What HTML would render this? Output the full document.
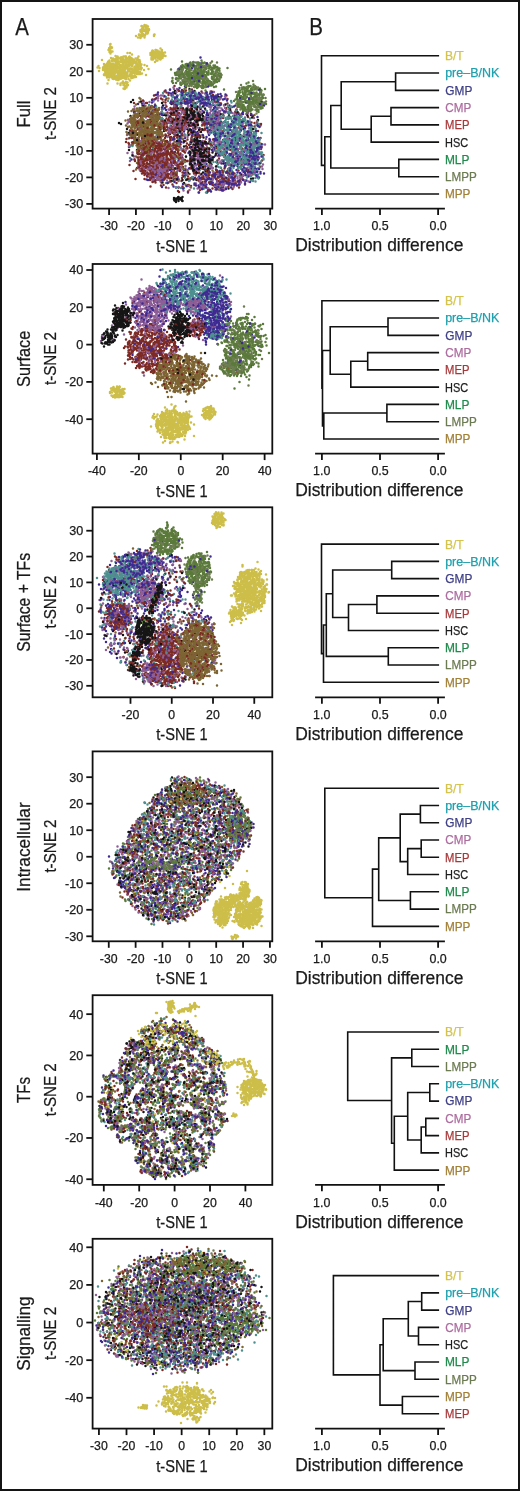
<!DOCTYPE html><html><head><meta charset="utf-8"><style>html,body{margin:0;padding:0;background:#fff;overflow:hidden;}svg{display:block;will-change:transform;}text{font-family:"Liberation Sans", sans-serif;}</style></head><body>
<svg width="520" height="1491" viewBox="0 0 520 1491">
<rect x="0" y="0" width="520" height="1491" fill="#fff"/>
<g fill="none" stroke-linecap="round" stroke-width="5.0" transform="scale(.5)">
<path stroke="#cdbe4a" d="M361 1580zm-13 21zm111 18zm-132-7zm50 71zm-62 10zm44 23zm-31 10zm58 6zm73 20zm-27 3zm-61 12zm-84 18zm71 12zm-9-4zm11 21zm3 264zm-79 21zm-14 10zm91 10zm-15-3zm-25-2zm-16 3zm14 10zm38 9zm-103 9zm109 3zm10 7zm-111 2zm147 9zm6-1zm-87 10zm-6 4zm-98-4zm-10 11zm168 1zm-32 12zm-46-4zm-64 6zm131 4zm39 10zm0 20zm-104 8zm78-1zm-8 38zm7 18zm-6-6zm-26 2zm38 18zm-36 9zm-1 15zm-70-2zm5 187zm117 19zm-52 18zm-65-2zm153 40zm-186-4zm200 11zm-188 23zm52 3zm57-3zm-160 13zm261 15zm-247 4zm86 28zm4 42zm83-8z"/>
<path stroke="#7d6433" d="M413 186zm-85 7zm-49 11zm48 0zm104 15zm-107 0zm-7-2zm-26-5zm-28 10zm84 6zm130-2zm-187 22zm81-6zm56 12zm-36-2zm-18 6zm-112 4zm96-1zm146 1zm-138 16zm-61-4zm-38 2zm56 12zm36-5zm61 0zm32-2zm-44 14zm-47-1zm-43 4zm-38 1zm161 6zm-16 10zm-1 2zm-82-4zm-63 14zm118-6zm26 2zm60-2zm33 16zm-122 2zm-85-7zm90 14zm63-3zm2 1zm41 1zm1 4zm-19 3zm-48 3zm-108-4zm107 28zm-3-4zm-45-5zm-123 727zm37 3zm8 15zm14 18zm-45 3zm-28-6zm-25 6zm102 6zm16 5zm-42 12zm-8 17zm-77 18zm84 6zm-59 19zm-19 10zm113 18zm75-7zm-66 13zm-107 0zm59 16zm108 0zm-32 1zm-124 7zm96 10zm-3 6zm-14 16zm20-3zm31 10zm-52-6zm8 13zm63 9zm-39 2zm-32-4zm16 17zm10 2zm4 10zm-44-4zm32 7zm49 197zm-53 2zm77 10zm-8 6zm-78 12zm0-8zm5 0zm31 3zm34-3zm24 3zm14 2zm35 12zm-18-2zm-56-4zm-26 5zm-8-1zm-79 9zm10 1zm14 2zm77 0zm1-2zm71 3zm-4 9zm-93 0zm-25-2zm-39 2zm-6 4zm7-2zm5 6zm15-4zm16 6zm103-5zm15 0zm1 0zm17-2zm22 17zm-22 0zm-8-4zm0 0zm-5 1zm-3 4zm-89-7zm-12 2zm-73 4zm-11 11zm76-5zm4-1zm3 0zm1 2zm41-3zm71-2zm-24 19zm-103-2zm-15 1zm-22 0zm-29-2zm6 6zm122 5zm86-2zm-30 8zm-22-3zm-3 4zm-11-1zm-54 3zm-13-6zm-57 7zm-18-4zm-18 0zm2 8zm98 7zm36-3zm84-3zm-27 8zm-65 0zm-20 5zm-52-1zm-12 2zm-4 13zm13-4zm24 4zm0-9zm26 0zm22 0zm18 0zm7 7zm9 2zm16 6zm-73 3zm-77 0zm-4-7zm-5 2zm-12 1zm-17 4zm-19 11zm18-5zm56 5zm17 0zm34-4zm61 0zm19 5zm-38 7zm-55-1zm-61 3zm-40-9zm-19 15zm103-2zm51-3zm59 8zm12-1zm0-4zm3 6zm-19 7zm-2 2zm-24-1zm-42-4zm-99-1zm-8 4zm-2 2zm22 11zm46-5zm0-2zm13 2zm38 0zm4-2zm12 7zm30-5zm3-4zm-5 16zm-15-3zm-13 0zm-8 4zm-44-1zm-39-5zm-13 7zm-15-7zm-21 3zm-11 11zm18-2zm10 5zm25-6zm34 3zm23 0zm4-5zm53 8zm-72 11zm-10-5zm-59 5zm-25-6zm100 13zm3-3zm39 1zm19 1zm-20 7zm-23 7zm-32-2zm-11 4zm12 6zm35-2zm5 11zm-48-3zm-4 7zm17 2zm18-2zm-39 209zm49 6zm-18 2zm-22 5zm3 1zm39 5zm13-6zm23 16zm-5 0zm-24-8zm-44 0zm-33 19zm72-9zm3 8zm32-3zm-19 6zm-11 0zm-115 7zm-2 1zm1 9zm52-2zm5-2zm9 1zm30-5zm23 9zm50 1zm-45 3zm-13 0zm-63 5zm-13-1zm-13-4zm-21-2zm53 15zm15-4zm4 6zm34 1zm1 0zm33-1zm0-7zm9 17zm-7 0zm-28 0zm-48-7zm-6 1zm-63-1zm75 12zm8 1zm76 0zm19 8zm-30 3zm-51-1zm-14 4zm-10 1zm-7 0zm-42 0zm-40-7zm15 14zm38-3zm15 3zm0-4zm12 3zm22 3zm43-5zm3-3zm30 7zm8-6zm27 3zm-58 14zm-9-4zm-36-4zm-4 7zm-23-3zm-11 4zm-50-6zm-9-2zm-19 13zm51 0zm45-2zm1-1zm15 5zm62-5zm48 1zm-68 11zm-35 3zm-3-4zm0 1zm-16 2zm-24-3zm-89 7zm-12 1zm13 2zm1 0zm123 5zm34-2zm40 3zm0-4zm28 1zm-54 9zm-2 1zm-61 5zm-18-1zm-14-4zm-16 4zm-50 1zm-30 2zm20 2zm78 2zm30-4zm31 6zm47-3zm31 0zm4 6zm0 4zm-56-4zm-10 3zm-14-1zm-13 5zm-104 0zm-3 0zm-15-5zm-7 9zm71 4zm2-5zm57 1zm0 6zm9 1zm9 0zm23-6zm16 3zm3 3zm37 2zm-150 6zm-10 2zm-3-3zm-15 1zm0 2zm-17-7zm24 11zm85 3zm81-4zm-74 14zm-13 3zm-45-2zm-7-2zm-33 2zm38 4zm4 0zm4 7zm16 1zm34 0zm15-3zm11-3zm-7 13zm-15-1zm-46 13zm35-2zm23 1zm19-4zm-25 13zm-9 3zm-20 0zm-3-3zm-4-2zm-15-2zm-34 0zm-9-1zm8 18zm7-5zm8 0zm27 0zm20 2zm2-1zm16 4zm19-6zm2 8zm-8 5zm-24 4zm-43-8zm-15 17zm12-6zm44 0zm62 156zm-6 19zm-24-2zm-22-3zm-16 5zm-57 4zm18-1zm83 6zm7-4zm53 3zm-8 6zm-87 0zm-1 4zm-33-2zm-3 6zm-80 6zm9-3zm5 5zm21-1zm15-2zm9 3zm41-6zm14 0zm22 7zm9-2zm12 0zm7-5zm6 4zm42 0zm27 3zm9 0zm-39 10zm-143 0zm-10-2zm-57 11zm7-5zm69 4zm16 0zm17 3zm5-5zm23 1zm43 4zm1-9zm43 3zm0 4zm43-4zm-52 14zm-36-7zm-4 0zm-17 2zm-33 7zm-27-6zm-26-1zm-1 7zm-20-7zm-8 6zm-64 11zm69-5zm15-3zm7 3zm5 5zm53-5zm19 2zm101 13zm-1-2zm-10 1zm-33-7zm-16 5zm-4-5zm-44 8zm-21-6zm-6-1zm-35 4zm-8-2zm-32 5zm-15-4zm-1-5zm-4 7zm-40 3zm22 7zm30-2zm9 3zm44-1zm1-6zm23 0zm59 2zm15-2zm27 4zm18-4zm18 7zm25-5zm7 8zm-74 2zm-40 5zm-4-7zm-10 1zm-14-1zm-24 4zm-20-2zm-9-2zm-29 0zm-11 8zm-32-6zm-23 13zm2 0zm37 3zm28-9zm52 2zm5 5zm26-3zm3 0zm30 3zm2 2zm15-5zm9 3zm60-6zm24 11zm-53 5zm-20-3zm-21 0zm-4-2zm-8-1zm-10 8zm-15-4zm-45-2zm-2-2zm-3 3zm-16 3zm-3 1zm-11 0zm-19 1zm-20-1zm-22-3zm-1-4zm0 4zm-33 9zm28 0zm19 5zm23-3zm56 1zm0 2zm7-7zm6-1zm11 7zm75-8zm31 8zm11 1zm7-7zm13 0zm12 13zm-19-3zm-33 7zm-25-6zm-3-1zm-16-2zm-18 6zm-8-5zm-15 0zm-36 7zm-47-2zm-1-5zm-6 5zm-79 4zm34 3zm15 1zm9-2zm56 5zm14-7zm7 5zm3 2zm26-3zm26-2zm10 3zm2 3zm73 7zm-50-5zm-26 2zm-23-2zm-12 2zm-11 1zm-32 6zm-24-2zm-1-5zm-32-2zm-51 5zm-2-5zm41 17zm3-6zm20 5zm37-5zm25 6zm1-2zm36-1zm1 0zm22-3zm9 0zm36 8zm16 0zm11-9zm-32 15zm-11-1zm-14 1zm-5 1zm-11-5zm-51 2zm-2 4zm-63-2zm-11-2zm-27-2zm-18 8zm74 1zm56 1zm42 1zm7 6zm14-7zm13 7zm-23 2zm-81 5zm-4 0zm-95-3zm62 17zm78-6zm-42 7z"/>
<path stroke="#5a7a3a" d="M346 1566zm4-2zm45 2zm18-1zm-41 10zm-4 4zm-13 8zm33-2zm7-1zm2 2zm62 3zm0 2zm-5 5zm-2-5zm-17 2zm-6 0zm0 4zm-21-7zm-15 2zm-20 3zm-9 2zm-50 2zm18 8zm12 2zm24-1zm48-3zm3 5zm-72 3zm-15-1zm-18-2zm22 19zm3-2zm19-6zm40-1zm21 0zm9 5zm51 6zm-3 3zm-8 2zm-17-4zm-24 7zm-52-6zm-35-3zm-21 5zm-27 3zm-1-3zm-7 2zm80 11zm14 0zm22-6zm91 5zm-34 4zm-10 2zm-16 6zm-106-2zm-6-4zm-16 1zm-44 15zm24-9zm19 6zm29 0zm125-6zm38 7zm2-2zm1-2zm3-1zm-1 17zm-86-3zm-19-1zm-4-4zm-28 0zm-8 6zm-42-1zm-26-1zm-1 1zm-3-6zm-8 1zm-1 8zm4 7zm17-3zm7 6zm0-4zm13 3zm13-4zm15 2zm7 0zm39 1zm61 1zm32-6zm-30 15zm-179 2zm-7-2zm19 6zm97 6zm24-5zm19 4zm22-4zm7-2zm12 12zm-15 1zm-16 1zm-23 2zm-3-2zm-38-3zm-13 4zm-46-3zm-88 10zm23 4zm38-8zm36 6zm3-6zm5 4zm31 0zm4 4zm18-1zm5-2zm28-1zm12 10zm-8-4zm-24 9zm-31-2zm-47-7zm-3 5zm-5 0zm-9-1zm-18 4zm-26-2zm-16 2zm-12 5zm24 0zm13 6zm1 0zm7-8zm19 1zm56-2zm0 5zm55-3zm27 6zm33-8zm-54 17zm-101-5zm-9 3zm-4 0zm-6 1zm34 10zm27 2zm18-6zm59 7zm4-9zm-32 17zm-7 0zm-22 1zm-12 0zm-31-2zm-12 3zm-18-2zm-44 2zm119 6zm2-1zm44 0zm3-4zm-14 12zm-73 5zm-2-3zm-1-4zm-65 2zm-14 10zm33 3zm90 0zm12 2zm21-7zm-83 11zm-6 5zm-12 1zm-30-3zm24 8zm53 4zm15-3zm-12 13zm-53 12zm33-5zm-27 204zm10-4zm22 13zm-14-2zm-28 0zm-17 10zm8-1zm28 0zm13 0zm5 3zm9 3zm0-9zm8 3zm4 1zm7 1zm1 0zm15-5zm8 12zm-82 5zm-8 1zm-6-4zm-14 9zm2 5zm14-2zm1 2zm2-2zm37-6zm31 0zm1 3zm41 9zm-58 2zm-17 4zm-24-5zm-34 4zm-4-5zm-7 2zm-11 10zm13-2zm22 4zm11 2zm6-8zm24 3zm11 2zm68 0zm11-4zm20 16zm-3-3zm-71 3zm-48-2zm-13 3zm-6 0zm-8-3zm-48 14zm10-6zm8 4zm8 1zm31-5zm30 3zm2-4zm0 1zm51-1zm60-1zm3 5zm-21 6zm-20 7zm-42-3zm-39 1zm-4 0zm-7-2zm-16 2zm-5 2zm-21-9zm-14 8zm-1 1zm-1 0zm-11 5zm3-1zm15-2zm10 8zm15 0zm31-1zm8-7zm2 7zm5-1zm57-1zm45 3zm12-1zm-18 5zm-36 4zm-4 2zm-16-5zm0 2zm-24 3zm-14-4zm-7 1zm0-2zm-52 0zm-5-2zm-8 4zm-4-5zm-7-1zm-11 4zm-18 1zm-3-3zm-9 6zm-2-4zm26 12zm23-2zm7 1zm28 1zm10-3zm35-2zm23 7zm10 1zm0 0zm5-8zm13 2zm10-1zm10 2zm27-3zm1 3zm8 13zm-7-4zm-13 6zm-18-6zm-1 2zm-11 0zm-16 3zm-9-3zm-23 3zm-19-3zm-6 3zm-20-7zm-4 0zm-42 2zm-31 11zm27-3zm8 2zm30 3zm3 1zm12-3zm19 0zm3 5zm17 0zm74 0zm11-3zm1 3zm-33 7zm-56 2zm-48-5zm-20 2zm-17 1zm-6-3zm-41 4zm-4 10zm8-4zm93 2zm2 4zm1-4zm33 0zm1-1zm14 5zm32-9zm2 8zm1 1zm4-5zm7-2zm2 6zm14-2zm6-6zm21 8zm-14 11zm-15-2zm-88 1zm-3-4zm-13-3zm-69 1zm-25 7zm0 2zm7 5zm39-3zm2 3zm35 2zm41-2zm14 2zm3-3zm1-3zm13 4zm30 1zm4 0zm2 2zm33-3zm-20 8zm-9 1zm-19 0zm-53 4zm-45-3zm-14 1zm-29-1zm-11-2zm-2 1zm-3 2zm-13-3zm-24-1zm16 7zm7 2zm5-2zm2 3zm34 5zm8-1zm2-5zm16 3zm22-5zm5 3zm10 4zm0-5zm8 3zm2 4zm11-5zm0 0zm12 5zm13-9zm33 7zm3-3zm36 9zm-4-3zm-30 8zm-41-1zm-17-7zm-9 0zm-1 0zm-10 5zm0-4zm-28 3zm-14-1zm-1 6zm-26-7zm-1 4zm-19 3zm-4-4zm-12-3zm-3 2zm16 10zm23 4zm10-8zm67 7zm13-4zm6 1zm15 4zm34-4zm2-3zm21 1zm-58 17zm-20-9zm-5 7zm-4-2zm-42 4zm-24-4zm-6-3zm-17 5zm-11 0zm2 3zm37 8zm5-3zm37-5zm2 3zm2 2zm13-5zm6 1zm24 2zm10 6zm45 0zm-25 10zm-11-1zm-7 0zm-3-6zm-4-2zm-64 1zm-31 5zm-7-6zm-3 1zm25 12zm2 0zm50-3zm0 4zm24 3zm9-5zm1 3zm22-3zm10 6zm-10 10zm-11 0zm-13-2zm-33 0zm-10-5zm-36 7zm-1-2zm-3 8zm47 3zm12-6zm14-1zm1 0zm6 2zm16-2zm18 6zm-20 9zm-2 3zm-6-3zm-34 2zm-13-2zm-53 0zm14 5zm6 4zm11-2zm3 1zm41 5zm-27 10zm123 161zm-43-1zm-9-5zm-67 5zm-38-1zm-29 11zm18 1zm0-5zm12 3zm11-3zm94 2zm18-1zm0-5zm1 4zm32-3zm23 8zm5-3zm-8 9zm-57 2zm-23-2zm-13 1zm-4 2zm-4-6zm-51 6zm15 11zm5 0zm4-8zm25 7zm2-7zm2 8zm30-1zm4-4zm3 3zm35 1zm19-5zm23 6zm10 8zm-28-3zm-4 4zm-3-6zm-13 4zm-16 3zm-8-4zm-22-4zm-1 0zm-10 2zm-7 3zm-18-3zm-14 2zm-4 0zm-15-1zm-25 3zm-31-6zm-13 0zm-11 1zm-9 0zm-1 1zm-28 7zm12 2zm112 7zm8-5zm0-4zm24 0zm6 9zm7 0zm17-7zm15 7zm2 0zm0-8zm31 6zm29 4zm-24 2zm-21 4zm-12-2zm-12 4zm-60-9zm-1 5zm-1 3zm-2-7zm-15 8zm-13-7zm-18 0zm-4 6zm-3-3zm-31 3zm-42-6zm18 9zm13 8zm11-7zm2 2zm23 3zm5-6zm20 4zm40 2zm10-2zm10-1zm13 1zm5-3zm10-1zm9 7zm13 1zm75-6zm-27 8zm-55 7zm-9-6zm-12 2zm-1 3zm-12-7zm-2 3zm-29 2zm-3-4zm-6 5zm-11-3zm-10 2zm-14 4zm-78-5zm-19 12zm9 3zm26-5zm22-3zm3-1zm20 3zm18 2zm2 0zm13 4zm27-7zm19 3zm46 3zm14-6zm1 3zm12 0zm3 2zm1-2zm10 1zm53 13zm-57-9zm-42 8zm-1-6zm-2 4zm-25 2zm0-8zm-3 1zm-29-1zm-1 4zm-8-3zm-9 5zm-34-1zm-32 1zm-2 2zm-3-8zm-15 0zm-28 4zm-26 12zm15-2zm6-2zm11-2zm2 3zm24 4zm12-1zm28 0zm29-2zm19 0zm12-1zm1-3zm1 8zm2 1zm8-9zm39 4zm12-3zm73 4zm5-5zm7 9zm2-9zm5 6zm7 3zm-68 2zm-4 1zm-2 7zm-11-5zm-9-1zm-25-3zm-1 4zm-7 2zm-1-2zm-8-4zm-22 0zm-33 5zm-3-2zm-7 4zm-4-5zm-1-2zm-47 0zm-49 18zm33-1zm4-4zm0 5zm28-1zm18 0zm36-3zm12 2zm10-2zm1-2zm11 2zm1-2zm35 4zm18-3zm5-1zm16 3zm1-1zm75-1zm-35 16zm-25-2zm0-6zm-25 6zm-27-6zm-15 5zm-37-4zm-6 5zm-15-6zm-21-1zm0 3zm-2 4zm-28-4zm-11 6zm-16-8zm-2 7zm-27-4zm-24-2zm-5 8zm58 4zm46 4zm1-2zm50 0zm5-5zm7 2zm15-3zm5 8zm19-3zm5-5zm18 6zm19 3zm4-8zm18 2zm2-1zm8 3zm5 2zm16-3zm36-4zm-75 14zm-19 2zm-21 1zm-7-6zm-72 5zm-33-5zm-8 0zm-8 5zm-21-1zm-4 3zm-10 0zm-6 0zm-2-1zm-12-5zm-1 1zm-15-1zm13 16zm87-5zm20 6zm1-2zm30-1zm28-1zm4 2zm20 1zm30-1zm1-2zm23 11zm-2 2zm-16-6zm-2-2zm-15 1zm-37-1zm-27 7zm-38-2zm-33 4zm0-3zm-29 1zm-28 11zm22-7zm5 6zm3-5zm7 1zm3-3zm54 7zm8-7zm1 9zm58 0zm48-7zm4-2zm3 1zm-78 13zm-36 4zm-15-3zm-24 2zm-21-1zm-38 2zm45 4zm10-1zm19 5zm2 1zm3-1zm19-4zm68 1zm-35 14z"/>
<path stroke="#6e7c52" d="M399 1574zm8 14zm-23 20zm72-5zm-146 23zm181 12zm-28-5zm-22 13zm12 4zm-14 0zm-55 17zm6-2zm39 2zm40 6zm-5 1zm-205 4zm47 5zm46-1zm46 15zm-2 0zm-35 2zm-88-3zm-1 7zm71 4zm10-4zm-51 19zm110 6zm-149 2zm-21 1zm106 27zm-51-6zm-39 1zm44 15zm104-7zm10 1zm11 16zm-15-5zm-14 10zm-115 21zm114 7zm-107 0zm85 10zm-46 216zm-25 7zm2 17zm1 5zm59 3zm-59 3zm-25 14zm8-5zm9 4zm1 1zm71-6zm25 5zm10-1zm-131 6zm-2 18zm5 1zm133-1zm15-3zm-125 11zm-21-4zm-6-1zm-28 13zm99-2zm66 1zm26 14zm-171-4zm11 13zm8 0zm45-2zm66 2zm-69 13zm-21-1zm-5-3zm-3-5zm-51 5zm-8-2zm95 14zm13 2zm35-6zm18 1zm22-2zm2 3zm9 12zm-9-1zm-9 3zm-65-9zm-136 3zm37 11zm49-1zm38 5zm88-1zm19-4zm-60 9zm-24 1zm-12-2zm-63 6zm-12-5zm-70 12zm137 0zm10-4zm44 2zm-8 11zm-144 6zm-23 6zm42-1zm156 5zm-2 6zm-209 3zm-9-6zm79 12zm58 5zm48-1zm45 1zm-59 2zm-30 2zm-36 3zm4 13zm42-8zm50 13zm-111-3zm3 11zm129 12zm-53-3zm-14 7zm-22 8zm-33 5zm-15 6zm13 11zm92 10zm-35-1zm-48-1zm28 171zm53 0zm41-6zm-53 23zm43 1zm-1 11zm-154-3zm112 10zm105 4zm-232 11zm235 20zm-187-7zm132 17zm38 2zm-4 1zm-57 0zm-3 0zm-52 3zm-98-2zm18 15zm206-6zm-275 25zm29 1zm59 2zm20-7zm30 4zm9 2zm138-6zm-53 13zm-124-5zm-79 11zm26 7zm99-1zm62 11zm-28-1zm-1 0zm-167 2zm157 8zm-62 10zm-88 3zm96 6zm76 1zm39-1zm20 9zm-40-3zm-52 3zm25 11zm-36 13zm-34-9zm-11 16zm79-6z"/>
<path stroke="#7e2a24" d="M384 179zm-69 10zm18-4zm18 2zm16-5zm59 2zm27 7zm-14 8zm-69-1zm-1-5zm-36 4zm-11 0zm-17 2zm-37 7zm24 0zm52-1zm63-5zm1 4zm31 2zm3 3zm13-2zm-3 9zm-103-4zm0-2zm-2 6zm-48 1zm-4 11zm32 0zm42-1zm93-2zm11 2zm13 12zm-26-5zm-14 2zm-9 3zm-6-2zm-44-7zm-16 1zm-46 7zm-20-7zm-14 0zm-23 1zm16 13zm56-1zm33-4zm21 1zm17 1zm22 5zm24 2zm22-1zm42 3zm-12 2zm-17-2zm-4 2zm-46 2zm-29-5zm-30 1zm-29 0zm-12 1zm-3 5zm-17-7zm-42 5zm-20 14zm17 0zm4-1zm15-4zm1-3zm23 0zm20 2zm75-2zm8 1zm6 4zm76 6zm-25 4zm-8-3zm-142 3zm-14-1zm-26-2zm-22 4zm-15 1zm4 8zm1 2zm22-1zm81 2zm1-5zm6-2zm3 0zm14-2zm8 3zm13 5zm3-5zm20 0zm20-2zm26 7zm39-1zm1-4zm7 15zm-38-1zm-44-5zm-66 2zm-7 5zm-17-8zm-54 0zm-13 17zm14-4zm12-4zm9 8zm2-7zm20 7zm4-5zm26 2zm48 2zm10-7zm21 8zm16-3zm7 3zm35-8zm6 5zm3-5zm-71 10zm-7 7zm-20 0zm-7-6zm0 2zm-30 4zm-95-6zm44 18zm17-6zm33 3zm16 2zm49-7zm9 6zm8 2zm12-9zm2 0zm28 8zm10 0zm7-2zm-38 4zm-24 6zm-38 1zm-80 1zm-1-7zm-31 11zm56 3zm2 0zm4 0zm19-1zm6 2zm2-1zm15 3zm19-2zm37 1zm8-6zm16 1zm-11 9zm-38 0zm-19 4zm-13 4zm-3 0zm-25-4zm-15-3zm-22 0zm-13-2zm-26 3zm29 12zm10-4zm16 1zm27 7zm49-7zm0 5zm14-4zm37 6zm-82 3zm-119 213zm-1 18zm33 11zm-17 2zm18 42zm-5 1zm-20-3zm-2 1zm-3 0zm-31 11zm14-1zm2-3zm6 0zm0 3zm2-7zm0 1zm3-1zm10 3zm1 2zm10 4zm2-7zm7 6zm0-7zm2 0zm1 6zm1 1zm1 1zm4-2zm2-7zm15 15zm-1-3zm-5 3zm-5-1zm0-1zm-5 0zm0 5zm-7-7zm-2 3zm-3 2zm-11 2zm-7-5zm-2-2zm0-1zm-5 8zm0 0zm-5-1zm-1 0zm-1 1zm-6 0zm-9-4zm-17 5zm6 7zm7 0zm1 0zm17-6zm1 3zm11 6zm1 0zm1-4zm2 3zm2-4zm9 5zm0-5zm0 4zm4-1zm4-4zm2 1zm1-1zm0 1zm5-3zm2 6zm0-1zm1-4zm1 2zm5 5zm2-7zm13 3zm0 2zm3 11zm-1-3zm-2 3zm-2-7zm-15 1zm-11 3zm-5-2zm-21 5zm-1 1zm-1-9zm-3 2zm-1 2zm-3-3zm0 6zm-20-5zm0 4zm-10 5zm2 5zm6 0zm9-5zm8 5zm9-2zm0 4zm9-8zm1 4zm6-3zm0-1zm0 4zm0-2zm0 0zm2 0zm1-2zm1 0zm1 9zm1-1zm4-3zm0-1zm1 1zm3-1zm1 1zm3 1zm3-5zm11 6zm5-2zm9-3zm-3 11zm-7 3zm-8 2zm-1-7zm0 2zm-2-1zm0 6zm-1-2zm-4-2zm-2-3zm-1-1zm0 8zm-13-8zm-1 2zm0 4zm-9 2zm-2-5zm-5 3zm-3-2zm-2-1zm-10 0zm0 0zm-1 4zm-1 0zm-1-1zm-4-2zm-8 2zm-8 3zm9 5zm7-4zm4 2zm2 4zm6 0zm10 0zm1 0zm8-4zm1 1zm0 5zm5-1zm0 0zm5 1zm14-7zm1 6zm10-7zm15 1zm0 3zm-21 9zm-2 0zm-13-1zm-2-2zm0 3zm-2 6zm-9-9zm-9 8zm-12-5zm-7 0zm0-3zm15 10zm1 1zm16 0zm0 1zm-14 359zm-2 9zm-51 13zm60-1zm57 9zm-36 6zm-9-6zm-84 6zm-12 3zm35 0zm96 19zm-37-2zm-16-2zm-17 0zm-63 5zm71 6zm19-6zm-10 12zm-6 6zm-1-8zm-6 5zm-6 1zm-63 4zm21 0zm41 1zm6 5zm10-2zm2-1zm12 4zm16-3zm1 12zm-5-4zm-13 3zm-1 3zm-5-5zm-2-2zm-73 18zm9-8zm2 0zm1-1zm5 7zm32-1zm14-4zm13 4zm5-3zm93 14zm-100-6zm-22 4zm0 1zm-13-4zm-7 2zm-2 2zm-2 1zm-1 1zm-6-8zm-3 9zm-1-7zm0 4zm-1-4zm-18-2zm-19 1zm-5 12zm12 6zm4-1zm2-6zm3 1zm0 2zm2 2zm4-3zm1-2zm2 4zm14-2zm5 1zm1-5zm0 0zm4 8zm2-7zm1 8zm8-3zm72-3zm83 14zm-58 2zm-26-3zm-7 1zm-7 2zm-11-2zm-4 1zm-14-1zm-28-5zm-11 5zm-10 1zm-2-1zm-2-4zm0 3zm-1-5zm-5 4zm0 2zm-5-4zm-3-2zm-3 14zm3-4zm5 4zm4 0zm8 0zm1-5zm1 9zm0-6zm0 1zm5-3zm0 8zm2-4zm8 1zm22-6zm5 4zm71 1zm11-3zm11 5zm8-4zm26 6zm1-7zm1 6zm10 7zm-31 2zm-48-2zm-3 4zm-2-1zm0-3zm-9-3zm-1 3zm-2 2zm-1 1zm-1-8zm-19 5zm-17 0zm-33-5zm-22 8zm-6-4zm-1 1zm-4-4zm4 9zm25 2zm10-2zm14 9zm34-7zm15 4zm5-4zm4 6zm12 1zm6 0zm40 10zm-35 0zm0-5zm-2 3zm-1-1zm-3 1zm-8 0zm0-3zm-7-3zm-5 8zm-8-8zm-14-1zm-2 8zm-5 0zm-3-5zm-40 0zm-2 9zm9 6zm2-6zm15 7zm15-1zm3 0zm3 1zm0-5zm6-3zm5 1zm0 3zm2-1zm1 1zm1-4zm1 2zm0 3zm2 1zm1-6zm2 2zm5 4zm0-1zm2-6zm1 8zm3-5zm5-2zm2 8zm1 0zm1-3zm5-4zm7 4zm1-5zm31 0zm-24 17zm-1-6zm-8 5zm-4-3zm-1 0zm-2 3zm-1-6zm-2 0zm-2 2zm-6 3zm-3-1zm0-1zm-7 0zm-3 3zm-2 2zm-3-3zm0 1zm-5 2zm0-4zm-2 4zm-3-8zm-2 5zm-6 1zm-4-6zm-2 6zm-2 1zm-3-2zm-49-6zm6 10zm49 1zm0 4zm3 2zm0-1zm2-6zm2 4zm0 3zm4-2zm13-3zm1 5zm1 0zm4-1zm2-1zm3 3zm0-7zm1 2zm5-1zm6 3zm13 1zm3-1zm0 2zm11-1zm61 2zm-54 8zm-17-5zm-17-1zm-3 4zm-8 4zm-1 1zm-2-3zm0-4zm-3 6zm-2 1zm-4-7zm-1 2zm-4-1zm-5 1zm-10-2zm0 0zm-55 2zm-5 10zm48-1zm13 1zm0-1zm1-3zm5 1zm13 7zm5-6zm2 0zm1-2zm4 0zm3 8zm1-6zm1 7zm2-7zm4 7zm3-7zm6 6zm2-2zm4 1zm7-7zm7 1zm7 5zm1 0zm7 3zm-26 10zm-1-3zm-2-6zm-4 7zm-4-1zm-5-2zm0-4zm-2 6zm-12-2zm-2-2zm-2-2zm-11 3zm-5-2zm-2-1zm-4 3zm-5 2zm-22-4zm-24 9zm50 2zm2 1zm2 4zm1-3zm3 3zm0 0zm6 2zm3-6zm2 5zm10-2zm1-1zm8 2zm4-7zm0 8zm2-5zm1 4zm2 0zm6 2zm-3 5zm-8 5zm-1-2zm-3-3zm-7-1zm0-1zm-2 6zm-6-3zm-4-1zm-1 4zm-12-6zm-1 2zm0-1zm-1 0zm-2 2zm-7 10zm16-5zm4 5zm5 2zm3-3zm1-3zm0 6zm0-2zm0-4zm8-1zm3 0zm3 6zm6-2zm1-4zm14 1zm-15 15zm-13-5zm13 196zm16 0zm14-2zm40 4zm29 10zm-19-4zm-4 4zm-7-1zm-9-1zm-32-6zm-16 6zm-28 3zm19 8zm58-7zm37 1zm0-2zm9 14zm-33-3zm-8 1zm-64 3zm-36 4zm41 6zm114 4zm7 6zm-58-2zm-15-3zm-64 5zm-21 5zm7 7zm5 2zm19-9zm45 3zm2-1zm99 14zm-60-5zm-3 0zm-23 4zm-13 3zm-13-4zm-19-2zm-24-2zm-13 4zm-3-2zm-45 16zm30-2zm79-1zm27-5zm36 5zm45 3zm-20 5zm-11-1zm-89 7zm-47-3zm-22-2zm-10-1zm-20 5zm-5-1zm27 10zm36 2zm1-9zm25 8zm8-4zm117 6zm-1 5zm-7 3zm-11-1zm-7-4zm-11 3zm-24-5zm-32 5zm-32-4zm-94-1zm-4 4zm18 8zm9 0zm4 1zm3-1zm9 4zm44-2zm23 1zm6-1zm22-3zm74-2zm5 2zm-38 12zm-1 0zm-10-3zm-25-1zm-2 6zm-33 2zm-7-6zm-51 0zm-1 5zm-3-2zm0-3zm-2-2zm-21 9zm-1-2zm-32 3zm143 9zm18-7zm62 12zm-43 1zm-63-4zm-115-1zm-13 18zm5 0zm32-6zm42-2zm20 2zm5 6zm30-6zm11 3zm25-1zm7-3zm40 10zm-46 4zm-20-1zm-8 5zm-13 0zm-17-5zm-15 5zm-4-8zm0 5zm-11 0zm-1 0zm-2-6zm-6 6zm-10 1zm-2 2zm-5 0zm-9-9zm-19 2zm-23 3zm-12 8zm6 6zm40-6zm3-1zm8 2zm14-3zm41 6zm72-1zm2-4zm0 11zm-9 0zm-15 6zm-11-6zm-26 3zm-9-1zm-21-1zm-34-1zm-23 4zm-9-1zm-20-5zm-2 4zm-8 14zm68-5zm23-2zm19 7zm46-3zm8-2zm23 4zm8-6zm-73 10zm-5-2zm-4 5zm-53 4zm-40 0zm-2 10zm2-9zm20 9zm22-7zm3 4zm46 1zm3 0zm57-4zm-18 8zm-11 7zm-50-6zm-22 4zm-18-2zm-2 0zm-6 3zm-2 0zm-7 0zm-27-2zm40 14zm20-3zm43-5zm6 2zm46-3zm-30 14zm-2-3zm-3 1zm-45 6zm-30-4zm-16-2zm9 13zm18 4zm1-2zm4-7zm15 2zm0-2zm44 6zm17-3zm-55 7zm-21 9zm-9-6zm29 7zm10 7zm-14 194zm32 12zm-14 6zm-11-5zm-16 10zm3 1zm19-5zm6 8zm17-1zm46 9zm-3 2zm-17-8zm-1 2zm-35 3zm-54 3zm-3-1zm-30 12zm4-6zm4 0zm32 5zm94 3zm-6-1zm-39 9zm-68 7zm61-6zm24 7zm4 0zm36-2zm-95 13zm-17 9zm46-5zm34 0zm47 3zm5 0zm4-1zm-24 11zm-5 4zm-42-9zm-90 8zm-16-6zm10 8zm24 8zm5-8zm16 6zm3-4zm9 4zm5-2zm24 4zm18 0zm46-2zm-21 13zm-14-2zm-85-5zm-18 3zm-63-1zm-1 0zm28 13zm9-4zm58 1zm7-1zm22 3zm47 1zm8-5zm35 2zm17 2zm-12 12zm-8-6zm-14 1zm-174 8zm123 2zm43 4zm32-3zm14 7zm-45 7zm-7 0zm-3 1zm-20-6zm-87 2zm-67 0zm-14 10zm7 4zm63-3zm2 0zm0 2zm13-3zm2-2zm4 2zm7-1zm31-3zm5 8zm51-1zm7 8zm-12-6zm-43 0zm0 1zm-103 14zm36 1zm9-6zm32 1zm33 1zm6 1zm13 5zm45 0zm5 0zm-3 9zm-18-5zm-18 0zm-6 1zm-1 3zm-17 1zm-56-3zm-69 11zm4-3zm35-1zm27 4zm17-1zm38 0zm55-4zm40 4zm-16 15zm-18-1zm-1-7zm-56 2zm-53 2zm-14 1zm-33-2zm-9 2zm-2 0zm-13-2zm-7 5zm59 10zm9-7zm1 6zm7-6zm59 2zm7-4zm22 2zm29 5zm-64 10zm-48-6zm-28 0zm-21 5zm-18-4zm49 8zm40 4zm47-3zm-46 13zm-40-2zm43 13zm4-3zm47 0zm47 1zm-38 15zm-3-5zm-4-1zm-80 4zm-17 0zm-4 1zm-2 4zm53 6zm51-5zm11 11zm-87 6zm-8-7zm-18 8zm20 7zm18-6zm10 7zm2-2zm32 6zm-53 0zm119 155zm-42 5zm-55 0zm-64 8zm22 2zm11-2zm29 5zm52-1zm34-2zm3-1zm45 18zm-18-9zm-38 6zm-68-2zm-1 2zm-51-6zm-31 2zm-13 11zm5-3zm29 5zm14-1zm86 4zm41-5zm8-2zm29 8zm6-8zm32 12zm-17-2zm-29 1zm-50-1zm-21 7zm-2-6zm-17 7zm-35-5zm-53 0zm-11 0zm-7 1zm-13 3zm1 8zm62-4zm5 6zm1-3zm19-2zm7 0zm48-3zm42 7zm36 10zm-14-5zm-38 4zm-7-5zm-5 7zm-16-1zm-7-5zm-15-1zm-67 1zm-61 8zm30 3zm44 4zm14-6zm16 4zm46 0zm13-4zm7 5zm8 0zm18-4zm7 4zm9-3zm-9 9zm-33 2zm-26-1zm-3 2zm-7-5zm-1 2zm-9 2zm-43-2zm-59-1zm8 16zm6 2zm4-4zm2-2zm11-3zm5 6zm90-5zm6 0zm8 3zm11 0zm0 3zm5-3zm9 4zm0-7zm20 4zm23-2zm51 11zm-26 2zm-34-2zm-2 3zm-3 1zm-9-1zm-1-6zm-28-1zm-2 0zm-1 5zm-3 1zm-28-6zm-13 5zm-6 3zm-7-5zm-6 1zm-27 1zm-92-4zm-3 17zm4-6zm5 0zm21 1zm4 4zm17-4zm72-3zm1 4zm10-3zm2-1zm12 2zm2 1zm74-2zm16-1zm7 0zm8 1zm47 17zm-21-7zm-6 0zm-22 1zm-44-1zm-3-1zm-25 3zm-5 1zm-14-4zm-38 6zm-15-2zm-9 3zm-1 1zm-30-6zm-2 6zm-2-8zm-82 17zm10-7zm22 9zm29-1zm45-1zm9-3zm22 3zm17-2zm1 1zm1 0zm14-5zm7 2zm3 0zm11-1zm2 3zm63 2zm58 4zm-3-1zm-16 8zm-5-8zm-32 7zm-36-4zm-2-1zm-13 2zm-13 1zm-18 0zm-32-4zm-2 8zm-19-2zm-8-1zm-10-3zm-2 0zm-9 4zm-9-6zm-3 4zm-6 1zm-46 0zm-4 7zm33-1zm26-2zm59 4zm11 3zm0-1zm1 2zm14-1zm7-7zm8 8zm0-5zm4 6zm13-2zm3-5zm6-1zm23 4zm35 11zm-40-1zm-10 2zm-26-4zm-48 1zm-3-2zm-6 3zm-11-2zm-4-3zm-44 8zm-10-2zm-55-1zm-15-3zm59 15zm1-5zm30 5zm33-2zm43 4zm3-3zm7-2zm3 2zm22-1zm7 2zm16-5zm10 4zm6 0zm23-6zm4 2zm2 17zm-100-1zm-3-5zm-5 6zm-24 0zm-22-1zm-5-2zm-6-1zm-76-5zm139 16zm73 0zm-47 6zm-1-1zm-11 0zm-5 5zm-14 0zm-53 1zm-13-1zm-10-4zm-31 5zm-11-2zm52 11zm22 1zm81-3zm12-4zm20 8zm-65 4zm29 13z"/>
<path stroke="#8e5e96" d="M354 178zm-6 0zm-10 8zm2-6zm6 9zm2-4zm44 3zm13-2zm7 3zm-30 10zm-30-3zm-65 7zm12 1zm8-1zm71 0zm53 2zm48 9zm-29 2zm-1-6zm-14 8zm-44 0zm-15-6zm-13 0zm-32-2zm-13 8zm-27 5zm40 4zm38 2zm42-9zm29 2zm6 6zm3-3zm2 0zm43 1zm2 0zm-63 5zm-76 2zm-33-3zm-32 5zm-37 12zm37-4zm31-1zm22-2zm21 5zm23 3zm18-8zm1 8zm0-1zm5-6zm67 8zm34-3zm7 3zm-129 1zm-7 1zm-21 6zm-23-5zm-62 6zm28 8zm11-2zm29 2zm62-6zm37 7zm25-3zm23 0zm18 0zm-40 13zm-12-6zm-2 1zm-5 5zm-4-5zm-65-1zm-1 5zm-23-3zm-3 1zm-13 2zm-19-4zm-39 7zm-2-3zm-19 13zm5-4zm41 2zm4-2zm23 0zm67-3zm16 6zm66-4zm43 5zm-9 8zm-63 2zm-24-7zm-3-1zm-18-1zm-13 8zm-3-4zm-84 0zm-18 5zm-34-8zm-6 15zm10-1zm0 4zm128-4zm39 4zm6-9zm42 9zm11-7zm25 7zm-9 9zm-11-1zm-11 2zm-68-7zm-5 4zm-12-1zm-8 3zm-43 0zm-15-6zm-15 3zm-3-3zm-1 1zm-30 3zm-3 1zm0-4zm-13 6zm-1-6zm-8 9zm47 1zm25 6zm14-5zm63 3zm57-7zm43 15zm-13-5zm-1 6zm0-6zm-34 9zm-27-7zm-47 0zm-16 5zm-78-7zm-6 1zm-3 2zm9 15zm7-8zm48 3zm27 0zm15 3zm22 3zm2-1zm43-8zm43 10zm-13 1zm-18 5zm-42-3zm-1 0zm-24 6zm-16-5zm-21-3zm-70 3zm62 8zm35 5zm66 2zm3-6zm9-2zm-2 11zm-51 5zm-22 0zm-58-1zm42 4zm18 5zm51-5zm-8 171zm-17 28zm0-5zm-115 2zm-5 2zm-4-2zm-6 1zm-14 12zm8-1zm2 1zm5-4zm2-2zm1-3zm7 5zm7-5zm1 8zm7-6zm6 3zm108 10zm-82 0zm-5-3zm-9 1zm-7 3zm-12-2zm-1-2zm-4 5zm-1 2zm0-9zm0 6zm-3-4zm-2 3zm0-2zm-6 4zm0-6zm-9 6zm-4-2zm-2 1zm-5-3zm-5-2zm-1 6zm-14-2zm7 5zm6 8zm2-2zm0 1zm3-4zm6 3zm3-5zm1 7zm0 0zm2-6zm3 0zm0 3zm6-1zm3-3zm5 1zm0-2zm1 2zm9-1zm1 3zm1-2zm0 1zm3-3zm2 2zm2-2zm1 7zm1-1zm1-5zm1 8zm2-6zm2 6zm0 0zm4-7zm1 3zm1 3zm5-5zm4 0zm5-1zm0 5zm6 2zm91 0zm2 0zm-2 9zm-1 1zm-5 0zm-25-9zm-59 8zm-4-5zm-4 1zm-9 1zm0-5zm-6 0zm-7 7zm-6 1zm-1-8zm-1 9zm-5 0zm0-7zm0-2zm-1 2zm-1 0zm-2 1zm-1 3zm-2 0zm0 1zm-8-7zm-3 8zm-2-6zm-1 5zm0 2zm-1-4zm-3 3zm-1-5zm-6-2zm-2 7zm-11-4zm-7 3zm3 3zm3 7zm2 0zm6-6zm12 7zm1-5zm9 2zm3-5zm3 2zm1 0zm6 2zm4 1zm1-3zm3 5zm2-7zm3 1zm0 2zm1 6zm3-6zm0 0zm1 1zm1-4zm7 0zm10 7zm110 6zm-56-1zm-85 3zm-3 3zm-1 1zm0-7zm-8 0zm0 3zm-7-5zm-9 6zm-1-5zm0 6zm-3-6zm-14 2zm-17-1zm27 10zm3 4zm5 0zm5-4zm6 7zm1-7zm4 4zm2-2zm0 4zm1-8zm13 2zm3 2zm0 3zm13 0zm70-6zm17-1zm27 13zm-5-3zm0 2zm-8 2zm-11-1zm-9-3zm-15 2zm-90 4zm-4 1zm-20-7zm-7 0zm-10 1zm-1 9zm15 1zm19 3zm0 1zm3 1zm6-3zm1-1zm3 6zm3 7zm-33-4zm-24 0zm-1 8zm62 6zm37 6zm-53 0zm-10 4zm-14-3zm-9-2zm-7 7zm21 6zm58 1zm-5 6zm-8 5zm-48 1zm6 9zm25-4zm-37 24zm-28 360zm3 3zm100 10zm-10-1zm-23 0zm-13-2zm-39-1zm-6 2zm-7 3zm-5-3zm-34 6zm12-2zm6 7zm16 0zm8 0zm38 0zm12 1zm5-4zm-7 8zm-25 1zm-5 4zm-3-3zm-6 2zm-6-1zm-13-3zm-4 11zm15 3zm13-6zm23 9zm11-7zm26 7zm21 5zm-36 3zm-31-4zm-10 1zm-29-3zm-1 6zm-10-2zm-15-2zm0 6zm-20-1zm6 6zm1 1zm17 0zm2 1zm1 2zm40 0zm6-1zm10-1zm4 0zm5 2zm18 0zm51 8zm-9-1zm-37-4zm-2 4zm-5-4zm0 6zm0 2zm-8-9zm-2 6zm-14-1zm-1 0zm-2-3zm-9 4zm-3-2zm-23 5zm-35-6zm-2 15zm15 0zm10-6zm32-1zm12 0zm0 2zm7 5zm4 1zm3-4zm2 0zm12 4zm4-2zm1-6zm3 0zm1 5zm0-2zm4 1zm12 12zm-3 1zm-13-4zm-3 4zm-6-4zm-8 2zm-2 1zm0-6zm-1 6zm-12-4zm0-2zm-1 0zm-3 3zm-3 5zm0-5zm-3 0zm0-4zm-4 4zm-47 0zm-31 6zm59 8zm24-8zm3 3zm2 4zm4-3zm12-2zm6 6zm2-1zm4-7zm0 5zm21 7zm-25 4zm-17-3zm-10 4zm-2-4zm-16 3zm-8-5zm-6 5zm-1-2zm-8 1zm-3 2zm-8-5zm-11-1zm-8 1zm18 10zm2 5zm6 2zm11-8zm6 3zm2 1zm81 3zm47-4zm17 11zm-32 1zm-6-2zm-17 0zm-9 3zm-60-1zm-33-3zm-34 16zm6-1zm21-3zm14-1zm9 2zm25 3zm40-1zm20-5zm59-1zm17 13zm-38 4zm-76-2zm0 0zm-60 1zm-15-5zm-1 4zm-24 0zm-4 3zm10 8zm22-8zm1 7zm40-5zm10 4zm35 2zm19 1zm4 0zm2-3zm8-5zm21 4zm25 14zm-47-8zm-4 8zm-13-2zm-2-5zm-3-1zm-7 3zm-27 5zm-59 0zm-20 10zm98-1zm39 0zm33-5zm27 6zm12-9zm-1 11zm-20 6zm-46-6zm-15-1zm-10 2zm-16 2zm-5 2zm-1 0zm-84 11zm71-1zm28-5zm5 5zm1-6zm15 0zm4 3zm3 1zm6 0zm17 5zm4-2zm24 9zm-7-1zm-16-3zm-30 4zm-13-1zm-3-2zm-1 0zm-7 4zm-16-6zm-16-1zm-21 2zm-15 1zm-13 11zm39 3zm10 1zm31-3zm18-1zm0 0zm5 5zm25-6zm32-2zm19 0zm-32 14zm-43 1zm-9 0zm-27 0zm-8 3zm-43 0zm2 9zm22-7zm8 6zm39 1zm5-3zm51 2zm-32 8zm-28-3zm-15-2zm-48 8zm78 2zm-12 11zm78 187zm-62 1zm0 7zm21-3zm81 15zm-1 1zm-15-2zm-13-4zm-12 0zm-61-2zm-30 10zm21 8zm66-9zm31 3zm-8 16zm-8-1zm-28-6zm0 0zm-79 4zm7 5zm72 3zm3-2zm6-2zm5 1zm25 2zm30-1zm11 5zm5 7zm-8-3zm-12 5zm-9 1zm-15 2zm-75-4zm0 2zm-3-4zm-1-2zm-10 8zm-23-7zm-14-2zm-13 14zm5 0zm0-2zm46 2zm58 5zm6 0zm1-8zm2 8zm78-4zm-6 7zm-19 4zm-4 3zm-2-4zm-28 4zm-29-7zm-11-1zm-3-1zm-6 6zm-94-4zm23 10zm26 6zm33-5zm2 2zm8 0zm7 3zm43-2zm22-5zm6 1zm19 0zm21 13zm-31 0zm-7-1zm-27-4zm-84 4zm-12 3zm-28-7zm-18 9zm-1-1zm-25-4zm-1 11zm33-4zm3 0zm5 6zm4-2zm129 0zm20 0zm12-4zm9 15zm-9 3zm-39-7zm-107 7zm-68-7zm-8 10zm50-2zm31 6zm21-1zm6-1zm42-1zm0 6zm5-4zm1-2zm1-2zm3 4zm2-5zm4 4zm16 3zm2 2zm26-5zm9 12zm-35 2zm-30-3zm-26-4zm-33 6zm-12-4zm-1 3zm-53-1zm-6-4zm-5 0zm-16 1zm-24 14zm17-3zm14 6zm6-3zm2 3zm20-9zm91 8zm24-7zm10 4zm7 4zm28-5zm24 1zm3 3zm-3 3zm-3 2zm-7 5zm-26 1zm-36-9zm-26 2zm-38 1zm-24 0zm-36 4zm-5-2zm-5-2zm-25 14zm23-1zm7 0zm46-4zm9 3zm48 1zm36 3zm2-6zm9 6zm13 0zm25 6zm-24-1zm-121 4zm-10 1zm-27-3zm-15-5zm-15 4zm-11 2zm-5 0zm-2-5zm-4 1zm-2-1zm48 11zm1 0zm16 6zm1-7zm29 1zm106-1zm1 5zm9 1zm-51 9zm-43-1zm-22-6zm0 6zm-38-3zm-1 0zm-30 0zm-17 16zm6-4zm34-5zm6 7zm48 0zm10-6zm20 0zm11 2zm8 16zm-22-4zm-9-1zm-30 3zm-1 0zm-34-2zm-27 14zm36-5zm12 3zm12-6zm25 7zm7 0zm51-2zm-16 7zm-4 4zm-28 2zm-27-2zm-35 2zm-11 4zm28 2zm24-2zm41 1zm9-3zm4 8zm-37 5zm-81-2zm13 12zm14-3zm42 8zm2-3zm1 2zm29-3zm5-1zm-3 8zm-26-1zm-33 2zm-1 6zm-6-8zm-19 235zm13-3zm20 0zm17 1zm58 21zm24 10zm-21 2zm-102-3zm-26 4zm139 5zm7 3zm12 1zm-13 8zm-1 0zm-120-2zm-30 1zm-21 12zm40-1zm26 1zm14-2zm19 5zm4-5zm72 1zm-6 8zm-12 1zm-43 1zm-7 0zm-80-3zm-27 9zm45 4zm10-1zm59-4zm2 6zm11 3zm56 0zm3-4zm21 2zm-150 11zm-3-1zm-11 0zm-4-4zm-6-1zm-13 6zm-2-1zm-12-6zm-4 1zm70 13zm67-5zm64 4zm10 13zm-137-7zm-63 4zm38 8zm33-1zm83 1zm12 2zm-91 14zm-1 0zm-106-1zm0 7zm10 1zm40-4zm11 3zm10-4zm54 7zm29-4zm16 3zm1-2zm1-4zm2 0zm29 1zm13 4zm-3 10zm-27 1zm-8-4zm-53 2zm-8 1zm-102 1zm70 8zm51 2zm7-1zm75 7zm-4-2zm-1 2zm0 4zm-24 1zm-19 1zm-3-5zm-16 1zm-61-4zm-66 2zm-14 4zm-14 4zm20 2zm0 0zm31 1zm120 5zm25-3zm16 13zm-10-2zm-9 2zm-8-5zm-93-2zm-4 0zm-15 6zm-5-2zm-14-2zm-11-2zm-15 13zm25 5zm40-7zm20 2zm34-3zm53 5zm8-5zm0 4zm6-4zm-42 16zm-13-6zm-22 1zm-78 7zm-13-9zm-28 4zm56 12zm18-5zm46 1zm21 7zm45-6zm2 2zm-14 10zm-5 1zm-3-5zm-70 18zm10-7zm76 14zm-22 0zm-17 1zm-42 2zm-26-5zm-9 9zm20 0zm50 0zm18 7zm-40 7zm-12-3zm-52 12zm34-4zm34 0zm11-2zm7 9zm-3 154zm60 16zm-11-8zm-16 3zm-27-2zm-95 11zm12 3zm6 0zm19 2zm64-7zm14-1zm22 4zm36 0zm14 3zm2-4zm-72 12zm-8-2zm-7-2zm-14 4zm-27 3zm-71 3zm35 0zm5 6zm0-6zm19 6zm4-5zm2 1zm8-3zm6 7zm10-5zm0 6zm9-2zm129 13zm-35 0zm-6 0zm-8 0zm-101-4zm-10-2zm-3 4zm-17-5zm-40 4zm-52 12zm12-3zm15 3zm14 1zm104-6zm11-1zm53 4zm10-3zm23 4zm32-2zm-9 12zm-2-2zm-65-5zm-3 5zm-14-3zm-25 7zm-9-3zm-32-5zm-27-1zm-23 8zm-58-4zm15 8zm1-1zm1 3zm18-1zm27 5zm12-6zm2 2zm1-2zm8 5zm52-7zm13 6zm1 3zm10-4zm38 1zm64 2zm17 11zm-2-4zm-18 3zm-48-1zm-5-6zm-42 2zm-9 3zm-21-1zm-80 0zm-19 0zm-14-4zm-9 0zm-28 16zm46-7zm16 2zm3-2zm14 7zm22-3zm34-1zm10 3zm7-6zm8 9zm2-5zm8 0zm29-3zm3 4zm60 0zm38 4zm-22 5zm-22 2zm-27 2zm-75-2zm-2 3zm-1-3zm-7-6zm-7 8zm-19-3zm-1-3zm-3 1zm-2 3zm-10 0zm-12-5zm-16 2zm-8 2zm-8-4zm-24 8zm-8-8zm-36 11zm48 3zm5-2zm17 2zm2 3zm92-1zm7-5zm4 7zm7-6zm29 3zm1-2zm8-1zm32 0zm13 6zm15 0zm21 9zm-14-1zm-26-4zm-23-2zm-34 1zm-29-1zm-26 3zm-36 5zm-14-4zm-15-3zm-47-2zm-39 3zm-7 16zm79-4zm43-2zm29-1zm1-2zm25 1zm1 6zm46-3zm27-4zm4 8zm71-7zm-7 18zm-2-3zm-4-6zm-90 6zm-65 0zm-2 2zm-20-5zm-16-1zm-30 3zm-13 2zm-7-4zm-39 4zm-27 12zm69-8zm27 2zm50-3zm1 9zm64-9zm6 9zm66-4zm-12 10zm-3 0zm-19-5zm-3 2zm-48 7zm-7-3zm-14-1zm-26 0zm-34 0zm-10 8zm33 4zm55-3zm31 2zm19 2zm4 2zm-47 4zm-6-4zm-2 0zm-58 6zm-18 1zm-30-4zm-9 3zm-55-1zm49 6zm33 7zm20 1zm33-4zm63 3zm27-8zm-9 14zm-20 3zm-18-6zm-166 2zm-3 0zm92 14zm40-2zm35-3zm5 12zm-4 1zm-99 3zm63 5z"/>
<path stroke="#4e9090" d="M373 189zm62 1zm-89 2zm-14 2zm27 14zm53 0zm50-6zm1 3zm-24 10zm-58-3zm-97 9zm14 3zm26-1zm120 6zm-155 13zm32 5zm3-6zm17 6zm29 1zm40-8zm68 1zm33 10zm-41 0zm-11 4zm-200 11zm5-4zm105-2zm26 8zm1-4zm81 2zm37 11zm-35 1zm-20-5zm-103 5zm-34 1zm-35-4zm-30 2zm82 8zm13 0zm126 4zm6-4zm33 6zm-202 3zm-4 0zm-5 2zm-41-4zm-5 1zm53 10zm23-2zm177 16zm-1-1zm-32 1zm-108-3zm-59-3zm-53 5zm21 10zm42 3zm84 0zm85-9zm18 13zm-73 1zm-42 5zm-45-1zm-27-4zm-36 10zm34-2zm127 0zm8 0zm28 14zm-4-1zm-7-5zm-93 7zm-26 1zm-32-2zm-13-4zm11 8zm24 2zm146-1zm-102 16zm-20-1zm-6 0zm-22 166zm7 7zm3-5zm5 1zm7 2zm4-1zm0 1zm7-4zm11 2zm9 4zm1-1zm3 1zm2-9zm1 2zm7 6zm16 10zm-2 0zm-1-5zm-2 4zm-1-3zm-5 1zm0 0zm-3 0zm-1-3zm-12 2zm-8-3zm0 6zm0-2zm-5 3zm-1-4zm0 5zm-2-8zm-5 7zm-7-3zm-2-1zm-6 3zm-1-7zm-6 1zm-5-1zm-3 9zm-19-1zm0 0zm-13 8zm13 3zm1-3zm3-2zm20 4zm3-5zm18 2zm2-3zm1-1zm0-1zm4 7zm2-7zm3 1zm6 7zm0 1zm6-6zm1 2zm7-4zm7 5zm3 2zm6-6zm0 2zm6 4zm1-8zm4 7zm8 0zm-1 6zm-6 4zm0-2zm-7-2zm-1 0zm-5 6zm-2-1zm-1-4zm-2 5zm-10-6zm-1 1zm-4 4zm-4 0zm-1 1zm-9-9zm-1 8zm0-5zm-2-3zm-2 2zm-2 0zm-4 0zm-1 4zm-1 2zm-1-8zm-1 1zm-1 2zm-2 6zm-3-4zm-2 1zm-2-4zm-2 0zm-4 4zm0 0zm-3-1zm-8 0zm-5 1zm0-3zm-1-1zm-4-1zm-4 7zm-7 0zm-1-4zm-10 10zm4 5zm16-9zm11 9zm6-1zm2-4zm1 4zm6-2zm4-6zm3 9zm3-8zm7 8zm1-6zm2 6zm6-1zm1-6zm4 6zm1-4zm0-1zm10-3zm7 0zm3 4zm1-4zm1 2zm5 6zm2 0zm6 0zm0-7zm10 3zm12-4zm3 5zm2 2zm-8 3zm-15 0zm-2 1zm-4 2zm-3-2zm-4 4zm-1-2zm-4 3zm-1-6zm-6 5zm-2 3zm-2-1zm-1-1zm-8 0zm-3-2zm-11-2zm-6 3zm0-5zm-2 0zm-1 9zm-3-3zm-14-6zm-5 8zm-2-7zm-6 0zm-2 1zm-17 5zm-1-3zm7 8zm23-2zm2 2zm5-1zm4 7zm5-2zm8-6zm0 2zm2 5zm16-2zm1 3zm4-7zm8-1zm1 2zm3-1zm8-1zm4 6zm6-6zm1 7zm24-1zm11 5zm-11 3zm-15 3zm-10-7zm-38 2zm-29 6zm-14-5zm-12 9zm18-1zm11 0zm38 1zm9 7zm20-7zm1 0zm1 2zm5-1zm8 8zm-6 8zm-1-6zm-2 5zm-2-8zm-27 14zm0-1zm14 4zm33 3zm-22 0zm-3 7zm-4-1zm-16-6zm-1 0zm18 15zm12 0zm6-4zm-7 17zm-15-8zm-141 428zm-48 9zm42 2zm29-1zm16-3zm3-4zm-2 17zm-15-3zm-4-2zm-3 2zm-16 3zm-3-4zm-5 5zm-1-6zm-14-2zm-2 0zm-11 5zm-12 8zm11-1zm4 6zm4-2zm0-2zm7 2zm8-6zm10 3zm9 4zm21 1zm4-7zm5 2zm2 3zm36-7zm3 1zm-33 18zm-12-9zm-10 6zm-3-4zm-3 1zm-20-1zm-9-1zm-5-1zm-2 9zm0-9zm0 9zm-5-5zm0 2zm-3-3zm-1 5zm-3 1zm-3-2zm-9-1zm-5 0zm-16 7zm5 0zm1 5zm1-6zm2 5zm6-3zm1 4zm8-8zm5 2zm0-2zm10 6zm0-6zm5 5zm2 2zm3 1zm3-3zm4 3zm1-3zm1 0zm2 3zm8-4zm0 4zm0-1zm6-1zm53-5zm19 14zm-24 4zm-43-1zm-9-4zm-5 0zm-3-3zm-1 7zm-4-7zm-2 3zm-6-3zm0-1zm-1 8zm0-4zm-8-1zm0 3zm-2-5zm-1 7zm0 0zm-5 1zm-5-4zm-3 3zm-1-5zm-7-1zm0 6zm0 1zm-5-1zm-4-7zm-3-1zm-2 9zm-2-8zm-1 2zm-6 16zm5-9zm1 9zm1-6zm1-1zm0 3zm3-4zm1 3zm2 1zm1-2zm0 5zm0 1zm0-8zm1 8zm2-5zm0-2zm1 1zm2-2zm7 2zm2 1zm1 3zm1-7zm1 3zm0 6zm2-6zm0 2zm1 2zm3 2zm2-8zm2 0zm2 1zm1 1zm6-1zm1-2zm2 5zm1 4zm3-1zm2-3zm3-4zm6 1zm9 6zm7-7zm61 0zm-75 11zm-4 0zm-9-1zm-1 2zm-3-1zm-1 1zm-3-1zm-2-2zm-1 1zm-2 6zm-3-1zm-1-2zm-2 0zm-4 4zm-4-3zm-1 3zm-3-7zm0 1zm-4 0zm0 1zm-3-3zm-1 1zm-7 0zm0 5zm-3-1zm0 2zm-1-4zm-4 2zm-3-5zm3 18zm7-2zm5-2zm6 5zm3-1zm1-3zm11-4zm0 7zm10-7zm18 5zm4-2zm18-4zm10 2zm26 3zm18 3zm17 11zm-110-4zm-16 3zm-32 1zm-6 10zm103-5zm0-1zm5 1zm19 5zm56 6zm-71-4zm-34 0zm-25 5zm-26 13zm24 0zm1 0zm38-8zm32 8zm69 1zm-42 0zm-10 6zm-36-5zm-68 2zm-1 13zm27 2zm9-5zm16 5zm106 0zm1 1zm6 5zm-46-1zm-8 1zm-7 3zm-117 11zm38 1zm36-2zm0-2zm54 3zm20-1zm11-6zm4 13zm-28 0zm-40 4zm-38-6zm-51 5zm-6 9zm26 1zm13-3zm7 4zm12-2zm9-1zm78 2zm16-4zm17 4zm15 12zm-44-4zm-19-1zm-31-2zm-81 2zm-4 10zm31 1zm3-5zm80 1zm55 15zm-6-6zm-11 5zm-5-5zm-5 6zm-7-3zm-8 2zm-44-2zm-14 3zm-1 2zm-21-6zm5 9zm101 3zm33 3zm9 0zm-25 6zm-17 6zm-118 5zm21-1zm17-2zm77 6zm-54 7zm-33 4zm-11 9zm35 0zm4 1zm122 203zm-39 0zm-65-1zm35 18zm25-2zm9 1zm45 10zm-19-7zm-27 4zm-31-4zm-11 5zm-34-4zm-11 8zm-2-1zm-34 8zm33 0zm5-6zm19 2zm13-1zm14-1zm4 1zm13 1zm54-2zm41 13zm-25 6zm-32 0zm-5-1zm-20 0zm-5-7zm-31 6zm-57-7zm-11 15zm40-5zm2 0zm35 1zm74-1zm4 6zm35 0zm-25 7zm-28 4zm-62 0zm-5-6zm-16 8zm-3 0zm-1-7zm-54 6zm-14-2zm7 10zm15-2zm7-2zm25-1zm70 5zm10-4zm14 3zm18 14zm-25-2zm-5-7zm-44 1zm-22 7zm-23-7zm-42 6zm-12 5zm19 2zm6-4zm9 3zm69-2zm13 4zm52-5zm31 4zm-19 6zm-26 1zm-14 6zm-34 0zm-12 0zm-37-4zm-1-3zm-42 17zm0-1zm23 1zm23-4zm16 4zm0-5zm10 7zm3-9zm9 5zm30 2zm8-6zm49 0zm-2 11zm-14-2zm-4 4zm-20-4zm-20 2zm-14 6zm-129-8zm-25 15zm3-4zm19 4zm16-1zm1 5zm24-8zm0 5zm16-1zm65 4zm2-2zm54-4zm3-1zm15-1zm11 5zm-20 7zm-27-3zm-35 9zm-4-3zm-14 0zm-6-5zm-13-1zm-3 9zm-16-2zm-80-2zm-7-1zm19 9zm44 3zm8-5zm0 2zm62-1zm13 5zm8-5zm9 3zm26-4zm1 5zm1 3zm7-5zm6 5zm1-4zm12 9zm-35 5zm-26-3zm-68-2zm-22-1zm-13 3zm-20-1zm-6-2zm-16 0zm-5 14zm25-2zm7-5zm26 4zm42 0zm0-2zm37 4zm2 5zm-43 2zm-15 6zm-19 0zm-27-3zm-4 2zm-26-5zm-6 9zm17-1zm11-1zm9 6zm40 0zm42-5zm56 4zm-10 14zm-2-3zm-21-3zm-19 6zm-16-9zm-26 0zm-38 5zm-9 4zm65 6zm13-2zm45 9zm-78 7zm-11 0zm-50 2zm3 3zm26 1zm42 3zm85-8zm-37 15zm-66 3zm-20 9zm55 1zm8-6zm9 8zm-48 8zm-19 1zm11 10zm13 197zm2 2zm9 11zm-44 2zm24 1zm58 5zm16-5zm-13 14zm-49-1zm-4 1zm-15 0zm-3 2zm-30 7zm9-3zm24 6zm44-1zm1-1zm20-1zm36 2zm-56 10zm-9 2zm-88 7zm37 2zm53-6zm57 3zm18-4zm0 2zm10 4zm13 5zm-13 5zm-20 0zm-4-2zm-39-1zm-14-4zm-10 8zm-47 0zm-24 1zm-26 7zm8 2zm20-5zm45 2zm17 4zm57 0zm4-2zm10-6zm31 17zm-31 0zm-119 0zm-45-5zm1 8zm24 6zm52-6zm16 3zm56 1zm17 2zm19-1zm-71 8zm-106 0zm-2-3zm-15 3zm-11 13zm28-5zm15 5zm42-2zm28-5zm3 3zm22 1zm65-3zm6 3zm9 2zm12 3zm-13 9zm-24-3zm-121 0zm-40-5zm-42 0zm41 10zm46 5zm67 1zm48-1zm11 0zm21-1zm-85 14zm-28-3zm-2 1zm-5-5zm0-1zm-29 3zm-25 8zm73 4zm48 4zm5-6zm36 3zm16-2zm-50 11zm-1-3zm-48-1zm-8 5zm-6 2zm-58 0zm-65-6zm-15 7zm150 6zm62 14zm-4-9zm-44 9zm-30-2zm-99 2zm-30 1zm0 3zm25 6zm12-8zm10-1zm24 9zm104-4zm13 10zm-14-3zm-69 4zm-1 1zm-15-2zm-32 6zm3-1zm13 9zm17-5zm95-4zm1 3zm28-2zm21-1zm-13 11zm-46 4zm-12 3zm-22-1zm0-1zm-99-2zm65 12zm12-5zm39 7zm55 4zm-23-1zm-5 2zm-16 2zm-7-5zm-2 4zm-10 1zm-26 4zm-42 0zm-4-4zm30 11zm43-4zm25 0zm29 6zm-30 6zm-4 1zm-42 3zm-32 6zm26-4zm18 8zm63-8zm-37 19zm-1-4zm-13-2zm-60 3zm12 7zm2-3zm10 13zm80 150zm1 2zm31 7zm-23 7zm-69-2zm-35 12zm19 0zm24-2zm78-7zm9 8zm50 5zm-42 6zm-14-9zm-7 3zm-23 4zm-39 2zm-27-9zm-1 0zm-17 8zm-42-6zm-4 5zm-12-6zm19 12zm45 1zm4 5zm42-4zm14-4zm41 1zm7 5zm82 4zm-89 7zm-16 0zm-47-3zm-54 3zm-78 10zm61-8zm78 5zm30 4zm11-5zm3 4zm10 0zm24 1zm11-2zm30-6zm0 12zm-42-2zm-7 8zm-1-8zm-13 0zm-61 0zm-9 1zm-3 0zm-78 6zm-33-5zm-17 6zm2 1zm57 2zm9 6zm0-2zm10-6zm27 5zm60 4zm22-6zm11 2zm86 9zm-20 2zm-62 2zm-9 0zm-8-1zm-30-6zm0 1zm-33 0zm0 6zm-10-4zm-39 1zm-8-2zm-4 0zm-30 6zm-22 10zm30-6zm3-2zm19 0zm48 0zm38 4zm2-3zm20 7zm10-2zm5-2zm12 3zm13-5zm2 2zm17-2zm71 12zm-64 2zm-64 0zm-1 1zm-5 1zm-14-8zm-35 6zm-87 12zm40-1zm21-6zm6 5zm16 1zm2-5zm6 2zm9 3zm20-2zm15 3zm6-4zm25 1zm28 2zm4-7zm36 0zm45 4zm-73 11zm-44-4zm-39 3zm-7 4zm-19-7zm-11 7zm-8-3zm-8 2zm-46-8zm-35 6zm-23 10zm20 0zm10 2zm4-8zm31 7zm16-5zm10 1zm7-1zm9 4zm33 0zm2-4zm2 0zm70 0zm14 0zm66 1zm-2 14zm-38-1zm-18 1zm-39-5zm-11-2zm-33 6zm-15-4zm-11 0zm-7 4zm-23-2zm-25-3zm-24 7zm-45 7zm3 0zm67 1zm20 1zm6-3zm13 5zm8-5zm6-3zm4 1zm38 0zm26 6zm5-6zm6-1zm17 8zm-4 2zm-34-1zm-3 9zm-8-9zm-3 7zm-4 1zm-28-3zm-9-1zm-13-1zm0 2zm-46 1zm-4-3zm-1 1zm-67 9zm14-1zm93 7zm1 0zm4-8zm32 1zm24 7zm37-7zm26 7zm6-8zm-1 11zm-61 7zm-19-1zm-11-2zm-70-1zm-54 9zm3-4zm93 8zm1-7zm12 1zm9 4zm22-6zm10 9zm1-5zm3-1zm74-2zm20 0zm-47 18zm-25-5zm-29 1zm-43-5zm-31 3zm-2 5zm-26-3zm45 7zm20 6zm27-5zm51-3zm-10 10zm-52 7zm-23-7z"/>
<path stroke="#3e2a92" d="M340 179zm-25 10zm53-5zm7 5zm2 10zm-48-7zm-16 4zm-2-6zm-7 10zm57 0zm25 2zm78 12zm-5-3zm-37 0zm-28 5zm-11 1zm0 2zm-17-2zm-81-6zm-17 14zm30-4zm34-1zm11 3zm22 0zm40-1zm21-2zm19 0zm37 13zm-9-2zm-17 5zm-44-1zm-42-2zm-8 1zm-44 3zm-6-7zm-6 5zm-11-3zm27 17zm14-9zm24 4zm34-2zm25-2zm17 6zm28-4zm32 4zm19 4zm-65 1zm-22 0zm-13 5zm-35 3zm-52-3zm-13 2zm-27-7zm-6 6zm-26-3zm-1 15zm62 0zm41-8zm98 6zm2 0zm1 11zm-31 1zm-33-4zm-25 1zm-57 2zm-37-1zm91 8zm22-1zm22 0zm88 8zm-34 5zm-36 1zm-28-6zm-5-2zm-119 16zm80-5zm49 7zm109 8zm-21-3zm-10 5zm-25-8zm-5 6zm-50 3zm-88 7zm41-5zm34 8zm114-2zm13 11zm-43-6zm-64 1zm-4 5zm-69-6zm-22 4zm-39-3zm14 13zm33 1zm86 1zm7-2zm41 1zm39-7zm-50 11zm-57 5zm-18-6zm7 11zm111 2zm-45 13zm-14-4zm-25 3zm-24-3zm-30 3zm24 10zm22 0zm16 0zm8-2zm-55 165zm22-4zm-17 14zm-15-4zm-5 1zm-10-5zm-18 18zm35-2zm2-2zm4-2zm8-1zm12 4zm25 0zm9 4zm28 4zm-3 1zm-4 4zm-5-2zm-2 2zm-1 1zm-10-3zm-25-6zm-11 9zm-6-2zm-6-6zm-13-1zm-10 8zm-11-5zm-6-3zm-55 18zm105-7zm16 6zm5 0zm2-2zm7-2zm5 5zm0-6zm11 0zm1 3zm3-4zm1 3zm4 0zm1 3zm2-6zm5 8zm1-3zm1-1zm6 11zm0-2zm-1 3zm0-2zm-3 3zm-3-7zm0 2zm-18-3zm-2 0zm-2 3zm-2 0zm-6 2zm-3-4zm0 4zm-1-1zm-10 2zm-19 3zm-10-7zm-9 5zm-1 0zm-15-1zm-5-1zm-2 3zm-15-6zm-10 4zm-3-6zm-9 6zm-4 1zm-1 1zm-16-6zm-14 5zm-20 7zm48 0zm48 4zm1-7zm7 8zm18-8zm16 5zm14-6zm3 2zm2-2zm2 7zm1 2zm17-9zm6 4zm2 5zm5-1zm0-4zm5 1zm5-1zm7-2zm1 6zm-3 6zm-3-4zm-12 8zm-10-7zm-2 6zm0-2zm-5 3zm-2-3zm-3-1zm0 0zm-6 3zm-4-2zm-6-1zm-1 5zm-2-7zm-2 3zm-19-4zm-42 2zm-38 1zm-6 2zm-1 1zm-15 2zm-3-8zm-9 2zm-7 5zm23 4zm12 4zm5 1zm15-2zm34-4zm51 5zm12 0zm9-2zm4 0zm2 3zm9-5zm1 4zm3 3zm7-8zm8 5zm7 11zm-4-3zm0 4zm-4 1zm-12-4zm-1 2zm-1-1zm-1-2zm-4 1zm-3 2zm0 0zm-1 0zm-1-3zm-8 3zm-10-3zm-5-3zm-131 0zm9 11zm12 1zm3-3zm101 2zm2 0zm4-1zm12 5zm12 2zm1 1zm1-7zm20 17zm-3-6zm-8-2zm-1 7zm-9-4zm-1 2zm-1-3zm0 5zm-4 0zm0-4zm-1 3zm-1-1zm-1-1zm0 3zm-3-2zm-3 2zm0-1zm-1-1zm-4 1zm-4 0zm-3-2zm-84-3zm105 8zm8 3zm13 2zm-7 5zm-4 8zm-7-2zm-2 1zm-2-1zm-25 2zm-98-3zm-18 10zm0 1zm52 2zm12-7zm65 0zm1 8zm0-5zm23 4zm-129 4zm-8 1zm-10 14zm14-6zm-9 17zm0-3zm-2-4zm-3 5zm-8 383zm1 8zm6 0zm71 12zm-13-4zm-33 2zm-3 0zm-5 1zm-5-6zm-19 5zm-6 2zm-1-2zm-10-1zm-7-2zm-1 2zm-5-3zm-18 13zm20-3zm14 0zm6 0zm3 5zm1-2zm4-3zm5 4zm4-1zm7 0zm2 1zm2 0zm1 0zm10-5zm3 1zm2 2zm5-4zm2 1zm1 7zm3-4zm20-2zm-2 7zm-13 1zm-21 8zm-16-5zm-1-2zm-2 3zm-1 1zm-5 2zm-6-3zm-8-5zm-5 0zm-1 0zm-3 5zm-12 2zm-3-3zm0 1zm-7 2zm0-5zm-1 5zm-9-5zm11 8zm12 1zm1 4zm2 4zm1-9zm14 3zm2 5zm10-6zm3 4zm16-2zm3-4zm11 0zm29 1zm4 3zm-76 9zm-6 0zm-1 6zm-9-8zm-1 4zm0 4zm-8-8zm-51 18zm9-3zm1-1zm2 1zm2 1zm1-5zm4 6zm7-7zm10 6zm8-7zm4 2zm4 2zm2 2zm10 2zm7-7zm6 5zm3 3zm1-7zm24 1zm5 6zm45 5zm-32-1zm-5 0zm-43 2zm0 0zm-23-2zm-10 5zm-7-5zm-5-2zm-5 4zm-1 2zm-5-2zm-13 12zm29-6zm14-1zm4 3zm10-3zm1 8zm6-4zm6-1zm10 3zm1-4zm28 5zm0-2zm1 4zm8-8zm1 5zm1-6zm36 9zm0-6zm2 9zm-20-1zm-9 3zm-30-2zm-6 1zm-8 4zm-39-5zm-18 7zm0-3zm-4-5zm-8 3zm-17 3zm-2 3zm15 8zm3-8zm61 3zm19-1zm16 2zm3 3zm2-7zm33 6zm4-1zm14 2zm22 5zm-59 2zm-5 4zm-23-5zm-16-1zm-19 6zm-1-2zm-14-4zm-1 6zm-27-2zm-7 3zm-9-8zm-10 14zm18 3zm5 1zm8-3zm38-3zm17 4zm22-5zm83 5zm29 8zm-11-1zm-23-4zm-115 3zm-7-1zm-7 3zm-18 0zm-3-3zm-1 0zm-21 2zm5 8zm10-2zm4 6zm15 2zm26-6zm41 0zm6 7zm54-4zm15-4zm5 2zm15 4zm16 1zm-11 11zm-21-8zm-32 8zm-78-6zm-21 2zm-14-5zm-1 3zm-9 5zm-9-1zm-20 5zm43 5zm13 2zm1 0zm74-1zm70-3zm2-4zm10-1zm-24 11zm-5-1zm-79 2zm-88 15zm84-6zm6 2zm3 6zm95-3zm10 3zm0 1zm-37 7zm-10-5zm0-1zm-36 6zm-23 1zm-25-4zm-5-4zm-68 1zm-1 7zm1 9zm1-7zm52 3zm4 5zm101-1zm12 1zm-1 11zm-3-9zm-90 7zm0 1zm-33 0zm0 0zm-1 5zm17 1zm48 0zm39 4zm10-3zm18 13zm-86-6zm-26 1zm-31-3zm20 10zm74 6zm50-5zm1 17zm-28-4zm-31 1zm-20 10zm35 190zm85 21zm-2-4zm-7 0zm-7-1zm-51 4zm-5-1zm-10 3zm-23-2zm27 13zm3 0zm90 0zm14 11zm-54-9zm-4 5zm-6 3zm-7-7zm-2 2zm-24 5zm-47 0zm-14 1zm51 7zm6-1zm95-2zm9 0zm-4 12zm-9-2zm-3-1zm-15 1zm-60-2zm-45 7zm-9-8zm-19 5zm-8 1zm0 11zm32-6zm33 1zm22 4zm6-2zm52 2zm20 0zm7-4zm2 4zm0-5zm5 5zm-16 7zm-104 2zm-48-5zm-25 7zm-5 2zm-5 9zm8-7zm17 0zm34 0zm29 3zm32 2zm3-2zm45 3zm27 0zm36 1zm-23 11zm-23-8zm-26 2zm-2 5zm-6 1zm-15-6zm-46 6zm-23-9zm0 4zm-22 1zm-16-4zm-31 0zm19 13zm17 5zm62-5zm6-4zm20 8zm5-1zm24-1zm30-5zm42 18zm-16-7zm-47 7zm-11-8zm-3 2zm-32 3zm-3 0zm-93-2zm-34-2zm17 12zm42-3zm3 3zm13 5zm69-6zm94-3zm-30 11zm-6 2zm-11 4zm-15-4zm-32 3zm-25 0zm-2 0zm-2-1zm-40 1zm-30 0zm-56 0zm-8 3zm2 5zm38-1zm18 1zm31 0zm15 2zm2 1zm23-3zm66-1zm10-1zm17 4zm0 5zm-5-1zm-5 4zm-76 0zm-1 1zm-22-5zm0 8zm-60-7zm-54 4zm-15 12zm6 2zm55-2zm13 1zm30 1zm54-9zm76 5zm4 4zm-20 6zm-8 1zm-43-4zm0 2zm-78-3zm-22 7zm-21-3zm-1 2zm-35-3zm-9 3zm94 3zm0 1zm68 5zm34-2zm5-4zm4 2zm-87 11zm-20 2zm-42-1zm-11 0zm-25 15zm11-1zm3-3zm10 3zm14-6zm6-2zm10 7zm0 2zm39-4zm11-4zm18 7zm5-8zm27 4zm3 4zm21 1zm6 7zm-17-4zm-101 5zm-56 7zm4-3zm10-1zm4 1zm9 1zm32 7zm75 3zm-50 6zm-23-1zm-23 1zm-7-5zm-10 1zm-19 5zm16 2zm29 8zm12-9zm3 8zm2-2zm5 2zm2-4zm5-1zm2-1zm6 0zm12-2zm18 9zm15-2zm7-2zm-48 13zm-1-8zm-33 0zm-34 2zm11 15zm3-3zm44 0zm2-4zm10 16zm-39 7zm33 3zm36 212zm-19-3zm-5 1zm-2 0zm-9 0zm-11 1zm0-2zm-25 3zm16 9zm10-5zm37 4zm5 4zm-34 2zm-34 7zm-36 9zm34-4zm67-2zm7 4zm8 13zm-14-5zm-86 4zm-7-3zm-4 3zm-1-6zm-21 5zm13 6zm72 1zm16 2zm23-3zm36 1zm14 5zm-2 5zm-38 5zm-38-1zm-95 1zm-13 1zm24 8zm4-7zm3 4zm26-2zm19-3zm73 9zm31 5zm-158 3zm-35 4zm124 6zm15-7zm47 5zm-26 10zm0-2zm-37 4zm-71-5zm-2 3zm-3 1zm-19-3zm-20 3zm-7-3zm-21-2zm33 10zm93 6zm24-2zm26-5zm5 5zm22 3zm5 4zm-75 6zm-84-7zm-2-1zm-36 5zm2 9zm1 3zm5-7zm32 9zm0-2zm38-7zm13 9zm30-1zm4-7zm64-1zm18 6zm21-4zm8 7zm-37 4zm-35-3zm-17 7zm-88-2zm-75 6zm116 4zm5-5zm17 6zm17 0zm33-1zm6-5zm28 10zm-75 5zm-14-4zm-1 8zm-105 0zm-25-2zm13 5zm80 2zm6 3zm115-1zm2-6zm21 10zm-6 0zm-4 4zm-37 0zm-22 3zm-11-2zm-53-1zm-91 8zm67-2zm43 9zm5-9zm27 7zm5-1zm12-1zm17 4zm-86 2zm-50 1zm-12 7zm-19-4zm-14-3zm54 9zm24 4zm4 0zm2-5zm61 9zm48-1zm9-8zm22 5zm0-1zm-48 14zm-72-2zm-63 1zm-18-3zm32 12zm10-4zm8 1zm39-2zm0 3zm40 2zm13 0zm6-4zm-7 13zm-18 0zm-47 3zm-8-2zm-7 3zm-3-5zm-13 8zm6 4zm51-4zm32 5zm17-5zm25 15zm-17 1zm-9-5zm-53 5zm-51 0zm-10 3zm16 4zm12-3zm37 3zm9-3zm10-2zm8 7zm25-4zm20 9zm-46 6zm-24 0zm-28-6zm-22 10zm14 1zm5 5zm4-1zm7-7zm15 6zm38 2zm-61 10zm14 142zm54 3zm-58 12zm0 5zm21 4zm44-2zm45 7zm12 2zm-39 0zm-24-1zm-33 6zm-22 0zm-36 0zm6 7zm13 5zm4 0zm59-6zm9 1zm10 2zm25 3zm5 0zm22 0zm1 0zm9-4zm11 4zm1 4zm-25 4zm-1-2zm-23-1zm-21-3zm-9 4zm-2 0zm-29 1zm-9-4zm-11 5zm-59-1zm-40 12zm2-4zm42 2zm31-3zm6 1zm46 2zm15 4zm10-2zm18 2zm9-9zm18 5zm6-2zm5-1zm30-1zm26 7zm13 3zm-48 5zm-61 3zm-11-7zm-15 3zm0-2zm-43-1zm-8 7zm-101 7zm14-4zm3 6zm9-4zm94-1zm19-2zm10 4zm17 1zm47 2zm15-7zm3 7zm12-5zm11-3zm0 0zm-18 11zm-16 7zm0-3zm-18-2zm-17-1zm-7 0zm-1 5zm0-4zm-5-1zm-15 7zm-19 0zm-3-7zm-12 7zm-4-1zm-1 1zm-48-2zm-66-4zm8 15zm25-6zm11 1zm54-3zm20 1zm6 2zm12 2zm1-2zm49-2zm5 8zm33-7zm60 2zm6 2zm-142 7zm-1 0zm-2-3zm-53 3zm-72 9zm53-1zm24 0zm10 2zm2 3zm21 2zm12-2zm32-1zm3-3zm11 5zm13-1zm35 3zm2-3zm20-2zm5 4zm19-1zm-30 12zm-17-8zm-39 0zm-13-1zm-1 3zm-37 6zm-20-4zm-13-3zm-34-2zm-42 2zm-67 14zm11 0zm1 3zm33-8zm21 6zm8-5zm15-1zm17 4zm34 2zm8-2zm35 2zm22 1zm92 1zm29-6zm-12 16zm-23-4zm-1 1zm-106-5zm-6-1zm-5 8zm-2-7zm-27 3zm-18 0zm-16-3zm-4 7zm-19-6zm-16 11zm35-1zm3 3zm14-5zm6 7zm16-3zm13-2zm28 3zm4-5zm1 2zm4 3zm1-3zm21 1zm5 5zm12-7zm48 1zm-44 9zm-12 2zm-35 4zm-22-7zm-12 4zm-26 1zm-7 3zm-20-8zm-6 9zm-4-9zm-26 5zm-1 1zm-18-5zm-3 5zm-26 7zm26 5zm25-6zm50 7zm37-3zm14-1zm14 1zm35-6zm40 13zm-37-2zm-8 7zm-25-5zm-51-1zm-11 7zm-26-5zm-1 0zm-4-3zm-18 6zm-59 8zm91 0zm53-1zm65-1zm14 2zm-2 8zm-18 2zm-14 1zm-15-4zm-30-1zm-36 2zm-25-1zm-35 6zm108 7zm9-5zm49 2zm-19 11zm-62-3zm-19 3zm-20 3z"/>
<path stroke="#151515" d="M379 178zm10 4zm52 13zm-4-1zm-94 14zm13 0zm54 9zm-4-4zm-40 4zm-10 0zm-53-5zm-16 0zm-3 5zm20 8zm170 13zm-4-6zm-89 3zm-65 4zm-32 1zm26 0zm34 4zm74 1zm3-4zm9 7zm70 1zm16-9zm-89 15zm-22 4zm-16 0zm-34-9zm-101 8zm83 8zm3 2zm9 1zm168 7zm-15-1zm-22-5zm-120 3zm-20 2zm-8-3zm-36 16zm63-7zm9 2zm13 5zm132-2zm-80 7zm-52 2zm-1 0zm-12-2zm-110 7zm16 0zm107 4zm51 3zm6 2zm-32 5zm-10 5zm-24-6zm-11-2zm-96 0zm35 12zm3-3zm5 8zm41-7zm166 7zm-228 12zm10 9zm136-8zm4 4zm46 4zm-58 2zm-78 6zm-17-4zm-7 12zm2 0zm43 1zm84-3zm11 5zm18-4zm-24 13zm-100-2zm-14 735zm-26 58zm49 8zm-33 16zm-93 11zm127 21zm16 8zm29 9zm-31 10zm-155 11zm190 48zm-163 9zm21 22zm97 5zm-3 11zm-82 6zm17 5zm41 187zm0 13zm12-8zm73 11zm-13 7zm-22 0zm-24-8zm-30 5zm-9 2zm0 4zm5 2zm46 0zm56 3zm31 8zm-95 3zm-60 2zm-7-4zm1 12zm66-7zm43 6zm27-3zm3 5zm0 5zm-5-1zm-114-1zm-8 17zm31-8zm66 5zm23 2zm7-6zm-18 18zm-1-7zm-112 6zm0-4zm113 10zm48 0zm-18 8zm-20 7zm-41-3zm-27-6zm-61 0zm-30 5zm-23 9zm53 1zm67-2zm1-3zm35 3zm18-3zm5 8zm4-1zm11-2zm17-1zm11 1zm-39 13zm-28-1zm-99-2zm-10 1zm-26-6zm-21 11zm24 7zm27 0zm34 1zm32-1zm13 1zm3-3zm87-4zm21 11zm-51 2zm-1-4zm-38 7zm-26-6zm-3-2zm-82 7zm-29 7zm8-1zm16 6zm144-1zm15-7zm18 4zm-9 7zm-41-2zm-1 6zm-44 0zm-127-1zm-11 1zm55 13zm0-9zm68 7zm20-6zm51 4zm3-3zm8 4zm-19 8zm-22 0zm-6 3zm-28-1zm-27-3zm-26 0zm-78 10zm26 4zm18 1zm25-4zm30-3zm2 8zm5-5zm9 0zm22 4zm7 6zm-49 5zm-67-7zm-15 5zm-9 8zm1-4zm12 4zm33-3zm6 0zm29 0zm23 0zm25-1zm35-1zm-67 13zm-11 1zm-11-2zm-5 2zm-42 8zm30 4zm32-3zm64 1zm7 10zm-15 0zm-19-3zm-12 0zm-24 1zm-20 7zm17 7zm22 3zm48-8zm-26 10zm-11 8zm-15-8zm-31 1zm-10 0zm-11 5zm-9 0zm-8-3zm35 11zm14-5zm10 1zm25 15zm-22 1zm-9 0zm-20 2zm2 212zm-17 9zm15 8zm31-4zm32-2zm0-2zm10 7zm4-1zm-3 5zm-20 6zm-66 2zm-33 0zm9 10zm5-3zm21-4zm48 17zm-23-5zm-19-4zm-5 5zm-11 4zm-26-3zm-12 11zm45 0zm19-5zm38 14zm-28 1zm-42-7zm-4 4zm-20 9zm49 2zm24-1zm5-3zm47 1zm29 4zm10 0zm1-3zm5 0zm11 4zm-11 8zm-27-4zm-1 1zm-43 7zm0-6zm-31-2zm-50 4zm-18-5zm-34 18zm95-1zm91-2zm33 0zm-2 12zm-13 1zm-75-4zm-10 4zm-12-7zm-22 4zm-58 3zm-8 0zm-28 2zm27 5zm3-5zm20 9zm56-9zm32 4zm16 0zm66 1zm5 4zm7-1zm-51 7zm-18 2zm-55-3zm0 5zm-71-6zm-1 3zm-33-5zm-7 6zm11 3zm31 2zm33-1zm1 5zm96 3zm35-3zm-13 13zm-9-5zm-6-2zm-42 0zm-18 7zm-5-5zm-79 4zm-15 3zm37-1zm1 3zm71-1zm30 0zm22 7zm9-8zm14-1zm10 3zm-15 15zm-15-8zm-5 1zm-49 4zm-102 3zm-40-6zm146 11zm59 4zm8-2zm25 0zm-106 5zm-38 5zm-34 3zm-38-2zm0-6zm43 10zm8 3zm0 0zm22 3zm71 0zm17-1zm8 3zm31 11zm-8 0zm-64-9zm-50 9zm-9 0zm-56-6zm56 8zm0 1zm21 5zm39 2zm71-2zm-41 3zm-24 9zm0-2zm-84-1zm-7 0zm8 12zm8-4zm7-2zm82-2zm57 14zm-34-2zm-15 5zm-74-7zm-24 16zm36-2zm8 2zm10-6zm8 6zm25-6zm45 9zm-77 6zm-54 2zm-1 6zm2-2zm7 2zm10-2zm30 4zm59 3zm6-4zm1 4zm8-5zm5 0zm-22 13zm-3 1zm-65 2zm-24 1zm12 0zm6 0zm46 7zm-21 4zm-30 3zm85 155zm37 5zm-127 0zm44 8zm42-1zm58 1zm14 4zm21 0zm-29 12zm-58-8zm-107 5zm-8-3zm-24 10zm6-1zm71 0zm3 0zm54 7zm81 10zm-142-8zm-53 0zm5 17zm70-5zm15-2zm5 3zm35 5zm27 0zm0-2zm91 8zm-15-4zm-62 1zm-18-1zm-31 4zm-72 4zm-11-3zm-13-4zm-64 16zm17-5zm47 6zm7-6zm15 1zm2 1zm14-2zm11 4zm1-6zm43 6zm5 0zm3-1zm21 3zm28-2zm4-1zm2-1zm24 4zm-11 4zm-10 3zm-20 4zm-46-5zm-3-1zm-30-3zm-3 0zm-6 4zm-25 1zm-128-1zm83 15zm34-8zm2 7zm24 0zm6-8zm5 8zm23-8zm17 9zm88-9zm18 1zm-7 14zm-10-5zm-19 4zm-1 3zm-2-3zm-3-3zm-4 2zm-8-3zm-68 6zm-7-1zm-6 1zm-10-1zm-8-3zm-20 0zm-6-1zm-11 0zm-17 0zm-48-1zm-31 5zm-6-4zm75 17zm45-2zm4-2zm16-1zm7 3zm1 0zm0 2zm4-6zm165 8zm-100 6zm-17-1zm-25 4zm-70-4zm-50-3zm-24-1zm-26 12zm12 2zm66-1zm11-2zm11 0zm5-2zm32 1zm2 6zm15-7zm24 4zm5 3zm22-5zm14 2zm41 5zm23-8zm-100 15zm-25-5zm-7 1zm-45 6zm-8-3zm-64 9zm90 3zm1-7zm17 1zm6 8zm3-4zm70 4zm41-9zm0 3zm-17 15zm-63-1zm-38-3zm-5 0zm-60-2zm-19-2zm-2 2zm-49 14zm1 0zm182-6zm43 19zm-23-8zm-6 4zm-26 4zm-102-4zm-30 1zm-30-2zm-6-1zm-2 7zm44 4zm14 4zm6-2zm29-5zm10 7zm42 0zm24-4zm22-2zm16 0zm28-1zm-55 12zm-12 6zm-66-6zm-22 6zm-17-1zm-3 8zm22 2zm48-8zm34 3zm7 2zm-48 13zm-16-8zm-16 0zm-22 2z"/>
<path stroke="#cdbe4a" d="M385 1565zm10-3zm-56 10zm97 11zm26-1zm-66 8zm-35 65zm77 10zm-141 6zm123 24zm-107 54zm24 2zm11 27zm64 2zm-81 21zm17 252zm-14 10zm-42 10zm-30 3zm60 21zm-27-1zm-38 11zm42 1zm-39 11zm-6 9zm134-6zm11 49zm-144 0zm-44 2zm75 11zm45 2zm77-3zm-59 9zm-103 3zm-1-5zm139 17zm64 31zm-40-4zm-109 4zm-62 8zm150-3zm-2 10zm-102-1zm-55 2zm13 6zm126 17zm-95 3zm73 6zm5 2zm19 1zm-13 11zm-72 23zm97 1zm-78 16zm22 174zm-86 73zm41-4zm136-1zm-165 17zm186 6zm55 7zm-142-2zm-66 4zm110 10zm117-1zm-19 15zm-284 8zm306 4zm-274 0zm-25 1zm241 46zm-139-3zm16 8z"/>
<path stroke="#7d6433" d="M370 184zm62 10zm-95 3zm-27 12zm68-3zm9 8zm-42 12zm7 17zm54 1zm6-3zm99 17zm-259-7zm64 10zm133-1zm-50 10zm-33 8zm16 8zm60 3zm32 8zm-37-6zm-129 15zm5-3zm192-2zm-13 14zm-220-2zm98 11zm82 7zm-10 5zm-23-6zm-92 18zm98-7zm14 8zm7-7zm13 9zm-17 1zm-26 3zm-70 1zm-19-6zm-2 10zm10 6zm36 3zm63-3zm14-4zm-47 15zm-23-7zm-84 741zm-16 11zm29 3zm-68 19zm16 24zm-31 35zm50 8zm-19 1zm-53 3zm68 7zm39 17zm-49-5zm-11 4zm136 8zm43 10zm-91 3zm-106 6zm49-5zm92 15zm-18-3zm-39 4zm23 12zm54-2zm34 3zm-51 5zm-10 1zm-53 0zm-33-1zm-63 1zm114 14zm3-2zm22 8zm-2-1zm-30-2zm-4-1zm-2-1zm-8 17zm9-5zm2 7zm28 2zm-14 1zm-4 4zm21 16zm-10-2zm-14 2zm9 16zm13 189zm3 7zm7 3zm13 1zm12 0zm14 4zm-35 5zm-9-3zm-19 2zm21 11zm25 0zm36-3zm1 4zm2-2zm10-5zm16-1zm-33 16zm-75 7zm56 3zm82-3zm20 16zm-67-2zm-53-2zm-10 1zm-62-3zm10 7zm9 2zm60 5zm21-6zm8 2zm18-2zm21-1zm2 1zm5 6zm21 9zm-42-4zm-47 4zm-23 0zm-72-5zm-4 10zm20 6zm53-1zm20 1zm35-6zm5-1zm1 1zm3 5zm13-1zm15-5zm14 1zm9 1zm-17 15zm-2-5zm-33 6zm-29-2zm-5-3zm-114-3zm-12 11zm117 2zm13 2zm90-1zm1-2zm-27 13zm-73-1zm-43-2zm0 6zm-4 1zm-9-5zm-20 3zm-47 0zm60 9zm25-2zm53-4zm35 3zm49 9zm-19 1zm-12 6zm-42-1zm-10-7zm-5-1zm-6 8zm-12-5zm-21-2zm-70 8zm-7-7zm-43 10zm8 2zm10 1zm5-4zm38 7zm62 1zm25-4zm25 1zm42-4zm23 1zm4-2zm-12 9zm-51 5zm-8-3zm-30-1zm-47 5zm-2-1zm-60 0zm-35 7zm24-1zm15 4zm25-2zm12 6zm35-3zm5-1zm64 1zm7-3zm32 2zm19-4zm-30 11zm0 0zm-99 6zm-55-6zm-5 1zm8 15zm35 0zm8-5zm16 5zm47-5zm36 1zm0-1zm3 10zm-11 5zm-15 1zm-62-1zm-49 0zm-17 0zm-25-4zm-4-4zm-24 3zm20 12zm56-3zm95 10zm-2-1zm-21 4zm-10 4zm-34-9zm-13 6zm-49 2zm-14-8zm-4 3zm20 13zm27-1zm53 2zm2-4zm21 5zm32-7zm2 8zm2-8zm9 0zm-14 12zm-17 1zm-6-2zm-43-2zm-5 6zm-27-2zm4 10zm23-4zm14 6zm4-1zm13-4zm22 10zm-25 4zm-20-4zm-25 3zm-2 2zm-3-5zm-25 6zm-4 3zm49 1zm6 3zm19 11zm-37-2zm8 201zm46 16zm-21 9zm-2-4zm-44 3zm-5 10zm11-4zm23 2zm26 3zm38 9zm-34-1zm-4 7zm18 0zm6-1zm8 4zm1-5zm12 16zm-24-5zm-39 4zm-40-6zm-1 6zm-52 9zm19-6zm77 7zm3-2zm15 0zm7 1zm34 9zm-36-5zm-88 7zm-3-3zm-10 4zm-15 8zm21-3zm52-3zm6 3zm62 6zm18-2zm-121 4zm-1 3zm-15 3zm-8-3zm-5 2zm0-1zm52 8zm2 0zm56 1zm51 2zm13 11zm-45 2zm-91 0zm-80-9zm-1 0zm15 15zm8 3zm21 0zm18-2zm17-1zm124 9zm-6-4zm-3 8zm-13 0zm-7-5zm-83 6zm-11 0zm-6-1zm-42-6zm-49 13zm18-4zm52 7zm12 0zm25-6zm20 5zm88-2zm17 8zm-7 3zm-35 2zm-52-6zm-54 0zm-90 8zm2 8zm5-6zm0 7zm10-2zm16-6zm5 0zm21 5zm78-6zm2 1zm4 7zm1-1zm47-1zm12 3zm31-4zm4 4zm-11 5zm0 2zm-34-6zm-29 1zm-44 5zm-2-3zm-21 6zm-19-3zm-79-3zm-2 12zm15 4zm86-1zm78-1zm71 0zm-47 12zm0-2zm-2-3zm-13-3zm-146 7zm-2 0zm-1-3zm-1 1zm-4-4zm-12 13zm50-1zm75-3zm9 4zm23-3zm29 5zm-54 11zm-6-7zm-46 6zm-7-2zm-31-2zm-9 1zm-15 9zm3 0zm167 2zm23 4zm2-2zm-15 3zm-6 0zm-145 5zm-24 10zm50-4zm7 2zm41-1zm8 0zm78 10zm-33 3zm-5 3zm-14-6zm-69 0zm-25 3zm104 9zm5 11zm-94 9zm13 5zm15-8zm36 4zm6 4zm17-5zm10-2zm-8 11zm-32-2zm-49 15zm4-5zm7 3zm3 5zm20-1zm5-4zm38-3zm-67 9zm128 159zm-62 3zm-37 7zm-8-1zm-41 1zm7 8zm5-7zm13 3zm31 4zm60 0zm1-2zm49-4zm18 15zm-18-5zm-18-1zm-51 3zm-47 3zm-14-6zm-58 4zm-26 10zm91-4zm0 9zm4-9zm35 2zm35-2zm39 6zm12-6zm30 13zm-66 4zm-4-7zm-15 4zm-30 2zm0-1zm-51 4zm-11-7zm-15 16zm12 0zm30-4zm2 1zm17-4zm11 5zm9 0zm21 2zm8-5zm26-2zm18 3zm7-3zm28 5zm-11 12zm-39-1zm-46 0zm-3-7zm-6 9zm-40-5zm-11 2zm-6 1zm-36-7zm-54 14zm27 3zm54-1zm3 3zm15-7zm12 0zm10 5zm32-1zm1-1zm10 1zm11-5zm52 13zm-9 3zm-13-1zm-25 1zm-17 1zm-14-8zm-9 6zm-14 2zm-33 0zm-34-8zm-4 1zm-62 8zm8 6zm25 2zm29 2zm54-7zm24-2zm0 8zm47-6zm2 3zm27-5zm42 5zm34 7zm-16-2zm-45 6zm-1-3zm-2 0zm-22 1zm-20-3zm-28 7zm-47-4zm-36 1zm-16-2zm-16 5zm-29 0zm-20-6zm52 16zm38 1zm38-1zm2-8zm35 7zm1 2zm35-6zm1-3zm40 1zm19 0zm1 8zm22-3zm-19 12zm-62-8zm-28 7zm-15-4zm-28-2zm-33 0zm-44-1zm-78 14zm88 4zm14-6zm18 1zm11 5zm26-1zm1 1zm66-3zm29 0zm61 5zm-33 7zm-55-5zm-16 1zm-33-3zm-36 7zm-22 0zm-15-6zm-5 5zm-35 0zm-43-4zm-25-1zm44 16zm78-1zm3 0zm1 3zm25-1zm111-6zm39 6zm3-1zm-74 4zm-10 1zm-27 5zm-50-7zm0 3zm-2 5zm-42-7zm-39 0zm-40 10zm34 4zm1-2zm44 0zm21-1zm63 1zm19-2zm33 6zm32 2zm-63 5zm-36 4zm-21 1zm-30-2zm-23-1zm-14 0zm-27 0zm-10 1zm-18-5zm61 8zm5 1zm82 2zm33 1zm25-1zm15-2zm12 3zm11 9zm-13 6zm-83-2zm-62-2zm-10 7zm26 7zm2-1zm22-3zm25-1z"/>
<path stroke="#5a7a3a" d="M400 1555zm-46 9zm9 3zm6-1zm2-5zm11 0zm25 0zm-6 16zm-46-7zm-7 3zm-8 8zm9 7zm18-1zm42-4zm24 5zm48 7zm-6 3zm-80-3zm-15 4zm-2-9zm-68 0zm40 10zm80 9zm30-6zm17 0zm6 5zm-142 4zm-45 6zm0 5zm15-2zm29 0zm31 7zm26-4zm56-1zm22 6zm6-9zm-1 16zm-13 1zm-11 1zm-27-1zm-11 1zm-33 1zm-32-9zm-3 3zm-8 0zm-18 2zm-16-5zm-32 8zm12 3zm46 7zm92-7zm75 12zm-11-3zm-27 7zm-33-4zm-37-3zm-100 7zm-4-6zm37 12zm14 2zm19-5zm18 7zm52 1zm9-2zm16-4zm10-2zm5 2zm3 2zm1 3zm19 9zm-18 1zm-53-4zm-66-3zm-24 9zm-25-9zm-21 1zm-29 3zm21 13zm52-4zm134 2zm-29 11zm-2-3zm-19-1zm-14 0zm-58 3zm-65-2zm-14-3zm-16 6zm57 5zm53 7zm82-3zm31-3zm9 15zm-56-4zm-71 1zm-48-2zm-72-2zm3 14zm44-3zm1 3zm69-4zm3 5zm94 0zm-38 7zm-19 1zm-2 6zm-47-2zm-2-3zm-10 5zm-43-3zm-22-5zm-31 9zm9 3zm53 1zm82 0zm33 5zm-42 6zm-34 1zm-20-5zm-6 7zm-32-7zm-18 7zm-18-8zm6 14zm28-2zm9 2zm19 4zm118-1zm-67 12zm-33 0zm-5-6zm-65 0zm25 14zm60 0zm14 2zm-85 7zm9 4zm25 4zm18 5zm19-8zm21 1zm34 4zm-26 11zm-4 1zm-44-5zm-4 2zm-10 2zm1 4zm41 3zm22-2zm-18 11zm-25-2zm-17 7zm19 203zm32 5zm17-1zm3-1zm1 14zm-24 1zm-19-7zm-17 7zm-1-2zm0-7zm-22 9zm-2-5zm-2 13zm48-5zm6-1zm21 8zm5-7zm12-2zm-8 16zm-5-5zm-2-1zm-2 0zm-29 6zm-16-2zm-16 0zm-9 0zm-4 0zm8 12zm2-5zm9 0zm32 1zm23 1zm29 1zm6 2zm4-6zm2 12zm-16-1zm-32 5zm-6 1zm-6 0zm-6 2zm-33-1zm-10-4zm-1-4zm-1 6zm-4 1zm-11-7zm-10 7zm-1-6zm-6-1zm31 17zm14-1zm9 3zm4-7zm30-1zm15 4zm39-3zm5 1zm11-3zm-38 19zm-11-2zm-7-4zm-2 3zm-22 3zm-32-7zm-4 2zm0 0zm-5 1zm0 2zm-29-5zm-21 9zm11 7zm41-4zm17 3zm15-6zm16 0zm36-1zm25 4zm4 3zm7 7zm-105 2zm0-1zm-3 4zm-5-9zm-13 2zm-52 7zm-1 10zm70-4zm0-4zm2 4zm9 1zm8-5zm17 3zm53-4zm5 4zm42 8zm-13 6zm-38 1zm-124-2zm-16 1zm-21-6zm-4-1zm-7 2zm-6 6zm-3 5zm27 0zm22 3zm2-6zm19 4zm16 1zm10-4zm6 2zm19 1zm8 3zm32 1zm3-5zm2 5zm12-9zm1 2zm18 5zm7-6zm29 7zm2 5zm-2 2zm-3-3zm-28 7zm-25 0zm-11-9zm-3 1zm0 1zm-33 4zm-20 1zm-7 1zm-53-7zm-12 1zm-4 0zm-28 11zm2 4zm26-7zm6 3zm47 1zm20 4zm2-7zm15 5zm61 2zm26-8zm-24 17zm-60 0zm-15 1zm-3-2zm-8 0zm-5-5zm-8 6zm-6 0zm-15-5zm-6 4zm-37 1zm-16 0zm-8 0zm-7 0zm-10 7zm8-2zm3 2zm14-3zm57 1zm28 2zm7-4zm28 0zm17 6zm0-1zm21 4zm24 0zm12-5zm14 8zm-30 2zm-75 3zm-27-1zm-27-2zm-14 5zm-14 0zm-1-7zm-5 6zm-5-2zm-4-1zm-15 1zm0-3zm-3-1zm-13 7zm0-1zm20 2zm22 8zm34-6zm45-2zm7 1zm26 0zm10 2zm37 5zm3-6zm8 5zm1 2zm11-8zm-19 9zm-11 3zm-33 6zm-52-4zm-65 2zm-10-3zm-32 2zm16 9zm19-4zm6 2zm47-3zm2 5zm1-5zm5 3zm7 4zm20 0zm4-4zm15 5zm11 1zm28-3zm30-1zm1 4zm29-7zm-14 13zm-1-3zm-30 2zm-1-1zm-5 2zm-2-1zm-19-2zm-3 4zm-13-5zm-37 7zm-14-7zm-16 5zm-21 0zm-2-2zm-2 3zm-2-1zm-6-5zm-31 2zm0 4zm-7-1zm59 7zm11-3zm3 0zm7 6zm10 2zm47-1zm32-2zm5-4zm25-1zm-152 15zm-25-2zm11 8zm9 0zm19 2zm71-1zm25-2zm3 2zm4 2zm31 2zm-33 11zm-4-4zm-14 4zm-4-3zm0 1zm-16 4zm-53-7zm4 15zm6 2zm29-7zm28 1zm54 0zm11-3zm0 1zm8 0zm-7 9zm-16 5zm-16 3zm-57 1zm-59 3zm51-2zm4 5zm4-2zm2 4zm2-1zm23-1zm28 1zm21 1zm-19 10zm-5-1zm-2-5zm-38 5zm-32 1zm-3 2zm-13-9zm48 16zm-3 7zm-17-1zm-12 2zm67 147zm67 14zm-40 3zm-81-5zm-44 6zm20 8zm7-1zm40 3zm54-4zm54 4zm14 3zm-48 6zm-6-5zm-8 5zm-37-8zm-56 6zm-57 8zm26-4zm39 4zm13 2zm12 3zm31-5zm36 4zm3-4zm25 5zm14-7zm27-1zm11 15zm-5-5zm-5 5zm-4-4zm-61-1zm-13 3zm-40 5zm-5-8zm-3 0zm-23 1zm-10 0zm-1-2zm-43 3zm-6 6zm-18 0zm-22-2zm6 11zm4-6zm32 0zm6 7zm0 0zm15-4zm54-5zm23 3zm9 5zm16 1zm14-2zm9 2zm5-5zm62 4zm13-4zm-49 6zm-8 2zm-42 2zm-6-1zm-19 6zm-22-4zm-2 1zm-55-1zm-2-4zm-24 1zm-2 0zm-16 6zm-1-1zm-7-1zm-1-6zm-22 3zm4 8zm10 8zm6-7zm6 2zm28 4zm56-6zm39 5zm6-1zm2 0zm8-4zm5-2zm2 1zm13 5zm7 0zm8 2zm10-6zm8 3zm1 1zm23 2zm8 1zm34-4zm1 11zm-9 1zm-34-2zm-70 3zm-8-4zm-15-2zm-1 2zm-17 1zm-9 0zm-1-1zm-9-3zm-9 5zm-1-5zm-10 4zm-4 0zm-7-3zm-13 6zm-19-1zm-3-6zm-3 6zm-21-7zm-15 7zm-21 12zm34-6zm10 4zm46-1zm27-6zm9 0zm7 4zm4 4zm6-5zm6 5zm0-2zm5 3zm28-7zm5 1zm6-1zm1 4zm12 2zm47-7zm37 5zm-18 13zm-6-7zm-1 0zm-15 2zm-18 3zm-1 1zm0 1zm-5 0zm-4-4zm-21 3zm-7-6zm-20 4zm-4-3zm-11-3zm-3 3zm-11 3zm-11-5zm-7 1zm-33 4zm-4 0zm-8 3zm-12-4zm-16 3zm-28-6zm-5-2zm-4 9zm-30-2zm-1-4zm42 10zm8-3zm29 6zm3 1zm25 1zm26-1zm2-7zm7 5zm5-4zm15 8zm3-9zm29 4zm31 2zm73-5zm19 7zm25 8zm-16-3zm-7 1zm-26-3zm-5 5zm-5-1zm-39 1zm-4 0zm-30-2zm-49 4zm-22-1zm-2-3zm-4-3zm-26 8zm-16-6zm-28 6zm-34-9zm14 10zm13 8zm3-4zm31 5zm19-8zm58 1zm49 0zm4 6zm11-1zm11-7zm3 4zm5-2zm7 2zm36-3zm1 5zm32 2zm-7 6zm-18-3zm-1 3zm-45-4zm-12 5zm-13 2zm-8 2zm-19-4zm-5-3zm-12-1zm-25 1zm-68 7zm-30-5zm-9 3zm-12-7zm-9 3zm-8 3zm7 12zm8-3zm80-2zm4 4zm1 1zm11-4zm25-2zm0-1zm11 1zm70 0zm7 3zm-90 5zm-27 2zm-16 2zm-6 4zm-74 0zm-3 2zm9 8zm42 1zm3-9zm43 6zm22 0zm6 3zm9-4zm0 0zm13-4zm5 1zm54 7zm18-9zm2 5zm0 2zm-52 9zm-3-5zm-1-1zm-22 1zm-13 4zm-7 2zm-6 0zm0-3zm-18 1zm-5 3zm-11-2zm-7-4zm-28 6zm-8 0zm-33 6zm11-1zm0 1zm3-3zm16 8zm1-9zm6 0zm1 6zm22-3zm12 2zm43-3zm86 4zm-29 9zm-19-5zm-6 6zm-61-1zm-11 1zm-5 0zm-59 2zm-1-2zm-11-6zm59 15zm4 1zm5-2zm11 0zm106-1zm-33 7zm-3 9zm-79-2zm53 5zm32 3z"/>
<path stroke="#6e7c52" d="M364 1556zm82 24zm26 12zm-25 6zm-17-7zm-101 15zm156 5zm-41-1zm-58 12zm3 1zm86 8zm-32 1zm-113 16zm2-6zm17 10zm-75-2zm205 27zm-35-2zm-84 4zm-55-4zm-56 13zm148-2zm-61 9zm99 17zm17 15zm-98 12zm-105 10zm92 8zm49 22zm21 10zm-31 9zm-86 0zm31 7zm85-5zm-125 26zm67 6zm-23 4zm28 215zm-43 12zm26-1zm16-2zm-61 14zm55 21zm-55 2zm-23 0zm21 6zm120 8zm-68 6zm-3 0zm-26-7zm-69 18zm22-4zm130 5zm28-9zm-69 16zm-37 2zm-39-8zm-61 19zm107-4zm95 11zm-36-5zm-3 0zm-15 0zm-17 5zm-99 8zm0 2zm45 1zm141-1zm-10 10zm-3 0zm-52 2zm-25-7zm-132 12zm35-2zm146 7zm11-6zm40 4zm-66 7zm-41 0zm-140 10zm89 5zm23-3zm48 4zm37 4zm-7-1zm-2-2zm-148 2zm-43 17zm38-2zm69-2zm42-3zm19 3zm65 9zm-61-1zm-7 6zm-133-5zm82 12zm18-4zm25 2zm23-4zm23 3zm15-3zm-141 10zm-24 3zm-3 3zm-8 3zm123 10zm-7 4zm-24 3zm48 10zm40-3zm3 8zm-50 2zm-4 6zm-17 0zm-18-1zm-7 1zm73 4zm-38 11zm-14 5zm-65-9zm15 10zm103 9zm-17 3zm-103 1zm19 16zm6-1zm43 5zm-13 160zm-61 9zm213 15zm-73-7zm-142 5zm-6 11zm210 11zm-121 6zm30 3zm55-1zm-119 8zm-71 4zm70 12zm2-4zm61 2zm-13 4zm-29-1zm-17 9zm-59-3zm34 9zm24-1zm31 3zm15 0zm27-3zm47 12zm-75-5zm-11 7zm-4 1zm-3-7zm-26 7zm-56-5zm49 7zm4 5zm62 0zm93-5zm6 10zm-80 3zm-58 3zm-11 2zm-79-2zm-43 7zm27 5zm46 0zm35-7zm10 2zm43 4zm46-3zm85 12zm-97 2zm-31 0zm139 6zm-48 13zm-149-7zm-27 3zm-34-2zm136 16zm2 10zm-166 10zm131-6zm14 4zm17-5zm0 14z"/>
<path stroke="#7e2a24" d="M372 175zm-23-3zm15 8zm25 5zm35 7zm-10 0zm-63 7zm-43-8zm23 14zm31 2zm21-4zm2 6zm5-3zm11-5zm11 6zm30 0zm15 8zm-59-1zm-16 3zm-21-1zm-28-3zm-29 0zm-7 4zm-8 2zm-18 9zm26-2zm9-2zm7-2zm36 5zm21-2zm16 3zm49-2zm16-4zm42 6zm3-7zm-28 16zm-10-5zm-191 5zm-11 3zm43 5zm38 0zm1-1zm11 4zm6-3zm18-1zm22 5zm10-6zm5 1zm1 4zm1-2zm17 0zm10 3zm1-2zm31-3zm14 2zm3-4zm21 4zm5-3zm8 5zm-38 4zm-4 5zm-46-2zm-24 4zm-1-8zm-61 5zm-1 1zm-33-7zm-12 8zm18 9zm11 2zm38 0zm7-3zm12-3zm1 5zm3 1zm24-5zm42 4zm6-4zm57 12zm-25 2zm-41 1zm-72-2zm-8 2zm-19-8zm-10 7zm-23-6zm-28 7zm-8-9zm-17 5zm0-2zm-3-2zm-8 5zm8 8zm45 0zm28 5zm20-1zm26-7zm60-1zm19 3zm6 3zm10 8zm0-1zm-32 6zm-16-3zm-10-3zm-9 2zm-16 1zm-40-3zm-42 3zm-6 3zm-26-1zm-26-4zm65 14zm27 1zm6-9zm46 4zm40-1zm85 7zm-10 5zm-41 3zm-8-1zm-54-3zm-22-4zm-116 17zm2-5zm14-2zm40 6zm28 2zm59-3zm16 1zm17 0zm30-5zm26 5zm16-5zm-4 13zm-14 0zm-24 3zm-63-1zm-53-2zm-30-3zm-10 7zm-4-3zm-6 2zm-8-3zm-4 4zm-3 0zm-13-2zm0 0zm-14 0zm31 11zm38 1zm25-8zm11 8zm9-1zm0-1zm45 1zm13-2zm8-2zm33-1zm2 0zm8 1zm5-3zm-17 18zm-18 1zm-40-6zm-8-3zm-6 4zm-37 4zm-10-7zm-2 5zm-16-6zm-47 8zm118 7zm3-2zm29-2zm7 2zm17 0zm2-1zm1 13zm-44-2zm-30 5zm-28-8zm-54 1zm34 11zm2 2zm18-1zm24-3zm-77 203zm-49 14zm-9 9zm30-2zm13-1zm-36 14zm41 32zm2 5zm-6 5zm-4-7zm-10 3zm-2-2zm-1 3zm-26-2zm-3 3zm7 10zm3-1zm9-5zm1 3zm9-2zm1 5zm2-6zm10 6zm9-6zm5 6zm4-3zm5-4zm30 7zm-13 11zm-3-8zm-3 0zm-12 4zm-5 1zm-1-5zm-14 9zm-3-8zm-3 1zm-10 3zm-3 1zm-1-1zm0-5zm-4 0zm-8 4zm-2-2zm-1-1zm-6 4zm-3-1zm-7 11zm3-1zm3 5zm5-7zm3-1zm1 6zm2-3zm4 4zm3-6zm0 7zm4-9zm2 1zm1 8zm1-6zm1 2zm2-1zm3 2zm1 2zm2 0zm4-6zm9 2zm4-4zm1 3zm0-2zm0 6zm3-6zm0 4zm1-1zm1 2zm2 0zm6 1zm1-1zm0 1zm2-2zm4-2zm4 3zm9 2zm1-2zm10 13zm-8-2zm0-5zm-1 1zm0 2zm-1 1zm0-6zm-2 6zm-3-2zm-2 5zm-10-2zm-5-6zm-2 3zm-5 1zm-1-5zm-1 2zm-3-2zm-3 5zm-5-4zm-1 5zm-1 0zm-5-4zm-2 6zm0-7zm-3 8zm-4 0zm-2-6zm-3-2zm0 2zm-6-2zm0 7zm-1-1zm-3-1zm-1-3zm-1-1zm-1-1zm-5 8zm-2-3zm-5-2zm-6-1zm0 0zm-5 0zm-2 3zm15 6zm1 0zm12 7zm8-8zm3 0zm1 5zm8-1zm0 1zm5-4zm0 3zm1-2zm2 5zm3-7zm1 6zm5 0zm3-5zm1 1zm2 1zm0-4zm3 7zm1-1zm1-4zm1 1zm5 6zm10-2zm2-5zm0 4zm0-2zm10-3zm-4 14zm-1-3zm-3-2zm-3 2zm-1-2zm-1 0zm-5 6zm-3 3zm-4-3zm-6 0zm-5 1zm-11 0zm-2-6zm-3 4zm-7 4zm-10-2zm0-3zm-1-3zm0 8zm-7-9zm-4 4zm-4 5zm-3-2zm-8-6zm14 13zm3 0zm2-1zm2 1zm2 0zm1 5zm7-5zm11-3zm5 6zm2 1zm6-7zm3-1zm2 6zm0-5zm9-1zm2 9zm2 0zm2-9zm1 3zm9 4zm-4 3zm-10 0zm-7 0zm-10 0zm-3 9zm-2-6zm-4 5zm-1-5zm-2 2zm-1-2zm0 6zm-4-5zm-2 4zm-5-6zm-5 1zm-1-1zm-1 4zm8 9zm17-3zm3-1zm2 3zm-8 352zm-27 6zm3 5zm25-6zm-69 14zm-3-2zm69 8zm53 1zm-48 26zm34-2zm15-2zm8-1zm4 0zm-79 14zm-4 2zm-31-1zm-30-3zm25 13zm22-8zm19 4zm3 5zm4-5zm15 3zm45-3zm2 14zm-69-3zm-1 0zm-2-1zm-50-2zm69 16zm1-4zm1 1zm3-3zm17 4zm28 13zm-8-9zm-46 1zm-7 5zm-2 0zm-5 0zm-61 7zm12 5zm5 1zm1-8zm46 7zm21-2zm31-3zm13 0zm1 8zm-97 3zm-5-2zm0 1zm-1 2zm-1 1zm0-4zm-3 7zm0-3zm-5-3zm-1-3zm-1 5zm0-1zm-5-2zm-2-1zm-11 7zm-5 0zm-3-2zm-1 7zm4 5zm3-7zm1 6zm2-6zm3 4zm2 0zm1-5zm5 2zm2 7zm5-5zm11 5zm2-6zm4 6zm71-2zm8-5zm5 7zm38 1zm-3 7zm-32-2zm-26 3zm-61-8zm-1 8zm-1-1zm-5-4zm0 6zm-2-6zm-1 5zm-2-3zm-3 1zm-2-2zm0 3zm-6-3zm0-1zm0-2zm-5 1zm-1 2zm-4 1zm-4-2zm-5 1zm0 0zm-2 2zm-7 6zm8 1zm2 6zm3-3zm1 0zm2-2zm1-2zm5 3zm2-2zm2 3zm3-4zm1 7zm2-7zm2 2zm7 0zm3-4zm134 2zm7 0zm1 2zm-6 7zm-6 5zm-30-1zm-14 2zm-3-4zm-4 5zm-12 1zm-1-5zm-33 0zm-30 4zm-3-2zm-4 1zm-1-5zm0 2zm-14-1zm-2 5zm-1-5zm-1 1zm-8-2zm22 15zm28 1zm15-8zm30 7zm1-2zm4 4zm9-1zm1-3zm4 1zm5-3zm0 5zm6-4zm6 5zm4-5zm11 4zm21-5zm-17 13zm-10 0zm-2 0zm-4 0zm-8-2zm-2-4zm0 4zm-5 5zm-1-4zm-1-2zm-1 4zm-2-1zm-5 0zm-1-5zm-1 4zm-2 2zm-9-1zm-1 3zm-5-5zm-8-4zm-34 8zm-36 0zm10 10zm54-4zm2-1zm14 0zm5-2zm0 6zm1 2zm0-1zm3-5zm3-3zm3 5zm1 3zm2-7zm3 0zm0 1zm2 5zm4-5zm6-1zm2 2zm1-1zm4-2zm5 7zm2-6zm0 0zm4 7zm63 1zm-53 6zm-11-4zm0-1zm-1 0zm-1 0zm0 8zm-1 0zm-4-1zm-3-6zm-1 1zm-11 6zm0-5zm-3-1zm-1 6zm-3-3zm-1 0zm-13-4zm-2 1zm-1 2zm-1-3zm-3 2zm-84 4zm26 7zm31 2zm13 0zm0-6zm2 6zm1-6zm4 3zm0 3zm5-3zm2-2zm2 8zm2 0zm6-1zm2-3zm2 1zm3 1zm1-7zm2 8zm6 1zm7-3zm1 3zm7-5zm3 5zm3-5zm12-4zm1 0zm2 8zm11 2zm-20 8zm-6-8zm-2 2zm-3 4zm-11-4zm-1-2zm-1 9zm0-1zm0-7zm-6 1zm0 3zm0 0zm-1-1zm0-4zm-1 8zm0-4zm-5 1zm-1-4zm-1-1zm-12 2zm-1 1zm-5-2zm-12 0zm-19 7zm-8-7zm-1 10zm19 8zm15-1zm5-7zm1 7zm4-7zm2-1zm8 6zm0-1zm0 4zm3-9zm2 4zm3-3zm0 6zm2 0zm5-4zm3 4zm0-7zm2 8zm0-5zm0 2zm1 2zm2-7zm3 8zm0-3zm4 0zm2-3zm4 7zm7-3zm47-3zm17 14zm-65-5zm-3 6zm-2-2zm-1 2zm-6 1zm-3-4zm-1-3zm-10-1zm0 1zm-7 1zm0-3zm-1 8zm-2-8zm0 6zm-2-3zm-5-2zm-3-1zm-1 1zm-1 6zm-2-7zm-2 7zm-8-6zm-6-1zm-14 3zm19 12zm6 0zm3-4zm0 8zm14-7zm1 7zm7-2zm0-1zm1-4zm1 1zm1 2zm4 0zm3-2zm1 5zm1-7zm2 4zm3-2zm4 2zm9-3zm16 5zm38-4zm-38 12zm-10-2zm-5 4zm-14-4zm-27 5zm-4 0zm-2-4zm-6 3zm-1 1zm-37-8zm29 19zm8-9zm5 4zm19-2zm1 1zm2 1zm1-3zm0 4zm4-3zm3 0zm1 3zm-5 7zm-6 0zm33 182zm-17 5zm45 10zm42 4zm-18 5zm-9 1zm-2-4zm-3 1zm-12-5zm-3 6zm-19 1zm-4-7zm-7 0zm-6 13zm4 2zm23-6zm9 0zm7 0zm11 2zm58 1zm11 16zm-12-1zm-14-7zm-52 6zm-18 2zm-13-5zm-33 0zm-4 2zm-10 0zm56 6zm92 11zm-86-2zm-22 0zm-29 4zm-20-3zm-6 6zm-2 1zm31 4zm31-2zm1 4zm10-4zm20 0zm59 2zm15 4zm0-3zm3 0zm5 4zm14-5zm-47 12zm-8 0zm-17-5zm-34 5zm-1-3zm-21 6zm-8 0zm-72 11zm28-1zm2 0zm15-7zm48 4zm40-1zm40 11zm-50-5zm-15 4zm-16 5zm-1-9zm-14 4zm-84-2zm-10-2zm24 16zm4-5zm30 4zm19 1zm35 2zm4-7zm10 0zm5 7zm13 0zm2-1zm14-3zm63-4zm9 11zm-23 5zm-2-1zm-1-2zm-22 1zm-13 4zm-18-4zm-101 5zm-5-8zm-22-1zm-12 6zm-19-2zm0 8zm4 5zm1-6zm26 4zm39 0zm95 1zm23-1zm1 3zm4 1zm9-9zm-56 17zm-22-5zm-3 3zm-54-4zm-1 8zm-60 0zm-15-2zm-13 7zm3 1zm12-3zm14-2zm14 5zm31 1zm71 1zm34 0zm44-2zm12-2zm10 0zm-39 8zm-16 0zm-33 6zm-2 0zm-4-1zm-2-5zm-3 2zm-1 5zm-7-7zm-1 8zm-52-8zm-3 3zm-20 1zm-39 3zm-13 1zm-14-9zm15 17zm39-5zm2 1zm26-2zm56 7zm37-1zm13-4zm21-2zm14 2zm-44 10zm-5-2zm-21 5zm-21 2zm-78-6zm-26 7zm-1 0zm-22-5zm17 7zm11 6zm23 0zm19 1zm6 0zm27-4zm23 4zm4-8zm22 4zm34 3zm24-5zm0 3zm-15 14zm-3-2zm-61 2zm-35-2zm-21-1zm-23-1zm-9-4zm-9-1zm-17 0zm-18 13zm56 6zm76-2zm10 0zm6-5zm26 6zm7 7zm-8 1zm-17 0zm-28-6zm-12 2zm-3 2zm-16 0zm-6 4zm-10-4zm-37 2zm-18-6zm-2 0zm-16 3zm-1 10zm7 4zm24-5zm53 2zm42-3zm45 4zm-32 9zm-11 3zm-34-4zm-1 1zm-61-2zm-20 1zm32 12zm16-4zm24 6zm1 0zm11-7zm10 8zm21-4zm6 1zm18 3zm-35 3zm-24 4zm-22 4zm-29-4zm-12 7zm17 7zm0-7zm11 7zm15-1zm54-7zm1 9zm-11 3zm-40 6zm-4-3zm-2 1zm4 205zm59 13zm-16 2zm-8 1zm-7-4zm-36 0zm-28 12zm63 3zm9-8zm13 8zm13 8zm-25-1zm-6 1zm-49-3zm-19 12zm77-3zm0-1zm-46 15zm-10-3zm-2 0zm-5 4zm-1-3zm-6-5zm-6 0zm-36 7zm46 11zm6-2zm27-5zm24 6zm9-4zm10-1zm35-1zm16 0zm3 12zm-41 6zm-1-8zm-83 4zm-6 4zm-4-3zm-48-1zm1 9zm19-1zm97 6zm66-6zm-4 10zm-38-2zm-32 4zm-21 4zm-19-1zm-17-8zm-32 4zm-23 2zm-2 9zm72-3zm2 6zm13-5zm3-2zm22 1zm29 5zm21-2zm-34 6zm-40 6zm-22 0zm-44-1zm-16-5zm26 9zm102 8zm34 7zm-26-3zm-41 6zm-13-2zm-62-5zm-8 6zm-21 2zm-26 0zm47 10zm2-3zm14 3zm22 0zm9-3zm38 1zm29-3zm51-3zm25 9zm-96 6zm-17-1zm-130 9zm67-1zm7 5zm18-4zm30-1zm11 6zm4-7zm46 4zm-2 4zm-27 2zm-79 0zm-31 0zm-15 6zm-11-5zm-5 6zm-16-3zm1 6zm52 4zm8-2zm52-1zm23 3zm109 12zm-54-3zm-23-4zm-70 8zm-42-9zm-26 19zm3-8zm27 7zm25-7zm26 5zm2 1zm94-5zm-54 16zm-14-4zm-36 5zm-8-4zm-11-3zm-22 3zm-2 4zm-16-6zm-16 1zm44 13zm36 2zm62-8zm35 7zm14-7zm-37 17zm-16-2zm-10 3zm-7-5zm-69 2zm-41 4zm66 8zm46-2zm9-6zm59 8zm-18 11zm-108-3zm3 4zm3 9zm15-9zm28 5zm61 12zm-17 0zm-43-4zm-63 10zm40 0zm30 4zm22-5zm20 3zm-6 7zm-42 3zm-2-1zm-35 5zm-20-2zm64 6zm-20 11zm-3-4zm-25 1zm79 148zm3 9zm22-2zm31 13zm-60-1zm-23-1zm-40-2zm-48 13zm38-8zm8 8zm71 0zm29-6zm-93 10zm-18 6zm-2-3zm-45 9zm34 1zm2 2zm17-7zm8 3zm15 6zm11-4zm3-4zm11 5zm12-6zm10 7zm5-6zm12 4zm2 4zm7-7zm3 4zm7 3zm65-7zm8 13zm0 1zm-7-2zm-6-4zm0 2zm-22-2zm-29 8zm-55 1zm-51-5zm-2 5zm-3-9zm-12 6zm-4 3zm-21-1zm-30 11zm30-2zm28-1zm2-4zm35 7zm7-2zm6-2zm10-3zm17 4zm7 2zm8 0zm3-6zm74 7zm28 10zm-1-6zm-56-1zm-21 0zm-15 0zm-8-2zm-29 2zm-47 6zm-22-7zm-21 1zm-1 3zm-32-4zm-12 2zm24 16zm9-4zm3 3zm5-4zm5 5zm40-4zm25-4zm2-1zm2 2zm8 5zm26-2zm32 0zm7 1zm13-1zm56-2zm-41 16zm-19 0zm-67-4zm-2 0zm-42 1zm-10 1zm-1-1zm-19-5zm-29 6zm-16-6zm-21 2zm-14-1zm10 10zm32-2zm7 9zm14 0zm53-3zm23 2zm29-3zm44-3zm14 2zm40 0zm19 1zm18 6zm-6 5zm-11-4zm-46 4zm-39 0zm-20-1zm-13-1zm-22-3zm-11 2zm-1 4zm-51-4zm-5 0zm-14 1zm-5 0zm-33 3zm-27 0zm-3 9zm29-3zm56 6zm1-9zm47 2zm5-1zm1 4zm8 0zm24 1zm2 1zm2-6zm3 0zm7 4zm12 1zm25 3zm20-4zm17-5zm18 8zm41 8zm-23-2zm0 1zm-99 3zm-21-1zm-18-5zm-8 1zm-10 6zm-1-9zm-30 1zm-30 5zm-56-2zm-19-4zm63 10zm7 3zm25-2zm4 8zm1-5zm12-2zm18 5zm47 0zm8 2zm20 0zm80 0zm-62 3zm-7 7zm-21-7zm-2 3zm-1-3zm-41 0zm-19-1zm-24 3zm-3 4zm-5-3zm-27 4zm-65 8zm60-4zm6 5zm2-3zm5 4zm4 0zm45-3zm57-4zm30-2zm23 8zm22-6zm9 3zm3 2zm8-3zm1 2zm-2 5zm-53 1zm-11 1zm-26-1zm-38 1zm-22 6zm-15-1zm-13-6zm-40 5zm-45 0zm-17-1zm19 13zm1-1zm19 1zm12-1zm23 0zm27-8zm28 1zm35 5zm12-5zm89 8zm-65 4zm-37 3zm-5-6zm-26 4zm-80 1zm-36 12zm15-6zm8 3zm91 0zm18-2zm22-2zm74 5zm-31 12zm-32-1zm-115 2zm-16-7zm14 14zm8-1zm7 2zm12-3zm53 1zm39-1zm23-1zm9-2zm-24 15zm-54-1zm-24 6zm30 5zm12-4zm4-1z"/>
<path stroke="#8e5e96" d="M354 179zm-7-4zm74 8zm7 1zm7 13zm-3-1zm-27 0zm-24 0zm-55-5zm-4 0zm-5 1zm-1 4zm0-3zm0 8zm57 6zm59-4zm-40 12zm-16-1zm-28-2zm-21 6zm-31-3zm-13 2zm-1 1zm-13 0zm0-5zm-2 8zm47 8zm6 0zm3-5zm23-3zm14-1zm47 4zm31 3zm27-1zm43 10zm-18-1zm-9-3zm-44 2zm-42 4zm-9 0zm-29-3zm-7 3zm-8 1zm-20-1zm-15 0zm-4-6zm-47 8zm1 4zm1 0zm63-1zm58 1zm26 0zm73-1zm22 6zm-30 8zm-1 0zm-15-3zm-7-1zm-124 2zm-26-5zm-16 7zm-21 5zm2 1zm24-3zm18 9zm137 0zm15-7zm43 11zm-28 2zm-24-4zm-35 7zm-43-5zm-58 1zm-3 0zm-7-4zm-6 8zm-8-1zm-2 1zm0 0zm-19 11zm15-3zm73-2zm39-3zm36 8zm4-6zm9 3zm0-1zm33-3zm2 7zm38 8zm-39 2zm-7-2zm-1-7zm-24 5zm-9-5zm-30 9zm-2-3zm-4-6zm-27 7zm-7 2zm-83 0zm-24-7zm17 15zm40-5zm27 3zm21-5zm9 1zm21 8zm1-1zm14-7zm5 7zm22-7zm33-1zm1 5zm24 2zm14 2zm6 1zm-21 8zm-15-6zm-86-1zm-30 4zm-13-1zm-32 5zm-34-1zm19 7zm3-4zm9 4zm32 2zm5-4zm41-2zm50 4zm57 2zm13-6zm6 7zm-28 2zm-4 9zm-62-5zm-37-4zm-15 2zm-16 2zm-27-3zm-1 7zm-17-3zm-4 3zm-8-6zm-21-1zm13 16zm1-1zm11 2zm3-8zm23 6zm71-6zm36 6zm50-3zm2-1zm-8 9zm-21 3zm-51 2zm-51-2zm-13 2zm-11-2zm78 9zm15-3zm16 10zm-41 5zm0 2zm-2-1zm-16-1zm-15 6zm-56 197zm-1 1zm-6 0zm-1-4zm-2 4zm-1-4zm-23 9zm6-2zm4 0zm1 6zm9-1zm4-6zm2 1zm3 2zm1-2zm8 3zm2-5zm2 0zm82 5zm3 3zm34-8zm0 14zm-101-3zm-7 0zm-3 8zm-1-2zm-3-1zm-5 2zm0-7zm-7 6zm-1-6zm-13 3zm-4 5zm-2-9zm-11 0zm-2 4zm-1 4zm-2-7zm-2 7zm-1-2zm-3 2zm0-4zm-6 3zm-11 12zm19-8zm5 6zm0-1zm6-2zm1-2zm0 6zm4-4zm3 1zm0 3zm8-6zm1 1zm1 1zm8 2zm6-1zm5-2zm0-2zm0 1zm3 1zm3-1zm0 6zm0-3zm3 3zm3 0zm3-8zm10 5zm1 2zm1-5zm11 4zm2-2zm3 1zm80 3zm20-4zm-20 6zm-18 6zm-95 1zm-1-7zm0 9zm-3-8zm0 2zm-2 4zm-12-2zm-1-5zm-1 4zm-1-2zm-2 5zm-1 1zm-4-8zm-2 7zm-3 1zm0 1zm-15-9zm-6 8zm-1-6zm-1-1zm-4 2zm-2 6zm-1-3zm0 11zm1-2zm2 2zm0-6zm6 7zm3-7zm2 0zm5 7zm5-4zm14 3zm3-6zm4 0zm2 7zm0-8zm1 4zm1 0zm1 0zm6 3zm1-5zm8 3zm1-4zm8 2zm9-2zm2 2zm78 5zm9-3zm-42 7zm-62 4zm-1-4zm-6 1zm-3 0zm-9 2zm0-2zm-5 0zm-9 6zm-2-9zm-2 3zm-1 0zm-1-1zm-4 3zm-3-4zm-3 3zm-1-2zm0-2zm-2 1zm-5 6zm-1-3zm-9 0zm-6 6zm11 6zm1-4zm2 1zm0-2zm11-1zm8 1zm6-1zm5 1zm2 4zm1-5zm5 9zm1-7zm2 4zm9 1zm3-2zm12 4zm73-2zm44 3zm-32 4zm-3 5zm-10-2zm-2 2zm-89-8zm0 1zm-3 0zm-1 5zm-11 2zm-1-5zm-7 1zm-1-4zm-2 3zm-5-4zm-20 5zm-22 14zm42-2zm9-7zm23 9zm96-7zm29 6zm-117 2zm-14 1zm-26 5zm-2-5zm-11 6zm-3 0zm56 3zm76 0zm-59 16zm-40-3zm-27 4zm-1-5zm-11 5zm-4 9zm20-1zm4 3zm24-4zm14 1zm12 3zm4 3zm-33 5zm-7-4zm-29 4zm-2 0zm6 8zm3-4zm61 0zm-9 13zm-12 0zm-2 0zm-4 3zm-26 15zm-36 358zm23-1zm46-2zm14 10zm-20-5zm-28 3zm-11 2zm-18-4zm9 12zm14 1zm15-5zm1 5zm15-2zm2 2zm0 2zm5-4zm14 5zm8-4zm5 5zm16-7zm-23 17zm-5-3zm-14 1zm-16 1zm-2-7zm-10 1zm-46-2zm-26 12zm0 1zm24-1zm14-1zm18 2zm3 0zm5 0zm13 0zm39 14zm-20-6zm-57 2zm-9 1zm-5 3zm-15-7zm-24 4zm22 7zm36 1zm3 2zm13 5zm4-1zm15-3zm1-1zm2 0zm4 5zm2-6zm1 0zm1 3zm55-4zm-15 15zm-24 2zm-3 0zm-2-8zm-1 1zm-6-2zm-2 7zm-3 1zm-3-2zm-2-1zm-2 1zm-6 3zm-4-5zm-2 0zm-1 2zm0 1zm-10-4zm-24 1zm-21 1zm-21 0zm45 10zm15-2zm8-2zm0 6zm1 1zm4-1zm2-5zm3-1zm10 2zm3 5zm2-1zm0-3zm1-4zm0 5zm4-3zm6-1zm38-1zm-26 19zm-11-7zm-5 0zm-7 5zm-4-5zm-2-1zm-1 0zm-3 0zm-1 6zm0 2zm-1-2zm0-7zm-9 9zm-2-3zm-1-4zm-20 2zm20 11zm2 2zm8-2zm9 0zm6-5zm2 7zm1 2zm10-3zm2-5zm9 6zm0 1zm1-2zm15-2zm22 4zm11 0zm3 4zm-8 6zm-59-4zm-16-3zm-41 5zm-10-4zm-22-2zm-5 4zm-6 4zm17 8zm10 1zm1-7zm16 0zm8 2zm101 3zm20-1zm12 8zm-1 0zm-18 3zm-37 3zm-7-1zm-16-1zm-34 3zm-2-2zm-7 0zm-22 2zm-1-7zm-20 2zm-10-3zm-23 5zm6 11zm6-7zm3 9zm6-9zm2 1zm9 4zm16-3zm9 0zm4 3zm41 1zm42 3zm12-5zm45-4zm6 3zm-11 11zm-2-1zm-46-1zm-28 3zm-21 0zm-12-1zm-19 1zm-28 3zm-6 1zm25 5zm23-3zm26 3zm32 1zm51 4zm23 3zm-43-1zm-12 4zm-5 2zm-1-6zm-12 8zm-12-1zm-8-4zm-12 2zm-8-4zm-74-2zm-9 7zm-12-7zm19 18zm63-6zm23 1zm4-3zm18 5zm47 3zm43-1zm1 6zm-56-3zm-3 5zm-3 0zm-3 1zm-22-4zm-2 1zm-19 1zm-1 2zm-15 3zm0-9zm-21 1zm-34 4zm-12 11zm67-2zm3 0zm4 1zm14-4zm9 1zm11 3zm4 3zm12-8zm62 5zm2 4zm7 8zm-98 1zm-11-7zm-68 6zm-7-2zm100 13zm17 1zm0-1zm2-5zm1-3zm14 1zm17 8zm-10 9zm-6-1zm-38 1zm-70 1zm-15 1zm66 0zm57 0zm12 12zm-49 4zm-5-3zm-4 6zm18 5zm38 192zm-35-3zm44 16zm8-6zm22 2zm5 10zm-24-4zm-58 3zm-3 0zm-27 14zm13-3zm36-1zm89 13zm0-3zm-33 0zm-4 3zm-1 1zm-6 1zm-23-2zm-18-3zm-57 5zm-13 10zm9-8zm28 1zm30 3zm9-4zm6-1zm5 7zm14-4zm30-3zm7 3zm4 0zm16-3zm12 9zm-127 5zm-12 13zm12-2zm6-2zm12 4zm18-4zm26 5zm48-2zm-14 13zm-25-7zm-5 3zm-27 3zm-37 0zm-22-7zm-24 4zm-25 1zm2 7zm2 2zm34-5zm2 8zm19-8zm11 7zm48-4zm8 5zm8-1zm23-2zm10-1zm49 12zm-1 0zm-3 1zm-12-3zm-18 5zm-24-1zm-12-8zm-8 1zm-23 7zm-27-1zm-35-3zm-15 0zm-31-1zm-5 6zm-2 0zm-13 0zm-6 9zm42-5zm17 5zm20-6zm32 4zm9 0zm27 1zm32-5zm30-1zm17 10zm-7 1zm-19 5zm-74-2zm-22-2zm-6-3zm0 1zm-2 5zm-5 0zm-77-1zm-5-4zm18 18zm91-8zm10 6zm6-3zm29 3zm50 7zm-6 2zm-61 3zm-35-2zm-19-2zm-58 3zm-7-3zm-9 4zm-35-6zm-8 13zm5-2zm0-2zm2 6zm6-5zm18 3zm4-3zm23 0zm18-3zm12 3zm4 6zm23-3zm11 0zm1 2zm12-4zm23-3zm10 1zm1 3zm18 2zm5-6zm10 10zm-16 7zm-1-1zm-6-1zm-31-6zm-4 0zm-106 7zm-59 6zm19-3zm12 8zm5-7zm2 5zm22-4zm4-2zm31 3zm7 5zm16-2zm4-4zm7 2zm15 0zm8 0zm7-2zm49 0zm17 0zm14 1zm-27 7zm-10 6zm-24-1zm-13-3zm-19 2zm-83 0zm-3 5zm-17-9zm-11 0zm-1 6zm-12-4zm26 13zm3-4zm0 4zm43-4zm8 0zm26 5zm25 0zm47 2zm9 1zm-56 5zm-21 4zm-2-2zm-35-5zm-34-1zm-33 16zm26 3zm3-2zm2-3zm2 4zm57 0zm57-6zm8 4zm0 9zm-4 0zm-35 3zm-38-7zm-13 3zm36 15zm15 0zm36 10zm-38-4zm-8 0zm-10 1zm-21-3zm-5 3zm-10 3zm-22-5zm-16 0zm-5-2zm8 13zm30 4zm15-5zm9 1zm17 4zm11-2zm10-1zm27-4zm2 6zm10-5zm-30 7zm-32 6zm-10 2zm-35-2zm80 11zm3 5zm-28 5zm-32-5zm-2 0zm0 4zm2 4zm45 215zm-18 0zm-14 2zm-16 1zm-2 8zm33-2zm2 1zm14 3zm4 0zm42 11zm-25-4zm-45 7zm57 0zm-15 12zm-32-1zm-5 4zm-59-6zm-15 4zm19 10zm28 0zm37-1zm1-4zm17 2zm61 16zm-127-4zm-19-2zm-24 11zm115 0zm23 6zm39 3zm-98 3zm-75-1zm-24-2zm-3 4zm17 8zm38 0zm32 3zm25 5zm-21 6zm-7-7zm-19 5zm-2-4zm-40 3zm46 12zm17 2zm12-3zm84 2zm20 2zm-6 4zm-143 4zm-26-6zm-12 0zm0 5zm193 10zm-50 8zm-1-1zm-89-2zm-34 0zm-71 14zm12-6zm0 8zm143-2zm4 3zm1-2zm30 2zm2-7zm18 1zm7-3zm10 18zm-10-3zm-14 0zm-67 0zm-97-5zm-1 12zm6 6zm76-3zm35 0zm6-2zm55 0zm20 4zm10 2zm-28 2zm-13 5zm-6-1zm-35-3zm-28 6zm-30-8zm-64 1zm-15 17zm57-8zm8 5zm61 4zm26-2zm31-1zm4-6zm32 4zm-33 15zm-31-9zm-83 1zm-44-1zm97 16zm8-4zm54 1zm10 15zm-56-8zm-103 8zm-25 7zm76-1zm2 1zm30 0zm27-3zm6 6zm43-1zm-5 3zm-92 1zm-16 10zm76 16zm-80 0zm-31 2zm30 8zm31-4zm10 2zm18 0zm33 1zm-4 11zm-9 2zm-22-8zm-19 8zm0-3zm-9-5zm-16 8zm-28 5zm5 0zm7 4zm17-6zm15 3zm42-1zm34 165zm37 8zm-67-6zm-3 6zm-84-2zm-18 12zm68-3zm23 2zm64 1zm54 9zm-14 3zm-3-3zm-88-3zm-2-3zm0 2zm-39 7zm-47-5zm-39 5zm27 1zm18 8zm13-6zm27 0zm6 6zm6-5zm37-2zm4 0zm9 6zm47-2zm9-5zm12 4zm2-1zm16 10zm-14 1zm-14 1zm-6-1zm-30 4zm-36-5zm-18 5zm-64-5zm-7 0zm0 0zm-5 4zm-24-5zm-11 0zm-25 2zm-3 14zm9-6zm23 2zm26-4zm1 8zm88-6zm2 7zm22-4zm31 0zm15 2zm18-4zm4-1zm21-2zm0 11zm-42 4zm-2-2zm-41 4zm-5-3zm-4 0zm-9-1zm-44 4zm-32 2zm-6-2zm-4 0zm-38 1zm-49 8zm60-2zm14 5zm38 0zm19-2zm2-7zm10 7zm67-2zm40-1zm1 3zm33 1zm0 11zm-4-9zm-3 7zm-4 2zm-19-3zm-3-3zm-47 6zm-28-4zm-11 1zm-5-1zm-12 4zm-59-7zm-111-2zm38 18zm20-1zm77-7zm28 7zm16-2zm7 1zm4-4zm31 4zm12 1zm3-5zm48 7zm23-7zm6 16zm-17-4zm-9-3zm-80 6zm-10 0zm-33 2zm-32-5zm-55 1zm-4-2zm-47 2zm99 12zm3-7zm4 8zm2-4zm7-4zm9 6zm12-2zm1-2zm46 1zm0 6zm45-4zm22 1zm52 13zm-16-1zm-13-5zm-9 1zm-15 3zm-41 0zm-19 2zm-16-7zm-33 5zm-4 2zm-10-1zm-1-2zm-46-4zm-18 1zm-44 2zm-19 2zm-12 3zm5 5zm101-4zm6 7zm9-8zm8 8zm1 1zm4-5zm45-2zm13 3zm3 2zm16 2zm29-1zm7-4zm11 2zm10-6zm-12 17zm-36-1zm-6-5zm-1 8zm-27-3zm-2 1zm-1-3zm-5-1zm-18-1zm-17 0zm-6 4zm-3-1zm-15-5zm-7 7zm-12-3zm-30 3zm-7-3zm-40 2zm118 11zm44-2zm3 4zm5-9zm0 6zm18-4zm19 0zm11 7zm70-9zm-41 18zm-28-1zm-61-2zm-22 0zm-78-3zm-8 1zm-40-3zm58 14zm1 5zm8-6zm9 6zm22-2zm18-7zm37 2zm6-1zm53 2zm7 6zm10-1zm-5 3zm-48 5zm-16 1zm-1-6zm-24 5zm-37 0zm-7-2zm-2-1zm-31-3zm-6 2zm-47-1zm-21 7zm10 11zm25-1zm33-4zm86 1zm17 4zm18-3zm51-3zm-42 15zm-14-7zm-7 6zm-53-1zm-25-3zm-15 3zm-69-6zm31 10zm2 3zm12 1zm69 2zm76 1zm-36 10zm-15-4zm-14 6zm-26-6zm-25-3zm4 10zm29 7z"/>
<path stroke="#4e9090" d="M400 188zm21 0zm-85 14zm8-2zm5 6zm64 2zm70 3zm-21 3zm-40 1zm-97 0zm-21-2zm-6-3zm-13 12zm11 0zm27 3zm70 0zm3 3zm41-5zm46 5zm-130 9zm-33 0zm-38-2zm0-2zm-16 11zm44-3zm165 7zm40-5zm-60 15zm-41-2zm-78 0zm-33-4zm-15 5zm-13-5zm-6 6zm132 16zm-14-2zm-24 3zm-50-5zm-35 19zm44-8zm35 8zm108-9zm46 3zm-10 10zm-31-1zm-8 1zm-3 0zm-41 3zm-56 1zm-42 0zm-36-5zm-5 0zm-1 11zm86-2zm26-1zm35 18zm-127-5zm26 11zm103 0zm39 9zm-48 1zm-89 15zm44 0zm86-7zm-127 24zm46-4zm66 5zm12-2zm-15 10zm-24 7zm-69 167zm2 0zm0-9zm12 6zm3-2zm25 4zm2-5zm13 4zm10 2zm15 7zm-5-2zm-9 3zm-6-2zm0 3zm-2-3zm-1-5zm-3 5zm0-1zm-1 3zm-24-7zm-1 1zm-8 3zm-4 0zm-4 2zm-6 1zm-9-3zm-2-3zm-4-1zm-3 4zm-2-2zm-5 7zm-10 8zm5-4zm2-3zm13 3zm2 2zm1 1zm0-2zm1 5zm2-7zm6 1zm3 6zm14-3zm0-4zm3 2zm4-2zm0 1zm1 4zm0-6zm1 4zm6 0zm3-3zm4-1zm2 3zm11-2zm5 2zm6 5zm0 0zm8-1zm13 0zm1-7zm6 2zm-3 14zm-2 1zm-5-8zm-2 8zm-2-7zm0 0zm-7 8zm-2-9zm-2 8zm-7-3zm-11-1zm-1 0zm-2-1zm-2-2zm-2 0zm-1 4zm0-1zm-1 0zm-5-1zm-1 1zm-5-4zm0 4zm-2 5zm-4-7zm0 2zm-2 4zm-9-2zm0-1zm-4-3zm-1-2zm-2 3zm-2-2zm-7 5zm-5-5zm-2 2zm-2-2zm0 3zm-6 2zm-2 3zm0-3zm-5 1zm-4 1zm-1-1zm-2 2zm-6 6zm16-2zm4 6zm4-3zm5-5zm4 3zm18-1zm8 5zm11-4zm1-3zm2 2zm1-2zm1 3zm2 4zm12-8zm4 4zm4 1zm2-2zm0 0zm9 3zm0-6zm4 7zm2 0zm5 0zm4-5zm25 5zm-12 3zm-15 9zm-1-7zm-3-2zm-7 5zm-5 0zm-2 2zm-10-4zm-3-3zm-2 2zm0-2zm-1 2zm-8-2zm-6 3zm-1-2zm-3-1zm-1 6zm0-2zm-2-1zm-1 4zm-1 2zm-3-6zm-8-1zm-3 6zm-3-8zm-7 4zm-2 5zm-5-3zm-5 2zm-1-5zm-10 0zm-1 4zm-11 4zm17-1zm6 9zm12-4zm3 4zm2-7zm4-2zm7 3zm1 1zm2 5zm1-4zm7-2zm3-3zm2 3zm10-3zm2 2zm14 2zm6 5zm17-9zm3 6zm2-4zm16 14zm-10-2zm-1 3zm-95-2zm-16 6zm66 4zm6-3zm8 4zm10-6zm15 3zm11 6zm-3 6zm-7-3zm-6 4zm-7-2zm-24-3zm16 13zm2-4zm13 6zm22 1zm5-7zm-1 16zm-11-6zm-9 7zm-5 2zm-23 1zm23 3zm10 2zm2 6zm-21 1zm-132 435zm47 1zm-3 6zm-5 4zm-26 0zm-24-6zm-3-2zm-7 8zm-16-1zm-4 3zm6 4zm6 3zm11-2zm15-5zm24 0zm2 5zm27-4zm-39 13zm-10-1zm-5 0zm-3-1zm-4-2zm-11 5zm-3-2zm-8-3zm-3 7zm-2-2zm-1 3zm-6-5zm-8 0zm0 5zm-1 0zm0-5zm-7 3zm0-2zm-1 3zm-2-1zm-1 1zm-4 0zm-11 10zm4-2zm4-3zm1 6zm1-7zm2 6zm1-5zm1-2zm5 6zm2 3zm4-7zm11 7zm0-3zm4-4zm4 5zm1-5zm3-2zm0 6zm2-2zm2-1zm3-1zm4 5zm1-2zm5 4zm3-7zm50 5zm34-3zm-50 12zm-30-6zm-5 7zm-4-7zm-10 2zm-1 1zm-2 6zm-2-8zm-1 8zm-6 0zm0-4zm-1 4zm-9-4zm0 2zm-1-7zm-2 5zm0 4zm-1-9zm-3 7zm-2 0zm-2-2zm0-3zm-6-2zm-1 0zm-1 3zm-1 0zm0-3zm-1 8zm-2-5zm-1 5zm-2-3zm-2-2zm-1 1zm-2-2zm-2 7zm-17-3zm15 9zm2-2zm0-2zm1-1zm1 8zm2-1zm4-6zm3 3zm2 0zm2 3zm0-1zm7 2zm2 0zm0-6zm3 6zm1-1zm1 2zm0-3zm2-6zm1 0zm1 8zm1-8zm1 5zm0 0zm0-1zm5-3zm3 6zm1-2zm3-2zm0 6zm1-9zm1 5zm2-3zm0 5zm9-5zm1-1zm0 2zm10-3zm29 9zm55 3zm-57 5zm-32-3zm-4 3zm-1-3zm-8-4zm-4 6zm-2-6zm-1 0zm-3 2zm-4 1zm-5-2zm-1-1zm-2 7zm-7-5zm-3-1zm-2-1zm-11 7zm-1-6zm0 4zm0-1zm2 11zm2 1zm1-4zm1 3zm1 0zm7 2zm2 2zm0 0zm2-6zm8 6zm12-6zm1-2zm2-1zm3 8zm7-5zm1 1zm46-4zm13 2zm0-2zm6 2zm21-1zm-84 11zm-47 5zm5 8zm58-5zm12 5zm6-3zm2 2zm38-2zm-144 20zm1 1zm4 2zm5 0zm17 1zm21 1zm44-7zm24 8zm17-3zm7-1zm15-2zm7 2zm-101 8zm-5-2zm-6 3zm-32-2zm-11 18zm72-5zm17 3zm85 0zm27 5zm-13 7zm-26-9zm-24 4zm-1-4zm-39 3zm-46 6zm-11-3zm-45-5zm-5 2zm113 11zm79-1zm24-2zm6 5zm-37 5zm-23 0zm-64-1zm-19 3zm-50 8zm8 7zm2-2zm33 1zm81 6zm-17-2zm-112 9zm36 7zm69-2zm74 10zm-27 3zm-82-4zm-21 4zm-31 4zm17 1zm7 6zm122-6zm-43 14zm-33-2zm-23 1zm60 12zm0 5zm-22 4zm-40 0zm-9-3zm41 12zm29-1zm-12 5zm18 188zm-12 0zm60 5zm16 9zm-3 5zm-1-3zm-13 3zm-12-5zm-21 1zm-31 3zm-13 9zm18-4zm0 4zm18-2zm16 1zm3 1zm19 1zm21-2zm-6 15zm-13 0zm-9-2zm-5-7zm-4 2zm-15 6zm-24 1zm-48 10zm13-8zm6 4zm4 4zm21-9zm23 3zm4 3zm2-3zm14 5zm39-3zm46 2zm-12 12zm-6-3zm-141-5zm-4 4zm6 8zm15 1zm57 3zm48-2zm18 0zm22 6zm-27 7zm-42-2zm-19 1zm-22-3zm-6 4zm-56 1zm49 10zm15-2zm15-5zm72 3zm15-3zm34 5zm2-4zm-23 10zm-20 5zm-7-2zm-1 3zm-21-8zm-45 1zm-1 0zm-6 2zm-8 3zm0 0zm-4-3zm-6-1zm-92 3zm21 5zm29 8zm13-1zm21 1zm2-4zm31 1zm5-4zm65-1zm24 2zm10 9zm-26-2zm-20 5zm-56-1zm-14 3zm-25-6zm-6 2zm-40 1zm-4-4zm-12 14zm26-4zm41 2zm45 4zm4-4zm66 3zm3 0zm-8 11zm-72 2zm-5-7zm-38 1zm-51 2zm-11 5zm-4-1zm-1 0zm17 5zm26-3zm42 5zm101 12zm-23-6zm-1 2zm-10 3zm-14-5zm-46 4zm-7 2zm-2-4zm0 5zm-92 0zm-2 0zm-35-2zm11 7zm31 4zm41-2zm6-2zm142 3zm-5 7zm-8 0zm-42 1zm-20-2zm-2 3zm-1 3zm-11-4zm-27 5zm-37-5zm-14 3zm-15-5zm-10 6zm-1-3zm-38 4zm-9 7zm11-5zm7 1zm13 0zm7 5zm111-5zm53 15zm-60 2zm-31-9zm-30 3zm-21 5zm-3-7zm-5 7zm-36 1zm9 6zm64-3zm21-2zm11 8zm10-7zm25-1zm-1 19zm-53-7zm-13 3zm-33 2zm-8 9zm57 1zm1-5zm41-2zm4 0zm24 7zm15 3zm-23 1zm-45-1zm-24 7zm-21-4zm77 26zm-11-9zm-14 6zm-24-4zm-20 1zm-2 4zm-31-3zm30 8zm1 4zm44-4zm7 10zm-41 6zm0-3zm-4-1zm-4-3zm-14 0zm32 207zm46 8zm8 12zm-22-6zm-22 7zm11 4zm19 6zm9 5zm-60-2zm16 10zm31 0zm3 7zm36 10zm-100-7zm-41 1zm-3 15zm46 1zm102-3zm23 3zm-47 8zm-107-7zm152 14zm1-2zm-35 10zm-77-2zm-81 19zm48-8zm32 3zm1 0zm69-2zm0 2zm22 4zm42-2zm-21 13zm-5-9zm-26 5zm-65 2zm-8-3zm-28 0zm-19 5zm-24-6zm3 10zm18-3zm27 6zm58 3zm2-5zm34-1zm-26 12zm-49 3zm-67 3zm87 7zm12 1zm33-7zm23 2zm3-4zm1 3zm34 3zm-54 10zm-47 0zm-15-2zm-37 0zm-58 5zm-17-5zm6 7zm9 6zm7-7zm31 1zm45 4zm100-2zm-144 8zm-34 3zm-3 3zm-15-4zm-19 14zm16-5zm48 3zm41 0zm30-5zm111 17zm-5-1zm-12-4zm-13 4zm-32-1zm-19-2zm-7-1zm-15 5zm-33 2zm-21-2zm-30-6zm-51 13zm17-1zm2 3zm2-6zm49 8zm59-2zm10-4zm13-2zm5 8zm18-8zm20 4zm39 10zm-31-4zm-1 7zm-22-1zm-65-2zm-44 1zm-32 1zm-2-3zm-3 1zm-3 5zm15 1zm131 0zm30 2zm12 7zm-60 5zm-67 3zm-14-1zm-16 1zm61 6zm1 1zm15-3zm6 0zm25 6zm3-7zm11 9zm-87 1zm-15 16zm124 3zm-12 9zm-20-5zm-105 12zm2-1zm35-3zm76 7zm6 1zm-40 9zm-65-5zm-5 5zm71 7zm37-4zm12 169zm-23 2zm-97 12zm39 5zm56-5zm23 2zm78 8zm-12-4zm-8 8zm-51-1zm-19-5zm-16 6zm-21-6zm-14 2zm-63 4zm-51 3zm27 4zm26 1zm18-3zm52 0zm1-1zm18 7zm9-6zm23 5zm116 5zm-10 3zm-28-2zm-12 4zm-27-2zm-6-1zm-37-1zm-36-2zm-31 3zm-13 0zm-66 6zm44 5zm44-3zm14 2zm23 0zm2 0zm8-3zm14 2zm4-4zm4 1zm89 1zm-34 13zm-44-2zm-6-2zm-9 0zm-6 6zm-58 1zm-21-2zm-9-4zm-39 5zm-8-6zm-68 2zm57 13zm0 3zm46-3zm88-6zm6 3zm15 3zm4 2zm2-3zm13 3zm4-7zm14 3zm16-2zm2 1zm9 2zm61 7zm-53 4zm-2-6zm-53 7zm-1 2zm-7-4zm-43-1zm-6-3zm-43 7zm0-3zm-3-5zm-9 3zm-17 5zm-62 0zm-23 0zm101 4zm1 7zm10-3zm16-3zm14 5zm17-8zm22 2zm1 0zm2 5zm21-7zm49 5zm12 2zm14 1zm9 1zm10 3zm-16 0zm-74 5zm-24-2zm-12 4zm-3-8zm-46 0zm-20 7zm-27-4zm-5 4zm-2-6zm-16 3zm-6-5zm-16 4zm-43 12zm13 0zm19-2zm50 5zm1-8zm2 5zm13-2zm8 1zm3-1zm35 5zm1-6zm36 1zm14 0zm66 4zm21-4zm1 11zm-28 4zm-4-1zm-35-2zm-30 0zm-30 0zm-17 1zm-16 0zm-37-3zm-5-2zm0 6zm-66 0zm-1-4zm-3 4zm14 3zm27 4zm5 2zm4 0zm51 2zm30-2zm48 1zm6-8zm36 6zm27 3zm3-8zm12 7zm6-3zm3-1zm5 0zm25-3zm-37 14zm-33 3zm-9-3zm-4 2zm-25 0zm-10-6zm-8 2zm-4 3zm-2-1zm-18 0zm-18-2zm-5 4zm-22-1zm-17 0zm-15 1zm-85 6zm6 2zm40-3zm37 6zm1-7zm23 7zm3-8zm14 1zm17 6zm0-3zm42 0zm22 3zm25-2zm44-4zm-2 10zm-19 0zm-34 0zm-20 7zm-6-2zm-3-3zm-20 4zm-23-1zm-19 2zm-11-1zm-4-7zm0 7zm-25-4zm-32-3zm-8 1zm-31 9zm9 9zm12-2zm35-1zm43 0zm19 2zm2 0zm53 1zm16-9zm40 9zm-15 6zm0 4zm-2-8zm-11 8zm-74-9zm-22 0zm-18 0zm-1 5zm-78 1zm71 6zm38 6zm39-8zm7 7zm91 2zm-63 3zm-2-2zm-51 3zm-3-1zm-23 4zm-53 4zm48 2zm1 3zm0 1zm36 0zm21-4zm63-2zm-73 10zm-68 3zm-41-2z"/>
<path stroke="#3e2a92" d="M316 185zm15-4zm6 5zm9-1zm11-5zm6 3zm60 13zm-43-3zm-37-2zm-34 8zm-33 9zm8-1zm62 0zm6 2zm20-2zm26-4zm11 2zm62 6zm-3 2zm-51-1zm-27 3zm-82-1zm-39 9zm18 3zm2-5zm14 4zm70-1zm0-1zm56 4zm3 0zm28-3zm1-2zm10 2zm2-4zm-35 11zm-6 8zm-2-9zm-60 9zm-45-9zm-55 11zm60 1zm86-1zm54 4zm29-1zm-16 9zm-24 6zm-31-3zm-29 0zm-12-2zm-25 2zm-33 1zm-58-2zm-3 10zm39-1zm37 0zm7-4zm12 8zm5-5zm144-1zm-99 12zm-52 3zm-19-1zm-26-3zm-31 1zm-14 3zm-6-2zm62 5zm7 2zm87 7zm24-5zm16-4zm0 9zm28-1zm18-2zm-6 10zm-45 1zm-7-7zm-21 5zm-38 0zm-70 2zm-7-1zm-9-5zm-9 5zm-12 10zm38-4zm24 1zm5 1zm27 2zm20-5zm21 0zm22 5zm4-1zm15 3zm42-3zm3-1zm7 13zm-31-4zm-41-2zm-11 3zm-40 2zm-1 3zm-3-5zm-4 5zm-19-3zm-34 3zm-39-1zm-1-8zm-4 5zm26 10zm2-1zm55 3zm14-1zm7-3zm26 5zm1-6zm29 5zm65-7zm5 1zm6 5zm-7 12zm-6-4zm-20 5zm-16-9zm-20 2zm-18 7zm-39-2zm-15 0zm-11 2zm-9-1zm-17-2zm-44 0zm3 4zm20 8zm23-4zm26 3zm2-7zm66 7zm17-2zm57 4zm-104 8zm-9-4zm-16 4zm-29 1zm-44-3zm32 7zm48 5zm71-1zm11 2zm-62 5zm-17-2zm-18 1zm-8 5zm-42-3zm91 9zm-94 157zm72 8zm25 0zm27 7zm-30 3zm-9-8zm-12 1zm-16 7zm-1-1zm-14-6zm-15 3zm-8 3zm-21-4zm8 7zm34 5zm2 2zm5 2zm3-5zm21 2zm50-3zm10 13zm-29 0zm-7 1zm-6-2zm-4-4zm-24 2zm-3 0zm-15-2zm-1 8zm-29-6zm-12-1zm-24 12zm22-2zm2 6zm5 0zm5-5zm1 3zm6-4zm0 3zm0-5zm32 5zm26 4zm11-2zm1-3zm2 2zm0-3zm1 6zm2-9zm4 7zm4-2zm1 0zm5 1zm0 3zm1 0zm0-4zm5 2zm8-6zm4 18zm-10-1zm-3-5zm-3 5zm-7 1zm-1-4zm-4 2zm-3 0zm-3-6zm-9 0zm-9 0zm0 8zm-40-2zm-4-5zm-6 0zm-4 6zm-9 1zm0-6zm-1-2zm-5 7zm-30-4zm-27 10zm12 0zm1-2zm21 5zm13-2zm17-3zm9-2zm5 5zm51-2zm5 0zm2 0zm6-2zm7 3zm5-1zm0 6zm1-7zm1 3zm8 4zm3-1zm5-6zm1 7zm3-8zm13-1zm5 18zm-1 1zm-4-6zm-11-3zm-12 9zm-1-1zm0 1zm-1-8zm-2-1zm-2 2zm-3 1zm-19-3zm-56 8zm-7 1zm-2-2zm-6-4zm-3-3zm-60 8zm-7-7zm20 18zm29-9zm13 1zm1-1zm67 4zm5-1zm4-3zm7 6zm0-6zm5 7zm4 2zm6 0zm2-2zm0-6zm0 3zm1-1zm3-1zm3-2zm17 5zm2 2zm1 6zm-4 4zm-4-4zm-1-2zm0 6zm-5-1zm-2-3zm-4 4zm-1-3zm-6 2zm-2-6zm-1 6zm-2-6zm-4 6zm-1-2zm-3 1zm-3 0zm-1 3zm-1 0zm-3-4zm-2-3zm-1 6zm-8 1zm-18-6zm-49 4zm-5-5zm-53 5zm10 8zm6 0zm22 0zm23-2zm81 4zm8 1zm0-6zm5 7zm1-1zm1-7zm3 3zm3 1zm4 2zm1 2zm7-3zm4 4zm7 1zm-5 2zm-3 7zm-3 0zm-1-2zm-5 0zm-1-3zm-2-1zm0 3zm-1-3zm0 3zm-2 1zm-2-4zm-5-3zm-7 8zm-4-3zm-20-4zm-102 2zm-17-1zm45 10zm6-2zm71 2zm9 7zm2-3zm2-4zm0 3zm2 3zm1-5zm3 5zm1-8zm2 2zm1 4zm5-5zm20 4zm3-3zm7 5zm-17 6zm-5-1zm-2-1zm-6 6zm-7-4zm-6 4zm-4-1zm-134 2zm-7 10zm1-6zm11 4zm54-5zm9-1zm1 0zm11 14zm-23 3zm-8-2zm-28 5zm-25 19zm51 12zm-2 17zm-53 358zm1 2zm2 1zm6-4zm2 1zm3 0zm9-5zm1 7zm64 7zm-6-1zm-46-1zm-17 1zm-3 1zm-3-1zm-5 3zm-3-5zm-5 4zm-1-1zm-4-1zm-10-4zm-3 0zm-4 5zm0-2zm0 3zm-8-2zm-1 9zm10-1zm16 0zm2 7zm0-9zm1 4zm5-1zm6-1zm5 5zm3-6zm1 8zm2-5zm3 4zm8-8zm1 7zm15-4zm1 1zm1 2zm1 3zm1-1zm5-1zm3 7zm-12 4zm-4 0zm-13-4zm-5-2zm-1 0zm0 3zm-5-2zm-6 3zm-6-2zm-6 3zm-8-7zm-3 3zm-4-2zm-1 3zm-15-1zm-18-3zm1 14zm23-1zm4 0zm4 3zm1 1zm13 2zm4-3zm29-1zm27 14zm-2-5zm-13-1zm-9-1zm-5 6zm-24-8zm-14 2zm-7-1zm0-1zm-6 7zm-17 0zm-2 8zm1-1zm1-4zm2 1zm6 2zm4 4zm3-6zm25 6zm7-5zm9 6zm3-3zm1 4zm0-5zm2 4zm4-3zm15 2zm60 0zm-9 11zm-47-4zm-29-3zm-2 4zm-5 0zm-1-4zm-3 2zm-16 0zm-23 3zm-5-6zm-5 5zm-15-1zm11 11zm11-3zm4 7zm5 0zm0-3zm7 3zm2-6zm1 5zm26 1zm7-8zm5 5zm2 2zm73-8zm11 4zm-14 10zm-4-1zm-38 3zm-11-3zm-15 2zm-5-3zm-20 5zm-36-3zm33 9zm6-2zm19 3zm3 3zm54-2zm-42 9zm-56 0zm-2-1zm-4 6zm-1-1zm-23-7zm-1 3zm-1 8zm2 6zm5-4zm10-2zm15 7zm7-7zm15-2zm4 7zm15-5zm25-2zm14 9zm73-3zm14 7zm-1-1zm-28 7zm-2-3zm-64-5zm-64 5zm-14-2zm-5 2zm-3-6zm0 4zm-16-4zm-10 6zm33 9zm4-5zm7 8zm54 1zm14-7zm76 2zm19 3zm5 8zm-24 3zm-7-7zm-16-1zm-76 7zm-51-7zm-1 8zm-23-5zm-11 0zm-3 6zm-5-4zm57 11zm12-2zm12-3zm18 7zm4-4zm1-3zm118 11zm-10 2zm-3 1zm-133 1zm-50-3zm33 8zm34 6zm19-4zm13-2zm14 5zm3-1zm28-4zm3 7zm13 1zm4 1zm-103 6zm-44 3zm-10 3zm19-1zm9-1zm33 8zm3-8zm20 0zm74 1zm33 13zm-34-4zm-25 4zm-4 3zm-14 0zm-31 2zm-69 6zm102 2zm71-2zm0 9zm-4-3zm-17 7zm-88 5zm61 3zm0-6zm13 0zm-42 19zm-59 3zm10 0zm11-2zm56 2zm1 0zm-33 9zm46 188zm-26 4zm26 5zm40 11zm-17-9zm-47 2zm-31 7zm-6 10zm32-7zm35 2zm47-3zm9 3zm1-1zm3 0zm7 0zm-12 8zm-50 4zm-33-2zm-3 13zm44-2zm2 0zm8 1zm5-4zm3-1zm10 6zm16-4zm6 9zm-3 7zm-41 1zm-18-5zm-8-2zm-14 3zm-6-4zm-7 5zm-10-3zm-14-3zm-3 7zm-29 5zm1 5zm47-3zm7 1zm25 2zm11 0zm6 2zm47-2zm16-1zm28-1zm12 14zm-30-3zm-34 3zm-5-2zm-43-1zm-18-4zm-10 7zm-1 0zm-7-5zm-46-1zm-7 14zm82-3zm26-3zm36 1zm4-1zm16 7zm7 0zm38-3zm-42 8zm-6 5zm-98 1zm-75 9zm14 1zm37-3zm10 1zm20-3zm42-4zm4 1zm46 1zm8 0zm27-2zm5 10zm-48 9zm-44-9zm-11 1zm-3 1zm-51 3zm-41-2zm-29 2zm-7 14zm16 0zm46-8zm18 0zm22 6zm6 1zm54-2zm1-3zm56 5zm7-3zm-3 8zm-8-3zm-25 2zm-101 3zm-21-2zm-1-3zm-11 3zm-26-3zm-1 3zm-5 3zm-8 1zm-31-4zm1 7zm3 5zm0-2zm25-2zm77 7zm29 1zm56-8zm23 3zm15 4zm6-8zm-40 14zm-18 4zm-55-5zm-93-2zm-43 8zm-14-6zm41 8zm32 1zm13-2zm150 9zm-52 7zm-52-4zm-25 0zm-13 5zm-6-4zm-18 7zm13 4zm19 4zm21 0zm24-3zm0-1zm23 1zm22-5zm9 7zm4-3zm5 4zm6-7zm1 8zm1 8zm-23-1zm-15 3zm-3-4zm-16 0zm-19 4zm-11 0zm-31-8zm-88 4zm10 7zm6 2zm4-2zm66 5zm40 2zm3-9zm56 19zm-4-5zm-3 5zm-18-5zm-54-4zm-19 9zm-12-9zm-10 6zm-38 3zm-7-3zm18 6zm13 2zm7 0zm24-3zm106-1zm-66 11zm-49 4zm-1-1zm-31-3zm34 11zm5 4zm43-5zm35 12zm-11-3zm-28 7zm-50-5zm-6 0zm-18 2zm-2-2zm28 10zm1 6zm11-3zm7-5zm11 9zm3-6zm1-2zm3 1zm4 6zm29-5zm19 0zm-59 223zm24 11zm-3-5zm-47 4zm15 6zm36 2zm25-1zm14 12zm-4 2zm-13-3zm-111 10zm17-2zm70 3zm45-4zm4 6zm4-4zm3 15zm-101-6zm-42 15zm7 0zm22-6zm23 3zm31 0zm73-4zm4 6zm-23 10zm-3-6zm-37 2zm-17 6zm-49-8zm-3 7zm-9-5zm-11 0zm-1 2zm-30 8zm76 4zm60-4zm41 3zm-9 9zm-7 2zm-1 0zm-55-2zm-13-4zm-58 0zm-13 0zm-4 6zm-2 6zm29 5zm5-3zm25 4zm15 0zm107 4zm-9-2zm-40 1zm-61 1zm-80 4zm4 11zm194 3zm-2 7zm-35-5zm-77 0zm-29 7zm-2-8zm-17 7zm-1-1zm-32-1zm-49 9zm116 3zm2 1zm80-8zm6-1zm-26 19zm-7 0zm-71-7zm-5 2zm-12-4zm-16 9zm0 0zm-2-1zm-43 2zm100 3zm101 2zm12 6zm-43 0zm-49-1zm-54 9zm-59-4zm89 13zm12-6zm47 5zm27 2zm22-1zm-23 11zm-25-9zm-3 9zm-7 0zm-31-4zm-8 3zm-38-8zm-30 5zm-11-4zm-25-1zm-12 11zm1 1zm2-1zm13 6zm27 1zm36-2zm36 0zm74-4zm26 14zm-43-3zm-7-3zm-8 6zm-36-5zm-25 1zm-6 7zm-24-5zm-39 1zm-16-2zm45 8zm6 2zm34 6zm55-5zm67-2zm-13 14zm-186-1zm64 14zm43-9zm5 7zm31-6zm41 7zm-3 8zm-12 2zm-50-5zm-29 0zm-3-3zm-22 3zm-3 5zm-13 4zm81 7zm38 0zm1-8zm-9 16zm-15 2zm-29-2zm-8 0zm-41 2zm-17-9zm-9 9zm-3 7zm19 3zm30-8zm36 3zm10-3zm3 1zm15 0zm3-2zm1 8zm-4 6zm-79 2zm-8 9zm4 3zm7-2zm55-2zm2 0zm-56 6zm40 157zm19-1zm6-1zm18-4zm-3 15zm-68 0zm-12 2zm-33-6zm4 12zm11 0zm4-1zm12 4zm52 1zm15-7zm40 5zm42 1zm14 6zm-10 2zm-29-3zm-21 3zm-10 3zm-30-1zm-27-5zm-31-2zm-47 18zm58-2zm8 2zm80-7zm31 5zm17 1zm33 4zm-11 1zm-24 3zm-4 4zm-22-8zm-1 2zm-33 2zm-14 1zm-32 0zm-9-3zm-21-1zm-20-2zm0 0zm-45 2zm30 16zm5 1zm160 2zm-11 2zm-1-1zm-23 5zm-10-3zm-13 5zm-25 0zm-3 0zm-3-9zm-15 6zm-8-4zm-6 6zm-62-4zm-50 11zm55 4zm11-6zm2-3zm19 0zm38 8zm20-8zm29 6zm9-5zm5 7zm2-5zm13 4zm12-7zm37 8zm15 4zm-23 0zm-12 7zm-35 0zm-6-9zm-21 4zm-6-2zm-23 2zm-6-1zm-12-2zm-20 8zm-16 0zm0-3zm-19-4zm-20-1zm-24 9zm33 6zm16-6zm15 1zm113 0zm1 4zm57 1zm7-6zm9 5zm-34 5zm-16 9zm-22-4zm-1-4zm-65 1zm-46 6zm-6-5zm-24 4zm-15-4zm-3 3zm-25-4zm-35 12zm5 2zm24-2zm20 0zm20 4zm18-6zm7 3zm49 4zm7-1zm6-6zm5 4zm31 0zm2-2zm20-2zm18-2zm-14 17zm-29-2zm-6-1zm-45-1zm-42-2zm-35 18zm12 0zm10-5zm3-3zm4 1zm11 7zm31-8zm0-1zm6 7zm1-5zm17 5zm5 2zm9-5zm22 0zm1 0zm36-4zm10 0zm16 3zm20-3zm28 13zm-26-3zm-32 6zm-17 3zm-11-9zm-9 4zm-40 2zm-18-4zm-29-1zm-47 1zm-5 2zm-2 3zm-34 2zm-48-8zm35 11zm16 0zm23 7zm26-2zm10-5zm2 5zm8-1zm8 1zm10 1zm25 1zm5-8zm3 5zm111-3zm11-3zm-71 12zm-24 6zm-13-6zm-11 4zm-15 0zm-1-6zm-46 4zm-29-2zm-69 2zm-5 8zm2 2zm64-1zm17 2zm47-5zm2 6zm16 2zm53-3zm55 5zm-46 9zm-20-9zm-29 8zm-55-6zm-1 3zm-53-1zm-17 6zm4 0zm27 3zm24-3zm7 5zm42-2zm50 5zm39-4zm11-3zm20 6zm3-3zm-28 7zm-45-1zm-8 2zm-32 1zm-34 1zm-25 2zm7 7zm27 0zm25 14zm-45 11zm90-8z"/>
<path stroke="#151515" d="M350 182zm0 4zm-68 17zm119-2zm50 8zm-125 2zm-40 10zm172 7zm17-4zm27 6zm-174 0zm-15 5zm-1-2zm2 9zm6 7zm30-3zm65 2zm91 10zm-19 0zm-96-4zm-16 4zm-10-2zm-13-1zm-49-5zm-46 16zm58-6zm13 2zm55-2zm13 4zm87 13zm-76-2zm-66 5zm50 3zm105-3zm8 18zm-43-5zm-59-2zm-85 8zm-42-9zm2 18zm118-5zm81 0zm8-2zm-162 16zm-41 10zm49-7zm105 1zm21 1zm28 9zm-52 2zm-78 4zm-11-4zm3 11zm30 2zm35-4zm47 10zm-5 4zm-23-6zm-61 4zm24 6zm51 3zm11 3zm-9 7zm-103 738zm-33 24zm3 24zm-55-1zm-50 7zm124 5zm-105 0zm70 14zm41 4zm-136 8zm187 23zm-150 14zm-33 11zm135 7zm-33 10zm66 4zm13 13zm-49-5zm-92-3zm14 16zm-27 22zm22-5zm8 8zm69 9zm18 7zm-91 7zm139 16zm-27 9zm-46 12zm52 188zm41 2zm-8 16zm-18-4zm-14 1zm-6-1zm-31-1zm-6 17zm37-8zm7 7zm33-2zm9-3zm0-3zm7 5zm7 3zm8-3zm10 13zm-6-6zm-17 0zm-26 3zm-67 3zm-10-2zm-10 5zm29 5zm103-2zm29 0zm-35 9zm-26-1zm-55 4zm-68 7zm9-2zm79 1zm18 4zm4-3zm15-2zm19 3zm39 5zm10-1zm-4 11zm-11-2zm-64-1zm-79 1zm-49-1zm47 10zm154-3zm16-3zm5 16zm-8 2zm-11 0zm-17-5zm-18 1zm-3 5zm-14-3zm-40-5zm-80 2zm-51 16zm28-8zm16 8zm2-3zm2 1zm3-7zm33 3zm17 4zm0-6zm99 1zm16 3zm-15 13zm-39-7zm-25 6zm-11-7zm-113 11zm51 0zm9 8zm46-9zm30 3zm4-2zm64 1zm14 3zm-14 8zm-56-2zm-28 6zm-48 1zm-21-1zm-28-4zm-53 7zm6 0zm168 9zm-6 1zm-47 3zm-31 4zm-101-7zm22 10zm14 2zm67 7zm38-7zm43 4zm30 2zm-4 5zm-6 4zm-130 2zm-12-6zm-16-2zm-37 5zm-6 6zm78 7zm24-4zm0-1zm27 4zm2-1zm86-1zm4 1zm-40 3zm-43 3zm-34-1zm-11 4zm-32 1zm-8-3zm-40 1zm-8 1zm122 7zm34-3zm47 0zm-28 10zm-4 8zm-1-4zm-75 0zm-31 2zm-41 4zm4 3zm29 2zm12 2zm6-3zm0 3zm100-1zm5-5zm-49 15zm-35 0zm-71-6zm6 11zm12 8zm7-8zm9 5zm52 1zm37 11zm-27 1zm-49-7zm-35 1zm13 11zm7 4zm14-3zm15-5zm48 11zm-17 0zm-15 2zm-11 1zm-33 4zm64 217zm-1 2zm-17 2zm-41 10zm16-4zm31 1zm14-1zm17-3zm12 11zm-9 1zm-129 13zm5-4zm19 6zm5-2zm5 2zm17-5zm95 1zm-16 5zm-29 1zm-5-1zm-17 7zm-28 0zm-5-3zm-33 4zm-9 0zm29 7zm4 3zm5-2zm54 3zm62-4zm2-1zm24 13zm-16 0zm-36-3zm-6-3zm-60 5zm-1 1zm-18 2zm-4-3zm-5-6zm-1 9zm-9 0zm-28 10zm123 0zm7-9zm35 8zm-51 8zm-58 3zm-23-3zm-31-5zm11 16zm59-5zm19 1zm17-1zm45 13zm-38-5zm-18 3zm-11 4zm-75 0zm-26-1zm-3-2zm15 12zm53-6zm3 4zm1 1zm29 2zm79 1zm12-4zm13-2zm1 3zm-1 12zm-26-2zm-90 2zm-69-4zm-44 0zm31 15zm40 1zm16-3zm1 3zm17-9zm9 3zm56 3zm47-1zm-8 11zm-49 2zm-17-4zm-9-2zm-19 6zm-19-4zm-5-4zm-17 1zm-15 2zm-1 2zm-50 0zm19 14zm47-9zm11 0zm31 0zm1 5zm1-5zm16 5zm18-3zm-61 14zm-42 1zm-50-4zm-8 1zm11 6zm5 9zm24-5zm3 0zm41 0zm84 4zm7-3zm22 1zm26-3zm-8 7zm-9 7zm-65-3zm-18 0zm-4 2zm-29 3zm-27-4zm-59 6zm9 3zm23-2zm29-1zm26 8zm0-7zm1 2zm5 1zm34 4zm70-8zm7 2zm1 0zm30-3zm-51 13zm-4 1zm-28 4zm-32 0zm-98-8zm54 15zm11 17zm82 3zm-66 10zm-19 0zm-9-3zm123 15zm-18 4zm-54 8zm-10-2zm-37-3zm-13 7zm52 0zm27 6zm0-7zm41 4zm19 11zm-18 3zm-5-3zm-4-1zm-15 3zm-16 1zm-7-7zm-5 8zm-6 11zm-4 5zm75 152zm-1 5zm-32 3zm-19 6zm24 2zm86 13zm-33-1zm-21-3zm-1 3zm-12-2zm-159 15zm94-3zm9 2zm29-2zm42 3zm15-6zm-40 17zm-5-2zm-38-4zm-28 5zm-18-6zm-1 4zm-35 7zm38 3zm13-6zm1 5zm13 4zm2-1zm27-5zm69 3zm24 13zm-2-1zm-69-5zm-8-3zm-10 7zm-20-2zm-3 1zm-17-1zm-73 0zm-36 9zm64 4zm24-3zm8 1zm23 2zm61-5zm2 5zm6-5zm24 2zm33-2zm10-2zm15 6zm13 1zm-66 9zm-19-1zm-6 0zm-41 1zm-15 1zm-5-4zm-4-1zm-3 6zm-2 0zm-23-7zm-76 0zm-22 6zm2 9zm4 1zm5 1zm13-5zm3 5zm26-5zm35 3zm9-6zm9-1zm13 6zm6 2zm21-4zm26 3zm21-5zm17 6zm26-5zm50 5zm3-2zm-20 13zm-45-5zm-30 1zm-15-1zm-14 4zm-5-3zm-37-1zm-40-4zm-4 7zm-39-4zm-13-1zm-9 5zm34 10zm1-4zm6 1zm23 1zm13 2zm12-4zm24-3zm5 8zm53-2zm6 9zm-25-4zm-44 2zm-4 5zm-22-7zm-13-1zm-57 5zm39 9zm65 0zm9 2zm44-2zm21 0zm9-2zm10 0zm1 2zm20 5zm30-7zm-14 11zm-47 6zm-5-3zm-91-2zm-23 1zm-12-5zm-4 2zm-37 2zm39 14zm7-8zm55 3zm22-3zm24 1zm31 8zm23-3zm-41 8zm-4-3zm-10 4zm-8-5zm-1 5zm-3 0zm-11 1zm0-5zm-26 3zm-25-3zm-20 6zm-15-3zm-8-1zm6 10zm36-2zm10 0zm14 1zm78-2zm8 7zm6 2zm-43 7zm-21-6zm-3 9zm-27-2zm-57-4zm-31-1zm-24-1zm61 12zm23 4zm24-2zm43-5zm9 7zm11 1zm-61 6zm-30-4zm-31 16zm4-5zm32 3zm67 2zm-1 5z"/>
<path stroke="#cdbe4a" d="M348 1588zm109 5zm-123 5zm47 22zm-96 20zm48 1zm140-1zm-79 28zm53-1zm20 2zm-198 10zm30 1zm82 8zm56-7zm-34 9zm-132 13zm-15 8zm143 23zm-147 30zm116 9zm-19 4zm-77-3zm-3 11zm101 7zm-50 36zm66 2zm-16 212zm-25 10zm-31 58zm-12 7zm126 19zm-111 12zm39-4zm-37 13zm-49-2zm32 20zm20 13zm61-2zm14 2zm14-2zm-89 14zm0 1zm88 1zm25-1zm-103 11zm-57-1zm-33 5zm-24-4zm-5 1zm97 16zm10-3zm21 13zm-88 16zm21 13zm11 28zm38 43zm81 167zm-74 9zm-94 22zm100 3zm95 3zm-72 10zm-16 2zm27 5zm-70 20zm7 15zm26 6zm5 27zm65 9zm-9 3zm93 8zm9-5zm-171 8zm-5 12zm86 7zm-104 8zm-69-6zm10 12zm122 13zm-111 4zm118 2zm-55 23z"/>
<path stroke="#7d6433" d="M365 198zm-12 0zm22 9zm-81 12zm215 11zm-29 9zm-5-1zm-34-4zm-83 13zm7-3zm60 2zm27-1zm-10 9zm-17 0zm-21-3zm-45 4zm-1 4zm-7-2zm0 1zm-75-2zm160 12zm8-6zm-75 9zm-77 0zm-23 8zm18 5zm62-1zm9 3zm106-3zm55 2zm-49 11zm-146-1zm157 14zm-92 5zm-49-4zm-58 9zm27 10zm150-9zm41 15zm-19-2zm-113 5zm-4-3zm11 5zm39 6zm22 2zm10 0zm12-3zm1 5zm-42 0zm-14 6zm-22 1zm-23 2zm97 1zm-74 14zm-83 731zm65 54zm-28 23zm-111 26zm14-8zm73 9zm14-8zm34 0zm-100 18zm52 46zm28 3zm72-8zm-92 19zm-10 9zm19 2zm-74 12zm64-1zm7 1zm41 7zm53-2zm-16 10zm-81 0zm-19 1zm-43-5zm59 11zm31-1zm-3 14zm-22-7zm-7 8zm-40-5zm-9 3zm-11-1zm133 11zm-47 29zm16 184zm4 6zm80 9zm-12 0zm-41-1zm-1 0zm-71 15zm20 0zm4 1zm0-2zm20 2zm88-1zm6-3zm0 2zm16 0zm-50 11zm-30 0zm-9-8zm-60 4zm4 7zm16 4zm2 1zm6-5zm21 3zm21 4zm17-2zm53 2zm-8 3zm-21 6zm-99-6zm-7 12zm9-3zm11 7zm27-2zm105 9zm-50 1zm-24 0zm-37 1zm-17-1zm-27 0zm-31-2zm28 15zm36-4zm2 1zm21 1zm22 0zm30-4zm20 6zm19-4zm7 2zm14-1zm-77 9zm-80 4zm-37 1zm-1-7zm-30 10zm1-1zm8 7zm16-4zm4 1zm28 4zm27-7zm61 5zm24-6zm5-1zm13 3zm15 2zm29 8zm-2-2zm-3 5zm-37-4zm-10 0zm-8 6zm-32 1zm-21-8zm-32 1zm0 7zm-7-1zm-11 1zm-20-9zm-22 1zm-18 3zm-9-1zm13 11zm5-4zm2 3zm55 1zm69-3zm50-1zm-32 10zm-25 3zm-13 0zm-21 2zm-7 4zm-27-7zm-22 6zm-7 1zm-26-7zm-28 14zm8-6zm2 7zm70-4zm107-2zm36 0zm-24 10zm-11 1zm-19 2zm-56 2zm-41-4zm-38 5zm-30 2zm-5-3zm59 7zm8 0zm35-2zm101 5zm-8 8zm-28-1zm-70 2zm-32 1zm-15 2zm-3-5zm-26 4zm-15-1zm-26-6zm-8 12zm24 7zm4-9zm54 8zm54-1zm57-1zm2-2zm-4 13zm-4 2zm-12-4zm-35-3zm-17 6zm-32 1zm-15-5zm-4-4zm-22 13zm21 6zm4-1zm20-7zm4 0zm10 6zm56-6zm26 16zm-12 1zm-11 0zm-94-4zm-6 4zm-17-2zm-9-2zm-15-4zm12 12zm6 6zm19-2zm14-5zm26 0zm0 3zm73 5zm16 0zm-12 1zm-41 5zm-32 1zm-2 3zm-2-6zm-16 3zm-49 11zm29-6zm29 8zm43 9zm-16-7zm-18-1zm-31 10zm49 9zm35-3zm10-4zm-8 8zm-76 0zm61 11zm-65 201zm45 2zm-5 9zm-33 4zm-28 6zm25 3zm41 0zm38 13zm-49-5zm-50 0zm-22 15zm8-2zm19-3zm88 5zm3 4zm-3 4zm-27-1zm-14 1zm-42-3zm-38-3zm-5 8zm-2 6zm0 2zm61-6zm34 3zm57 11zm-30-1zm-12 4zm-15-3zm-77-2zm-5 5zm3 3zm0 5zm29 0zm1-5zm9 0zm21 7zm45-3zm3 3zm4 0zm41 2zm-12 4zm-28-3zm-7 0zm-12-1zm-40 0zm-73 5zm-24 14zm10-4zm12-2zm32 4zm73 1zm34 0zm36-3zm-36 11zm-3-3zm-62-3zm-17 0zm-56 1zm-12 3zm36 9zm36 4zm22 1zm57 1zm17-2zm27-6zm1 2zm10 1zm-66 6zm-4 3zm-115-1zm-47 3zm5 12zm28 2zm13-6zm0 1zm63 4zm4 1zm0-6zm33-1zm10 1zm12 6zm30-6zm7 13zm-9 1zm-75-5zm-31 5zm-75 2zm-4-2zm-2-7zm-25 13zm44-1zm87 1zm2-2zm5 7zm11-5zm47-3zm3 9zm28-1zm-184 4zm6 14zm135 2zm29 1zm28-2zm-21 8zm-42-1zm-34 1zm-1-1zm-77 5zm-27-6zm-21 6zm58 1zm11 6zm54-2zm105 2zm1-6zm-52 17zm-4 1zm-16-6zm-18-2zm-28 6zm-1-6zm-8 9zm-28-6zm-1 1zm-36 0zm-5 0zm-4-3zm1 10zm122 3zm8 5zm10-9zm11 2zm22-2zm-133 22zm1 0zm26 0zm13 4zm56-5zm2 1zm40 3zm2 5zm-52 2zm-61-2zm-6 6zm-7 1zm-23-4zm55 15zm49-8zm28 0zm7 15zm-3 4zm-83-8zm-48 7zm-9-3zm11 9zm81 5zm0-7zm25 4zm1 0zm17 6zm-56 1zm-9-2zm-23 5zm-23-3zm-3 6zm1 6zm1-5zm15 0zm2 3zm0 0zm86 167zm-109 6zm6 12zm33 0zm15 0zm3-1zm8 0zm20-6zm43 0zm2 6zm41-2zm17 12zm-115-5zm-20-2zm-61 9zm52 7zm43 3zm6-7zm73 9zm-51 6zm-74-7zm-80 4zm-45 8zm79 1zm7 5zm7-6zm36 3zm23 0zm33 2zm5-1zm24 2zm24-4zm6 3zm16-4zm9 6zm-9 5zm-18-1zm-41 5zm-13 0zm-24-8zm-2 4zm-16 2zm-15 2zm-68 1zm-1-4zm-47 9zm34-4zm2 7zm15 2zm22 0zm24-2zm4 1zm5-2zm23-2zm47 0zm23-4zm9 4zm66 5zm20-6zm-49 9zm-7 7zm-4 0zm-34-3zm-52-4zm-19 2zm-12 0zm-11 4zm0-5zm-26 5zm-36-2zm-3 2zm-1-2zm-31-1zm-21 9zm28-3zm3 0zm72 7zm13-6zm24 3zm14 3zm37 0zm3 0zm39-3zm6 0zm1 0zm56 10zm-68 0zm-65 2zm-11-4zm0-1zm-10 6zm-18-6zm-5 3zm-15 4zm-38-1zm-1-6zm-9 6zm-39 2zm53 7zm31-2zm7-5zm7 5zm29 4zm4-6zm5 6zm26-6zm33 3zm18 2zm11-6zm4 4zm24 4zm-62 3zm-14 3zm-3 3zm-44-7zm-13 2zm-28-3zm-17 2zm-17-2zm-81 3zm23 6zm35 0zm23 3zm18-2zm9 3zm60 1zm55-4zm11 8zm28-2zm13-5zm20-1zm13 6zm5-1zm14 6zm-70 5zm-48-5zm-16 7zm-5-2zm-14 0zm-33 0zm-8-2zm-81 1zm-7-1zm-26-3zm6 17zm16 0zm10-1zm7 0zm76 1zm15-4zm0-2zm5 1zm31 5zm3-4zm70-1zm4-4zm33 2zm22-1zm-42 11zm-27-1zm-2 1zm-9 0zm-26 0zm-22 3zm-7-2zm-8 3zm-18-3zm-47 3zm-3 0zm-4-6zm-89 1zm78 9zm76 0zm121 14zm-138-1zm-115 3zm17 8zm47-2zm33 4zm5 0zm6-1zm46 0zm22 12zm-25-7zm-29 2zm-26 1zm0 0zm-54 5zm-1-1zm0 1zm24 7zm10-1zm4 1zm17-3zm54 5zm12 0zm22-2zm-23 9z"/>
<path stroke="#5a7a3a" d="M373 1556zm20 5zm7 0zm12 18zm-51-4zm-2 2zm-15 7zm13-3zm9 0zm1 4zm54-1zm10 2zm17 3zm8-5zm19 15zm-26-7zm-15 3zm-10 0zm-98 3zm105 4zm14-2zm28 6zm-5 8zm-34 2zm-17-5zm-6 3zm-6 2zm-19 3zm-97 7zm9 1zm48-1zm6-3zm8 1zm9 5zm16-4zm25 2zm77-2zm2 8zm-15 5zm-4-2zm-6-3zm-1 2zm-4-4zm-18 8zm-52-6zm-17 2zm-15 2zm-36-7zm-19 7zm-14-4zm-5 12zm9 4zm34-9zm4 3zm41-1zm9 2zm5 1zm27-1zm62 2zm10-3zm-3 8zm-4 7zm-106-1zm-51-1zm-45-2zm92 6zm27 5zm48-2zm1-1zm18 0zm31 11zm-39 3zm-98-1zm-49-5zm-7 6zm-3 0zm-5 0zm-31-1zm-14 12zm26-1zm18-6zm36 1zm20 3zm13-4zm20 3zm1 2zm37 3zm7-3zm12-3zm5 7zm34-3zm-54 12zm-23-1zm-100-4zm-26 2zm-8 4zm-1 5zm27 0zm23 3zm2-3zm12-3zm9-1zm33 4zm71 2zm29 3zm-44 5zm-13 2zm-31-2zm-5 4zm-16 0zm-19-6zm-21 3zm-73-1zm32 8zm70 3zm3 1zm16 1zm15 1zm22-4zm53 0zm6 12zm-3-5zm-17 5zm-44 2zm-18-3zm-22-4zm-15 2zm-49 2zm-27-5zm-3 0zm-4 4zm-6 1zm-24 1zm-5-5zm-9 6zm31 10zm1-6zm49 6zm45-1zm2 3zm9-1zm69-5zm28-3zm-13 14zm-60 3zm-7-4zm-4 1zm-57-2zm-16 0zm-20 4zm-13 0zm-8-2zm-21-3zm59 13zm24 2zm9-6zm14 1zm10 4zm10 1zm2 0zm18-3zm21 4zm-14 7zm-14-4zm-18 2zm17 16zm29 7zm-4-3zm-2 4zm-18-6zm-17 0zm-12 3zm-91 6zm-6 0zm38 9zm18-4zm4-4zm57 6zm7 1zm12-7zm4 2zm10 14zm-5 0zm-20-3zm-9 5zm-5-4zm-11-4zm-65 2zm33 8zm4 4zm18-4zm8 4zm11 2zm3-4zm8 0zm4 11zm-28 206zm-24-2zm-9 10zm35 1zm23 5zm0-1zm-30 4zm-7 1zm-1-5zm-9-1zm-7 4zm-34 8zm53-1zm0-1zm11-1zm54 18zm-22-4zm-1 5zm-1-2zm-22 0zm-67 2zm-23 7zm11 2zm23 0zm3 1zm2-6zm42 0zm0 5zm12-6zm1 2zm32 5zm3-8zm9 5zm-12 12zm-16-5zm-21 4zm-3 2zm-57-5zm-2-1zm-6 0zm-4 1zm-13 7zm7 6zm12-7zm21 5zm22 4zm9-5zm12 0zm21-4zm4 5zm24 3zm18-1zm22 11zm-50-1zm-12-1zm-14-2zm-21 3zm-4-2zm-16-4zm-1 4zm-2 0zm-8-4zm-5 4zm-1-2zm-28 1zm-37 9zm8 4zm10-3zm1 0zm16-3zm13-1zm16 1zm25 4zm6-1zm41 0zm49 13zm-29-1zm-123 0zm-9-5zm-1 8zm-12-1zm-3 10zm36-3zm28 1zm18-5zm15-1zm2 1zm19-1zm39 4zm27 10zm-39 3zm-6-2zm-19-1zm-129 3zm0-1zm-1-1zm0 1zm-27-1zm0 7zm46-1zm21 4zm14 3zm38-7zm89 3zm1 1zm22 12zm-12 1zm-13-6zm-13 5zm-2 0zm-11-4zm-1 0zm-17 0zm-8-3zm-14 0zm-3 4zm-32 2zm-5-3zm-48 4zm-3-6zm-1 2zm-45 1zm-10 6zm43 4zm40 2zm17 3zm6-7zm5 3zm11 4zm5-4zm3 4zm45-3zm32 2zm-21 9zm-18-7zm-2 3zm-22-1zm-6 2zm-48-2zm-46 0zm-45 8zm5 1zm12 3zm34 0zm37-1zm35-2zm2 0zm9 0zm1 3zm9-4zm10 8zm22-2zm6-4zm0 4zm9 3zm3-7zm48 6zm1-2zm3-3zm-12 7zm-20 5zm-6-2zm-20-1zm-1 3zm-6-4zm-37 1zm-1-2zm-24 8zm-3-5zm0 6zm-21-2zm-23 2zm-14 0zm-30-6zm-1 1zm-31 5zm115 8zm2-4zm53 5zm43 0zm4-6zm29 7zm-10 10zm-16-5zm-15-3zm-9 0zm-21 7zm-13-3zm-6-2zm-9 4zm-8-3zm-33-2zm-5 0zm-4 0zm-55 5zm-4-5zm0 3zm-1 3zm-3-5zm0 6zm-1-3zm-17-3zm0 1zm19 8zm79 6zm24 1zm16-6zm19 2zm5-1zm46 1zm24-2zm-48 14zm-7-4zm-8 5zm-6-4zm-2-2zm-47 7zm-30-5zm-2-1zm-2-2zm0 6zm-12-1zm-19-4zm-5 5zm-3-1zm-4-3zm-7 1zm-8 5zm-4-8zm-9 5zm-5-1zm70 5zm1 2zm11 0zm58 2zm55-3zm21 3zm-58 15zm-4-8zm-12-1zm-17 0zm-4 9zm-28-9zm-40 2zm-5 3zm-35-4zm52 10zm17 7zm6-1zm9-3zm11 3zm43-7zm0 3zm9 4zm20 10zm-16 2zm-7-6zm-6-2zm-101 7zm15 3zm38 8zm2-1zm17-4zm7 0zm61 4zm-5 10zm-20-7zm-66 5zm-46-1zm5 6zm45 6zm41-5zm17 6zm5 0zm4-6zm-2 11zm-4 0zm-18 1zm-59 10zm30 4zm13-7zm41 1zm-87 8zm88 157zm5-1zm9 11zm-46-2zm-37-1zm-9 13zm32 1zm41-7zm4 3zm9 3zm7 1zm49-6zm32 0zm-2 11zm-66 3zm-21 2zm-13-5zm-7-3zm-7 4zm-37-2zm-5 7zm-3-9zm-13 9zm-78-6zm55 9zm10 4zm10-3zm9 3zm8 2zm14-8zm2 2zm24 4zm4 3zm12-6zm5 0zm5 2zm3 3zm84-4zm4 7zm-11 3zm-23 0zm-6-3zm-17 1zm-24 7zm-28-2zm-16 1zm-16-2zm-14 0zm-5-4zm-4 5zm-24-3zm-12-1zm-32-1zm-7 11zm29 3zm5-3zm14 5zm13-6zm15 2zm7-2zm37 4zm6 0zm56 2zm1-4zm6 4zm53 3zm-9 7zm-37-1zm-12-5zm-21-1zm-9 5zm-24-4zm-21 7zm-23-5zm-4-3zm-1 3zm-19 2zm-3-4zm-11 4zm-14 3zm-21-9zm-33 8zm-4 0zm54 9zm6-6zm22 6zm0 0zm35-1zm9-5zm17 8zm10-8zm71 2zm59 14zm-54 2zm-5-9zm-7 2zm-10 0zm-2 0zm-4 3zm0-2zm-6 4zm-1-5zm-18-2zm-44 8zm-32-1zm-3-6zm-10 1zm-4-2zm-28 2zm-3 6zm-9-7zm-12 3zm-2 2zm-44 5zm56-1zm18 7zm13-6zm18 4zm25-4zm0 7zm12 0zm40-6zm6 6zm6-4zm2-3zm2 7zm26-3zm45-3zm24 1zm0 9zm-29 5zm-23-6zm-19 3zm-26 4zm-29-2zm-2-4zm-86-2zm-4 1zm-16 7zm-66 5zm40 4zm19-4zm19 2zm9-2zm0-3zm16 9zm10-5zm3 5zm26-4zm5 4zm13-1zm5-8zm11 3zm2-1zm4 5zm5-5zm12 0zm37-2zm1 7zm31-7zm16 3zm13 0zm-17 15zm-6 0zm-1-2zm-20 2zm-2-8zm0 1zm-8 0zm-11 6zm-4-1zm-15 3zm-15-4zm-2-3zm-7 2zm-6 5zm-9-1zm-34 0zm-2-3zm-4 1zm-5 3zm-5-9zm-18 0zm-32 5zm-85 6zm16 8zm7-1zm12-6zm0 7zm17-2zm28 2zm23-9zm1 8zm7-5zm11 2zm11-4zm11 5zm3 1zm2 0zm59 0zm25-6zm63 3zm31 5zm8-3zm-20 10zm-75-2zm-20 1zm-12-1zm-26 5zm-27-7zm-32 4zm-20-4zm-24 5zm-9-3zm-34-3zm-8 6zm-9-6zm21 16zm6-6zm20 7zm54-6zm18 0zm19 5zm3 2zm5-5zm29 4zm1-3zm8 0zm1-1zm17 2zm11 2zm3-8zm51 7zm44-5zm-52 14zm-21-5zm-3 2zm-6 5zm-9-4zm-2-2zm-2 7zm-2 0zm-18-1zm-2-8zm-15 4zm-62-2zm-4 6zm-7 1zm-99-7zm120 8zm20 7zm4-6zm25 8zm16-5zm27-3zm6 3zm2-1zm21 2zm16-2zm-19 11zm-4 3zm-29-1zm-34-6zm-5 9zm-43 0zm-15-6zm-5 6zm-71-1zm-8-8zm-1 5zm-16-3zm40 16zm56-5zm33 1zm25 1zm4-3zm10 7zm7-2zm3-3zm32 6zm-13 6zm-18-4zm0 5zm-17-4zm-40 5zm-2 0zm-80 3zm32 4zm21-4zm10 1zm25-1zm69 2zm2 3zm-60 6zm-36 2zm0-3zm-20 1zm6 14zm57-1z"/>
<path stroke="#6e7c52" d="M386 1576zm-5 2zm-44 9zm62-6zm20 1zm5 23zm20 4zm23 8zm-62-2zm-53-5zm-68 19zm86-6zm40 0zm44 9zm-64 6zm-109-1zm-8 9zm79-2zm97 3zm43-6zm-138 23zm134 0zm-98 22zm14 6zm-17-1zm-124 18zm155 5zm-93 1zm-31-3zm31 19zm-23 17zm62 1zm-34 1zm-33 7zm-52-3zm146 20zm-5-1zm-55 24zm-14 12zm-27 16zm75 13zm-51-1zm-21 0zm24 215zm23 15zm7 6zm-28 6zm-17-7zm83 15zm21-1zm-29 10zm-21-4zm-50 6zm-31-3zm33 8zm10 0zm107 4zm11 12zm-81-1zm-50-2zm-63 7zm56 4zm45-3zm37 1zm58 5zm-160 8zm-9-3zm4 10zm46-4zm11-1zm99 1zm0 9zm-138 8zm-13-2zm-19 3zm-10-9zm173 18zm-106 6zm-65 4zm-29 7zm145 3zm31 4zm-10 5zm-139-5zm33 15zm87-3zm18-2zm9 5zm20-3zm3-1zm7 2zm-211 16zm1 0zm224 11zm-31 3zm-34 2zm-41-1zm-11 2zm-84-1zm-36 5zm137 2zm11 5zm91-9zm-121 16zm-1-6zm-78 7zm127 9zm65-1zm-122 6zm-22 4zm-15-1zm-6-2zm-3 8zm5 4zm84-4zm27 7zm11 2zm11 7zm-1-1zm-85-1zm64 9zm-36 8zm-46 1zm-12 9zm9 0zm70 3zm30 4zm-49 2zm-27 13zm75 154zm27 10zm-13 14zm-13 17zm-7-2zm-112-2zm35 9zm-34 26zm203 15zm15-3zm-11 17zm-73-6zm-133 1zm-42-1zm43 11zm94-3zm47 4zm21-3zm67 11zm-96-1zm-215 3zm57 12zm32 3zm2-6zm61 2zm27 0zm32-3zm65 7zm18-3zm-73 8zm-14 5zm-37-3zm-31-2zm-7 2zm-13-3zm168 14zm12 10zm-116-1zm26 23zm-109 5zm128 4zm-22 5zm-35 15zm-40 8zm51 20zm-27 3z"/>
<path stroke="#7e2a24" d="M329 183zm29-1zm14-1zm31 2zm20 0zm32 15zm-29-8zm-11 9zm-1-4zm-24-4zm-45 2zm-8-3zm-12 9zm-14-1zm-23 10zm6-2zm37-6zm11 6zm1-3zm26-1zm17 2zm4 5zm43-5zm40 15zm-13 0zm-25-9zm-44 1zm-28 6zm-22-1zm-29-3zm-11 2zm-10 7zm2 6zm22 1zm1-8zm1-1zm38 7zm9-5zm107 1zm0 1zm13 3zm13-5zm5 6zm4 4zm-10 2zm-16-3zm-22 5zm-11-5zm-16 4zm-7 4zm-15-4zm-11-4zm-5 3zm-2-4zm-13 5zm-86-4zm-17 4zm-12 7zm47 6zm61-1zm34 2zm3-2zm38-1zm57-1zm13 7zm-38 3zm-49 2zm-7-2zm-1-5zm-11 7zm-19 1zm-106-5zm31 11zm4-2zm9-2zm12 3zm66-3zm42 1zm50 7zm17-6zm-34 11zm-46 2zm-10 4zm-31-6zm-98 3zm-8 1zm-37 7zm12 1zm20-2zm12 3zm10-2zm24-1zm5 1zm6-3zm33 6zm45-4zm62 5zm7-5zm7 4zm28 6zm-21 5zm-7 0zm-26-4zm-12 3zm-5-5zm-5 5zm-50 2zm-8-5zm-14 3zm-3-5zm0 0zm-41 5zm-17-3zm-26 8zm2 5zm11 0zm65-5zm95-2zm35 1zm2 0zm13 7zm-5 11zm-4-7zm-3 5zm-25-3zm-7-4zm-3 7zm-14-5zm-92 4zm-5-4zm-20 0zm-26 0zm-11 5zm-2-6zm-13 14zm12-5zm26 9zm29-5zm13 4zm35-8zm4 8zm6-8zm46 8zm17-7zm22 16zm-42 0zm-31-1zm-1 3zm-34-5zm-24-1zm-14-1zm-3-2zm-43 7zm54 8zm81-4zm19 4zm60-3zm-78 14zm-35 0zm-8 2zm-16-5zm-23-2zm-2 6zm0 1zm-2-7zm-2-1zm-31 7zm-6 5zm15-1zm20 8zm8-3zm19-6zm84 3zm2-2zm8 3zm-1 14zm-67-4zm-33-1zm-33 2zm84 5zm4 1zm-120 202zm29 7zm-12 3zm-23 13zm-15 18zm52 6zm-35 0zm-23 12zm27 6zm3 0zm6 1zm1-9zm34 19zm-6-2zm-29-1zm-1 0zm-1-5zm-17 5zm-6 2zm-3-7zm-16 7zm-6 6zm3 1zm8 2zm1-2zm5 3zm5-7zm3 0zm11 1zm4 2zm3-4zm2 6zm2-6zm3 8zm2 1zm0-9zm3 5zm4-4zm16 3zm6 7zm-7 7zm-4-3zm0 2zm-2-2zm-3-5zm-2 1zm-1 6zm-9 0zm-2-1zm-5 2zm-1-1zm-1-4zm-5-3zm-4 6zm-5-4zm-3 5zm-5-7zm-8 2zm-3 3zm-2 4zm-5-4zm-7 13zm2-3zm1-3zm6 2zm2 1zm8 1zm4 0zm13-3zm2 6zm2-1zm3-2zm2-3zm3-2zm3 7zm0-2zm7-2zm0-2zm4 4zm4 2zm0-1zm0-1zm0 2zm0-4zm2-2zm2 6zm2-7zm5 3zm6-4zm3 4zm1-3zm1 3zm4-4zm2 4zm15 1zm-13 10zm-1-3zm-12-1zm-1 0zm-5 0zm-4 6zm-4-3zm-5 4zm-4-8zm-1 2zm-3 7zm-4 0zm-2-1zm0-1zm0-1zm-1-2zm-3 3zm-1-5zm-2 1zm-6 5zm-4 1zm-7-2zm-3 0zm-7 1zm-1-2zm-2 3zm-2-4zm-3 0zm0 2zm-2 1zm-2-7zm-1 0zm-3 4zm1 10zm2-5zm1 9zm3-3zm1-2zm2-2zm12 5zm2 2zm1-4zm3 2zm12-5zm2 5zm8-4zm1 2zm1 3zm1 0zm10-6zm2 1zm1-3zm0 3zm1-1zm10 7zm9-8zm5 1zm3-2zm5 17zm-3-7zm-3 4zm-11 3zm-2 2zm-4-5zm-1-3zm-6 1zm-1 6zm-4-1zm0-7zm-6 2zm-8 4zm0-4zm-2 5zm-2-3zm-2 0zm-8-1zm-2-3zm0 7zm-3-1zm-1-5zm-1 0zm-4 2zm-4-1zm-1 4zm-16 2zm0-4zm-2-4zm-1 1zm-7 16zm25-7zm2 0zm10 9zm5 0zm7-1zm9 1zm16-8zm1 3zm13 1zm3 0zm0-2zm3-1zm-4 16zm-7-6zm-1-1zm-1 4zm-8 1zm-3-1zm-5-5zm-1 2zm-14 1zm-3-3zm-5 5zm-1-2zm-3-1zm-14 0zm-2 4zm30 8zm25 1zm26 369zm-27 3zm-31-7zm-23 4zm-6 4zm-28 1zm-5 0zm9 6zm25-2zm3 2zm89-4zm-38 9zm-41 8zm-65-4zm115 14zm3-8zm32 18zm-13-4zm-35-3zm-33 6zm-20 0zm-58 3zm5 8zm23-5zm18 1zm10-4zm16 9zm16-5zm29 3zm16-1zm29-1zm-59 12zm-59-7zm-6 6zm-39 13zm15-5zm34 2zm61-4zm2 4zm20 3zm3 0zm1-8zm-16 14zm-10 4zm-14-5zm-12 3zm-14 2zm-58-4zm10 14zm21-1zm1 0zm28-3zm8 0zm5 0zm9 0zm7 3zm22 1zm28-9zm24 8zm2 3zm-43-1zm-80 8zm-4 1zm-8-7zm0 3zm-1 2zm-1-6zm-11 7zm0 1zm-2-7zm-7 0zm-2 2zm-1-2zm0 0zm-4 5zm-2 1zm12 9zm1-2zm1-2zm5-3zm1 6zm2 3zm5-3zm9-1zm46-1zm80 3zm20 3zm-1 4zm-59 0zm-1 5zm-51-7zm-24 6zm-6-8zm-2 3zm-11 4zm-1-2zm-4 3zm-5-5zm-2-2zm-1-1zm-3 5zm-1-1zm-2 2zm-9 6zm5-2zm2 7zm5-2zm3 4zm1-7zm1 2zm3 3zm0-4zm2 0zm0-2zm1 2zm2 0zm2 0zm2-3zm1 7zm12-4zm3 2zm33-4zm21 0zm2 3zm17 4zm44-5zm32 13zm-16-3zm-9 0zm-47 5zm-5-2zm-1 3zm-4-1zm-2-8zm-74 3zm-2-2zm-4 1zm-6-2zm-1 5zm-5-4zm-3 6zm-21-1zm36 7zm48 2zm32-5zm2 4zm3 5zm3-1zm1-7zm5 7zm6-2zm31-5zm9 6zm-29 12zm-2-9zm0 9zm-6-3zm-4 1zm-1 0zm-1-2zm-6 4zm-7-5zm-1-4zm-1 3zm0-1zm-2 3zm-3 4zm-3-8zm-11 6zm-1 2zm-1-2zm-3 1zm-36-4zm-11-4zm-5 6zm-5 10zm30 3zm2-8zm22 7zm17-2zm8-4zm2 6zm1-7zm2 8zm3-5zm1-1zm7 3zm1-4zm0 0zm1 1zm1 3zm2 1zm5-5zm2 2zm1 0zm9-2zm6 0zm50 0zm12 6zm-35 10zm-6-1zm-22 2zm-3-6zm-5 6zm-6-3zm-5-3zm-4 5zm-1-7zm-4 0zm-2 4zm-3-3zm-2 3zm-1-3zm-2 1zm-1 6zm-6-9zm-7 9zm-4-1zm-3 1zm0-2zm-7-1zm0 3zm-17 6zm1-4zm14-1zm0 7zm1-4zm2 5zm2-1zm13-4zm1 0zm5 4zm0-7zm2 6zm2-4zm1 5zm0-1zm0-1zm1 4zm0-1zm4-1zm1-4zm3 3zm0-1zm3 0zm1-3zm2 3zm1-2zm4 2zm1 1zm5-4zm1 0zm6 1zm68 4zm-41 11zm-12 0zm-19-1zm-2-5zm-1 5zm-2-1zm-14 1zm-1-3zm-1 5zm-1-5zm-1 5zm-1-9zm-2 1zm-3 4zm-1-2zm-3 5zm-2-6zm-1 4zm-4-2zm-2 3zm-1-5zm-1 7zm0-7zm-5 6zm-8-3zm1 9zm5-2zm5-1zm1 7zm3-6zm3 2zm1-3zm5 0zm4 4zm1-3zm1 5zm0 0zm4-4zm0 1zm7-1zm0-1zm1 0zm4-2zm2 6zm6 0zm0 2zm1-7zm5 6zm7-5zm10 2zm46 6zm-18 2zm-4 0zm-20 1zm-23 3zm-3 2zm-2 0zm-2 1zm-8-6zm-4-3zm-1 8zm-1 1zm-1-6zm-3 0zm-12 1zm-2-2zm-18 3zm-2-4zm-1 6zm-1-7zm-3 2zm-19 10zm15 4zm1 3zm14-7zm1 6zm1-8zm1 5zm7 0zm4-1zm1 1zm2 2zm1 0zm0-4zm5-2zm1 6zm2-2zm3-2zm0 6zm5 0zm1-4zm10-5zm10 3zm12-2zm46 11zm-23-1zm-39 1zm-7-1zm0 0zm-2 2zm-4 0zm0 2zm-11 3zm-5-2zm-11-6zm-7 4zm-4-3zm-16-1zm-3 13zm25 1zm2-2zm4-1zm6 6zm5-6zm1 3zm1 5zm0-9zm2 2zm7 0zm1 2zm2-3zm6-1zm9 1zm9 2zm21 0zm-25 200zm7 4zm23-3zm15 3zm5 12zm-14-7zm-7 1zm-32-3zm-26 5zm74 10zm3 0zm21 1zm3 3zm13-4zm-37 9zm-88-4zm-8 3zm-10 6zm4 9zm1-5zm31 3zm10-4zm21 7zm4-8zm72 7zm23-6zm-9 13zm-11-1zm-35 4zm-4-8zm-6 1zm-4 0zm-8 6zm-3 1zm-34-1zm-13-6zm-3 6zm-18-4zm-19 2zm0 11zm1-2zm16 1zm8-5zm8 7zm36-2zm53 2zm14-3zm6-3zm13 4zm29-3zm5-2zm-11 11zm-32 3zm-1 3zm-8 1zm-48-2zm-10-6zm-3 1zm-34 1zm-10 2zm-38-1zm-13 5zm-10 5zm6 3zm22 2zm22-6zm66 7zm1-4zm3-5zm12 7zm35 0zm10-1zm1 2zm5-3zm9 0zm2-4zm25 6zm-50 5zm-57 5zm-22 1zm-18 0zm-36-6zm-11 6zm-33 0zm-2-7zm3 18zm6 0zm32-7zm16-2zm6 5zm6 2zm27-5zm4-1zm13 8zm8-3zm17 0zm9 1zm17-2zm37-5zm20 8zm7 6zm-9-3zm-13 3zm-32 0zm-8 3zm-34 1zm-1-7zm-33 2zm-52-3zm-34 4zm-23 13zm4 1zm7 1zm15-6zm23 4zm15-5zm38 1zm41 6zm5-9zm15 1zm41 8zm-1 4zm-18 0zm-5-3zm-30 8zm-2-2zm-15 2zm-22 0zm-5-1zm-13-2zm-4 3zm-35 0zm-29-6zm-21 2zm2 12zm6 3zm2-2zm2-4zm4 6zm16-8zm47 8zm17-3zm46-1zm29-4zm38 2zm7-1zm5 7zm1-7zm-20 11zm-7 5zm-34-5zm-7-1zm-3-2zm-4 1zm-19 1zm0 7zm-5-9zm-18 1zm-41-1zm-23 4zm-34-1zm-17 12zm1 1zm2-2zm71-3zm18 5zm126 9zm-9-1zm-10 2zm-10-5zm-18 5zm0 3zm-5-1zm-12-7zm-86-1zm-15 9zm-17-5zm-28 5zm-21-7zm-10 17zm2-2zm123 1zm2-1zm0-1zm17 0zm11-6zm5 1zm17 0zm24 4zm-9 8zm-12-1zm-46 2zm-31-1zm-2-3zm-3 8zm-17-1zm-17 0zm-11 2zm-13 0zm-9-6zm6 7zm23 7zm5-4zm6-1zm24 1zm4-3zm9 0zm10 1zm2 2zm12 5zm20-1zm15 11zm0-8zm-10 5zm-5-4zm-10 1zm-14 4zm-23-5zm-8 1zm-8 0zm-28 2zm-16-4zm-10 8zm-22-8zm16 13zm41-2zm23 0zm65 4zm20 4zm-39 7zm-20-4zm-1-2zm-51 6zm-24-2zm-6 0zm0 14zm14-7zm73-1zm14 6zm5-1zm16-3zm18 4zm7-3zm-20 8zm-41 2zm-3-2zm-75 4zm25 5zm1 5zm26-4zm3 2zm8-1zm9 3zm6 2zm2 1zm26-8zm14 2zm-17 10zm-13 4zm-10-4zm-3 5zm-37-3zm37 206zm9 10zm-15 7zm4 6zm7 2zm21 2zm5-6zm0 16zm-13-4zm-58 3zm-6-3zm-41 15zm3-3zm19-3zm30 5zm67 2zm7-3zm2-1zm18-5zm13 17zm-72-1zm-42 0zm-35 3zm-3-4zm24 10zm27 2zm20 0zm38-6zm1 2zm23 0zm9 0zm4 1zm15 13zm-4-5zm-39 2zm-17 3zm-22-5zm-95 11zm31-1zm19 2zm111 3zm18 2zm-82 8zm-9-3zm-4 1zm-5-4zm-69 2zm-38 11zm20-3zm37 2zm73 1zm34 2zm1 2zm5-5zm14 4zm2 10zm-11 0zm-26-2zm-4-5zm-28 8zm-24 1zm-34-3zm-42 0zm-29 5zm16 1zm28 0zm33-1zm43 8zm6-3zm16 3zm3-8zm30 3zm7-3zm40 5zm1 0zm6 11zm-23 1zm-9-7zm-22 0zm-13 1zm-50 4zm-4 3zm-17-9zm-73 2zm-11 5zm-7-3zm9 11zm41-4zm21 0zm143 0zm23 5zm-25 11zm-67-5zm-2 0zm-24 2zm-7-3zm-34 7zm-45 1zm-6-9zm-14 5zm-7-5zm-1 4zm-14 10zm8 1zm36-2zm21 2zm28-5zm48 9zm54-3zm8-6zm16 8zm3-8zm8 0zm-11 16zm-1 2zm-83 1zm-17-5zm-43-3zm-30 3zm-36-4zm-1 0zm65 19zm99-7zm4 7zm4-4zm27 0zm34 2zm0 6zm-11 4zm-134 1zm-15-1zm-12 2zm-23-4zm-2-3zm-10 3zm-16 3zm-1 8zm10 0zm54-2zm12 2zm13 2zm17-7zm14 3zm5 1zm14-1zm61 3zm28-4zm8-1zm-26 15zm-12-1zm-8-5zm-95 6zm-24 1zm0-4zm-42 3zm0 0zm-20 0zm22 5zm46 0zm11 5zm63 3zm-24 6zm-69-4zm-42-1zm34 10zm8 3zm19 1zm1-1zm30 2zm52-4zm3 0zm15 5zm8 11zm-114 0zm-1-6zm-1 3zm-2-5zm-1 7zm-9 11zm34-5zm100 11zm-107 5zm15 1zm87 0zm-55 13zm-25 2zm-16 3zm-1-6zm-9-1zm-19 12zm2 2zm46-1zm45 150zm-15 12zm81-4zm12 14zm-65 3zm-10-2zm-60-1zm39 10zm11 1zm0 1zm87-1zm20 1zm10 9zm-36-1zm-24-5zm-38-1zm-18 9zm-3-7zm-41 3zm-87 12zm9 0zm9 0zm7-4zm42 1zm15-3zm186-1zm-123 19zm-2-2zm-4 1zm-18 1zm-22-6zm-12 5zm-14-1zm-42 2zm-1 0zm-15 1zm13 2zm17-2zm42 3zm4-2zm1 1zm24 4zm20 2zm9-4zm30 5zm26-2zm31-3zm34 6zm-28 4zm-25-1zm-9 1zm-24-4zm-25 5zm-26-4zm-38 7zm-3-5zm0-3zm-2 6zm-4 2zm-34-7zm-26 7zm-10 1zm-8-1zm12 9zm58-6zm7 0zm6 0zm9 0zm26 3zm9-1zm49-1zm7-2zm8 4zm15 1zm56 6zm-1 4zm-2-1zm-27-4zm-10 8zm-18-5zm-6 4zm-24 0zm0 1zm-10-3zm-6-1zm-88 5zm-38-5zm-20-4zm-29 15zm79-2zm26-2zm7 5zm1-1zm26 4zm13-4zm3-1zm1 0zm9-4zm30 4zm7 2zm20 1zm21-5zm42 9zm-12 0zm-40 8zm-5-6zm-4 0zm-10 4zm-18-6zm-19 3zm-3-4zm-4 5zm-23 1zm-11 0zm-4-6zm-6 1zm-29 3zm-48 2zm-33 2zm-36 7zm12 0zm25 4zm28-4zm11 1zm1-2zm19 1zm8-2zm12 0zm3 1zm6-2zm16 3zm6 2zm39-5zm70-2zm13 6zm54-2zm-15 8zm-28 3zm-3-1zm-21-3zm-26 7zm-25-5zm-5-2zm-4 1zm-31-1zm-13 4zm-32 2zm-5 1zm-10 0zm-10-3zm-16-1zm-23-1zm-61 16zm38-8zm30 1zm35 0zm27-2zm21 7zm7 2zm8-6zm4 3zm4-6zm1 0zm27 3zm17-2zm3 0zm28 8zm6-9zm27 4zm40 3zm-36 11zm-40-1zm-10-2zm-7-5zm-9 6zm-10-5zm-13 6zm-27 1zm-61-8zm-2 3zm-1 2zm0 2zm-41-3zm-36-2zm-8-2zm-9 0zm-2 19zm4-6zm26 5zm3-4zm62-3zm7 3zm6-4zm24 9zm26-1zm63-1zm30 4zm-10 7zm-49-2zm-13-3zm-39 0zm-77 5zm-47 3zm2 2zm24-2zm9 1zm7 2zm16 2zm1-1zm25-4zm6 7zm6-3zm11-2zm5-2zm5 2zm5 2zm8 1zm27-2zm17-3zm13-1zm8 7zm40-5zm7 0zm9 0zm-25 14zm-11-3zm-3 5zm-49-4zm-9 2zm-10-3zm-37 1zm-20-3zm-1 7zm-8-2zm-21 3zm-68 0zm32 7zm74-4zm6-1zm3 6zm28-3zm22 2zm18-2zm30 3zm28 9zm0-1zm-16-3zm-1-2zm-41 7zm-9-6zm-37 1zm-36-1zm13 12zm31 6zm28-4zm13-1zm5 3zm48 2zm-97 3z"/>
<path stroke="#8e5e96" d="M353 184zm57 3zm42 10zm-2-4zm-51 0zm-5 2zm-20 3zm-87 5zm1 5zm118-1zm55 8zm-13-4zm-58 0zm-41 7zm-61 0zm-13 5zm13 3zm13-1zm21 2zm18-1zm3-2zm40 4zm111 1zm-5 10zm-150-6zm-55 3zm-12-5zm5 15zm3-1zm16-3zm7-2zm2 0zm1 5zm2-1zm3 2zm64 2zm37-3zm15-3zm63 15zm-42 1zm-22-8zm-42 2zm-16 7zm-9-9zm-25 0zm-2 4zm-65-2zm19 10zm60 3zm32 3zm2 0zm15-1zm22 0zm16-2zm9-5zm13 4zm17-3zm1 4zm4 3zm22-4zm20 13zm-20-6zm-55-1zm-14 0zm-60 1zm-25 8zm-3-3zm-44 3zm-24-2zm-20-7zm47 12zm126 4zm89 4zm-11 3zm-8 0zm-51 4zm-52-4zm-41 6zm-8-7zm-23-2zm-21 0zm-13 2zm-8 1zm13 13zm112-6zm12 0zm49 3zm12 1zm39-1zm9 9zm-9 5zm-14 0zm-32 0zm-35-5zm-13 1zm-2 0zm-84 6zm-21-7zm-23 1zm31 14zm10-2zm7 2zm14-3zm7 1zm25 0zm50-5zm3 5zm49 0zm5 1zm16-3zm-43 8zm-8 6zm-3 1zm-68-4zm-37 2zm-9-3zm-15-3zm-13 0zm-14 3zm-23 2zm4 7zm93 5zm18-3zm46 4zm61-3zm11-5zm-8 11zm-9 0zm-7-1zm-1 2zm-24 3zm-3 0zm-42-3zm-4-1zm-8 3zm-3-4zm-5 6zm-76 3zm-17 0zm-3-2zm21 6zm30-3zm48 3zm14-3zm38 15zm-14-4zm-61 1zm-19 2zm87 7zm-161 178zm153 17zm-1 3zm-131-5zm-4 4zm-1-6zm0 6zm-1 0zm-19 0zm0 3zm12 8zm3-1zm2-8zm0 3zm11 1zm5 0zm6 0zm1-4zm139 19zm-104-1zm-1-1zm-20-6zm-7 6zm0-2zm-6 0zm-1-4zm-6 4zm0 0zm-1-2zm-2 4zm-5-5zm-9-1zm-2 1zm-6 5zm-5-4zm-1 3zm-2-5zm-3 7zm-2-8zm-2 1zm-6 7zm-2 4zm3 5zm4 0zm7-2zm1-4zm1 8zm2-1zm1-6zm1-1zm0 6zm1-5zm7 5zm2 2zm2-6zm2 1zm1 2zm1 1zm0 2zm2 0zm5-4zm3-1zm0-3zm3-1zm3 5zm2-4zm2 8zm2-3zm1 2zm0 0zm2-4zm4-2zm3 7zm2-3zm2 3zm0-4zm7-4zm3 0zm63-1zm3 2zm9 2zm2 2zm20 2zm17 2zm-13 4zm-33 4zm-6-3zm-51 0zm-10 1zm0 0zm-12 2zm-8-5zm-5 4zm-1 0zm-3-6zm-2 2zm-2-3zm0 1zm-1 8zm-2-1zm-5-4zm-6 2zm-3 1zm-1 2zm-2-2zm-5-7zm-1 7zm-8 0zm0 1zm-1-6zm-4 0zm-12 6zm-6 4zm16 5zm9 0zm10 2zm3 0zm3 0zm2-6zm1-3zm0 2zm1-2zm7 4zm3 5zm1-8zm6 7zm8-7zm3 2zm0-2zm2 0zm0 7zm11-1zm2-7zm6 7zm80-1zm11-2zm-12 11zm-104 3zm0 0zm-6-3zm-8 2zm-4-4zm-2 6zm-2-7zm-2 1zm-3 2zm-14-1zm-1 2zm-2-4zm-1 7zm0-7zm-3 1zm-2-1zm-13-2zm6 14zm10 1zm3-1zm6 2zm0-4zm4 7zm3-5zm0-1zm11 0zm0 4zm0 1zm6-8zm4 1zm6 0zm2-1zm12 1zm90 8zm3 4zm-106-3zm0 2zm-4 4zm-6-5zm0 6zm-1-1zm0 3zm-4-5zm-1 4zm-6-2zm-2-4zm-2 1zm-10 4zm-1-6zm-7-1zm-1 7zm-2-4zm-3-3zm25 12zm3-1zm9 1zm17 7zm119-9zm1 7zm-120 6zm-12-1zm-16 4zm13 13zm9-5zm-12 13zm-2-3zm-12 2zm-2-1zm-15 4zm-15-3zm14 6zm16 2zm4 1zm49 1zm-44 9zm-1 1zm-4 3zm-7-6zm19 8zm0 5zm12-3zm15-2zm-51 9zm-28 377zm5 1zm22-1zm4-2zm13 2zm3-4zm14 1zm4 15zm-13-3zm-40 2zm-3 0zm8 6zm7 2zm3 3zm2 0zm6 0zm11-5zm18 4zm39-8zm-11 16zm-21-1zm-13 0zm-15 3zm-18-1zm-1-3zm-24 5zm-1 0zm-5-6zm-20 5zm1 6zm2-1zm4 4zm25-1zm17 1zm21 0zm43-7zm-5 15zm-25-3zm-14 1zm-5 5zm-1-7zm-21 4zm-60 14zm8-9zm8 1zm2 2zm4 0zm3 4zm1-2zm9 3zm9-2zm12-2zm9 5zm6-4zm2 0zm4-2zm2 6zm5-4zm3-2zm2 1zm24-4zm3 6zm-7 10zm-2-4zm-6 6zm-7-6zm-1 3zm-2-3zm-1-1zm-5 6zm-3 2zm-13 0zm-6-7zm0 3zm-36-5zm-2 3zm-8 6zm-11 0zm-4-8zm-10 8zm13 2zm37 3zm17-3zm4 0zm5 1zm2 4zm2-2zm1 3zm10-3zm2 2zm9-5zm2 1zm0 4zm6 2zm7-1zm1 1zm2 0zm-3 8zm0-5zm-2 7zm0-7zm-4 6zm-3 1zm-4-2zm-8-3zm-1 2zm-3-5zm-2 4zm-3 1zm0 4zm-2 0zm0-5zm-2 0zm-2 2zm-4-1zm0-5zm-9 2zm0 0zm-13 0zm-15 1zm-4 6zm-16-9zm-20 17zm42-5zm37 0zm10 0zm4 4zm0-2zm5 0zm3 5zm2-2zm7-6zm23 8zm7 1zm-44 1zm-45 1zm-4 1zm-17 6zm-5-5zm-2 13zm4-1zm1-4zm4 2zm12-1zm135 9zm-68-2zm-56 5zm-7 2zm-2 1zm-1-2zm-2 3zm-10-3zm-8-4zm-2 0zm-5 4zm-6 0zm-9 4zm5 7zm100-1zm71 1zm25-5zm14 7zm-44 8zm-50 0zm-29-1zm-24-5zm-30 2zm-3 4zm-1-5zm11 14zm7-4zm42 6zm7-4zm9 2zm10 2zm16 1zm66-6zm3 11zm-17-4zm-13 0zm-44 8zm-7-3zm-29 0zm-82 12zm8-7zm38 2zm11 0zm50 5zm14-5zm33 7zm44 9zm-56-4zm-24 0zm-6 1zm-21 4zm-58-2zm-1-1zm-13-5zm-20 0zm-9 9zm17 3zm45-2zm37 4zm11 2zm11 0zm5-6zm10 0zm6 6zm2-4zm37 4zm10 0zm24 12zm-14-8zm-17 8zm-11-8zm-47 0zm-1 0zm-10 0zm-1 4zm-17-4zm-2 2zm-11-1zm-9-1zm-46 4zm-1 0zm55 12zm38-7zm12 8zm7-4zm7-2zm69 4zm-11 4zm-12 3zm-23 4zm-27-3zm-34-2zm-10 7zm-1-5zm-31 4zm-12 9zm18-5zm16-1zm6 2zm0-1zm10 4zm29-6zm9 6zm-6 6zm-7 0zm-24 5zm18 9zm-4 6zm-25 0zm54 186zm14 7zm43-2zm18 11zm-77 12zm26-4zm8 6zm15-1zm27-3zm19 1zm0 14zm-23-5zm-4 4zm-45-7zm-7 2zm-6 0zm-13-2zm-14 5zm-22-5zm-3-1zm2 17zm23-4zm32 0zm42-1zm14 0zm41 16zm-4-4zm-22 1zm-62 1zm-82 9zm9 0zm6 4zm9-5zm21-4zm118 16zm-31-4zm-17 3zm-18-2zm-17 2zm-3-2zm-4 1zm-29 0zm-29 4zm-27-1zm-16 5zm23 5zm7-7zm1 5zm15 0zm32 3zm2-5zm4 0zm57 3zm48 0zm13 3zm14 6zm-12 0zm-20 3zm-7 0zm-1-7zm-43 8zm-11-1zm-8-1zm-29-2zm-5 3zm-33-5zm-13 4zm-1-1zm-34 2zm-9 4zm19 6zm6 1zm10-5zm9-2zm34 4zm27 3zm37-9zm21 4zm15-3zm12 7zm0-1zm11-2zm10 3zm3-6zm7-1zm17 0zm-8 16zm-7-3zm-3-3zm-15 0zm-18 7zm-37-5zm-30 2zm-8 1zm-87 1zm-26-6zm-3 2zm-5 10zm3-1zm67 7zm27-1zm67-6zm27 7zm8-6zm9 6zm3-4zm4-5zm28 2zm-25 13zm-74-4zm-31 1zm-21-1zm-19 6zm-56-1zm-2-1zm-6-4zm-13 6zm-15-4zm7 9zm3 7zm4-8zm10 2zm51-2zm25 4zm20-4zm47 2zm2-3zm4 2zm4 7zm38 0zm-7 1zm-1 6zm-27 0zm-19-5zm-24 2zm-28 4zm-8-5zm-63 0zm-32 7zm39 1zm85 3zm4-2zm11 7zm11-2zm8-5zm2 1zm3 7zm22 0zm7 0zm14-9zm19 7zm-26 8zm-4-1zm-6 2zm-10 1zm-15 1zm-3-3zm-6-5zm-61 0zm-5 9zm-44-7zm-3 2zm5 11zm39 3zm19 0zm13 0zm18-1zm31 1zm17-8zm2 7zm-48 7zm-6 4zm-108 1zm-4-2zm3 12zm58-7zm11-2zm6 9zm22-9zm6 5zm16-1zm18 2zm8 2zm3 7zm-7-4zm-44 1zm-39 3zm-22 1zm-32 2zm20 4zm12-2zm16 4zm7-2zm25-1zm71 6zm-19 8zm-55 4zm-1-9zm-6 7zm-36-2zm-7 2zm-3 1zm-31-3zm23 13zm31-8zm21 7zm64 11zm-2 1zm-36-3zm-26-2zm-31 3zm-9 1zm-1-4zm-19 2zm-5 3zm6 6zm41 1zm1-1zm32-3zm13-1zm2 6zm16-5zm-22 8zm-12 1zm-7 5zm-1 0zm-43-5zm55 212zm5 14zm-54-4zm12 9zm18-2zm64 16zm-13 3zm-118 8zm129 1zm16 11zm-25-2zm-110-5zm-2 6zm-3-2zm-14-5zm7 11zm25 7zm15 0zm14-4zm21 0zm72 11zm-47-6zm-6 1zm-5 2zm-1 3zm-37-4zm-13 5zm-13 0zm-18 5zm17-1zm15 4zm41-5zm91 8zm-8 5zm-1 6zm-3 0zm-20-6zm-19-3zm-33 1zm-57 7zm-26 0zm5 3zm46 0zm4 0zm11 1zm52-2zm38 12zm-5 5zm-102-2zm-40-5zm-19 9zm-6-3zm-15 1zm51 9zm66 2zm66-5zm0 6zm-3 9zm-91-8zm-2 9zm-2-6zm-74 15zm5-3zm0 2zm8-7zm29 3zm78 6zm66 8zm-49-1zm-35-6zm-13 1zm-27 0zm-35 7zm-35-6zm-34 10zm20-2zm102 0zm5 1zm64 6zm5-6zm46 4zm-16 10zm-14 0zm-16-3zm-14 5zm-101 1zm-76-1zm6 10zm53-1zm51-5zm40 6zm30 2zm7 0zm10-8zm42 7zm-225 6zm7 14zm3-3zm31-5zm29 8zm51-6zm11 3zm5-3zm14 0zm7 1zm43-1zm-39 13zm-34 2zm-9-5zm-47 6zm-54-3zm-7-3zm0 6zm38 9zm147 3zm-16 8zm-51 1zm-46-8zm-20 12zm5 0zm32 1zm22-4zm79 8zm-36 3zm-20 3zm-17 3zm-14-1zm-11 6zm3 5zm43-7zm26 1zm18 6zm-88 16zm15-3zm50 6zm1-6zm-5 19zm-4-1zm-101 4zm44 10zm14 154zm35 6zm-38 1zm-21 15zm24-3zm83-3zm13-1zm43 6zm-20 11zm-118-7zm-19 6zm0-4zm-4 6zm-13-1zm-5-6zm-26-2zm-12 6zm60 8zm35-2zm9 5zm21 0zm29 0zm2-5zm5 5zm12 2zm62 8zm-24 0zm-23-4zm-82 1zm-7 3zm-37 2zm-11 0zm-9 0zm-3-7zm-6 0zm-62 1zm46 8zm1-1zm5 0zm11 4zm10-3zm40-1zm9 2zm30-2zm4 9zm40-1zm14-4zm2 7zm-3 8zm-11-6zm-24 3zm-2 0zm-4-3zm-20 2zm-2 0zm-4 4zm-39 0zm-5-3zm-22-6zm-70 8zm0-7zm118 16zm50-4zm26 4zm13-1zm29-6zm23 14zm-24 0zm-5 1zm-98-4zm-69 3zm-3-3zm-4 1zm-25 2zm-34 3zm-4 11zm34-2zm47 3zm89-4zm33-5zm10 4zm15-3zm13 4zm-37 14zm-9-6zm0 1zm-6 5zm-3-4zm-35 4zm-21-9zm-9 3zm-17 4zm-3-2zm-26 3zm-7 0zm-44 0zm-20-8zm-36 16zm12-6zm28 4zm15 2zm51 3zm14-1zm17-5zm35 5zm8-3zm11 3zm50-6zm6 5zm54 2zm22 1zm-97 1zm-25 2zm-3 4zm-8-5zm-9 4zm-13-5zm-3 4zm-24-2zm-50 2zm-68 8zm23 0zm25 1zm24-3zm24 4zm61-4zm44 6zm1-7zm12 4zm21-4zm49 15zm-41-5zm-56 1zm-8 4zm-34-5zm-62 3zm-7 2zm-9-3zm-7 4zm-2-4zm-41 2zm-50 5zm57 10zm38 0zm6-5zm1 4zm21 0zm0-7zm2-1zm11 5zm60-1zm31-2zm29 2zm25-3zm9 3zm42-4zm-83 15zm-15-5zm-38 3zm-16 4zm-37-1zm-24 3zm-4-6zm-24 2zm-10-5zm-30 2zm-36 9zm64 3zm21-2zm27 1zm91 0zm6 5zm1 0zm22 8zm-47-2zm-43-3zm-104 2zm-20-2zm-3 0zm-14 0zm58 18zm113-5zm26 3zm29-5zm-26 9zm-46 6zm-18-6zm-30 0zm-24 7zm-30-1zm14 6zm9 5zm55-1zm71 1zm27-4z"/>
<path stroke="#4e9090" d="M326 186zm46 1zm66 10zm-70-7zm-23 3zm91 12zm27 8zm-39-3zm-22 7zm-7-2zm-83-3zm-33 6zm19 10zm29-1zm43-7zm88 7zm15-6zm-18 13zm-8-1zm-99 6zm-24-3zm-62 7zm165 2zm91 3zm-44 9zm-15 2zm-6-7zm-33 1zm-62 13zm32 1zm44 2zm5 0zm20-3zm64 0zm-34 9zm-105 4zm-13-9zm-77 11zm0 3zm102 1zm122 12zm-28-1zm-37 10zm33 13zm-80-7zm-55 6zm-1 1zm-15-3zm-51-4zm87 11zm61 1zm77-1zm-47 10zm-4 6zm-59 2zm35 5zm61 2zm16-4zm-15 8zm-70 6zm-7 1zm-34-4zm-15 0zm38 22zm-56-2zm60 10zm-87 154zm7 6zm13 4zm12-3zm6 2zm8-2zm1 1zm0-3zm2 1zm9 0zm3 0zm2 2zm7-1zm10 3zm1 0zm47 10zm-40-3zm0 0zm-3 2zm-6-6zm-3 2zm-2-1zm-13 4zm-1-2zm-3-1zm-9-2zm-14-1zm0 4zm-1-5zm-8 1zm-4 6zm-10-3zm-1 4zm-21 11zm14-5zm4 2zm6 2zm3-8zm6 4zm1 0zm3 3zm1 1zm16 1zm2-2zm23-6zm4 2zm0 4zm12-7zm8 6zm14-1zm0-5zm5 2zm1 1zm1 6zm1 0zm6-9zm-8 14zm-11-2zm-11 4zm-2-3zm-1 2zm-3 3zm-2-2zm-2 2zm-10 1zm-1-1zm-4-6zm-1 5zm-2-3zm-6 1zm-1 3zm0-4zm-6 4zm0-5zm-3-3zm-1 6zm-4-4zm-2 6zm-3-5zm-4 3zm-5-2zm-2-4zm-4 4zm-11-2zm-9 2zm-4-4zm-10 10zm5 2zm8 7zm1-2zm8-7zm13 0zm2 4zm0 0zm1 0zm2 3zm1-7zm0 2zm10 4zm1-4zm7 5zm1 1zm8-3zm2 2zm0-5zm2 5zm3-3zm2-1zm5 4zm0 1zm9-8zm4 2zm5-1zm9 6zm3-3zm1-3zm3 8zm0-8zm5 1zm5 7zm6-4zm5 13zm-5-7zm-3 4zm-4-1zm-1 3zm-11-2zm0 4zm-1-7zm-1 4zm0-2zm-4 3zm-1-7zm-16 8zm-6-4zm-1-2zm-2 0zm-4 5zm-2 1zm-7-6zm-10 2zm0 4zm-5-3zm-3-2zm0-3zm-3 3zm-4 3zm-1 1zm-2-2zm0 3zm-3-8zm-2 4zm-9-1zm-1-2zm8 16zm1-5zm0 1zm3-1zm5 1zm1 4zm3-3zm5-4zm8 3zm15 6zm3-8zm1 4zm6 3zm9-6zm4 0zm50 10zm-13 3zm-1-2zm-19-1zm-11 0zm-44 0zm-15 0zm-25-2zm-6 2zm8 11zm65 2zm41 4zm3-6zm18 0zm-27 15zm-1-7zm-16 8zm-16 5zm12-4zm32 9zm8-7zm6 6zm0 1zm-13 3zm-32 10zm10 0zm-9 8zm-105 448zm-4-1zm-9 2zm-25-5zm-4 4zm-5-6zm-5 2zm-1-4zm-10 9zm-3-5zm0 5zm-3 4zm3 4zm4-4zm12 1zm13 5zm6-4zm1 4zm2-4zm12 2zm16-4zm9-3zm22 2zm-41 16zm-4-5zm-7 5zm-5-6zm-3-1zm-10-1zm-9 7zm-3-1zm-9-2zm-2 1zm-3 1zm-5-2zm-1 1zm-2 0zm-1 4zm-16-2zm-9 10zm4 1zm2-4zm5-3zm0 1zm4-1zm1 8zm1-2zm3-4zm1 0zm1 3zm9 1zm2-1zm2 1zm5-6zm1 6zm7-1zm2 0zm10-4zm3 5zm0-1zm3-4zm2-2zm8 1zm2 5zm13-5zm1 2zm8-2zm7 7zm26-5zm-15 7zm-40 3zm-1 0zm-6 5zm-1-5zm-6 5zm-15 1zm-1-7zm-4 3zm0 0zm-1 0zm0-3zm-3-1zm-5 1zm-1 5zm-6-1zm-3-6zm-3 5zm-2-1zm-3 5zm-3-6zm-6 1zm-1 3zm-9-4zm0 1zm-1 12zm7 2zm3-3zm9 0zm3 0zm0 0zm0 3zm11-1zm1 0zm3 1zm1-6zm1 3zm1 4zm3 0zm4-5zm2-3zm3 3zm2 0zm5-2zm6 2zm3 4zm83 10zm-37-6zm-24 5zm-4-6zm-20 7zm-5-7zm-1 5zm-9 2zm-2 0zm-5 0zm-2 0zm0-6zm-9-1zm-7 6zm-11-1zm-5 3zm-10-6zm9 7zm9 0zm2 1zm2 4zm3-3zm2 2zm2 5zm0-6zm4-3zm5 7zm12 2zm4 0zm3-5zm4 0zm1-3zm102 18zm-44-2zm-5 0zm-16-4zm-2 5zm-9-2zm-41 0zm-8-6zm-17 3zm-14 7zm21 5zm5 0zm3 2zm96-7zm-54 13zm-26 5zm-38 4zm114 7zm47-4zm-9 5zm-44 9zm-12-1zm-70 0zm-24-3zm-4 4zm36 5zm143-2zm6 1zm-102 12zm-23 3zm-15-3zm156 19zm-51 0zm-12 4zm-21 1zm-89 3zm65 5zm1-3zm13-4zm100 2zm-93 14zm-77 13zm9-9zm67 5zm28 1zm56 6zm-121 5zm-55 8zm67-1zm103-3zm-143 16zm-15-7zm26 15zm10-3zm76 2zm17 5zm-5 1zm-79 4zm-4 2zm-8 3zm63 15zm27 184zm-21 2zm79 14zm-6 5zm-3 0zm-4-2zm-7-2zm-56 3zm-3 1zm-24-4zm10 13zm86-5zm16-2zm8 13zm-7 0zm-43 4zm-5-7zm-25 0zm-28 5zm-16 1zm-7-2zm12 8zm75 1zm29-2zm18 1zm3 5zm11-5zm1 16zm-60-3zm-17 1zm-47-3zm-59 14zm5 1zm17-8zm21 2zm1-2zm23 8zm17-5zm14 1zm9 3zm20-6zm36 5zm33-4zm7 4zm-26 12zm-29-3zm-66 0zm-13-2zm-29 4zm-10-7zm-21 4zm-15 12zm11-2zm2 2zm33-3zm77 2zm25-6zm49 1zm14 1zm8 1zm-6 7zm-31 2zm-4 1zm-28-1zm-13 6zm-129-4zm-1 14zm1-6zm16 4zm17 3zm14-9zm6 6zm60 0zm12 0zm25 1zm5-2zm45 3zm5-5zm-2 13zm-7 3zm-34 0zm-41 0zm-5-3zm-4-4zm-9 5zm-1-2zm-20-2zm-23-1zm-7 6zm-4 1zm-27-4zm-51 10zm43-1zm18 0zm3-1zm71-3zm40 0zm44 2zm-2 8zm-40 0zm-3 6zm-2 2zm-19-3zm-27 3zm-4-2zm-19-3zm-9 4zm-11-7zm-8 6zm-2 3zm-44-8zm-7 3zm-7 5zm-6-8zm-17 3zm7 9zm37 4zm51-5zm1-2zm0 1zm18 6zm52-7zm5 1zm10-1zm24 2zm13 3zm-6 11zm-6-6zm-3 7zm-48-4zm-20-2zm-16 7zm-5-5zm-61 1zm-11 2zm-62 6zm118 7zm16-8zm9 3zm11 2zm31 3zm7-5zm23-4zm16 3zm-37 13zm-25-3zm-3 0zm-7 5zm-107-2zm-10 3zm-34 9zm0-5zm2 4zm181-2zm23-4zm6 6zm-122 10zm-35 0zm-36-6zm-3 0zm-11 17zm23-1zm50 2zm44-1zm0-1zm6 1zm4-2zm11-2zm21 0zm0-2zm-14 17zm-7-3zm-30 3zm-4-7zm-6 1zm-5 1zm-45-3zm-16 0zm-22-1zm66 16zm9 2zm36-7zm11 5zm2 13zm-8-1zm-9 1zm-9-1zm-31-3zm-23-5zm-11 2zm-9 7zm21 8zm1 2zm3-9zm47 1zm4 1zm11 6zm12-7zm10 3zm3-1zm1 3zm-35 11zm-13-6zm-7 1zm-10 24zm14 7zm6-2zm-62 224zm33 4zm49-3zm12-1zm8 3zm-32 4zm-53 10zm96 3zm4 0zm3 1zm-6 13zm-50 0zm-50-7zm-22 7zm68 8zm8 0zm77 12zm-18-4zm-58-2zm-18 3zm-49-4zm8 15zm93-7zm33 3zm1-1zm-40 9zm-51 7zm-5-3zm-35 0zm3 8zm24 5zm14-7zm24 2zm3 1zm5-4zm50 7zm16 8zm-42 2zm-54-2zm-4 2zm-20-3zm-7-2zm-8 7zm-30-2zm-5 0zm-1-3zm-8 2zm-9-2zm-5 0zm6 11zm25 4zm19-8zm112 0zm33 1zm5 15zm-3-1zm-74-6zm-10 7zm-30 1zm-52-2zm-5-4zm-5 1zm-49 7zm74 7zm15-4zm113 1zm19-2zm0 2zm18 5zm-105 5zm0 2zm-1 3zm-20-7zm-36 2zm-37-2zm-31 8zm22 5zm33 1zm25-5zm20 4zm32-4zm67-1zm20 3zm-42 13zm-164 5zm9 4zm39 2zm21 2zm29-5zm5 5zm67-2zm5 7zm-46 1zm-52-2zm-5 12zm21 1zm2-2zm19 1zm2 3zm1-8zm12 1zm20 6zm1-4zm1 4zm25 0zm-49 5zm-95 4zm0 12zm13-1zm127 2zm11-3zm10 2zm-32 11zm-38-1zm-10-3zm-1-1zm-80-1zm38 14zm49-4zm80 14zm-32-4zm-111 0zm4 12zm121 11zm-27-1zm-1-1zm-51-4zm-55 5zm62 11zm47-4zm3 6zm4-2zm0 10zm-28-1zm-56-2zm0 1zm38 8zm23 1zm7 3zm1-2zm-9 164zm4-2zm45-4zm32 0zm1 10zm-96 4zm-33-1zm-1 2zm66 12zm61-8zm21 13zm-36-1zm-28 0zm-46 6zm-57-7zm-9 9zm29 0zm31 7zm7-5zm41 3zm0 3zm2-1zm9-7zm64 6zm3 2zm12-4zm5 7zm-20 0zm-3 3zm-10-1zm-19 2zm-13-4zm-49 6zm-30-4zm-17 4zm-23 0zm-16-1zm-19-2zm-17-3zm-7 17zm2-3zm54-2zm55 4zm11-1zm10-7zm11 6zm90-6zm1 4zm8 13zm-7 2zm-16-1zm-66 0zm-29-2zm-6-5zm-27 3zm-45-4zm-5 5zm-11-1zm-17 4zm-15-7zm20 16zm7-1zm2 3zm45-7zm20 3zm111 7zm-11 7zm-6 0zm-10-7zm-61 0zm-10 2zm-6-3zm-22 4zm0 4zm-1 0zm-14-5zm-2 2zm-48-5zm-67 11zm27 4zm4-5zm128 6zm3-4zm12 2zm6 1zm3 2zm1-5zm5 2zm11 0zm20 3zm86-4zm-28 15zm-23 0zm-11-6zm-32-2zm-23 4zm-1 3zm-18-8zm-2 4zm-2 0zm-5 3zm-6-4zm-35 4zm-5-3zm-5 4zm-4-6zm-3 6zm-3-8zm-11 1zm-4 7zm-12-3zm-22 3zm-45 7zm17-4zm4-1zm22 3zm2 2zm48-4zm8 6zm46-1zm9-5zm12 4zm9-2zm13 4zm10-2zm15 0zm1-2zm11-1zm14 7zm3-4zm8 4zm1-1zm24-1zm3-5zm10 3zm7-5zm32 13zm-46-2zm-2 7zm-42-8zm-6 3zm-4 2zm-30-5zm-8 8zm-2-1zm-42-3zm-6-3zm-8-1zm-10 5zm-29-3zm-60 5zm-40 9zm44-4zm35 3zm24-2zm13 3zm4-3zm33-3zm14 7zm43 1zm19-6zm33 6zm56 6zm-10 4zm-14-1zm-115-6zm-2 5zm-22-2zm-21 0zm-32-4zm-23 6zm-1 3zm-9-5zm-40 1zm-3 0zm-9 8zm27-2zm25 8zm3-5zm42 1zm12 4zm98-1zm31-1zm60 3zm-50 9zm-16-6zm-22 6zm-4-4zm-3-4zm-25 5zm-87-6zm-6 0zm-25 4zm31 14zm41-6zm40 6zm11-1zm13 1zm51-5zm9-2zm39 4zm-52 10zm-67-5zm-28 4zm-52 1zm-7-4zm-43 1zm-48-2zm26 12zm92 3zm20 4zm1-9zm5 6zm12-5zm21 6zm6-7zm33 9zm5 0zm5-1zm21-5zm17 16zm-16-3zm-23 0zm-12 3zm-26-5zm-37 4zm-32 0zm-72-6zm-13 4zm81 6zm7 3zm48-2zm41 6zm-13 1zm-25 8zm-28-8zm-17 3zm-8 4zm-10-2zm-20-2z"/>
<path stroke="#3e2a92" d="M359 176zm4 9zm86 13zm-15-6zm-52-2zm-27 1zm-51 14zm38-2zm11-1zm3 5zm1-6zm19 6zm41-5zm37-1zm-15 9zm-109 6zm-6-1zm-14-4zm-30 7zm-11 5zm29 0zm1 6zm6-8zm18 7zm35-1zm24-5zm69 1zm5 2zm30-1zm0 4zm17 1zm12 5zm-37 3zm-6-2zm-55 3zm-3 0zm-17-5zm-7-3zm-6 0zm0 4zm-116 15zm43-2zm48-5zm3 6zm17 0zm0-6zm140 12zm-3-2zm-32 1zm-16 5zm-150-7zm-34 1zm3 13zm66-1zm9 1zm80 4zm4-4zm34 8zm-10 0zm-110 3zm-11 2zm-3 1zm-50 0zm61 3zm4 1zm20 1zm2-4zm13 9zm24-9zm8 8zm57-2zm34 11zm-109 0zm-71-4zm-62 1zm2 14zm8-7zm5 5zm9 2zm25-1zm15 2zm107-5zm4 3zm31-4zm25 3zm4 6zm-13 2zm-61-4zm-52 4zm-23-2zm-3-2zm-18 4zm-79 5zm39 1zm22 1zm6 6zm18-1zm3 1zm120-6zm5 4zm13-5zm14 0zm6 16zm-48 1zm-42-1zm-24 1zm-15-1zm-19-1zm-19-5zm-4 1zm-46 4zm11 7zm18 1zm28 5zm4-1zm33-6zm31 0zm1 3zm10 3zm2 1zm11-5zm11 2zm23 0zm5 1zm5-6zm20 5zm-42 8zm-19-2zm-89 6zm-59 3zm39 6zm14-2zm17 4zm57-1zm37-5zm19-1zm11 6zm-85 9zm0 2zm-32-6zm-26 1zm11 176zm4 0zm9-5zm33 4zm2 0zm22 10zm-22-3zm-12-2zm-8 5zm-8 1zm-3-7zm-17 1zm-5-2zm-4 8zm-28 9zm6-2zm31 2zm3-1zm16 1zm14 0zm12-6zm10-1zm19 5zm2-1zm0-2zm7 10zm-5 5zm-2-7zm-4 0zm-2 7zm-4-8zm-7 8zm-46-1zm-2-3zm-14-1zm-3 2zm-12-2zm-3 3zm-2-1zm-17-2zm-2-1zm-16 13zm8 4zm34-7zm18 4zm1 3zm10-1zm35 1zm7-6zm1 2zm3 3zm1-7zm5 3zm2 0zm4 3zm1-3zm1 3zm3 1zm5-7zm1 2zm0-3zm13 12zm-2 3zm-1-3zm-7 5zm-10-3zm-6-2zm-1 7zm-1 0zm-1-8zm-2 2zm-8 4zm-17 0zm-22-5zm-15-1zm-6 1zm-66 0zm-11 6zm8 9zm49-1zm6-6zm11 3zm10-3zm26 7zm1-5zm8-1zm1 8zm5-7zm7 1zm0 5zm1-6zm14 3zm4 1zm1 3zm15-9zm9 4zm1 12zm-2 0zm-1 2zm-3-5zm-2 5zm-1-7zm-2 5zm0-3zm-5 2zm-2-1zm-2 4zm-7 1zm-8-5zm-4-4zm-8 1zm-7 1zm-1 0zm-40 1zm-4 2zm-4-3zm-3 5zm-1-5zm-5-2zm0 5zm-2-3zm-2 3zm-7 4zm-2 0zm-13-7zm-12 5zm-1-1zm-30-3zm-3 1zm14 14zm9-1zm2-6zm5 3zm6-4zm17 2zm5-2zm26 1zm1 1zm41-1zm3 7zm10-8zm4 6zm14 1zm2-5zm1 4zm5-2zm2 5zm2-7zm6 5zm2 1zm9-4zm4 0zm-2 15zm-8 0zm-3-9zm-2 7zm-5-3zm-10 0zm-9 3zm-2-7zm-1 4zm-3 1zm-4 3zm-1-6zm-1 0zm-8-1zm-3 6zm-5-4zm-1-1zm-6-1zm-55 0zm-13 0zm-16 2zm-10-2zm-4 8zm-5-3zm-9-4zm2 16zm19-5zm26 0zm6 5zm68-2zm5 0zm9 0zm2 0zm2 2zm0 1zm9 0zm1-8zm0 3zm5 1zm4 2zm1-6zm4 1zm0 6zm4-7zm2 1zm2 3zm11-3zm5 12zm-7 5zm-3-7zm-4 4zm-3-2zm-6-2zm-8-2zm-5 0zm-7 3zm-2 5zm-4-5zm-3-1zm-7 2zm-3-2zm0 4zm-7-1zm-100-3zm27 9zm93 2zm1-2zm15 3zm0-2zm0 5zm3-5zm5 1zm7 6zm-1 1zm-11 6zm-10-5zm-98 8zm-8-5zm-26 15zm16 9zm-7-3zm3 5zm18 7zm23 11zm-34-1zm-43-7zm78 17zm-68 381zm4-4zm0 2zm9 2zm8-1zm6-2zm38 7zm-23 5zm-3 2zm-4-6zm-5 2zm-6 2zm-11-7zm-5 1zm-3-1zm0 2zm-40 12zm3 4zm3-6zm8 0zm3-1zm3 7zm1-5zm4-3zm1 4zm14 2zm3 2zm3-3zm3-2zm2 6zm7-1zm3 0zm2-1zm5-2zm2 1zm9 0zm22-3zm19 12zm-32 4zm-29-4zm-6 2zm-4-1zm-3-2zm-6 2zm-2-2zm-3-4zm-1 0zm-5 1zm-3 2zm-8 5zm-2-5zm-5 1zm-6 2zm-4 3zm-19 5zm11-2zm15 3zm0-4zm14 2zm5 2zm7 2zm3 0zm3-6zm3 2zm1 4zm3-7zm0 4zm7-2zm4-2zm20 3zm18 16zm-10-4zm-19 1zm-27-6zm-8 0zm-1 3zm-10 2zm-4 2zm-28 1zm0 1zm-9 9zm3-3zm3 2zm5-2zm4 0zm5-1zm0 5zm0-6zm4-1zm1 0zm2 1zm1 3zm14-1zm2 3zm20-1zm4-7zm7 7zm0-4zm2 4zm7-1zm3 0zm11 2zm13-4zm0 1zm-4 14zm-12-7zm-13 6zm-2 0zm-1-7zm-2-1zm-6 5zm-13 0zm-46-3zm-24-2zm0 7zm-6 1zm11 2zm5 1zm38 8zm7-3zm27 2zm10-3zm11 0zm3 2zm7-1zm3-1zm2 4zm10-3zm23 0zm-30 13zm-11-6zm0 0zm-5-2zm-35 8zm-1-3zm-1 0zm-5-6zm-40 1zm2 18zm16-9zm25 5zm87-3zm-71 17zm-70-5zm-19 5zm0 3zm24 6zm5-8zm12 4zm3-1zm1 6zm11-7zm68 3zm4-4zm19-1zm56 1zm15 18zm-11-1zm-86-5zm-49 1zm-3 3zm-17-3zm-1-1zm-2 3zm-14 3zm-9-8zm-2 5zm-2-1zm8 9zm19-2zm7 0zm23 1zm26 2zm24-2zm84 12zm-41 3zm-1-2zm-11 0zm-22-4zm-105 3zm-10 4zm15 8zm24-3zm6 3zm7 1zm46-4zm53-3zm11 1zm37 14zm-1 0zm-32-4zm-9 2zm-33-4zm-89 7zm-51 0zm4 7zm24 3zm14-1zm138-3zm39 2zm-39 9zm-52 1zm-17-3zm-99 12zm99-1zm61 5zm12-2zm9 3zm-28 4zm-13 5zm-18-1zm-11-2zm-97 1zm28 9zm136-2zm1 2zm-25 8zm-17-1zm-17-1zm-3 2zm-7 2zm-24 2zm40 7zm19 2zm-26 7zm-14 0zm-19 4zm-11-5zm-1 0zm6 11zm60 8zm-11 190zm15 6zm4-7zm36 10zm-16 8zm-1-5zm-25 3zm-40 9zm38 2zm40-6zm8 0zm32 5zm16 3zm7 0zm3-2zm-8 10zm-3-1zm-34-4zm-13 1zm-42 0zm-10 0zm-13 3zm-5 2zm-5 1zm-3-8zm-26 12zm10 3zm3-3zm2 3zm11 0zm26-5zm3-1zm17 9zm10-8zm14 6zm2-7zm11 5zm5-4zm8 8zm7-3zm1 2zm7 6zm-12 3zm-43-7zm-18 7zm-17-2zm-18-1zm-10 6zm44 3zm13-3zm30 4zm30 10zm-22 2zm-45-5zm-6 3zm-5 4zm0-2zm-14-3zm-35 5zm-26-4zm-8 5zm-1 6zm17 3zm69 1zm3-7zm17 3zm2 1zm44-2zm9 2zm68 9zm-30 3zm-38 0zm-42-6zm-33 3zm-4-3zm-30 1zm-2 6zm-10-4zm-22-2zm-33 3zm4 6zm10 2zm36 3zm16-2zm27 3zm31-7zm60 5zm24 3zm21-3zm2 5zm-28 5zm-40-6zm-8 3zm-36 5zm-49-8zm-40 0zm-10 5zm-1 1zm-24-5zm53 18zm4-9zm7 4zm33 2zm3-5zm68 1zm52 4zm21 2zm-22 4zm-51 7zm-1-5zm-14 5zm-17-9zm-135 7zm-7 3zm12 4zm101 1zm8-2zm106 2zm-8 14zm-16-7zm-35 0zm-8 3zm-4 1zm-64 3zm-32-9zm-8 6zm-5-4zm-3 6zm-12 1zm-34-2zm-1-3zm-10 11zm27-5zm88 2zm10 1zm34-1zm20 0zm41-1zm-19 14zm-9-4zm-39 5zm-7 0zm-25-3zm-9 4zm-4 2zm-6-2zm-69 1zm-6-8zm-7 6zm-23 8zm3 1zm8-2zm20 6zm3-2zm9-7zm8 4zm42 4zm19-4zm63 2zm8-4zm21 5zm13 7zm-95 0zm-3-4zm-91 9zm-11 0zm-8-9zm-17 6zm14 12zm67 1zm6-2zm23-5zm7 2zm33 1zm30-3zm-4 15zm-21-1zm-43-1zm-7-1zm0-3zm-8 8zm-7-9zm-2 2zm-2 5zm-11-3zm-12 3zm-31-2zm-13-2zm-4 0zm0 2zm91 10zm19-4zm55 15zm-74-3zm-18 6zm-15-3zm-21 3zm-10-1zm61 7zm49 2zm-29 3zm-1 0zm-2 4zm0 0zm-4 1zm-29-1zm-29 6zm12 0zm55 2zm3 6zm2 8zm-24-2zm-26 2zm-4-5zm-17 0zm68 12zm-41 204zm36-5zm26 1zm-18 9zm-73 10zm22 3zm11 3zm45-2zm2-2zm0 5zm2-3zm17 12zm-17-6zm-55 4zm-21-2zm57 14zm17-6zm19 3zm4 11zm-5 2zm-9-3zm-46 3zm-34-4zm-1 5zm-21-7zm-2-1zm-6 3zm-16 12zm12-2zm29 3zm49 1zm9-8zm29 1zm58 18zm-7-4zm-11-2zm-18-2zm-29 3zm-63 2zm-42 2zm-16 10zm59-8zm1 4zm67-4zm5 8zm27-6zm-4 13zm-8-5zm-75 6zm-2-4zm-68 14zm47 2zm28-5zm8 4zm10-4zm17-1zm78-2zm-6 14zm-61-1zm-25 3zm-20 3zm-69-9zm-7 5zm-1-3zm-17 0zm-5-1zm-6 0zm-2 6zm53 7zm23-3zm97 2zm23 5zm11-2zm18-3zm-12 9zm-8 5zm-16-3zm-18-4zm-68 9zm-29-6zm-89 2zm15 14zm32-1zm1-8zm42 4zm126-2zm4 4zm6-6zm-90 12zm-17 0zm-42 5zm-5-1zm-1-2zm-3 1zm-22-1zm-32 4zm56 6zm12 0zm44-3zm104 18zm-44-9zm-62 3zm-2 0zm-76-3zm-29 1zm-20 3zm5 14zm7-2zm3-6zm57 0zm147 18zm-11 1zm-4-4zm-10-1zm-5-1zm-27 5zm-9-1zm-140 3zm56 2zm6 6zm71-1zm24 2zm49-6zm31-1zm-58 14zm-3-6zm-42 1zm-1 6zm-39-2zm-43 1zm-4 0zm-26-1zm-1 4zm0-7zm1 17zm43-5zm7-3zm12-1zm26 0zm101 15zm-22-1zm-89 3zm-55-1zm-7 3zm17 2zm16 8zm0-4zm2 1zm9-4zm59 7zm68-3zm6 3zm-25 2zm-8 2zm-24 2zm-79 12zm22-5zm53 1zm32-3zm-20 10zm-47 2zm-1 7zm-49-4zm-5 1zm37 5zm9 4zm57 7zm-21 5zm-1 1zm-21-2zm-22-4zm-20 1zm-5 8zm0 2zm15 1zm13 1zm30 6zm67 157zm24 1zm11 4zm-40 6zm-84-2zm-27 12zm13-5zm136 1zm-19 8zm0 3zm-13-6zm-15 5zm-31-3zm-91 11zm75-2zm10 7zm18-3zm68 4zm43 10zm-22-9zm-11 7zm-5 0zm-134-2zm-6 3zm-2-2zm-13 3zm-4-1zm-10 1zm-34 2zm63 8zm17-3zm4-6zm28 5zm5 1zm35 0zm0-2zm26-3zm17-1zm4 5zm54 4zm-92 3zm-2 4zm-15-4zm-16 5zm-3 2zm-9-2zm-10-7zm-1 2zm-8-1zm-12 6zm-13 1zm-36-5zm-5-3zm-11 4zm-18 4zm-37-3zm10 10zm21 1zm14-1zm12 1zm14-5zm0 0zm4-1zm7 8zm10-1zm23-3zm8 1zm12 3zm35-5zm37 2zm17 3zm23-5zm39 12zm-6-2zm-66 1zm-3 4zm-17-1zm-15-2zm-13-5zm-22 1zm-23 0zm-2-1zm-24 0zm-9 5zm-2-5zm-8 4zm-13-2zm-8 6zm-59-4zm49 8zm6 2zm14 4zm10-2zm12-6zm4 7zm12-3zm1 2zm9 2zm0-7zm1 1zm0 3zm6-3zm4 6zm7 0zm18-6zm15-2zm4 1zm4 3zm10 5zm3-5zm1-4zm2 3zm1 1zm19-2zm29 7zm29-7zm-272 9zm-3 8zm8 9zm47 1zm2-1zm13-1zm29-7zm7 3zm43-1zm5 7zm12-5zm13-2zm52 2zm38 3zm35 7zm-13 4zm-35 1zm-36-5zm-37 1zm-6-3zm-27 4zm-11-2zm-6 2zm-1 1zm-7-3zm-3 2zm-26-5zm-11 6zm-5-5zm-11 4zm-9-1zm-6 2zm-8 1zm-9-4zm-6 2zm-10 2zm51 6zm8 3zm10-2zm31-1zm46-4zm3 8zm16 0zm23-1zm8-1zm36-6zm18 1zm20 1zm-99 8zm-31 3zm-15 4zm-8-7zm-9 5zm-15-3zm-14 5zm-16-3zm-32-4zm-41 0zm-13 4zm0 5zm-11-4zm39 11zm50 0zm9 2zm11-8zm34 4zm12 1zm10-1zm4-3zm79 6zm39 0zm11 1zm-16 6zm-6 3zm-10-6zm-9-1zm-15 9zm-16-7zm-50-1zm-25 0zm-8 2zm-8 1zm-119 8zm64 3zm22-3zm65 4zm7-6zm109 8zm-32 2zm-73 0zm-22 2zm-56 2zm-10 0zm-68-2zm76 16zm20-6zm46 1zm46 1zm2-4zm9 3zm37 1zm-170 7zm21 9zm6 6zm66 3zm36-4zm18-3zm-17 10zm0 2zm-43 5z"/>
<path stroke="#151515" d="M387 199zm-63 7zm114 3zm22 10zm-59-1zm-46-1zm-76 10zm20 1zm142 0zm63 7zm-9-4zm-9 8zm-25-4zm-45-5zm-155 2zm162 8zm55 2zm17 3zm4 0zm-34 5zm-61 9zm-52-5zm157 20zm-21-2zm-88 3zm-116 8zm7 4zm63-5zm29 2zm-45 12zm-41 2zm-3-7zm-5 13zm53 1zm115 11zm-163 10zm17-5zm136 6zm3 7zm-100 3zm-14 1zm-15 3zm185 16zm-4 1zm-84-2zm-31 3zm-13 0zm-20 0zm-12-3zm1 6zm22-2zm-110 750zm109 36zm-23 7zm-99 13zm11 3zm-8 6zm-37 10zm161 41zm-131 13zm155 11zm-67 9zm-13 4zm77 5zm6-1zm-108 11zm-75-6zm-3-1zm112 17zm42-6zm62 2zm-176 21zm68 0zm52-3zm50-2zm-38 34zm-59 4zm-43 1zm115 8zm-72 25zm19 206zm-27 11zm61 0zm18 0zm69-7zm5-2zm-8 17zm-71-1zm-35 1zm-1-7zm-4 7zm-36 1zm10 10zm20-7zm65 6zm31-3zm42 5zm3 7zm-16 2zm-1-8zm-56 2zm-10 0zm-48 3zm-13-2zm-16 6zm2 6zm21 4zm81-4zm39 12zm-27-7zm-48 0zm-1 2zm-44 1zm-25-1zm-6 4zm-5-6zm-20 8zm11 8zm67-4zm4 5zm34-2zm45-5zm8 9zm3-6zm2-1zm16 4zm20 0zm-2 11zm-67-5zm-31 0zm-2 0zm-74 2zm-65 10zm96-1zm58-2zm7 8zm8-4zm5-4zm19 8zm-19 5zm-48-2zm-27 7zm-9-4zm-7-3zm-15 3zm-2 3zm-11-1zm-35-4zm0-2zm16 10zm40-1zm3 9zm28-3zm2 0zm3 2zm43-8zm6 7zm22-5zm43 7zm-35 10zm-1-3zm-33-1zm-13-1zm-3 0zm-77 5zm-41-6zm-12 6zm-24 1zm5 2zm23 0zm72-2zm35 8zm15-6zm24 7zm14-4zm15-2zm-40 15zm-1-3zm-29 4zm-5-5zm-12 0zm-49-2zm-30 4zm-28-1zm-5 4zm-17-9zm12 16zm10-4zm65 1zm57 2zm21 2zm19-3zm14-4zm12 14zm-1 2zm-29 1zm-76-6zm-18 8zm-28-2zm-19-2zm-9 14zm17-5zm8 3zm57 0zm6-2zm34 1zm53-3zm-52 16zm-113 0zm-16-4zm-2 3zm-5-6zm-11 13zm34-2zm9 0zm19 1zm29 3zm49 1zm8 1zm27-5zm15 2zm-42 8zm-112 3zm-34-4zm64 12zm4-1zm1 4zm10-5zm11 3zm17 2zm49-1zm-10 6zm-107 5zm-16-5zm65 7zm36 12zm-9 2zm-62 1zm74 23zm-17-5zm-14 5zm-24-3zm-18-5zm-10 0zm11 229zm13 9zm26-6zm2-1zm42 11zm-8 4zm-66-1zm-7-2zm-7-1zm-39 15zm12-6zm2-1zm8 5zm25-1zm4 5zm33-4zm54 2zm-127 7zm-3-3zm-1 16zm0-3zm31 0zm24-2zm1 0zm40-1zm51 0zm20 8zm-5 7zm-10 1zm-52 1zm-72-3zm-29 13zm5-8zm20 0zm12 8zm54-8zm83 4zm8-3zm-20 9zm-57 7zm-105-6zm-6 6zm-2 2zm-7-8zm14 9zm65 7zm82-1zm22 1zm-49 5zm-93 1zm-30 11zm62-2zm17 2zm0 2zm34 0zm20 0zm7-5zm7 2zm18 4zm3-2zm12-3zm-143 9zm-27 5zm-44-1zm32 10zm6-4zm68 3zm62-3zm19 8zm3-8zm-61 11zm-3 2zm-21-3zm-5 5zm-76 0zm-29 2zm42 11zm17-4zm35-4zm16 7zm18-6zm44 2zm13 11zm-120-5zm-28 4zm-5-1zm-10 2zm-23 9zm6 1zm1-3zm6 2zm32 0zm41-2zm56 3zm54 1zm26-3zm17 15zm-11 1zm-67-1zm-3-6zm-5 1zm-26 6zm-42-4zm-39 0zm-39 2zm-6 7zm8 1zm6-3zm50-2zm19 6zm33-6zm15 9zm1 0zm21-7zm0 7zm-10 1zm-5 3zm-2 2zm-13-1zm0-2zm-104 1zm12 11zm23 3zm146-7zm1 0zm7 9zm-21 2zm-41 1zm-13 5zm-38-6zm-25-1zm-27 4zm-19 9zm95 1zm41-4zm17 7zm24-2zm1 4zm-31 9zm-7-8zm-8 8zm-14 0zm21 4zm3 15zm-56-6zm-45 8zm18 9zm3-7zm32 2zm53 2zm4-3zm-4 15zm-37-5zm-2 5zm-5 1zm-20-5zm-13 2zm0 0zm6 11zm6 1zm35-2zm11-3zm-45 165zm57-4zm-41 9zm-19 4zm-14 6zm107 2zm56 10zm-6 5zm-3-1zm-67-6zm-35 0zm-23 3zm-2 0zm-3-2zm-35-2zm-16 4zm-1 2zm-8 3zm11 9zm40-1zm8-5zm6 4zm25 2zm14-5zm1 2zm39 2zm5-4zm11 1zm45-3zm26-2zm-2 13zm-16-2zm-13 7zm-22-3zm-43 1zm-48-5zm-29 1zm0 3zm-84 3zm-4 4zm71 4zm11-5zm0 8zm31-3zm73 2zm11 1zm11-6zm48 9zm-17 7zm-22-8zm-9 8zm-2-1zm-20-4zm-27 5zm-98-5zm-34 2zm-35-2zm-5-4zm0 13zm0 5zm46-5zm39-3zm12 4zm29 5zm45-4zm38-1zm32 2zm17-5zm35 2zm-60 13zm-9-3zm-30 2zm-6-1zm-9-3zm-5 4zm-23-4zm-25 5zm-4 3zm0 0zm-69-7zm-29 2zm-8 4zm-1-2zm-26-5zm-5 3zm62 14zm4-6zm23-2zm31 0zm25 3zm0-2zm13-1zm10 4zm11 3zm7-1zm15 1zm8-6zm14 4zm66 1zm-67 6zm-10-2zm-26 8zm-10 1zm-2-4zm-5 0zm-24-2zm-38-3zm-9 5zm-30 4zm-38-2zm-19 12zm18-8zm25 0zm11 1zm5 2zm35-1zm6 6zm40-6zm6-2zm4 4zm7-4zm17 2zm5 1zm22 0zm61 0zm39 1zm-63 13zm-10-6zm-6-1zm-48 4zm-22-5zm-2 1zm-49 5zm-19 2zm-70-5zm-3 0zm-16 14zm2-1zm22 2zm23-4zm43-4zm3 1zm41 4zm8-1zm2 4zm4-4zm6 2zm20 3zm62-5zm52-1zm2 5zm-1 11zm-23-9zm-69 4zm-10-2zm-30 2zm-35 5zm-7-4zm-7 1zm-9-5zm-4 4zm-18 2zm-10-1zm-85 0zm77 12zm22-6zm11-2zm26 7zm7-6zm18 6zm2-1zm2-4zm14 1zm0-1zm51 4zm45-5zm0 14zm-47-5zm-11 9zm-8-9zm-13 9zm0-7zm-33 1zm-23 6zm-2-6zm-5-1zm-60 6zm-44-2zm18 13zm104 0zm50 0zm3-3zm7 1zm12-7zm28 7zm28 7zm-8-2zm-5 0zm-9 5zm-25-6zm-12 2zm-80-2zm-27 7zm-26-8zm-4 5zm-2 0zm-42-4zm11 13zm12 0zm90-1zm61-3zm-16 14zm-21 1zm-12 0zm-67-4zm-23 7zm-15-6zm-17-2zm35 19zm62 0zm21-7zm64 7zm-112 7z"/>
<path stroke="#cdbe4a" d="M246 779zm-9 0zm-1-5zm0 3zm-1 2zm-1-6zm-6 6zm-3-2zm-3 0zm8 6zm0-1zm4 3zm2-4zm2-1zm2 3zm3 6zm1-4zm1-4zm1 4zm3 1zm-4 8zm-4-1zm-7-2zm0 3zm-4-3zm0 4zm-1-5zm-4 2zm202 27zm-3-1zm-2-6zm-1 5zm-1-3zm-3 1zm0 1zm-5 0zm0 0zm0 0zm-5 2zm-99 10zm7 1zm9-5zm1 4zm3 0zm8-1zm3-5zm1 3zm0 4zm7-9zm5 4zm2 2zm2 1zm3 0zm2 2zm4 0zm8-5zm36 2zm2-2zm0 5zm3-1zm0-1zm1-1zm2-2zm1-3zm0 2zm1 5zm1-4zm0 4zm1-4zm0-3zm1-1zm2 4zm4-2zm0-1zm2 8zm0-5zm1 0zm-7 10zm-3 3zm-2-6zm-1 0zm-4 0zm-2 4zm-4-3zm-32-2zm-1 8zm0-6zm-1 4zm-2-1zm-3-4zm-1 0zm-1 8zm0 0zm-1-3zm-1-4zm-1 3zm0-1zm-1-4zm-3 5zm-3 4zm-2-1zm-4-6zm-1 6zm-2 1zm-7-6zm0 5zm0-8zm-4 9zm-7-6zm0 2zm-2-2zm-3 1zm-1 1zm-9 3zm-2-5zm-5 4zm4 12zm2-8zm3 4zm0 3zm2-1zm1 2zm3-6zm1 1zm2 5zm5-1zm4-1zm0 0zm1 1zm4-4zm0 0zm4-4zm0 7zm0 1zm1-3zm1 0zm1 4zm2-3zm0 3zm0 0zm2 0zm0-8zm5 7zm1-2zm5-5zm0 2zm0-3zm0 7zm2-6zm2-1zm3 4zm0 4zm1-7zm1 0zm3-1zm2 0zm0 3zm0 2zm3 10zm-1-1zm-5 0zm-1-2zm-1 2zm0 5zm-1-4zm-1 4zm0-4zm-1 2zm0-5zm-3 6zm0-5zm-1 3zm-3-1zm-4-2zm-3 2zm0-4zm-4 1zm-3 1zm-3-3zm-1 9zm-3-2zm-2-5zm-1 5zm-2-1zm-3 0zm0-6zm-2 1zm-5 8zm-3-8zm-5 0zm-1 6zm0-3zm-3-1zm-11 0zm15 7zm1 1zm2 5zm3-6zm2 4zm0 5zm2-1zm5 0zm0-3zm2-3zm3-2zm1 8zm4-1zm2-2zm2 0zm1-2zm3-1zm3 1zm0 6zm1-6zm1 0zm1-2zm3 0zm0 3zm4 4zm5-1zm0-2zm1 0zm0-5zm1 2zm5-2zm13 12zm-23-2zm-7 4zm-2-3zm-4-1zm-7 6zm-1-2zm-2-3zm0 2zm-2 5zm-1-8zm0 5zm-1-2zm-6 3zm-1-4zm-2 2zm0-4zm-1 1zm17 12zm10 1zm1 1zm73 143zm3-3zm2 3zm5 1zm4-4zm1 5zm0 8zm-1-5zm-1 5zm-2 1zm0 0zm0-6zm0 5zm-2-2zm-1 3zm0-5zm-2-1zm-2-3zm0 9zm0-2zm-3-7zm-1 5zm-1 5zm1 2zm0 3zm2 0zm1-1zm1-4zm2 6zm1-5zm0 2zm1 5zm0 1zm2-3zm3-4zm0 1zm2-3zm1 5zm0-2zm2 2zm4-5zm-16 11zm-3 0zm53 82zm-5 16zm4-2zm5-1zm1 3zm1-5zm4-1zm1 6zm0-9zm1 4zm1 2zm2 1zm0 1zm3-8zm0 5zm1-5zm3 6zm3 2zm3-4zm5 4zm2-4zm-3 7zm-3 4zm-6 3zm-2-5zm0 6zm-4-8zm-2 2zm-3 5zm0-5zm-1 6zm0-6zm0 5zm-3-2zm-5-3zm0 5zm-4-6zm-1 5zm-2-1zm-5 9zm2 2zm4-4zm0 2zm9 3zm0-3zm3-5zm4 8zm3-1zm2-6zm1 2zm1 2zm0 1zm2-1zm1-2zm2 1zm0-1zm1 2zm10 2zm2 0zm4-3zm7 5zm-3 9zm-3 0zm-1 0zm0-3zm-11-5zm-2 9zm-1 0zm-1 0zm-8-3zm-3-4zm0-1zm-1-1zm-1 6zm0-6zm0 3zm-2 5zm-2-7zm0 8zm-2-7zm-2 0zm-3 5zm-2-1zm-3-1zm-3 2zm-1-7zm-1 7zm-2-6zm-1 0zm-2 2zm-1 5zm0 0zm-3-1zm0-5zm2 17zm0-1zm1-3zm1 0zm1-3zm1 0zm1 2zm7-1zm1-3zm1 9zm1-6zm3 3zm0 0zm1 0zm0 1zm0-5zm1 5zm1-6zm1 3zm1 1zm0 3zm1-5zm1 3zm3-5zm0 7zm0-2zm1-1zm1-5zm0 4zm0 4zm1-7zm0 5zm4 0zm1-3zm1 2zm0 2zm1-5zm1 4zm1-2zm1 1zm2 0zm3-1zm1-1zm1-1zm1 0zm0 5zm3 1zm3-5zm0 5zm5-8zm-1 14zm-5-2zm-1 3zm-1 2zm0-1zm-1-3zm-2 5zm-2-8zm-3 2zm-2 6zm-3-7zm0 8zm-1-7zm0-1zm-1 7zm0-2zm-1-6zm-2 7zm-1 2zm0-6zm-1-1zm-1 2zm-1 0zm0 1zm-1 0zm-4-1zm0-1zm-6 2zm-1-2zm-1 6zm-2-3zm-1-1zm-1 3zm0-4zm-1-4zm0 1zm-1 7zm-2 1zm-2-9zm-1 8zm-1-5zm-3-3zm-1 0zm-1 3zm3 8zm4 0zm2 8zm6-1zm1-6zm5 0zm0 7zm2-8zm4 3zm1-1zm2 5zm5 0zm0-8zm6 0zm1 7zm1-3zm0-3zm1 1zm5-1zm6 0zm-3 12zm-4-3zm-3 1zm-4 8zm-3-6zm-1 5zm-1-2zm-6 2zm0 1zm-8-3zm-1-2zm-3 1zm-3-4zm-3 5zm-1 1zm0-7zm-1 9zm-2-7zm-2 2zm-8 4zm-5-5zm-3 12zm1 3zm1-1zm0-1zm1-1zm2 2zm0 1zm0-4zm1 5zm2-6zm0 5zm1-1zm2-4zm0 4zm2 0zm1-4zm0 5zm0-2zm3-4zm0-2zm3 1zm3 7zm2 1zm11-7zm3 3zm0-3zm2 2zm20-2zm-33 9zm-9 4zm-7-5zm-1 2zm-1-1zm-3 2zm-4 5zm-2-8zm-2 14zm4 6zm-77 328zm-2 11zm-43 14zm20 12zm86 129zm35 21zm1 4zm1-5zm10 5zm1-1zm-2 3zm0 4zm-2-2zm0 5zm-2-4zm-2 1zm-15 14zm7-1zm1-2zm0-6zm4 1zm3 1zm1-2zm0 3zm1 2zm5-1zm2 1zm0 0zm21 11zm-1-1zm-4 0zm-16-3zm0 1zm-3-2zm-1 2zm-1 2zm-2-2zm-1-3zm-1 5zm-4-5zm-2 6zm-1 0zm0-5zm-1 0zm-2 3zm-5-1zm-2-1zm-2 5zm-2-4zm-1 5zm0-2zm-1-4zm-3 5zm0-7zm-1 0zm-1 1zm-2 3zm-2 3zm-1-1zm-2-2zm-11 5zm-10 4zm11-2zm0 1zm1 5zm0-4zm3-1zm3 4zm0 0zm0-2zm1 0zm1 4zm1 1zm1-1zm2-3zm1-1zm0 1zm1-5zm1 5zm1-3zm1 7zm1-9zm0 4zm1-3zm3 1zm0 0zm2 4zm1-2zm1 1zm5 4zm2-9zm2 9zm1-5zm2 4zm1 1zm8-3zm3-2zm2 5zm5-2zm2-2zm5-4zm4 8zm1-9zm3 10zm0 2zm-3 7zm-1-8zm0-1zm-1 4zm-3 3zm-2-3zm-1-1zm-1-3zm-1 1zm0 7zm0-5zm-1 1zm0 4zm-2-6zm-3-2zm-5 0zm-1 9zm-6-9zm-1 1zm0 2zm-1-3zm-1 7zm0-6zm-2 3zm-3 1zm-3 1zm-1 2zm-2-5zm-1-2zm0 0zm-8 5zm-2-4zm0 1zm-2-2zm-6 7zm-2-1zm-1 1zm-2-6zm-6 7zm0-3zm-1 1zm0 0zm-1-4zm0 3zm-3 0zm-1 0zm-1-5zm-2 0zm0 1zm-1 0zm0-2zm-1 8zm-2 1zm0-3zm-1 3zm0 2zm1 6zm1-5zm1 3zm1-5zm0 9zm0-3zm4-4zm2 3zm1-2zm1 6zm1-5zm0 5zm1-9zm5 1zm1-1zm5 6zm4 2zm1-5zm2 4zm3-7zm11 0zm4 2zm0-1zm2 0zm0 0zm1 2zm1 6zm0-1zm5-3zm0 0zm1 4zm5-5zm0 5zm1-1zm1-8zm1 4zm0-2zm1 2zm4 0zm2 5zm0-8zm3 1zm1-1zm2 6zm0-4zm2-2zm1 2zm0 0zm3 2zm2 1zm0-1zm1-5zm1 7zm1-1zm1-4zm1 3zm2 8zm-3 1zm-1 0zm0 4zm-1-3zm-3 0zm0-1zm-5 5zm-5-8zm-1 3zm0-2zm-3-1zm0 8zm0-4zm-1 0zm0 3zm0-6zm-1 3zm0-4zm0 0zm0 5zm-3 2zm0-4zm-2-2zm-1 0zm-1 0zm0 2zm-2 2zm-2-6zm-1 3zm-1-1zm-1-2zm0 6zm-1 3zm-2-4zm-1 1zm0-1zm-1-1zm0-4zm-5 5zm0-5zm0 3zm-1 4zm-2-1zm-18-6zm-1 8zm-1-2zm-1-4zm-1 6zm-1-7zm-1 1zm0 4zm-2-5zm0 1zm-1 3zm0-1zm0 3zm-2-2zm-2 4zm0-2zm0-1zm-1-3zm0 2zm0 2zm-1-3zm0 0zm-2 2zm0 3zm-6-6zm0 12zm5 0zm0 3zm1-4zm1-4zm0 5zm1-3zm0 3zm1-4zm2 2zm1-3zm3 5zm1-3zm1 7zm3-3zm1-2zm1 2zm1-4zm20-2zm1 3zm0 0zm2 5zm1-5zm2 0zm3-1zm1 3zm0-2zm3 0zm2 0zm1 6zm3-2zm1-1zm2-2zm1-3zm0 8zm1-2zm2-3zm2-2zm1 0zm3-1zm4 4zm1 1zm2 0zm4-6zm6 12zm-17 4zm-1-6zm-11 2zm-6 4zm-1-1zm-5-3zm-1-2zm-9 27zm-2-7zm-133 137zm3 2zm2 0zm0 0zm47-2zm9 7zm-6-1zm0-2zm-1 2zm-2 0zm-5-1zm-1 1zm-1 4zm-1 1zm0-5zm-3 4zm-4 2zm-8 0zm-1 0zm-16-2zm-1-2zm-1-3zm0 1zm-1 0zm-5 3zm-1-3zm0 1zm-2-4zm0 9zm-1-7zm0 1zm0 7zm3 2zm3 0zm2 2zm13 2zm1-4zm2 1zm2 0zm2-1zm2 0zm1 1zm12-3zm-1 37zm-6-6zm-17 7zm-37-2zm-20 0zm2 6zm9 0zm16-1zm2 1zm54 1zm2 4zm8-3zm2-2zm1 16zm-33-4zm-11 4zm-56 3zm1 4zm8 1zm4 1zm21-4zm7 1zm30-2zm10 2zm-22 9zm-63-3zm124 15zm61 14zm-41 4zm15 5zm0-2zm7 0zm18 3zm1-4zm12 4zm11-7zm3 12zm-1 2zm-10-6zm-2 3zm-31-2zm-10 7zm-2-6zm58 8zm2 6zm4 4zm-1 1zm-4 8zm-1-4zm-18 12zm2-1zm1-1zm1-2zm0 4zm2 2zm0-2zm2 0zm2-5zm0 1zm0-1zm2 4zm3-4zm2 0zm2 1zm0 4zm0 0zm2 1zm1-8zm2 7zm2-4zm0-3zm1 8zm0-6zm2 1zm1 0zm3 6zm1-8zm0 7zm0-5zm2 5zm2-1zm8 12zm-5-9zm-3 6zm0 3zm-1 0zm-3-5zm-1 5zm0 0zm-4-7zm-1 0zm-1-2zm-1 3zm-1-3zm0 4zm-2 2zm0-2zm0-1zm-1-1zm0-1zm-1 7zm-3 0zm-1-6zm-1 0zm-2 6zm0-3zm-2 3zm-1 0zm-2-1zm-2-5zm0 5zm0-7zm-2 6zm-2 3zm0-5zm-3 5zm-1-8zm-1 1zm-1 3zm-8 11zm10 0zm3-3zm3 3zm0-6zm0 1zm0-1zm1 6zm2-5zm1-1zm2 1zm1 2zm2 5zm1-8zm2 3zm3 3zm2-2zm1-2zm1 6zm0-7zm3 4zm0-1zm4 0zm1 5zm1-2zm1 1zm0 1zm1-5zm1 1zm2-2zm-3 10zm-2-3zm-9 0zm-8 7zm-5 1zm-14-2zm2 8zm2-1zm3-3zm8 1zm-10 9zm-16 19zm-2 1zm0 3zm-2-3zm-120 293zm68-2zm23 2zm-32 14zm-33 228zm20 2zm0-1zm11 13zm-1 0zm-11 0zm0-3zm-5 3zm-5 0zm-6-4zm-3-3zm-1 1zm-19 6zm-4-4zm-17 5zm4 6zm3-6zm2 6zm4 2zm0-5zm1 0zm4-2zm1 1zm0 7zm1 0zm5 0zm3-7zm10 0zm2 2zm8 1zm1 3zm1-2zm0 0zm0-3zm0-3zm1 8zm0-5zm7 2zm0 1zm4 3zm1-8zm1-1zm2 6zm8-4zm12 1zm4 4zm3 8zm-14 2zm-2-4zm-2 1zm-4 0zm-1 0zm-1 1zm0-4zm-1 0zm0 0zm0 5zm0-6zm-7 4zm-1 2zm-3-1zm0-4zm-9 7zm-1-6zm-2 1zm-3 3zm0-6zm-2 3zm-8-1zm-4 7zm0-2zm0-6zm-1 1zm-3 7zm-1-5zm-4-4zm-2 0zm-7 1zm0 7zm-2 0zm-1-1zm-4-4zm-2 4zm-2-1zm-4-2zm-4 13zm1-2zm1 0zm4-5zm2 9zm7-9zm4 7zm2-5zm7 0zm11 1zm2 2zm3 2zm0 2zm2-2zm1-1zm0 0zm3-5zm3 4zm1 2zm3-3zm19-4zm3 5zm0-3zm3 6zm0-6zm1 7zm1-5zm3 3zm4 1zm5-2zm10-2zm-18 6zm-1 2zm-3 6zm0-3zm-2 1zm-5 3zm0-4zm-3 1zm0-6zm-1 9zm0-2zm-2 2zm-3-2zm-8 1zm-2-3zm-5 4zm-8-2zm-11-4zm-1 1zm-1 0zm-3-2zm-1-1zm-3-1zm-2 4zm-8 1zm-2 4zm-6-6zm-37-2zm-1 6zm-2-6zm0 1zm-2 5zm-1-2zm-2 1zm-2-2zm54 7zm6 1zm2 4zm2 2zm1-6zm1 5zm2-1zm3-5zm2 0zm0 3zm7 0zm5-4zm2 6zm1 3zm8-1zm4-2zm7-4zm4-2zm0 4zm16 1zm-14 12zm0 1zm-4-4zm-2 4zm-1-1zm-9-6zm-11-1zm-4 2zm29 11z"/>
<path stroke="#7d6433" d="M318 216zm-1 3zm-12-5zm-2 3zm-5-2zm-1 2zm-23 0zm-8 2zm-10 4zm18 6zm2-1zm6-3zm3 2zm5-5zm4-1zm11 8zm7-5zm3 0zm4 10zm-3-2zm0 5zm0-7zm-2 2zm-1 2zm0-2zm-6 4zm-9-3zm-8 0zm-5 0zm0 6zm-1-8zm-3 7zm-7-4zm-9 4zm-3-3zm-2 3zm0 4zm3 4zm5 1zm1-2zm2-1zm0 3zm0-7zm3 4zm5 2zm1 0zm0-5zm1 7zm4-2zm1-6zm1 0zm7 5zm4-1zm1 1zm3-5zm0 9zm2-8zm2 0zm2 8zm8-8zm7 0zm10 6zm-10 11zm-1-4zm-2-3zm-2 1zm-7-1zm-1 7zm-2-7zm-1 6zm-1-1zm0-5zm-2 3zm0 4zm-1-1zm0-7zm-6 0zm-1 6zm-5-2zm-3-4zm-5 9zm-6-3zm-2-4zm-3 1zm0 1zm-5-3zm-2-1zm-1 1zm-5 2zm4 16zm5-7zm4 0zm2 4zm1 3zm4-8zm9 3zm0 2zm0 1zm1 0zm1-4zm4 1zm2 0zm0 0zm2 5zm1-4zm3 2zm0-3zm1 3zm1-5zm1 4zm4 0zm4-1zm5 2zm3-3zm3 5zm6-9zm-7 13zm-5-2zm-6 5zm-2 3zm-5-7zm-4 2zm-1-4zm0 9zm-7-3zm0 3zm-5 0zm-2 0zm-1-4zm-4-5zm-6 8zm-6-5zm-6-3zm0 3zm-2-2zm7 12zm1 1zm1 1zm5-4zm3-1zm4 9zm4-7zm0 3zm0 1zm1 0zm6-1zm2-3zm0 1zm1 2zm2-5zm3 4zm12-4zm17 7zm6 1zm9 0zm12 11zm-40-4zm-7-3zm0-1zm-4 2zm-2-3zm-4 7zm-1-4zm-3-3zm-1 3zm-5 1zm-3 3zm-7-2zm-3 3zm0-3zm-4-4zm3 17zm6-2zm12-6zm3 0zm62 18zm-85 8zm1 0zm16 2zm71-4zm-35 11zm21 12zm-33 11zm26 347zm61 12zm-10 2zm-16-1zm-2-2zm-1-4zm0 3zm-2 4zm-8-5zm-2 4zm-3-5zm-2-2zm-4 6zm-1 1zm-4-5zm-1 2zm-7 4zm-12 9zm2 1zm1-2zm1-7zm1 9zm10-1zm1 1zm1-8zm1 6zm8-7zm6 6zm1-5zm8 3zm1 2zm1-4zm1-2zm5 4zm1-4zm7 3zm1 6zm2-1zm0-2zm5-2zm0-3zm2 3zm5-2zm0-1zm1 3zm1 0zm2 0zm4 4zm58 3zm-7 5zm0-4zm-9 4zm-8-2zm-29 2zm0 2zm-5 0zm-22-5zm-2 6zm-5-7zm-1 1zm0 4zm-5-4zm-3 3zm-3 1zm-1-1zm0-1zm-1 4zm-1-4zm-5 1zm0-3zm0-1zm-5 7zm-1-1zm-1 0zm-1-2zm-3 1zm-5-5zm-2 7zm-4-9zm-1 8zm-3-7zm-9 3zm-1 5zm-2-8zm-6 17zm3-7zm0 6zm4 2zm0-1zm2-7zm5 4zm4-4zm0 4zm11 2zm1 2zm2-2zm2-3zm0-1zm3 1zm1-1zm1 1zm8-1zm0-2zm0-1zm1 9zm2-8zm2 7zm11-6zm1 4zm10-1zm7 4zm0-2zm5 0zm5-5zm1 3zm1-1zm50 2zm19 1zm-63 6zm-3-2zm-6 3zm-5 3zm-1-7zm0 4zm-2 3zm-8-3zm-1 4zm-5-4zm0-4zm-1 8zm-1-8zm-5 4zm-6-1zm-3 2zm0 0zm-1 3zm0-3zm0-1zm-1 3zm-3 0zm-1-5zm-1-1zm0-1zm-10 1zm-1-1zm-2 8zm-4-5zm-7 3zm-1 1zm0 0zm-4-5zm-1-1zm-5 2zm-1 3zm-1 0zm-3-2zm-2 0zm0 2zm-1 3zm0-9zm-1 3zm6 7zm7 7zm10-2zm0 3zm4-2zm2-3zm0 3zm2 0zm8-3zm1-2zm1 8zm2-3zm3 2zm6-5zm0-3zm7 4zm1 1zm0-5zm2 3zm6 0zm0 4zm7 1zm2-5zm3 1zm1 5zm9-9zm4 4zm-8 6zm-2 2zm-29 3zm-6-4zm-3 7zm-3-5zm-4 3zm-4-1zm-7-5zm-6 5zm-4-4zm-1-1zm0 7zm0 0zm-1 0zm-1-4zm-5-2zm22 12zm3-1zm0 2zm18-1zm4 0zm3-3zm7 1zm7 5zm-46 8zm35 447zm9-1zm4 8zm1-6zm0 3zm1 1zm4 2zm12-2zm0-3zm5 12zm-3-2zm-2-1zm-6 2zm-7 0zm-6 5zm0-4zm-3-2zm-1-1zm-2-2zm-1 4zm-1-3zm0 2zm-13 12zm1-3zm4 5zm0-7zm0 5zm1-2zm1 4zm7-5zm1 1zm6 1zm2-1zm5-1zm2-2zm4 1zm1 5zm3-1zm3-3zm7 3zm3-4zm0 2zm4 3zm2 11zm-1-6zm-12-1zm-3 2zm-3 2zm-1 2zm-1 2zm-4 1zm-1-8zm-11 7zm-7-3zm-6-3zm-1-1zm-1 1zm-4 2zm-11 11zm5 3zm4 1zm2-7zm4 6zm3-4zm1-4zm2 4zm5-2zm1 2zm2 4zm9-5zm0 6zm1-4zm1 3zm5-1zm3-1zm2-6zm2 3zm9 0zm0 1zm3-3zm3 0zm3 8zm2 0zm5 0zm-2 8zm-1-1zm0 3zm-1-3zm-5 1zm-1 0zm-3-6zm-8 8zm-3-3zm-6-1zm0-5zm-4 6zm-3-3zm-5 6zm-2-4zm-1-2zm-1-2zm-3 6zm-1-2zm-4-3zm-1 4zm-6 0zm0-1zm-1 4zm-2-3zm0-1zm0 0zm-5-2zm-7-2zm-1 6zm5 4zm3-1zm1 7zm4 0zm3 2zm7-8zm5 0zm1 5zm0-6zm3 9zm1-3zm1-6zm0 8zm2-6zm2-1zm1 8zm0-6zm0 6zm1-5zm1 2zm5-1zm3-5zm2 3zm1 3zm7 0zm4-5zm0 3zm2-4zm4 8zm3-1zm5-2zm3 7zm-12 4zm-2-3zm-5-1zm-4-1zm-3 6zm0-1zm-2-4zm0-1zm-3 0zm-1 1zm-1 7zm-1-5zm0-1zm-4-1zm-2 4zm-4 1zm-1 1zm-1 0zm-1 1zm-5-3zm-2-6zm-1 1zm0 8zm-1-7zm-3 1zm-4-1zm-5 5zm0-2zm-5-4zm-5 1zm-1 7zm2 5zm1 5zm4-7zm2 7zm10-6zm1 4zm0 1zm2-3zm6 4zm0-5zm0 3zm3 1zm5-2zm1-5zm0 1zm5 0zm10 5zm1-2zm3-5zm9 18zm0-6zm-1 5zm-1-7zm-8 7zm-6-2zm-2-3zm-6 1zm0-3zm-6 0zm-5 3zm-5 3zm-5-4zm0-1zm-16 0zm5 13zm8-4zm2 8zm1-7zm6 1zm4 6zm1-5zm0 3zm5 0zm2-3zm1 6zm0-1zm1-4zm1-4zm2 3zm3-2zm2 8zm1-9zm1 5zm0-5zm0 8zm1-7zm2 1zm5 1zm12 2zm4-3zm9-1zm-25 11zm-12 4zm-1-5zm-5 8zm-2-1zm-2-1zm-3-5zm-7 6zm-2-4zm-5-4zm-3 0zm19 17zm3-7zm8 8zm28 3zm-55 196zm10 6zm-11 6zm-4-6zm-10 2zm-1 3zm-7-4zm0 2zm-1 3zm41 8zm13-4zm-5 10zm-13 4zm-3 0zm-14-5zm-6-1zm-5 8zm-5-3zm-4 3zm2 2zm1 8zm6-3zm0 2zm4-7zm12 6zm3-4zm15 1zm-1 14zm-32-5zm3 8zm-47 428zm-32 10zm60 18zm-21-7zm-33 4zm-9-2zm58 29zm92 1zm-4 417zm-19-2zm-2-1zm-8-5zm-16 3zm0 2zm0-2zm-17 3zm-10 1zm-9 10zm1 1zm0-5zm7-3zm0 5zm2 1zm2-6zm6-1zm1 0zm4 0zm6 4zm14 3zm1 0zm1 0zm3 2zm34-1zm4 1zm7 0zm8-7zm16 5zm23-3zm-13 10zm-18-2zm-12 1zm-35 6zm-7-6zm-1 2zm-14 4zm-10-5zm-15-4zm-19 9zm49 3zm42 1zm0 0zm23 0zm9 0zm-181 67zm-41 15zm70-3zm26 16zm-74 0zm0-2zm-6-2zm15 12zm10-3zm46 5zm-33 3zm-1 23z"/>
<path stroke="#5a7a3a" d="M497 628zm12 6zm-15 1zm-1 2zm-1-3zm-9 3zm-8 2zm-21 0zm5 7zm13 0zm3 3zm6-2zm4-1zm19 2zm17 2zm-4 2zm-8 3zm-5-4zm-1 2zm-4 1zm-1 4zm-6-5zm-1 5zm-3-1zm-3-7zm-2 6zm-16-4zm-6 6zm0 1zm-29 9zm23-7zm11 7zm9 1zm0 0zm1-5zm1-2zm2-2zm3 7zm4 1zm9-6zm5 4zm3 1zm2-2zm5-1zm2 0zm0 2zm2 2zm1-2zm2-5zm0 6zm16 10zm-11-5zm-8-1zm-14 8zm-6-5zm-2 2zm-1-1zm0-2zm-8-1zm-1 3zm-2 4zm-5-5zm-9 3zm-2 2zm-2 0zm-10-4zm-224 6zm215 4zm1 1zm8-5zm3 3zm2 1zm7-4zm1-1zm8 9zm1-4zm0 3zm3-2zm3-3zm1 4zm0 1zm1-8zm3 5zm1 2zm0 1zm4-3zm1 2zm10 2zm6-5zm5 0zm7 2zm12-2zm2 7zm-8 2zm-17-1zm-3 7zm0-1zm-8-6zm-3-1zm-4 5zm0-5zm-1 0zm-5 2zm-1 0zm-6 5zm-1-1zm-7-3zm-7-4zm-4 6zm-3-4zm-2 0zm-5 9zm3 2zm1 2zm4 0zm5-4zm2 0zm0 7zm3-7zm16 4zm1 1zm10-4zm3 4zm2 2zm9-2zm-1 10zm-7-5zm-1 1zm0 5zm-3-6zm-2 4zm-13 1zm-13 3zm-3 0zm-2-1zm-3-3zm-4 1zm-3 1zm-2-6zm-3 14zm2 4zm7-6zm2 6zm3-9zm1 9zm0-6zm1 0zm1 0zm2 4zm2-1zm3 0zm1-1zm1-2zm3 2zm3 4zm0-2zm1-7zm2 2zm5 1zm3 5zm4 0zm8 0zm4-4zm11 3zm-15 7zm-2-2zm-2 2zm-8 5zm-2-4zm-1-2zm0 2zm-1 3zm-4-7zm-4 1zm-1-1zm-5 0zm-1 4zm-1-3zm0 0zm0 5zm0-2zm-2 2zm-7-4zm-4 5zm0-3zm-3-2zm-7 3zm-7 1zm13 4zm2 0zm2 4zm5-1zm0-1zm2-1zm4 3zm3-5zm25 1zm-36 11zm-125 299zm-2 6zm-9 2zm-5 0zm-5 9zm1-4zm1-2zm3 7zm13-1zm2-3zm0 3zm2-5zm0 6zm6-4zm1 3zm0-8zm2 7zm0-5zm2 6zm9-2zm4 11zm-5 0zm-2-4zm-1 6zm-4-6zm0 0zm0 3zm-2 0zm0-4zm-4 6zm-4-6zm-4 5zm0-5zm-1 0zm-6 4zm0 1zm-5-2zm0 3zm-2 0zm-2-7zm-1 1zm0 4zm-1 3zm-8 10zm1-4zm4 3zm0-3zm6-5zm4 4zm3 5zm3-9zm7 0zm3 0zm3 3zm0 3zm3-3zm1 4zm2-4zm8 2zm9 0zm-11 8zm-3 0zm-4 0zm-3 6zm-6 0zm-5-8zm-2 3zm-1 0zm-6 2zm-1 1zm-1 1zm-6-1zm-7 0zm-1-6zm6 15zm10-3zm5 0zm2-1zm4 1zm2 2zm1-4zm1 0zm6 1zm52 5zm6 0zm6 5zm-3 4zm-1-3zm-1 2zm0-1zm-4 5zm-1-2zm-7-4zm-5-2zm-2 6zm-3 0zm-11-1zm-51-6zm61 15zm7 1zm2-2zm9-1zm2-1zm1-2zm0 6zm2-5zm0 6zm3-1zm5 1zm6 0zm-1 7zm-7 2zm-3-3zm-2 6zm0-8zm-5 7zm-14-3zm0-4zm-2 6zm-5-3zm-1 1zm-5-4zm-2 6zm6 12zm3-2zm2-4zm2 2zm1-5zm2 8zm2-4zm4 1zm0-1zm0 1zm1 4zm1-9zm2 2zm2-2zm2 3zm6 3zm1-1zm1 3zm8-3zm1-1zm4 0zm-10 6zm-2 4zm-3 0zm-4 0zm-2-3zm-6 6zm-2 1zm0-8zm-2 4zm-1 0zm-8-1zm-15 3zm10 6zm7 4zm7 0zm0-4zm4-2zm0 2zm5 5zm1-4zm2 4zm2-4zm5 1zm2-1zm6-3zm-4 10zm-10 1zm-4 1zm-4-1zm0 7zm-5-2zm-2-5zm3 12zm0-3zm9 0zm0 9zm2-4zm0 12zm-91 11zm85-8zm-102 58zm-4 7zm1 4zm8 0zm3-6zm-19 11zm-4-3zm70 315zm5-2zm3-4zm13 8zm10 6zm-2-4zm0 2zm-7 4zm121 41zm-16-3zm-11 4zm-10 4zm12 1zm3-3zm11 5zm9 1zm7-5zm-10 14zm-7 1zm-8 3zm-14 8zm2-7zm8 3zm11-3zm4 2zm6 5zm0-3zm0 8zm-20 10zm-158 34zm-4 1zm-13 2zm-17 6zm4-1zm8-1zm3 1zm4 2zm3-4zm20 1zm4-3zm4 6zm9-2zm1 5zm5-5zm6 2zm2 1zm0-6zm8 10zm-16 2zm0 3zm-4 1zm-7 0zm-17-5zm-8-1zm106 787zm-13-4zm-18-1zm-12 5zm-1-4zm-7 10zm29-3zm5 1zm5 7zm16-9zm12 7zm6-7zm8 8zm9-1zm21 9zm-20 0zm-10-1zm-17-4zm-14 3zm-8 5zm-1 0zm-1-8zm-9 4zm-6-1zm-1 5zm-44 2zm22 2zm8 1zm2-3zm7 4zm16 1zm7 2zm29-3zm7-4zm8 3zm3-1zm51 88zm-3-1zm-13 0zm-9 6zm-7-4zm-17 6zm-7-3zm21 14zm5-6zm7-1zm11 4zm4 0zm1 4zm-10 1zm-16-1zm-2 9zm-2-6zm-1-1zm-6 5zm-10-2zm-10 1zm13 4zm2 7zm6-5zm16-2zm17 2zm-33 10z"/>
<path stroke="#6e7c52" d="M494 628zm-36 19zm15-1zm28 1zm9 0zm-35 11zm-16 2zm10 1zm11-1zm2 8zm13-4zm19 5zm-29 2zm-1 4zm-2-4zm-6 6zm-19 7zm22 5zm11-2zm2 7zm-4 3zm-5 1zm-20-8zm-12 14zm2-4zm34 1zm22-1zm3 7zm-10 9zm-27 1zm-8-3zm-16 14zm5-6zm3-1zm2 7zm1 0zm2-3zm3-1zm3 5zm2 0zm0 0zm9-8zm23 7zm2-4zm2 4zm-19 7zm-31-5zm-11 4zm24 14zm-147 315zm14 6zm1-3zm15 5zm-38 1zm-1 1zm2 13zm4-4zm1 4zm12-5zm16 8zm1-5zm3-4zm2 0zm3 9zm-2 4zm-38 4zm-13 1zm32 4zm77 9zm-15 2zm-9 2zm-2 2zm-11 2zm-3 8zm17-2zm8 3zm9-4zm6 14zm-30-3zm-11-2zm9 7zm8 8zm4-7zm6 2zm5 5zm15-3zm-13 13zm-32-5zm-1-1zm34 15zm5-6zm-19 12zm-7-1zm11 9zm2 7zm-1 8zm-5 3zm9 6zm65 422zm1 18zm2-4zm9 4zm2 3zm7 0zm1-2zm-9 7zm-20 13zm3 2zm-5 12zm11 2zm-145 29zm-21 7zm-3 0zm17 7zm2 3zm27-6zm11-1zm-20 10zm-4 8zm-4-6zm-32 5zm-9-3zm59 6zm108 893zm6 12zm37 5zm-3 8zm-21-7zm-25 13z"/>
<path stroke="#7e2a24" d="M350 217zm-54 5zm21 5zm18-2zm6 2zm7 1zm0-2zm3-6zm7 6zm11-4zm18 7zm12-3zm5 12zm-16-3zm-7 3zm-8 1zm-8-5zm-6 4zm-3-4zm-8-4zm-15 7zm-51-4zm-6 0zm9 14zm1-1zm16 0zm24-3zm5 0zm2 3zm3-1zm0-1zm10-2zm4 4zm4-5zm0 6zm1-7zm4 0zm2 2zm2 0zm2-1zm65 7zm1-4zm11 2zm-61 6zm-15-2zm-1 3zm-7 0zm-2 0zm-5 2zm-6 1zm-8 0zm-9-4zm-40 1zm-24 15zm36-3zm4-4zm28 0zm6 2zm2-3zm1 4zm23 3zm18-3zm58 11zm-8 3zm-26-7zm-9-1zm-2 4zm-41 1zm-13 1zm-32 3zm-1 0zm-9 0zm-4-8zm-32 5zm10 9zm4-1zm11 2zm11-1zm4 4zm11-3zm3 0zm7-2zm7 4zm0 1zm2-5zm14 3zm0 0zm61 0zm4 1zm9 0zm3 3zm-41 7zm-28 1zm-1-7zm-13 6zm-2-1zm-4-3zm-3 2zm-1 1zm-3 0zm-6 1zm-10-6zm-6 1zm-13 3zm-4 0zm-2 3zm-3-3zm-2-4zm-6 8zm11 8zm5-4zm0-3zm10-1zm7 3zm6 6zm6-3zm6 0zm3 0zm1 0zm1 2zm4-4zm2 4zm5-1zm44-1zm20 0zm7 13zm-3-7zm-2-2zm-16 2zm-27 5zm0 0zm-2-4zm-1 2zm-6 2zm-2-3zm-6-1zm-2 4zm-2-4zm-1 1zm-2-2zm-5 6zm-4 1zm-3-2zm-1-1zm-1 1zm-1-7zm-3 3zm-3-3zm-1 6zm-6 0zm-2 3zm-2-2zm-4 2zm-5-6zm-1 4zm-1 0zm-1 1zm-8 0zm0 0zm-6-7zm-1-1zm-6 17zm0-4zm0-2zm6 8zm1-3zm1-1zm1-2zm1 2zm2-3zm24 7zm4-3zm1 3zm6-6zm5 4zm0-3zm2-1zm1-3zm5 8zm2-8zm3 4zm0 4zm2-8zm7 9zm5 0zm7-5zm2-1zm9-1zm7 0zm27 1zm-4 14zm-21-6zm-37 8zm-3-7zm-1 7zm-10-8zm-1 6zm-1 2zm-5-8zm-2 2zm-7 2zm-3 0zm0-4zm-2 5zm-4-6zm-1 7zm-1 1zm-11-5zm-2-1zm-1 3zm0 1zm-3 0zm-21 6zm17 5zm1-5zm2 4zm12-6zm1 1zm1 3zm3-4zm11 8zm2-8zm12 1zm1 8zm16-3zm6 0zm35-3zm4-3zm1 9zm35-3zm3 3zm14-8zm37 18zm-25 0zm-117-2zm-4-2zm-9 2zm-2-4zm-3 5zm-6-8zm-1 0zm0 5zm-11-4zm-32 7zm34 6zm92-3zm13 3zm30 1zm1-5zm14 3zm14-3zm10 4zm-51 7zm-19 2zm-108 0zm-60 246zm-3 1zm18 2zm133 17zm-30-8zm0-1zm-98 10zm98 0zm5 4zm1 0zm44 12zm-3-2zm-2 2zm-1-4zm0 1zm-3 5zm-2-3zm-3 4zm-2-4zm-2-5zm0 8zm-1-6zm-2 4zm-3-2zm-5-4zm-18 0zm14 11zm2 8zm2-3zm4-4zm0-2zm2 2zm1 10zm-2-2zm-10 1zm-9 7zm-17 9zm36 31zm-14-7zm5 17zm-16 5zm-48 4zm47 5zm11 0zm34 8zm-47 9zm39 5zm-66 12zm-33 460zm-11 2zm1 7zm131 0zm-21 6zm-8-1zm-8 4zm-87-3zm106 18zm1-3zm4-6zm20 6zm4 8zm-37-1zm-104 10zm83-3zm17 2zm40 4zm-4 10zm-29-6zm-11 8zm-3-8zm-3 15zm4 4zm12-4zm2 3zm20-8zm15 4zm-7 7zm-11 5zm-8 2zm-36-4zm-110 13zm6 1zm102-8zm42 8zm3-6zm-6 17zm-10-3zm-31 3zm-74-1zm7 10zm7-2zm66-6zm38 12zm-109 5zm-4-3zm2 7zm1-1zm89 6zm-3 208zm-6 3zm-35 11zm14 1zm9-2zm23-1zm21 8zm-47 4zm-12 6zm16 0zm1-2zm25 6zm76 41zm21-7zm-33 8zm-150 968zm-20-1zm-31-1zm-10 7zm7-1zm31 2zm44-3zm-28 16zm-23-2zm-18-4zm-1 0zm-9 2zm-9-1zm28 8zm13 8zm3-4zm12-2zm9 7zm0-1zm-9 2zm-4 1zm-6 3zm-4-2zm-1 1zm-6-3zm-1 4zm-6-4zm-5 9zm-13-2zm9 8zm11-4zm5 4zm30-3zm1 3z"/>
<path stroke="#8e5e96" d="M398 186zm43 11zm-9-6zm-57 9zm15 8zm13-8zm22 4zm3 0zm15 13zm-11 2zm-1-3zm-29-1zm-20-2zm-1 4zm-44 2zm-2 9zm4-8zm8 2zm79 6zm1 1zm0-4zm13-2zm-3 10zm-4 6zm-12-4zm-1 4zm-10-4zm-18-2zm-10 3zm-2-3zm-17 6zm-27-8zm-10 12zm4 4zm6-3zm23-4zm1 4zm21-1zm33 5zm21-7zm3 3zm66 8zm-6 5zm-23 0zm-42-6zm-4 8zm-34-4zm-9 3zm-18-5zm-15 0zm-7 2zm-6 3zm-2-1zm-5-5zm4 14zm18 2zm35-4zm29 1zm3-1zm16 5zm29-2zm11-2zm-9 7zm-3 7zm-32-1zm-2-2zm-57-2zm-80 12zm11 0zm89 2zm3-6zm41 5zm23-3zm36 3zm6 2zm2-1zm4-3zm6-4zm4 14zm-22-2zm-27 0zm-20-3zm-3 1zm-2-1zm-6 8zm-28-2zm-2 2zm-59-2zm-6 0zm-44 5zm13 6zm20-7zm61 3zm23 2zm33 1zm14 2zm34-5zm6 5zm11 9zm0-4zm-8 3zm-15-2zm-3-3zm-4 2zm-21 4zm0-4zm0 1zm-17 0zm-7-3zm-32-1zm-43 8zm-21-6zm-21 1zm-2 2zm-25 5zm5 7zm14 0zm91-6zm14 7zm1-1zm45-2zm7-4zm4 4zm1 0zm8-3zm2 5zm9-7zm12 7zm14 6zm-18 6zm-165-6zm-7 3zm-2 0zm-2 3zm0-3zm-5-2zm-9 2zm-5-3zm-3 4zm-2 1zm-2 5zm1 6zm1 0zm1-8zm9-1zm3 5zm1-2zm3 3zm2 3zm2-6zm9-1zm5 6zm14-6zm36-1zm115-1zm1 8zm0-8zm-24 18zm-35-1zm-4-1zm-14-3zm-83-3zm-20 1zm-2 0zm-2 5zm-5 3zm-1-5zm-6-3zm-4 8zm20 1zm99 6zm20-2zm15 2zm0-3zm2 8zm-9 4zm-12 4zm-7-4zm-4 4zm-56 225zm1 5zm6-1zm9-2zm7-2zm1-2zm2 7zm7 4zm-2 2zm-3-4zm-1 8zm-10-4zm-6-2zm-2-3zm-1 6zm-7-2zm-143 12zm139-6zm3 3zm15 2zm-128 5zm-5 16zm137-1zm6 3zm3 7zm-1 1zm-10-3zm-7-1zm-6 6zm-155-7zm159 9zm18 1zm-13 10zm-171 2zm-15 9zm14 2zm85 645zm11 8zm-7 2zm-3-4zm-3-4zm0 0zm-1 3zm-2 0zm-10 4zm15 7zm1 4zm2-4zm0-2zm3 6zm5-5zm2 3zm3-7zm10 5zm-10 6zm-2 6zm-2 0zm-2-3zm0-1zm-3 1zm-5 2zm0-4zm-1-1zm-1 0zm-7 2zm-6 3zm-1-1zm10 8zm6-2zm10 0zm2 8zm10 349zm-34 6zm67 5zm-4 4zm-56 3zm6 877zm61 19zm-19 5zm-60-4zm-33 4zm-10 2zm-8 10zm28-2zm4-5zm53 6zm-17 10zm-61-7zm62 24zm-4-4zm48 30zm72 8zm21 4zm-135 0zm41 9z"/>
<path stroke="#4e9090" d="M361 189zm19-1zm4-1zm15 2zm29 5zm-16-4zm0 8zm-30-2zm-12-2zm-2 1zm0 1zm-2-3zm-2-2zm-10 0zm-2 5zm-5-2zm53 11zm15-4zm22 6zm20 12zm-1-7zm-39 0zm-17 0zm-12 0zm-3-1zm42 12zm73 14zm-10 2zm-2 0zm-9-5zm-1 5zm-2-4zm-1-1zm0 5zm-4-6zm-12 2zm-41 4zm3 6zm1-4zm3 7zm17 1zm12-3zm15-6zm3 3zm3 6zm3 0zm3-6zm14 4zm-12 10zm-1-1zm-1-6zm0 0zm-10 5zm-12 4zm-4 0zm-4-8zm-4 5zm-4 0zm-3-3zm-3 1zm0 2zm-3-6zm-21 2zm14 13zm3 3zm4-2zm5-1zm1-3zm1-1zm1 3zm9 3zm5-7zm7 6zm1 3zm13 0zm12-8zm0 1zm1 3zm5 1zm5-3zm2 4zm1-4zm6 4zm3 0zm7 11zm-7-7zm-2 7zm-6-6zm-1 4zm-5-4zm-7 0zm-9 3zm-1-2zm-4 0zm-8 0zm-1 3zm-1 2zm-1 0zm-13 1zm-3-1zm-7-6zm-12 0zm-8 12zm11-2zm4 1zm9 2zm8 2zm6-2zm10 0zm0-3zm4 3zm1 4zm3-9zm4 2zm1 2zm3 3zm0-7zm3 4zm5-4zm5 5zm2-5zm1 9zm2-7zm0 4zm5-4zm15 7zm-5 3zm-12-1zm0 7zm-1-2zm-6-1zm0 3zm-6-5zm-2-3zm-1 3zm-5-2zm-5 0zm-1 5zm-6-5zm-4 4zm-4-5zm-3 7zm0-5zm-2-2zm-12 1zm-7 0zm-2 7zm-1-1zm-17-3zm8 8zm8 6zm5-4zm5-1zm17-1zm1-2zm4 6zm1-1zm1-4zm4 3zm5 3zm4-4zm10 2zm1-3zm1 3zm1-4zm1 2zm2 1zm2 0zm6 5zm10-1zm6 7zm-17-4zm-6 1zm-4 4zm-9 0zm-5-1zm-1-5zm-9 6zm-15 2zm-1-7zm0 2zm-2 6zm-1-3zm0-2zm-6 5zm-2-7zm7 13zm13 0zm1-5zm1 8zm3 1zm2 0zm4-9zm12 2zm2 3zm1 2zm5 0zm5-5zm0 4zm8-2zm2 3zm0-6zm2 0zm-11 18zm-19-7zm-8 2zm-2 2zm-9 0zm-8-6zm-18 5zm17 14zm6-8zm35 4zm3-5zm1 2zm2 1zm11 6zm-1 3zm-13 1zm0 8zm9 2zm-115 237zm11 15zm-13-2zm-4 4zm-12 1zm-11-1zm64 50zm5 0zm6 1zm5 0zm-7 5zm-2-1zm-1 5zm-2-3zm-2-4zm-2 6zm0-6zm-8 2zm-2 4zm-2-2zm-1 0zm61 952zm-29 22zm19 1zm1-5zm16 3zm-9 4zm-2 978zm-29 13zm35-1zm-37 35zm-50 22zm-46-5zm-58 14zm2-3zm28 2zm10 3zm4 0zm28-5zm26-4zm2 4zm4 4zm33-2zm14 3zm-2 6zm-7 4zm-11-8zm-10 1zm-37 2zm-43-3zm-48 3zm-5 0zm70 12zm26-6zm7 4zm6 2zm15-2z"/>
<path stroke="#3e2a92" d="M342 187zm31 2zm4-3zm4-2zm8 1zm9 1zm22 1zm4-2zm12 4zm5-1zm5 11zm-16-6zm-2 5zm-1-5zm-4 0zm-8-3zm-4 7zm-1 2zm-1-3zm-7-1zm-11-3zm-3 5zm-1 0zm-4-3zm0-1zm-1-2zm-2 1zm-6 6zm-10-7zm-1 3zm-1 5zm-14 4zm1-1zm20 3zm10-5zm2 0zm0 5zm7 4zm4-2zm7-6zm7 0zm14 7zm8-8zm7 0zm-8 10zm-14 1zm-5 0zm-13 2zm38 15zm15-5zm29 5zm-36 8zm-11 1zm-4-4zm-6 3zm-4-1zm-2 4zm7 10zm6-2zm6 1zm14-3zm23 0zm8 0zm20 4zm-55 2zm-22 15zm7 2zm13-4zm0-1zm38 2zm17 12zm-2 0zm-20 2zm-3-3zm-31 1zm-4-7zm-6 1zm-1 7zm-10 0zm-14-8zm-11 19zm43-6zm12-2zm2 5zm18 0zm0-4zm4 5zm6-6zm4 6zm6-1zm23-3zm3 0zm1 1zm2 12zm-1-4zm-8-2zm-34 8zm-16-8zm-5 6zm-2 1zm-71-3zm6 9zm12 5zm66-7zm23 3zm15 1zm4-3zm11 5zm-2 12zm-8-6zm-2 3zm-13-5zm-27 8zm-5-7zm-39 5zm-26 7zm74-1zm17 2zm3 2zm3 0zm16-7zm1 8zm1-2zm-8 6zm-1 5zm-9 2zm-43-5zm-127-4zm-7 5zm-15 12zm36 2zm119-2zm7 1zm10-8zm15 4zm2-4zm6 4zm4 1zm0-1zm3 1zm14 11zm-4-5zm0 2zm-16 0zm-6-3zm-45 8zm-5-6zm-5 1zm-6 0zm-14 3zm-12 0zm-4 2zm-70-2zm-8-3zm79 15zm22-2zm2-1zm9-1zm0-3zm2 7zm8-5zm3 6zm12-3zm-14 5zm-4 7zm-11-8zm-23 1zm13 9zm-43 225zm1-1zm4-2zm0 2zm21 3zm-4 12zm-11-8zm-8 5zm-5-5zm7 14zm35 44zm0-2zm4 1zm3 0zm1-3zm5 1zm8 0zm67 9zm-1-5zm-37 7zm-10-2zm-18-2zm-10 0zm-11 0zm36 8zm23 1zm4 1zm37 9zm-31 4zm-11-4zm0 16zm11-7zm-32 25zm48 4zm-22 0zm-166 333zm66 79zm3-2zm2 24zm16 35zm-117 152zm179 289zm10 0zm7 4zm-9 9zm-7 13zm28 2zm-189 59zm21-4zm13 2zm6 0zm3 8zm-23-1zm-61 883zm18 11zm-30 8zm42 6zm28 9zm131-3zm2-1zm29-5zm14 17zm-31 2zm-129 9zm-5 30zm12 5zm10 2zm87 2zm-8 10zm-53-3zm-7-4zm-2 1zm-15 2zm-4-2zm-19-1zm-59 1zm96 17zm17-3zm4 2zm23 0z"/>
<path stroke="#151515" d="M382 218zm-7 0zm-2 1zm-30 10zm5-4zm31-4zm1-1zm1 6zm4 1zm2 0zm0 2zm1-4zm13 2zm3 1zm1 9zm-3 1zm-2-2zm-15 2zm-2 0zm-53 3zm18-1zm7 7zm13 0zm7 0zm13 1zm2-7zm11-1zm2 0zm-14 10zm-2 5zm-2-5zm-5 9zm-21-5zm-3 2zm-37 3zm-45 10zm103-7zm21-2zm4 4zm-2 9zm-6 3zm-3-5zm-94 2zm-7 10zm97 6zm8-2zm5-5zm10 2zm3 14zm-14-2zm-8-6zm-7 4zm-3 13zm6-5zm13 3zm3 1zm14-1zm1 13zm-2-2zm-2 1zm-1-5zm0 6zm-4-6zm-8-1zm-4 1zm-6-1zm-3 1zm-3 7zm-5-9zm2 18zm1-6zm7 5zm6-7zm14 5zm8-1zm0-3zm2-1zm0 5zm1-5zm2 9zm2-9zm-14 19zm-13-7zm-14-2zm19 18zm12-6zm-158 277zm-1-4zm-11-3zm-4 5zm-8-1zm-2 3zm-4 0zm4 5zm3 4zm2-6zm4 7zm4-1zm0-5zm0 6zm0 0zm7-7zm2-1zm1 5zm1-3zm4-1zm8 4zm88 2zm0-2zm11 3zm14 7zm-3 2zm-11 0zm-1-7zm-6 2zm-1 6zm-2-6zm-3 4zm-4-7zm-83 0zm-5 6zm-4 3zm-3-7zm-1 4zm-1-6zm-6 6zm-2 0zm0-2zm-7 1zm0-2zm-1-3zm-2 5zm-1-1zm-4 3zm-3 6zm2-1zm1-1zm0 6zm2-7zm0 4zm1-3zm2 7zm0-5zm1 6zm5-8zm1-1zm2 3zm1 4zm0-5zm2-2zm2 9zm4-4zm2-2zm2 6zm1-4zm0 4zm4-4zm86-1zm1-2zm0 0zm1 3zm0 1zm3 1zm0-6zm0 1zm1 0zm0 6zm0-5zm4 0zm6 6zm5-8zm2 2zm1-1zm1 3zm1-4zm2-1zm26 9zm3 3zm-20 5zm0-6zm-6-1zm-3 4zm0-3zm-2 4zm-4 0zm-5-5zm-2 4zm0 5zm0-7zm-5 4zm-2-1zm-3-2zm0 6zm-1-3zm-1-1zm0 4zm-6 0zm-3-3zm0-2zm0 2zm-86-6zm-5 4zm-9-4zm-1 1zm-9 7zm-5-3zm-4 4zm-7 0zm-6 8zm5-3zm1 4zm0-3zm10-3zm1 3zm2 2zm119-1zm1-6zm0 5zm2-4zm8 5zm1 2zm1 1zm6-1zm1-8zm5 8zm2-3zm3-4zm15 8zm-21 1zm-2 4zm-10 0zm0 3zm-10-6zm-125 5zm-1-4zm0 1zm0-3zm-1 3zm-1 3zm-2 3zm-1-5zm-2 1zm-6 0zm-5-5zm-1 4zm6 13zm1-2zm8-2zm1 1zm5-2zm4-1zm127-1zm9 6zm-42 31zm45 61zm-45 397zm-2 2zm-2 0zm-5 10zm7-2zm3 1zm-7 8zm-7-2zm-3 6zm0 0zm0 7zm1 1zm1-2zm1-1zm3 0zm-7 7zm-1 2zm-1 1zm-4 2zm-1 12zm2-6zm3 1zm1 0zm1 4zm-6 11zm-4 1zm-4-2zm0 2zm-1-2zm-3 2zm-4-3zm-7 6zm1 5zm0-2zm3-1zm4-3zm1 3zm1 0zm7 4zm3 0zm1-3zm1-3zm0 8zm0-8zm3-1zm3 4zm4 9zm-2 1zm-7 1zm-1-1zm0-3zm-2-1zm0 7zm-1 2zm0-5zm-1-4zm-1 2zm-1 7zm-1-5zm-4 2zm0 1zm-2-3zm-2 2zm-6-2zm-3-2zm-1-1zm-1 3zm2 7zm1 6zm1-6zm7 5zm5-3zm3 4zm1 0zm1-3zm0 0zm2 3zm1-7zm5 5zm1 4zm1 0zm0-3zm0 3zm0-8zm-2 10zm-5 8zm-1-1zm-5-8zm0 4zm-2-4zm-2 0zm-3 13zm6 3zm3-4zm6 1zm-18 7zm-2 6zm-1 2zm-1-4zm-2 0zm-4-1zm-1 5zm-4 8zm4 3zm3-4zm0 0zm1 0zm5-1zm-5 6zm0 2zm-2 2zm-2 4zm-4-1zm0 3zm1 2zm8 7zm0-2zm-6 6zm-3 1zm-4 7zm3-1zm0 3zm4-2zm0 3zm10 9zm-3 0zm92 231zm23 1zm2 13zm-2-5zm-6 3zm-10 1zm-4 11zm24-7zm-35 444zm14 39zm-29 15zm102 415zm-8 2zm-24-1zm-7-5zm-43 2zm-11 9zm11 8zm3-7zm34-2zm32 6zm40 1zm1-2zm-30 10zm-23-3zm-25 0zm-24-1zm60 13zm24 90zm-146 72zm28-5zm51 18zm-23-6z"/>
<path stroke="#cdbe4a" d="M239 774zm-3 4zm0 1zm-3-1zm-2 0zm-2-1zm-3 0zm-1-1zm-5 10zm3-5zm2-1zm4 3zm1-2zm1 2zm1 5zm2 1zm1-9zm0 2zm1 0zm1 7zm0-6zm2 2zm1-2zm0 4zm1-4zm4-1zm1 6zm1-5zm0 5zm-5 5zm-3-3zm-1 4zm-5-3zm-2 1zm-1 0zm113 17zm81 8zm-2-3zm-6 1zm-5 1zm-62-2zm-15 5zm-4-4zm-7 14zm2-2zm1-1zm1 1zm3 2zm2-8zm9 5zm2-4zm1 0zm0 5zm5-2zm14 4zm15 0zm1-6zm29 5zm2-8zm2 6zm3-1zm2-1zm2-1zm0-3zm3 5zm3-1zm-3 8zm0 4zm-3 3zm-2-3zm0-4zm-6-1zm0 7zm-2-6zm-1 3zm0-3zm-2-1zm-23 2zm-5 2zm-2 3zm-3-1zm-2-7zm-1 5zm-3 3zm-4-5zm0 6zm0-2zm-3-1zm0-4zm-1 3zm0-3zm-3-2zm-9 5zm-2-2zm-2-3zm0 3zm-1 6zm0-1zm-1 0zm0-3zm-2 3zm-1-7zm-4 8zm-2-4zm0 4zm-2-4zm-3 4zm-1-4zm0 3zm-1-5zm-2-1zm-2 4zm-1-4zm-14 0zm10 17zm3-2zm2-2zm1 3zm2-2zm1-2zm0 4zm3-8zm1 0zm0 2zm5 0zm0 6zm2-1zm1-4zm1 3zm0 2zm0-7zm1 6zm0-5zm1 7zm1-6zm1-1zm1 7zm1-4zm0-3zm3 4zm0 3zm1 0zm0-8zm2 0zm6 2zm3 3zm1-5zm0-1zm3 1zm1-1zm1 6zm4-6zm1 0zm0 2zm2-2zm1 6zm1-2zm1 2zm5 12zm-4-8zm-3 6zm-5 0zm0-4zm-5 5zm-2-1zm0-6zm-1 9zm-4-8zm-1 8zm-2-6zm-1 4zm0-5zm-3-1zm0 2zm-2 3zm-4 1zm0 0zm0-1zm-1-3zm0 6zm-2-5zm0 1zm0 1zm0 1zm-2-6zm-1 5zm0-3zm-5 5zm0-8zm-1 8zm-6-3zm-2-5zm0 3zm-1 6zm-6 0zm-2-3zm-1-4zm2 11zm3-3zm10 3zm0-2zm1 2zm0 1zm0-2zm1 6zm1-7zm2 0zm1 6zm1-1zm1 1zm1-3zm1-4zm4 6zm1-3zm0-2zm2 3zm6-3zm1 2zm3 2zm1 3zm0-1zm0-4zm2 2zm2 0zm2 4zm4-5zm5 1zm-1 7zm-6 0zm-3 0zm-6 0zm-2 2zm-2 1zm-2 3zm-7-6zm-1 6zm-1-5zm-2 1zm-9 2zm-7-2zm4 11zm15 0zm92 144zm14-2zm2 11zm-3-3zm-2-2zm0-1zm-2 7zm0-3zm-2-4zm-1 5zm0-6zm-4 8zm-5-5zm-6 12zm2 2zm0-7zm2 4zm3 0zm0-5zm1 3zm1 2zm2 2zm0-5zm1 0zm1 4zm0-2zm4 4zm6 1zm3-9zm-14 10zm0 0zm-1 2zm0 1zm-3-1zm85 87zm-6-2zm-26-7zm-4 17zm4-2zm1 2zm3-3zm4 3zm2-3zm0 3zm3-1zm0 2zm4 0zm1-2zm0 3zm1-5zm1 3zm0-3zm5 3zm0-3zm8 3zm4-5zm12 17zm-15-2zm0-1zm-4-5zm0 7zm-2 0zm0-7zm-2 1zm-4 7zm-1-1zm-3-7zm-4 5zm0 0zm-1-5zm0 7zm-9 1zm-1-3zm-2-5zm0 3zm-3-4zm-3 3zm-12 11zm1 3zm4 1zm2-1zm0-6zm7 8zm4-6zm1 0zm1 2zm2 0zm0-2zm2 5zm2-3zm0 4zm0-1zm1 0zm6-5zm2 5zm4-3zm0-5zm2 1zm0 7zm2 1zm0 0zm4-2zm1-1zm2-3zm0-2zm2 8zm5-6zm2-2zm6 8zm-5 6zm-5-3zm-3 0zm-6 5zm-1-6zm-2 7zm0-4zm-4 5zm0-1zm0 0zm-1-1zm-3-2zm-1 3zm0 0zm-2-1zm-2 1zm-1-8zm0 7zm0-5zm-3 2zm-4-1zm-3-3zm-1 6zm-6-1zm-2 3zm-1-5zm-1-2zm-1 7zm-4-1zm-1 1zm-2 9zm4-1zm1-2zm5-1zm2 6zm1-9zm0 6zm1-5zm1 7zm2 0zm3-5zm1 5zm4-2zm1-1zm2 0zm2 4zm0-2zm2-4zm4-3zm0 7zm1-5zm1 6zm1-7zm1 1zm1 0zm2-2zm9 5zm6 3zm0-2zm2 1zm1-1zm3-3zm6 1zm-8 8zm-1 2zm0-1zm-1 4zm-3 2zm-5-3zm-4-1zm-2 1zm-2 0zm-4-1zm-6 1zm-2 2zm0 0zm0-8zm-1 0zm-3 2zm-2 4zm-1-1zm-1-1zm-1 2zm-2 3zm-2-7zm0-2zm-2 4zm0-3zm-1 1zm0 0zm-3 5zm0-2zm-1 0zm-6 3zm-3-8zm-7 1zm11 17zm2 1zm0 0zm7-1zm1-5zm8 0zm1-3zm1 7zm0-3zm0-2zm5 0zm4 3zm3 4zm0 0zm3-9zm1 5zm0 3zm3-3zm3 0zm0-2zm1-3zm0 8zm0-4zm5-1zm6-1zm-9 8zm-6 4zm-6 1zm-1-5zm-4 1zm-1 2zm0 6zm-4-5zm-2 1zm-1-1zm-5 3zm-6 2zm0-2zm0-5zm-1 5zm-4 2zm-8-3zm-2-1zm0 3zm-8 2zm2 4zm3 0zm4 3zm3 0zm1-1zm0-5zm0 3zm1 0zm1 5zm1-8zm1 3zm0-1zm1 4zm2-7zm1 6zm0-2zm4 2zm9-3zm0-2zm0 6zm2-5zm2 3zm9-4zm1 0zm0 2zm-27 9zm-1-1zm-1-1zm-1 0zm-1 7zm-4 0zm0 0zm-5-6zm-1 3zm-4-2zm-1 0zm0 5zm-1-4zm6 7zm16 0zm-107 361zm63 163zm42 4zm8-4zm3 5zm4 9zm-2-3zm-1-2zm-1 3zm0-4zm-1 4zm-2-2zm0-4zm0 8zm-1-1zm-2 2zm-8-1zm-29-2zm11 13zm18-9zm0 7zm3-2zm1 1zm1-6zm1 5zm1 3zm1-5zm3 1zm2 5zm0-5zm5 2zm0 2zm2-8zm16 14zm-6 3zm-12-5zm-8-2zm-2 9zm-5-8zm-1 7zm0-5zm-5 2zm-3 2zm-1 0zm-4-1zm-1-6zm-2 4zm-1 4zm-1-3zm-1-2zm-6 2zm-4 4zm-1-3zm-9-3zm-3 6zm-7 8zm1-2zm0 0zm1-2zm2 6zm5-7zm0 7zm5-1zm0-6zm1-1zm2 6zm0-3zm1 3zm5 1zm2-4zm0 5zm0-3zm2 0zm0-4zm1 2zm1 1zm4 3zm2-5zm4 0zm0-1zm3-1zm2 6zm1-2zm2-1zm4 3zm0 2zm3-4zm3-3zm2-2zm0 8zm1 0zm2-4zm7 2zm4 1zm1-6zm0 1zm1 1zm1 3zm1 0zm1-5zm3 1zm0-1zm0 2zm2 2zm0-5zm3 1zm3 4zm1-2zm1-2zm0 18zm-3-8zm0 7zm-5-3zm-2-4zm-3 0zm0 1zm-2 2zm-2-3zm-4 0zm-1 0zm0 3zm-2-1zm-2 4zm-3-3zm-2-3zm-1 2zm-1 0zm-2-1zm-1 2zm-1-4zm-2 8zm-1-5zm0 6zm-1-8zm-2 4zm-2-4zm-2 6zm0 1zm-6-7zm-10 1zm-2 2zm-3-4zm-2 5zm-1-5zm-1 7zm-1 1zm0-5zm-2 0zm-3 6zm-5-9zm-2 0zm-1 6zm-1-4zm-1 4zm-3 2zm0-4zm-3 1zm-1 7zm1 7zm0-8zm0 8zm1-9zm0 6zm3 2zm0 1zm0 0zm1-2zm0 1zm5-5zm0 0zm1 2zm2 1zm0 3zm1-6zm2 4zm0 0zm0 0zm0-4zm5-3zm5 0zm3 1zm12 7zm1 0zm1-8zm0 9zm0-9zm0 1zm3 2zm2 6zm3-8zm2 8zm4-6zm1 2zm1 1zm2 3zm1-7zm0 6zm1-4zm3 3zm1-2zm0 4zm0-4zm1 2zm1-7zm3 0zm1 4zm1-4zm1 1zm2 5zm1 2zm0-6zm1 3zm1 1zm1 3zm1-5zm0 3zm1-1zm0-5zm0 5zm4 1zm1-2zm1 4zm3-4zm0 12zm-1 1zm-1-7zm-2 3zm-1-4zm-3 5zm0-5zm-3 8zm0-8zm-3 3zm0 6zm-1-4zm-3-2zm-1-1zm-1 2zm-1 1zm-2-3zm0 1zm-1 4zm-1 2zm-1 0zm0-1zm-4-7zm0 6zm-1-6zm0 0zm-2 8zm-1-4zm0-1zm0 2zm0 0zm-2 3zm-2-4zm-5 0zm0 1zm-3-6zm-1 8zm-1-1zm-1-6zm0 7zm0-2zm-2-4zm-12 3zm-1 2zm-3-5zm0 5zm0 0zm-2 1zm-3-8zm-1 4zm0-1zm0 1zm-5 3zm0-6zm-3 1zm-1-2zm-1 1zm-1 5zm-7-5zm-3 3zm5 8zm2-2zm2 6zm1-3zm3 2zm2 4zm1-5zm1-2zm2 2zm3 2zm1-1zm1-1zm1 1zm2 1zm2-4zm13 0zm10 3zm0 0zm2 0zm1 0zm3 2zm0-1zm2-1zm0-4zm0 3zm1-1zm0-3zm5 6zm1-5zm0 1zm0 6zm1-5zm0-2zm2 8zm0-6zm1 5zm1 1zm1-5zm2 1zm1 3zm2-1zm1-6zm1-1zm0 9zm4-9zm2 6zm0-4zm1 6zm2-7zm0 3zm3-2zm-19 12zm-1 3zm-1-6zm-2 2zm-12 0zm0-1zm-2-2zm-1 2zm-31-2zm-5 5zm-5-3zm31 19zm-3 3zm0 0zm-1 0zm-1 3zm-1 1zm-1-1zm-1-4zm-124 134zm2-3zm0-1zm2 4zm1 2zm0-5zm36 5zm8 0zm1-3zm2 7zm0 0zm-1 5zm-1-7zm-2 2zm-1-1zm-3 3zm-1 4zm0-4zm-1 4zm-7-2zm-4 0zm-6 2zm-20-6zm-2 4zm-2-7zm0 6zm-3 0zm-25 10zm28-3zm2 2zm17-3zm1-1zm4-1zm1 0zm2 0zm1 1zm13 0zm0 2zm-53 26zm36-1zm-2 4zm-6-1zm-10-1zm-30 0zm-32 7zm-6 11zm25-6zm18 1zm10 4zm25-7zm32 9zm3-4zm3 6zm-51 1zm-37-1zm-23 3zm10 12zm14-6zm4 4zm34-2zm27-2zm-44 16zm-14-2zm-19-3zm-6 16zm139-3zm6 11zm-1-1zm-7-3zm-1 2zm-19 9zm9 5zm9-7zm9 6zm19-1zm10-1zm2 2zm0 3zm5-4zm6 4zm3-5zm5 3zm2-1zm1-6zm4 6zm10-3zm2 14zm-1-3zm0-2zm-5 0zm-5 6zm0-6zm-1 0zm-29-2zm-2 3zm-2-2zm-1 4zm-3-3zm-5-2zm-1 5zm-14-5zm61 13zm10 0zm1 2zm1-2zm1 4zm6 0zm0-5zm0 17zm-5-5zm0 2zm-13-3zm-10 16zm6-4zm4-3zm1 4zm1-6zm0 9zm1-7zm1 7zm0-3zm1 2zm2-5zm1 0zm1-1zm5 4zm1 2zm0-5zm0 1zm4 4zm1-1zm2-3zm2 1zm0 1zm2 1zm3 2zm6 1zm-3 7zm-1-6zm0-1zm-1 2zm-3 0zm0-2zm-2 3zm0-2zm-1 4zm-1 0zm-1-2zm0 4zm-1-4zm0 4zm-1-5zm-1 6zm-1 0zm-1-2zm-1 1zm0 1zm-1-2zm-6-6zm-1 1zm0 7zm-2-7zm0 5zm0-3zm-6 2zm-3-2zm0 3zm-2 2zm-1-4zm-2 5zm0-6zm-1-3zm-3 0zm0 5zm2 5zm1 7zm1-5zm1 5zm1-7zm2 9zm3-1zm1 1zm2-9zm1 0zm2 0zm1 2zm1 5zm3-1zm2-2zm1-4zm2 3zm0 2zm0 2zm0-1zm5-1zm1 4zm0 0zm1 0zm3-3zm2 3zm2-5zm1-1zm2 4zm-5 5zm-6-2zm-2 2zm-7 0zm-4 2zm-3 3zm0-6zm-3 3zm0-2zm-3 0zm-1 6zm-1-4zm-1 4zm-6 0zm-1 6zm6-3zm1 4zm2-5zm2 9zm-28 19zm0-1zm6 4zm-5 1zm-1-2zm-66 297zm7 13zm-12 236zm-3 1zm-4-3zm0 2zm-1-1zm-6 3zm-4 0zm-3-3zm-2-2zm-2 1zm-6 3zm-5-4zm-5 2zm-2-1zm-5 4zm-15-5zm-5 0zm8 10zm2-1zm6 6zm2 0zm3-6zm3 0zm6 4zm2-4zm3 7zm0-7zm9-1zm3 0zm3 7zm8 0zm0-2zm3-1zm0-5zm5 7zm0 1zm3-2zm0-5zm2 2zm23-3zm8 16zm-11 2zm-3 1zm-1-4zm0 4zm-2-6zm-7-3zm-1 5zm-1-2zm-3 0zm-3 3zm-8-3zm-1 2zm-1-4zm0 3zm-1-3zm-1 2zm-1 0zm-2 0zm-3 0zm-2 1zm-2 2zm0 2zm-1-5zm-5 5zm-1-3zm-2 4zm-1-2zm-1-1zm0 1zm-1-6zm-1 6zm-3-5zm-7 1zm-2-2zm-14 5zm-2 2zm-3 1zm-2-6zm-4 6zm-9 4zm7 6zm12-3zm0 2zm3-5zm5 1zm5 3zm2 1zm2-1zm2 0zm3-7zm3 8zm3 0zm1-6zm6 6zm0-1zm1 0zm3-4zm0 2zm1-5zm1 6zm1-5zm0 8zm0-1zm3-6zm1 3zm1-5zm4 9zm2 0zm4-6zm10 0zm1 3zm3 1zm4-7zm1 0zm6 0zm10 7zm-13 3zm-2 9zm-4-7zm-8 3zm-5 4zm-2-6zm-2-3zm-2 7zm-1-1zm-10 0zm-3-2zm-2 3zm-8-6zm-2 1zm-4 3zm0 4zm-1-2zm0-3zm-9-3zm-3 5zm-6 2zm-4-5zm-24-2zm-20 3zm-4-3zm-3 3zm-1 2zm-3-1zm50 8zm6-3zm4 2zm4 1zm7 0zm1 6zm19 0zm1-1zm6-4zm1 5zm0-8zm8 3zm3 0zm0 2zm2-3zm2 0zm2-2zm3 3zm1 3zm-1 7zm-3 3zm-7 2zm0-1zm-1 0zm0-1zm-1-5zm-1 3zm-2 4zm-1-9zm0 8zm-15-7zm-4-1zm-1 0zm-3 16zm31-3zm5-3z"/>
<path stroke="#7d6433" d="M281 198zm-2-2zm28 23zm-7 0zm-18-1zm-3-2zm-11 4zm11 0zm8 9zm4-4zm2 1zm7 0zm6 2zm0-4zm3 0zm2-3zm7 16zm-1 0zm-1 1zm-1 1zm-1-4zm-1-4zm-5 8zm-7-6zm-2 0zm-1-3zm-6 0zm-7 1zm0 8zm0-8zm-2 2zm0-2zm-7 2zm-3-2zm-4 6zm-7 2zm-11 2zm12 2zm4 6zm1-8zm6 6zm1-4zm1 3zm1-5zm1 5zm1-1zm2 1zm1-4zm4-2zm8 8zm1-7zm0 3zm1 2zm0-6zm2 1zm1 5zm1-6zm1 9zm0-8zm4 7zm1-5zm3 4zm1-5zm1 3zm1-5zm1 9zm1-4zm10 4zm5 0zm-6 1zm-2 5zm-6-4zm0 1zm-2 7zm-4-8zm-2 7zm-1-4zm-1 4zm-1-5zm-1 2zm-1 1zm-5-3zm-4 0zm-1 2zm-1 1zm0-3zm-1-2zm-5-1zm-8 0zm-7 6zm-5-5zm-9 3zm-3 10zm14 4zm10-1zm11-4zm1-2zm1 3zm0-3zm0 8zm0-3zm2-3zm0-2zm0 6zm1-1zm3-2zm1-2zm0 5zm3-2zm3-4zm0 0zm3 1zm2 3zm3 0zm4 4zm0 0zm1-6zm1 4zm2-3zm5 2zm-2 11zm-6 1zm-5-2zm-3-1zm-3-2zm-2 6zm-1-5zm-1 2zm-1-5zm-6 5zm-1-5zm-8 2zm0-3zm0 3zm-1-1zm-6 3zm-7-4zm-7 18zm6-9zm1 4zm3 3zm5-3zm6 1zm3-3zm1 2zm5 4zm1 1zm1-6zm0 2zm4 3zm2-7zm4 7zm2 1zm22-4zm9 11zm-3 2zm-5-7zm-25 2zm-8-2zm0 5zm0-2zm-4 2zm-3-1zm-1 4zm-6-1zm-8-1zm-1-3zm0 11zm10-2zm32-3zm27 7zm10 0zm7 9zm-53 2zm-5-8zm-8 8zm-6-1zm28 12zm44-5zm-89 15zm31 9zm14-3zm33 364zm52-3zm-14 11zm-3 1zm-1-4zm-1 1zm-5 1zm-1-3zm-3 1zm-1-3zm0 2zm-3 0zm-9 4zm0-4zm-1-1zm-2 0zm-7-1zm-1 3zm-1 4zm-4-3zm-2 3zm-4 0zm-5 9zm11-2zm8 1zm6 0zm7-2zm5-4zm3 1zm2-1zm1 7zm5-7zm4 3zm1 3zm9-5zm7 6zm14 2zm48 2zm0 2zm-23 1zm-26-1zm-2 5zm-1 1zm-3-8zm-1 6zm-1-3zm-5 0zm-2 5zm0-1zm-3-8zm-2 1zm-7 0zm-1 3zm-3 4zm-3 1zm-3-4zm-1 4zm-2-2zm-1 1zm-2-6zm-2 4zm-4-6zm-2 7zm-1-3zm-2 3zm-2-6zm-1 6zm-2-6zm-1 2zm-3 6zm0-7zm0 0zm-3 0zm-2-1zm-2 5zm-8 0zm-5-4zm-6 3zm-1 4zm-3-9zm-1 5zm-4-2zm0 4zm0-6zm-12 15zm7 0zm8-2zm1 4zm7 1zm2-7zm3 7zm5-6zm1 3zm4-4zm2-1zm2 1zm1 1zm1-2zm1 2zm4 6zm2-5zm3-3zm0 5zm3-2zm0-1zm0 6zm2-2zm1-7zm1 9zm1-3zm1 1zm1-4zm2 3zm5-5zm2 7zm0 1zm2-1zm4-7zm1 4zm0 3zm7-1zm3-4zm5-1zm3 3zm4 2zm4-5zm66 1zm-45 9zm-29 1zm0 0zm-1-1zm-3 2zm0-1zm-3 6zm-7-8zm0 6zm-7-1zm-3-4zm0-1zm-1 0zm-4 7zm-4-4zm-1-2zm-3-1zm-5 1zm-3 6zm-3 1zm-2-7zm-1-2zm-1 1zm-1 3zm0 4zm-5-3zm-1 2zm-4-5zm-14 4zm0-2zm-2 2zm-4 0zm-4-2zm-1 1zm-2 2zm-12 9zm30 2zm1-4zm6 4zm3-7zm0 2zm1 2zm10 2zm0-1zm3 3zm0-5zm0-2zm1 6zm3-4zm3-1zm5 0zm0-1zm1 2zm6-3zm3 3zm0 5zm3 0zm6-7zm4 0zm1 5zm0-1zm11 2zm3-7zm4 2zm9-3zm-11 15zm-4-5zm-7 7zm-4-7zm-3 8zm0 0zm-3-1zm-2-6zm-4-1zm-5 2zm0 6zm-2-3zm-1 0zm0-4zm-10 7zm-1-8zm-7 3zm-4 0zm-1 5zm0-5zm-6 3zm-2-3zm-1-3zm-5 7zm-3-7zm-1 3zm-2-3zm-5 0zm-9 4zm18 10zm6-3zm16 2zm3-2zm16 8zm3-5zm0 3zm0-6zm-42 13zm36 9zm-9 440zm0 4zm12-7zm2 0zm0 0zm6 9zm5-1zm3 0zm3-1zm5 0zm29 0zm1 1zm-11 7zm0 3zm-8-8zm-4 4zm-4 3zm-1 2zm0 0zm-1-4zm-3 3zm0-1zm-1 1zm-1-3zm-2 2zm-13 0zm-10 7zm1 1zm9-2zm2 6zm4-5zm0 4zm6-7zm2 6zm1-5zm3 1zm10-1zm7 4zm3 3zm1-6zm2 6zm5 1zm-5 8zm-7-1zm-2-1zm-1-1zm-1 0zm0-1zm-4-4zm-5 8zm0 0zm-10-8zm0 6zm-1-1zm0-5zm-3 7zm-9-1zm-2-4zm-3 5zm0 2zm-20-5zm11 13zm1-2zm1 4zm4-8zm2 3zm2 1zm2-1zm3 1zm3 4zm5-3zm6-1zm3-2zm1 5zm1-6zm1 3zm5 0zm4-5zm1 9zm3-6zm1 2zm1-2zm2 6zm3-6zm0 1zm0-2zm1 5zm1-4zm0-3zm4 6zm1-6zm6 3zm1 10zm-2-3zm-3 2zm0 5zm-1 1zm-10-5zm-4 6zm-1-2zm-4 2zm-1-9zm-2 0zm-1 7zm-1-3zm-1 2zm-2 0zm0 0zm-1 3zm-5-3zm-4-4zm-14 7zm0-8zm-4-1zm0 6zm-2-5zm-5 1zm-6 5zm1 9zm4-1zm1 3zm3-1zm1 2zm0 0zm3-5zm2 5zm1-2zm1-7zm4 5zm2 0zm3 0zm1-3zm2 5zm5-2zm3 0zm0-2zm0-2zm1 7zm2-5zm3 0zm1 3zm2-6zm1 0zm0 6zm2-2zm3 2zm3 1zm1 1zm1-4zm1-2zm1-1zm5 2zm1 0zm3 1zm7 10zm-4-1zm-8 5zm0-4zm-2 0zm-4-2zm-1 3zm-1-4zm0 5zm-2 0zm-2-2zm-2 1zm0-1zm-1 1zm-1 4zm-4-3zm-4-1zm-1-1zm-2 1zm-3 0zm-5-2zm-4 2zm-1-2zm-1-2zm0 6zm-1-4zm0-2zm-2 2zm-2 1zm-1-4zm-3 1zm-3 5zm-5 2zm-2 0zm-2-6zm-1-1zm3 15zm5-1zm1-3zm0 6zm3-7zm2 6zm3-6zm5 4zm1-5zm3 8zm8-1zm1-4zm4 3zm1 0zm3-3zm8 3zm15-4zm2 1zm15 5zm-14 5zm-5 6zm-1-4zm-5 2zm-2-7zm-4 2zm-2 1zm-6 5zm-7 0zm-1-4zm0-1zm-1 1zm-7 3zm-1 2zm0-1zm-11-7zm-5 8zm-3-6zm0-3zm-2 1zm-4 12zm12 6zm1-1zm3-4zm2-4zm0 2zm7-2zm7 4zm1-2zm4 1zm6 4zm6-1zm2-1zm2 0zm15-5zm-23 13zm-1 0zm-1-1zm-2 2zm-1-2zm-7-1zm-6 5zm-1-5zm-5 2zm-4 6zm-13 209zm11-2zm4 1zm8 4zm-7 6zm-10-6zm-14 2zm-5 3zm-14 12zm8-1zm28 0zm5 1zm3-7zm3 1zm6 14zm-2 1zm-1-7zm-5 6zm-18-2zm-24-2zm13 13zm2 2zm8-6zm10 6zm2-6zm2 2zm9 5zm10-3zm-81 447zm-19 0zm-14 8zm14 0zm85 25zm-64 21zm94 2zm21 2zm-11 5zm6 7zm34 397zm-37-8zm-1 8zm-30-3zm-2-6zm0 8zm-12-5zm-4 4zm-1 2zm-29 4zm3 1zm6-3zm6 7zm1-6zm0 0zm11 2zm4-3zm19 7zm8-5zm24-2zm0 6zm9-5zm1 6zm5-8zm4 9zm3-3zm14 2zm10 4zm-26-2zm-8 9zm0-7zm-14 0zm-6 1zm-5 1zm-8-3zm-6 3zm-4 3zm-42-2zm2 6zm11 3zm39-3zm1 7zm5 0zm15-1zm1-1zm8-4zm14-2zm3 4zm-24 7zm-5 0zm-12-1zm-118 63zm-9 3zm57 6zm-50 13zm-14 13zm54-1zm-34 3zm-46 10zm39 3z"/>
<path stroke="#5a7a3a" d="M495 636zm-5 1zm-3-1zm-6 1zm0-1zm-3 1zm-25 12zm9-7zm11 3zm1 4zm7-9zm2 9zm1-3zm1 2zm15-1zm4-7zm15 13zm-16 5zm-1-2zm-3 0zm-3 1zm-11 1zm-1-4zm-16-1zm-6 16zm1-8zm3 7zm0-8zm3 4zm0 1zm2 4zm3-3zm9 2zm9-2zm4-6zm0 9zm2-3zm2 2zm31 2zm-4 2zm-6 2zm0 4zm-2-5zm-3-2zm-3-1zm-8 8zm-8-5zm0 5zm-2-7zm-2 0zm-1 6zm-6 0zm-4 1zm-3-7zm0 7zm-5 0zm-29-6zm5 11zm3 0zm13 0zm0 2zm8 4zm3-7zm3 5zm1 0zm3-2zm3 3zm1-2zm1 0zm7-2zm2-4zm1 6zm16-1zm6 0zm2 4zm0 5zm-3-2zm-10-2zm-1 2zm-1-2zm0 8zm-2-1zm-1-2zm-4-3zm0 3zm-3-5zm-1 5zm0 2zm-2-4zm-4 1zm-4 2zm-1-6zm0 2zm0 7zm0 0zm-4-9zm0 2zm-2 2zm-6-1zm-1-3zm0 1zm-2 5zm-8 3zm-13-1zm-1 5zm1-1zm3 2zm7 5zm1-1zm5-1zm2-2zm1-5zm1 9zm7-4zm3-3zm6 7zm3-4zm1 2zm1-4zm3 6zm2-5zm1-4zm2 2zm0-2zm2 1zm2 7zm0 1zm6-6zm3 1zm7-4zm19 6zm-18 4zm-10 9zm-7-7zm-4 4zm-3 0zm-1-2zm-3-1zm-1 5zm-2-2zm-1-4zm-1-1zm-1 3zm-5 1zm-3-1zm-6 0zm-3-1zm-5 6zm0-2zm-2-2zm-2 1zm-7-5zm-1 4zm5 9zm2-3zm6 5zm5 2zm4-7zm2 7zm8-3zm8-3zm1 2zm10-1zm0 4zm-2 3zm-17 5zm0-3zm-3 4zm-5 3zm-6-7zm-1 2zm0-2zm-1 5zm-1-5zm-4 5zm-2 0zm-1-4zm-3 5zm-3 0zm0-6zm-10 7zm-1 0zm-3-5zm6 7zm10 1zm19 0zm0 7zm1-6zm3 1zm4 3zm16 4zm-1 8zm-16-7zm-14-1zm-13 0zm24 13zm-147 292zm-12 2zm-13 5zm9-2zm3 5zm7-4zm1 4zm2-3zm2 0zm3 5zm2-7zm7 7zm2-7zm0 2zm3-2zm1 1zm15 17zm-8-9zm-5 9zm-1-4zm0-3zm-1 6zm0-5zm-2 6zm-8-6zm0 0zm-2 4zm-3-5zm-3 7zm-5-1zm0 1zm0-2zm-2-5zm0-1zm-1 4zm-2 2zm-6 2zm-1 0zm-2-2zm-1-7zm-1 7zm-2-1zm-1 1zm-1 5zm4 6zm1-5zm2-3zm1 7zm2 2zm0-9zm4 5zm5-3zm0-2zm4 9zm1-2zm4 0zm1-2zm0-5zm2 0zm1 1zm0 1zm2-1zm5 1zm10-2zm2 3zm7 13zm-14-4zm-2 5zm-4-4zm-2-1zm-1 3zm-6-5zm-6 6zm-2 1zm-4-5zm-4 2zm-4-1zm7 7zm0 1zm4 2zm1 1zm8 4zm3-7zm4 5zm0-4zm57 5zm11 11zm-1-2zm-2-4zm-1 6zm-1-1zm-4-7zm-5 4zm-9 0zm-4 1zm-9 14zm4-4zm1-3zm0 6zm0-4zm10 0zm2 4zm2 0zm13-8zm1 1zm1 6zm1 0zm1-2zm10 11zm-4-5zm-8 6zm-1 1zm-5-5zm-1-2zm-1 5zm-2-3zm-1 1zm-6 5zm0-8zm-1 6zm-2-1zm-1-6zm0 6zm-3-6zm0 4zm-5-4zm-3 7zm-2-4zm-3 6zm2 9zm3-5zm0 2zm4 0zm5 0zm0 3zm10-4zm3-4zm3 0zm2 1zm5 0zm7-1zm0 7zm6-4zm-6 10zm-5-3zm-1 2zm-5 6zm-7-8zm-1 8zm0-5zm-10 5zm-4 1zm-7-8zm4 9zm0 3zm1 2zm3-1zm4-4zm1 1zm5-1zm2 5zm1-3zm2 3zm6 3zm2-8zm0 2zm1 0zm3 5zm3-5zm-15 13zm-2-5zm-2 6zm-1 1zm-1-4zm10 8zm-2 11zm0 3zm-5-4zm-4 16zm9-4zm1-3zm-121 47zm4-3zm114 332zm-19-1zm0-3zm-1 1zm-9-1zm-1 3zm5 12zm10 3zm-2 1zm-28 15zm4 3zm46-4zm73 24zm19 6zm-9-2zm-8 6zm-12 0zm-7 9zm19 1zm20-4zm-14 14zm-2-7zm-1 3zm-11-3zm-13 6zm3 11zm2-6zm8 3zm10 2zm2 0zm-3 4zm-5 1zm-132 45zm-32-1zm-10 7zm1 0zm17 5zm2-9zm3 3zm20 0zm10 1zm0 7zm-11 7zm-9-3zm-4-1zm-5-3zm-1-1zm0 2zm-15 3zm-4 3zm-2-3zm-9-4zm-6 2zm152 776zm-36 10zm-22-7zm-7 1zm-1 6zm-2-3zm-6 11zm3-1zm7 0zm29-2zm1 4zm10-2zm3-6zm9 0zm3 4zm9 1zm6-2zm13 2zm1 4zm12 0zm1-2zm-20 6zm-23-2zm-13 5zm-3 0zm-26-5zm-5 4zm-15-5zm3 14zm28 0zm30 0zm4 4zm21-4zm4-4zm43 87zm8 9zm-17 2zm-10 0zm-9-3zm-25 3zm-4 1zm11 9zm17-7zm3 6zm22-2zm11-2zm-2 16zm-5-1zm-18-6zm-6 4zm-12 3zm-2-3zm0 0zm-6-2zm-2-3zm-3 8zm-1-8zm24 12zm3-3zm20 4zm7-1zm-14 11zm-23-2zm-9 0zm-1 0zm-1 1zm-10-3z"/>
<path stroke="#6e7c52" d="M508 648zm-28 8zm-2-2zm-6 11zm32-4zm7 1zm4 4zm-11 11zm-33-1zm-9 0zm22 6zm6 3zm3-2zm10 2zm16 1zm-12 4zm-16 5zm-14-4zm-7 9zm10 8zm13 0zm4-2zm2 2zm23-6zm-35 13zm-15 1zm-4 1zm-2 1zm-1-4zm-14 11zm16-4zm17 6zm0 4zm-11 1zm-15 1zm-10 1zm19 11zm5 0zm11-3zm1 4zm13 25zm-178 290zm1 6zm31-3zm-8 6zm-28 6zm-3-1zm-1 0zm2 7zm6 2zm5 3zm30 0zm4 2zm-27 6zm-1-4zm-7 11zm6 0zm82 11zm-1-1zm-7-1zm-16 15zm2-5zm21 4zm6 1zm3 8zm-10 5zm-5-3zm-7 0zm-5-4zm-15 2zm-5 10zm18-3zm2 0zm5 1zm18 10zm-22 7zm-9 1zm11 3zm2 1zm2 0zm14-1zm-9 8zm-8 7zm0-6zm0 14zm6 12zm-7-1zm-3 0zm94 427zm-3 14zm-11-2zm-12 12zm12-3zm2-5zm16 7zm13 2zm-4 1zm-17 4zm-14-3zm-6 1zm-7 1zm40 7zm-30 10zm-157 58zm11 0zm5-1zm13 8zm-47-3zm191 893zm15 11zm-34 11zm10 0zm30 1z"/>
<path stroke="#7e2a24" d="M286 201zm67 3zm28 14zm-35 1zm-4-1zm-49-1zm59 7zm2 4zm1-2zm0 1zm12-7zm5 1zm2 1zm13 0zm33 13zm-23 2zm-3 2zm-24-6zm0 3zm0-4zm-5 3zm-5-2zm-2 1zm-2-2zm-4 3zm-1-5zm-10 2zm-44 0zm-18-1zm-10 15zm7 0zm24-6zm2 4zm23-1zm3 5zm10-8zm3 5zm3-2zm1 4zm2-4zm1 2zm5-1zm7-1zm10 6zm1-6zm4 6zm19-2zm1-1zm22 1zm4-7zm2 1zm3 5zm16-2zm-15 9zm-25 6zm-16-7zm-14 2zm-5-4zm-3 8zm0-5zm-1-3zm-4 9zm-11-8zm0 3zm-3 5zm-4-2zm-13-1zm-9-4zm-38-1zm-6 8zm-3-9zm-12 11zm29 1zm45-2zm7 0zm0 0zm4 6zm8-3zm6-2zm40 13zm-8 0zm-27-3zm-80 6zm4 6zm7-1zm3 4zm0-3zm5 0zm14 5zm1-2zm3 2zm2-1zm4 2zm2 0zm1-7zm2 0zm6 7zm45-8zm9 7zm3-6zm11 6zm0-2zm3 0zm-14 4zm-9 3zm-34 1zm-4 2zm-1-5zm0 6zm-5 2zm-6-7zm-2 2zm-6 4zm0-6zm-4 0zm-3 0zm-2 7zm0-3zm0-6zm-1 6zm-1-5zm-2 0zm-3 5zm-2 1zm-8-4zm-2 3zm-4 0zm-13-1zm-5 7zm7 1zm1 3zm4-3zm4 2zm2 0zm0 3zm0-6zm4 2zm5-4zm1 3zm11-1zm2 5zm10-2zm1-4zm3 4zm2-3zm1 6zm7-8zm5 7zm8-3zm5 3zm7-4zm41 6zm2 5zm-6-4zm-2 9zm-3-9zm-9 0zm-30 5zm-9-2zm-8 6zm-2 0zm-7 0zm-7-2zm-3-6zm0 5zm-1 3zm-4-1zm0-5zm-2 1zm-2-3zm0 6zm-2-7zm0 4zm-14 2zm-2-4zm-4 0zm-2 7zm-8 0zm-3-5zm-4 5zm-7 3zm9 7zm0-8zm15 4zm10-1zm3-1zm2-3zm0 6zm8-5zm2 7zm2-8zm0 5zm0 0zm11 3zm2-4zm8 0zm7-2zm3 5zm10 0zm8-7zm5 2zm5 7zm0-7zm20 14zm-18 1zm-24-3zm0 2zm0 3zm-2-8zm-11 1zm-4 7zm0-3zm-4-5zm-1 5zm-2 2zm-8-3zm-2 3zm0-2zm0-5zm-1 1zm-9-2zm0 2zm-5 5zm-1 1zm-7-6zm-3 4zm-16 2zm-1 0zm-1-6zm-2 3zm-19-5zm28 10zm8 5zm7 2zm4 0zm2 1zm0-4zm2-4zm7 9zm1-6zm6 3zm1 3zm0-8zm2 2zm2 3zm0 1zm4 1zm9-2zm4 2zm2-8zm69 3zm17 1zm14 14zm-1-1zm-7-4zm-16-2zm-83 4zm-5-2zm-6 4zm0-2zm-2 4zm0-2zm-3-6zm0-1zm-2 1zm-2 7zm-1-3zm-1 1zm-2 2zm-1 1zm-6-8zm-3 8zm-3-3zm-4-1zm-3-4zm-3 1zm6 8zm6 3zm5 2zm12-5zm76 0zm39 2zm1 6zm25 1zm4-3zm-11 7zm-14 2zm-10 3zm-8-1zm0-7zm-13 3zm-176 243zm10 8zm2 15zm111 3zm27 7zm0-8zm4 5zm12-3zm2 5zm-9 5zm-4 2zm0-3zm-3-2zm0 7zm-6-4zm-3 1zm-4 3zm-1-3zm-1-2zm-6-1zm-5 4zm-13-5zm-5 8zm-110-2zm119 12zm22-8zm6 0zm4 0zm9 0zm6 8zm1-2zm3-5zm1 3zm-4 6zm-11 2zm-33 40zm-1 5zm-21-1zm-5 5zm44 5zm5-6zm-33 21zm9 7zm43-5zm7 5zm-13 6zm-34 1zm-30 13zm59-8zm-11 18zm-27 2zm-37 414zm2 9zm-13 17zm-4 24zm113 1zm-114 16zm71 5zm9-4zm4 1zm35 10zm-57 3zm6 11zm18-4zm10 4zm19-6zm7 7zm10-7zm-4 15zm-146 0zm132 12zm4 1zm-10 5zm-1 1zm-18 2zm-122 9zm5 1zm115-1zm12 12zm-4-6zm-81 4zm-5-1zm-2 4zm-28 1zm10 8zm4 0zm5 0zm18-8zm60 3zm27 4zm3-5zm-1 13zm-81-3zm-5 0zm-22 2zm11 7zm7 3zm75 215zm-30-3zm7 12zm44-8zm-58 10zm-1 14zm133 33zm5 16zm-7 19zm-158 938zm-2 9zm-21 0zm-17 0zm-29 1zm16 9zm18-4zm60 9zm-14 1zm-48 4zm-28-9zm-20 8zm6 5zm61-3zm7 8zm8-5zm16 16zm-26-7zm-13 7zm-13-3zm-45-3zm21 11zm36-3zm40 0zm-41 10z"/>
<path stroke="#8e5e96" d="M391 196zm-41 5zm50 8zm19-5zm4 8zm-2 7zm-2-5zm-67 10zm22 5zm41-2zm7-5zm7 0zm4 6zm1-3zm18-5zm17 8zm7 10zm-19 0zm-14-3zm-8-2zm-2 3zm-10 3zm-45-1zm-8-7zm-8 3zm-7 1zm-30 12zm24-2zm4 1zm8-2zm2 1zm14 2zm0-7zm6 8zm9-2zm35-3zm1 1zm5 1zm10 2zm57-4zm4 10zm-24 6zm-37-8zm-3 7zm-4-8zm-4 1zm-4 5zm-2 1zm-3 0zm-7-2zm-30-1zm-9 0zm-4 2zm-3-2zm-1 3zm-14-4zm-6-2zm-2 4zm-4 0zm-6 6zm2-1zm2 4zm7-2zm7 0zm43 2zm22-4zm10 2zm12-1zm25 0zm42 13zm-53-1zm-1 4zm0-2zm-100-5zm-15 15zm51 0zm14-2zm31-3zm28 7zm4 1zm1-6zm10 7zm7-4zm21 3zm14 7zm-59-1zm-36 4zm-22-4zm-5-3zm-38 4zm-32 0zm-26 8zm10 6zm11-8zm6 2zm64 2zm3 3zm1 0zm12-7zm16 1zm6 1zm12 2zm24-2zm17 5zm9-5zm21 4zm3 9zm-13-6zm-5 8zm-7-5zm-29-2zm-12 5zm-56 1zm-12-4zm-21-1zm-14 1zm-25 3zm-15 2zm-7 4zm10 3zm0 2zm2-1zm7-5zm7-1zm6 5zm4 4zm26-9zm40 3zm39-2zm22 6zm21-4zm9 2zm1-3zm30 7zm-20 1zm-85 0zm-1 4zm-5-2zm-23-1zm-31 4zm-25-2zm0 4zm-2-1zm-5 3zm-1-5zm-6 2zm-2-6zm-6 6zm0 2zm-4 1zm-2-3zm-27 4zm27 1zm6 1zm3 3zm0-3zm0 3zm2 2zm1-3zm6 4zm0-8zm0 3zm1 2zm2 0zm5 0zm9 2zm15-7zm69 4zm15 0zm56 4zm17-5zm-44 9zm-2 4zm-10-1zm-4 4zm-12 0zm-9 0zm-19-2zm-9-6zm-15 0zm-64 3zm-1-2zm0 2zm-6 4zm-2-4zm-3 5zm-7-6zm-1 5zm-1 1zm0-4zm-1-1zm-4-3zm-3-1zm36 11zm66 0zm0 2zm10 4zm25-1zm6-5zm25 4zm4-1zm-3 11zm-18 4zm-4 0zm0-7zm-5 8zm-53 216zm-13 13zm2-2zm2-2zm2-3zm0 6zm2-7zm4 7zm2-5zm1-1zm1 4zm1-1zm2 3zm2-5zm6-1zm0 7zm3-2zm6 7zm-1 1zm-1-5zm-3 6zm-7-1zm-4-5zm-2 8zm-1-2zm-1 1zm-3-5zm-1 6zm-6-7zm-4-1zm-4 7zm-1-6zm-5-1zm-116 15zm10 0zm121-3zm8 4zm0 2zm-138 7zm-5-3zm-4 12zm140 4zm25-5zm-4 7zm-5 1zm-14 7zm-5-7zm0 11zm4 2zm0-3zm11 10zm-3 2zm-164 6zm-22-7zm94 666zm-2-6zm-1 5zm-2-7zm0 1zm-1 7zm0-5zm-3 3zm-1 0zm-5 6zm2 6zm8 1zm14-1zm2-8zm1 1zm4 7zm2-5zm0 8zm-1 6zm-1-6zm-2 3zm0 4zm-10-4zm-5-2zm-4-2zm-5 6zm14 6zm19-1zm-4 357zm-11 6zm6 4zm25 3zm-8 4zm-42 880zm-4 0zm-2-1zm-5-1zm-11 9zm35 5zm18 2zm5-7zm21 17zm-7-3zm-8-1zm-18-5zm-41 2zm-17 11zm9 6zm64-6zm15 0zm-62 13zm-31-4zm126 48zm26 9zm-4 4zm-57 0zm0 6zm-27-9z"/>
<path stroke="#4e9090" d="M374 186zm5-1zm43 7zm-3 2zm-13 0zm-11-3zm-2-1zm-13 6zm-4-4zm-7 3zm-5 0zm-10 2zm-10 2zm13 9zm9-2zm21-2zm11-4zm-37 13zm69 8zm56 17zm-10-1zm-14-2zm-6 2zm-4 2zm-1-3zm-27-6zm-5 8zm6 8zm0-2zm16-4zm2 9zm7-7zm9 7zm4-2zm4-4zm2 3zm4 1zm5 1zm0-4zm1-3zm1 3zm3-3zm2 6zm5-6zm9 5zm12 11zm-10-2zm-33 1zm-4-5zm-10 0zm-8 1zm-2 1zm-3 5zm-1-1zm-3 1zm-2-3zm-5-4zm-7-1zm-7 7zm11 8zm11-2zm1 2zm7 3zm8-8zm8 8zm16-2zm2-5zm8 6zm8 0zm12-3zm1 2zm0 0zm-1 7zm-1 5zm-2-7zm-6 1zm-4 0zm-1 6zm-6-8zm-7 2zm-5 1zm-8 6zm-5 0zm-4-7zm-10 5zm-8-3zm-3 4zm0-4zm-1 3zm0-7zm-1 1zm1 17zm9-6zm6 0zm2 0zm0 2zm0 2zm2-1zm4-4zm2 0zm5-1zm2 0zm0 9zm1-9zm1 4zm2-4zm2 0zm1 6zm13-2zm6 1zm8-4zm6 3zm6 4zm0-5zm2 5zm2-8zm0 11zm-4 0zm-7 1zm-2 7zm-6-3zm0-1zm-1-1zm0-2zm0 3zm-5 3zm0 1zm-2-3zm-4 2zm-5-7zm-3 6zm-15 0zm-2-4zm-1-3zm0 4zm-2 0zm-5-2zm-10-1zm0-1zm-3 6zm-6 3zm0-5zm10 15zm1-6zm0 4zm33 2zm4-8zm2 6zm6-7zm3 0zm0 6zm16 2zm2-4zm3-3zm4 4zm2 0zm-14 7zm-18 6zm-1-7zm-4 1zm-13 2zm-6 5zm-5-7zm-6 0zm-8 9zm7-1zm3 4zm1 2zm8-4zm0-2zm10 4zm2 4zm13-3zm7 2zm6-4zm2-3zm16 3zm-3 12zm-12 0zm-6-5zm-12 9zm-6-6zm-2 3zm-9-6zm35 13zm2 5zm4-6zm-19 13zm-31-3zm-57 254zm-24 4zm-4 6zm4 11zm41 42zm3 0zm0-2zm3-4zm9 6zm1 2zm-6 7zm-1-8zm-4 5zm-2-2zm60 947zm-5 16zm-18-3zm12 14zm6 31zm-12-1zm25 951zm-36 6zm-19 10zm54 10zm-1 12zm-123 30zm-102 13zm27-1zm134-3zm1 3zm8-4zm9 3zm9 8zm-55-1zm-13 3zm-26-5zm-3 2zm12 7zm6 3z"/>
<path stroke="#3e2a92" d="M365 187zm20-4zm28 3zm20 13zm0-4zm-3 1zm-2 0zm0-2zm-5-2zm-8 6zm-13-6zm-3 6zm0-4zm-1 4zm-1-4zm-3 2zm-2 0zm-3-4zm0-1zm0 5zm-2-4zm-1 5zm-5-1zm-6 3zm-8-2zm-13-4zm0 1zm-4 1zm0 2zm4 8zm9-3zm7 5zm2-2zm0-1zm1 1zm29 2zm2-1zm5 1zm1-2zm2 2zm2-1zm10-6zm16 10zm-7 7zm-51-7zm-28 2zm66 15zm17-1zm1 2zm2 4zm-6 6zm-8 1zm-14 8zm72-3zm-2 8zm-20 2zm-6-2zm-28 3zm-7-5zm-36 18zm34-8zm10 5zm53-4zm15 2zm5 4zm15 9zm-9 3zm-41-9zm-49 0zm-34 2zm12 14zm7-2zm8 4zm20-8zm8 9zm25-2zm7-4zm1-2zm19 7zm24 9zm-1-1zm-10 3zm-2-9zm-2 4zm-6 5zm-1-7zm-21 6zm-17-2zm-63-1zm32 5zm12 6zm3 3zm14-7zm18-2zm4 9zm26-8zm3-1zm2 6zm3 6zm-2-1zm-2 2zm0 4zm-9 2zm-1-3zm-6-6zm-15 2zm-93 2zm66 9zm25 1zm3-3zm1 7zm14-1zm13 0zm-15 8zm-25-4zm-78 1zm-65 13zm90 2zm10-2zm20 0zm1 3zm68-4zm5 0zm7 3zm0-3zm7 3zm-10 8zm-67 0zm-6 1zm-3-6zm-13 5zm-10 2zm-7-7zm0 13zm1 6zm0-9zm29 4zm6 3zm18-6zm12 7zm1 1zm14-8zm7 3zm-38 11zm-10 3zm-15-4zm-5-1zm-2 1zm-33-3zm46 9zm3 1zm-51 218zm-2 14zm-6-3zm-9 9zm-2-1zm21 5zm5-3zm97 34zm-27-3zm-53 10zm12 4zm4 0zm0-3zm59 1zm-27 13zm-24 0zm-9-2zm0-3zm-1 4zm29 24zm19 22zm-8 19zm-148 345zm92 61zm-44 8zm20 38zm-7-2zm9 21zm-90 118zm9 8zm-4-2zm-2 2zm-9-7zm-3 9zm-2-3zm12 18zm164 277zm-5 10zm8 2zm7-1zm4 3zm-3 10zm-28 3zm7 4zm25 1zm-3 13zm-156 43zm-42 10zm37-5zm4 3zm26 3zm-72 894zm12 5zm17 14zm189 9zm-228 3zm1 14zm36-3zm162 6zm-96 26zm-3 0zm-75 9zm11-7zm5 2zm1 5zm85-6zm26 2zm-63 9zm-5 5zm-7-1zm-25-6zm-17 7zm-61-4zm67 8zm19 5zm12-3zm0-3z"/>
<path stroke="#151515" d="M394 214zm-10 4zm-67 11zm26-2zm19 1zm21-5zm3 3zm11 0zm7 2zm2 4zm-7 2zm-2-3zm-8 0zm-4 1zm-2 0zm-7 1zm-3-3zm-1 5zm-32 0zm0 3zm-8-7zm14 13zm8 5zm12-8zm10 5zm1-6zm5 6zm4 3zm6-8zm13-1zm-9 10zm-68 7zm56 8zm5 13zm-72-3zm72 7zm2-2zm1 2zm0 6zm3-4zm1 4zm1-6zm4 4zm1 1zm3-1zm6-1zm5 2zm-16 12zm-3-9zm-1 2zm-3 0zm-3 1zm-92 3zm81 7zm10 4zm4-7zm4 2zm16 1zm18 8zm-5 4zm-7-5zm-13 9zm-10-8zm-5 0zm-2 8zm-7-2zm22 3zm6 1zm9 1zm-15 8zm-5 0zm-14 6zm2 5zm2-1zm4 5zm-147 261zm2 7zm-5 6zm-13-8zm1 13zm3 1zm2 4zm2-1zm2-5zm2 2zm0 1zm2 1zm0 1zm0-4zm6-2zm1 5zm2-2zm8 2zm1-1zm6 0zm87 2zm5-4zm2 4zm0-1zm37 10zm-26 0zm-3-5zm-1 4zm-1 2zm-5-6zm-1-2zm-2 6zm-1 1zm-2-6zm-2 6zm-1-2zm-97-2zm0-2zm-3-1zm-3 1zm0 8zm-4 0zm-2-8zm-4 4zm0-1zm-1-4zm-1 3zm-5 0zm-2 2zm0 4zm-3-3zm2 12zm0-5zm2 1zm0 4zm2-2zm3 0zm1 0zm1 3zm1-9zm2 5zm3 2zm1-6zm1-1zm4 2zm0 0zm1 0zm2 6zm87 1zm3-9zm11 7zm1 2zm0-4zm4 2zm0-6zm4 3zm0 4zm1-8zm5 0zm4 0zm1 6zm1 2zm32 0zm-21 7zm-1 4zm-10-9zm-2 5zm-1 4zm-1-2zm-5-4zm-1 4zm-3 1zm0 1zm0-5zm-4 5zm-1-5zm-6-3zm0 7zm-6-1zm0 2zm-3-4zm-3-1zm-4-1zm-81-1zm-9 4zm0-2zm-1-2zm-1-1zm-2 1zm-10-2zm-1 9zm-1-9zm-1 9zm-1-3zm-1-2zm-4 1zm-9 12zm2 2zm10-5zm120 0zm1-4zm8 4zm1-1zm1 3zm1 3zm3-5zm2-2zm5 5zm0-1zm3-4zm1 5zm0 1zm2-7zm2 3zm2-2zm1 10zm-7-2zm-10 6zm-4-2zm-5 0zm-1 3zm-10-5zm-108-2zm-5 3zm-6 0zm0-1zm-1-2zm0 7zm-1-2zm-2-3zm0 1zm-1-2zm0 7zm-2-6zm0 2zm-9 3zm0 1zm-3 2zm8 6zm2-2zm1 5zm3 0zm4-4zm6-5zm117 0zm16 5zm2-2zm46 23zm-86 459zm-1 7zm-2 7zm0-3zm-2-3zm-1 5zm-2 1zm-2-5zm0 15zm3-3zm0-6zm-5 16zm-1 0zm-5 3zm-1 3zm1 4zm6-5zm-1 9zm-5 9zm-3 0zm0-8zm-1 0zm-1 5zm-1 5zm4 5zm2-6zm0 3zm-6 14zm-1-1zm-4 0zm-2-4zm-3 4zm-3 0zm-2 2zm-7 1zm-3 7zm0 2zm1-5zm0 4zm6-1zm10 2zm0-1zm1 2zm3-9zm2 4zm0 5zm1-5zm0-2zm2 3zm0 0zm3-1zm3 3zm0 10zm-2-2zm-2-1zm-1-3zm0 6zm-2 0zm-1-6zm0 0zm-2 3zm-4 2zm0 1zm-3-5zm0-2zm-6 8zm-2 1zm-3-1zm-7 5zm1 1zm4 3zm1-3zm2 3zm2-4zm6 1zm1-4zm1 2zm2 5zm2 2zm1-6zm2-3zm1 2zm0 1zm1 6zm2 0zm3-9zm0 7zm0-3zm1 10zm-5-3zm-3-1zm-2 0zm0 1zm-5 7zm0-4zm-4 4zm-3-5zm-1 0zm-6 0zm6 11zm3 0zm8-1zm1 4zm0-2zm2-1zm2-4zm2 0zm0 0zm-2 19zm-17-8zm-1 2zm-1 5zm-3 1zm0-1zm-7-1zm-1 9zm0-1zm7-2zm1 5zm1-5zm-2 7zm-1 5zm-1-4zm-3-1zm0 4zm-2-3zm-4 18zm2-1zm1-8zm4 0zm-1 19zm-2 0zm0 0zm0-5zm-1 4zm-1-5zm-2 3zm-1-5zm-1 0zm-1 5zm4 4zm3 1zm2 4zm2 4zm4-1zm2 0zm1-7zm107 225zm-43 15zm47-1zm3 0zm-24 12zm-10 2zm21 7zm-20 456zm-28 38zm44 421zm-8 6zm105 5zm-58 5zm-3 3zm-8 7zm100 104zm-45 6zm-5 5zm-10 6zm23 6zm-5 7zm-25 34zm-99 1zm-45 7zm133 2z"/>
<path stroke="#cdbe4a" d="M249 778zm-4 1zm0-1zm-6-3zm0-2zm-1 6zm-4-4zm-2 3zm-3 0zm-2-2zm0-2zm-7 10zm4 1zm5-3zm4 5zm5-6zm2 1zm2 2zm0-4zm2 9zm-5 5zm-3-2zm0 2zm-1-3zm-3 2zm-2-1zm-4 2zm-3-3zm204 26zm-1 2zm-9-3zm-2-2zm-6 5zm-58-7zm-3 5zm-22 12zm1 0zm0 0zm2-1zm0 0zm2-3zm0 3zm3-1zm1-5zm4 4zm0 0zm3 3zm6-6zm1 3zm0 0zm0-3zm1 6zm0 0zm1-8zm2 5zm0 2zm1-4zm2 5zm3-2zm1-1zm7 0zm0 2zm4 0zm3-1zm32-5zm7-1zm1 2zm2 2zm0-3zm0 4zm4 2zm7-1zm1-5zm2 5zm-4 4zm-4-1zm-3 4zm-3 2zm-7-6zm-5 0zm-24 3zm-2-2zm0-1zm0 1zm-3 8zm-1-2zm-1-3zm-2-3zm-3 6zm-2 1zm-1 0zm-6-7zm-5 7zm-1-3zm-1 1zm-1-1zm-1-3zm-6 2zm0 2zm-1-1zm-2 1zm0-3zm-3-1zm0 1zm-2 2zm-1-3zm-1 2zm-4-1zm-2 1zm-1-4zm0 2zm-4 0zm-1-2zm0 9zm-6 0zm-6-5zm-5 1zm8 7zm0 4zm1-4zm2 4zm1 2zm1-6zm0 2zm5-1zm3 0zm1-3zm0 4zm3 4zm0-7zm0 8zm2-4zm2 3zm1-2zm3 0zm1-4zm0 5zm1-2zm0-3zm1 7zm3-6zm2-1zm0 4zm1 3zm1-6zm0-3zm0 8zm0 0zm1 1zm1-1zm2 0zm3-5zm1 3zm2-6zm0 5zm2-2zm4 1zm1-4zm2 4zm0-4zm2 4zm1 2zm1-3zm11 2zm6 4zm-11 3zm-1 7zm0-4zm-1-2zm-3-1zm-4 0zm-1 4zm0-5zm0 5zm-3-6zm0 9zm0-3zm0-1zm-1 4zm-3 0zm-1-2zm-1 1zm-1 1zm0-2zm-2-6zm-1 8zm-1-8zm-2 1zm0 0zm-4 5zm-1-7zm0 2zm0 7zm-2-4zm-1-1zm-1-3zm-1 2zm-2-1zm-5 7zm-1-8zm-2 0zm-4 0zm-3 3zm0 5zm-1-9zm-6 7zm-4-5zm7 13zm2-5zm7 9zm3-9zm2 4zm7 4zm4-3zm1-4zm0-1zm4 4zm8-2zm1 7zm9-5zm3 3zm1-3zm-3 15zm-6-8zm-1-1zm-1 2zm-4-2zm-1 1zm-1 2zm-1 0zm-5 1zm-2 1zm0 3zm0-8zm-1 0zm0 0zm0 8zm-2-1zm-1 0zm-2-6zm-3-1zm-1 0zm0 6zm-4-6zm-2 2zm-2-2zm1 12zm10 3zm0 1zm92 139zm5 3zm0-3zm6 3zm1 0zm1 10zm-4-8zm0 3zm-2 3zm-3 1zm-1 2zm-2-9zm-3 8zm0-4zm0-3zm-2 2zm-1 4zm0-3zm-1 5zm0-5zm-1-1zm0 9zm1 3zm5 0zm5-2zm0 0zm3 3zm0 2zm2-3zm1 1zm0-1zm1-5zm2 2zm2 0zm0 9zm-3-1zm-4 4zm-5 0zm-2 2zm-3-6zm0 0zm85 74zm-35 21zm2-1zm10 1zm1-4zm4 2zm0 0zm1 4zm1-7zm2 9zm4-4zm1 3zm1 1zm1-9zm2 6zm3 1zm1 2zm1 0zm7-1zm10 1zm-8 10zm-5-7zm-6 3zm-1-5zm-1 2zm-1-2zm-1 2zm-1-1zm-3 5zm0-2zm-5 1zm0 3zm-3-3zm-1-4zm-2 3zm-1-1zm-1 2zm-2 3zm0-4zm-2 0zm-7 3zm-1-6zm0 2zm-2 5zm-2-4zm-1 5zm-3 7zm11-4zm0-2zm2 8zm1-6zm0 2zm2-3zm1 3zm2-4zm2 5zm1-3zm1 7zm3 0zm0-4zm2 3zm1-4zm1 1zm1-3zm0 0zm2-2zm4 8zm0 1zm4-8zm2 6zm0-7zm1 9zm1-8zm2-1zm1 5zm2 1zm2-5zm2 7zm7 10zm-3-1zm0-5zm-1 1zm-5 6zm-3-4zm-3-2zm-5 4zm-2-2zm0-4zm0 2zm-1 1zm-1 4zm0-2zm-2-2zm0-4zm-1 6zm-1 1zm-3 0zm-1-3zm0 4zm-1-5zm0-1zm-3 0zm0 6zm-1-1zm0-1zm-1 3zm-1-3zm0 1zm-3-4zm0-1zm-1 3zm-1-2zm-1-3zm0 9zm-1-1zm-2-2zm0-2zm-4-2zm0-2zm0 6zm-1-2zm-1-4zm0 2zm0 1zm-1-2zm-6 7zm-2-4zm-4-2zm9 8zm7 0zm1 2zm5 3zm0-5zm1 8zm2-2zm0 1zm1-5zm1 6zm1-8zm1 4zm0 0zm0 3zm0-4zm2 0zm0 1zm1 5zm0-7zm0 4zm0-3zm1-2zm0 3zm1-3zm1 1zm0 0zm2-1zm1-1zm1 3zm1-1zm0 6zm2-7zm3 8zm2-5zm5 1zm2 0zm3-2zm3 3zm3-4zm0 7zm8-4zm-10 6zm-1 0zm-1 2zm-2 6zm0-4zm-2-1zm-7-1zm0 2zm-5 0zm-1-4zm-1 5zm-3-4zm-2 2zm-1-2zm0 0zm-2 6zm-2 0zm-1-7zm-1 6zm-1-6zm-3 4zm0-3zm-4-2zm-2 7zm-1-6zm-4 7zm0-8zm-2 2zm-3 1zm-2 5zm0-6zm-11-1zm11 12zm1-2zm10 2zm3-2zm1 2zm2 0zm7 0zm1 0zm3 3zm0 2zm1-2zm3-3zm2 4zm3-2zm0-5zm1 2zm1 7zm1-4zm0 0zm3-4zm1 5zm6-5zm1 7zm2-2zm1-6zm1 1zm1 5zm-5 7zm-5 3zm0-1zm-1 2zm0-5zm0-2zm0 3zm-5 1zm0 1zm-1-3zm-2 0zm-6 7zm-1-2zm-1 1zm0-2zm-2 3zm-3-7zm-18 3zm-7 3zm-1-3zm-1 0zm-2 1zm-2-1zm-8 12zm1-2zm5 0zm2 1zm0-5zm1 4zm0 4zm1-6zm1-1zm0 2zm6 1zm0 4zm1-5zm0 1zm0 2zm4-6zm5 4zm5-4zm1 1zm5-2zm5 0zm0 4zm3 0zm-12 14zm-7-8zm-2 1zm-1 7zm-5-6zm0-2zm0 2zm-2 6zm-2-1zm-1-6zm-6-1zm0 8zm-1-2zm0-3zm-1 0zm-2 9zm3-2zm2 2zm15 4zm-80 337zm-40 15zm96 136zm36 8zm-28 26zm25-1zm1-2zm2 4zm1 7zm0-4zm-4 5zm0-7zm-1 4zm0 5zm-1-1zm-2-8zm0 0zm-1 7zm-1-3zm-3 4zm-1 1zm-1-4zm1 5zm1 8zm3 1zm2-7zm1 1zm0-2zm1 5zm2-3zm3-3zm0 9zm1-2zm2-5zm0 3zm2-2zm20 16zm-5 0zm-1-4zm0 1zm-16-4zm-6 3zm0 3zm-1-1zm-1-6zm-1 4zm-2-2zm0 4zm-1 1zm-4-8zm0 4zm-2 3zm-1-6zm-2 2zm0-1zm-1 0zm-1 6zm-3-1zm-3-1zm0-4zm-1 0zm-2 0zm-3-2zm0 9zm0-1zm-12-3zm-6 4zm-13 8zm6 2zm2-4zm2 1zm1-5zm0 7zm1 1zm1-3zm2 0zm1 2zm1-8zm0 4zm3 2zm2-2zm2 3zm1-3zm2 3zm0-7zm2 0zm1 4zm1-2zm1 2zm0 4zm1-8zm1 4zm0 5zm2-3zm0-4zm1-2zm1 6zm0-2zm0 0zm2 5zm6-1zm1 0zm16-4zm0 0zm4 3zm1 1zm1-2zm9 3zm1-2zm3 1zm1-1zm0-6zm0-1zm0 1zm0 2zm1 6zm0-1zm1-5zm0-3zm0 4zm2-1zm1-3zm0 3zm0 5zm3-2zm0 2zm0-8zm-3 17zm-2-7zm-2 3zm-8 3zm0-6zm-4 2zm0 6zm-1-4zm-1 1zm0-5zm-1 6zm-2-3zm-1 2zm-1 4zm-5-6zm-2 5zm-4-1zm-4-2zm-3-1zm-1-3zm-1 0zm-3 1zm-6 2zm-3-1zm-5 6zm-2-1zm-2-5zm0 1zm0 1zm-2 4zm0 0zm0-6zm0-1zm-3-2zm-5 5zm0 4zm-1-9zm0 5zm-2-4zm-2 4zm0 3zm-3 1zm-2-5zm-3 4zm-2-1zm-2-1zm0 8zm0 3zm2-4zm3 0zm1-2zm1 6zm1 2zm0-4zm0 0zm2 3zm1-2zm2-3zm0 2zm2 2zm2-7zm0 7zm1-1zm3-5zm0 5zm3-3zm0 6zm1-9zm2 6zm17 3zm0-3zm1-3zm4 6zm1 0zm1-7zm2 6zm5-5zm1 4zm3-5zm0 6zm0-5zm1 1zm2 4zm2-2zm0-5zm2 1zm1 7zm1-1zm0-6zm0 0zm1-2zm5 4zm3-1zm1 3zm1-4zm0 5zm0 0zm1 2zm1-7zm1-1zm0 5zm1-6zm5 7zm1 0zm5 6zm-4 1zm0 1zm-2-1zm-1-2zm-3 0zm-1-2zm-1 2zm-1 2zm-1 1zm-1-2zm-1 6zm-1-1zm-1-1zm-1-7zm0 6zm0-2zm0-2zm-2 0zm-1 5zm0-7zm-1 8zm-2-6zm-1 2zm-1 0zm0-1zm-1-3zm0 8zm-2-3zm0-3zm-1 0zm0-2zm0 9zm-4-4zm-1 3zm0 1zm0-5zm-2 1zm-1-1zm-5 3zm-1-3zm0 5zm0-2zm-2-3zm-1-3zm0 0zm-1 2zm-2-2zm-2 2zm-4 1zm-6-4zm-3 1zm-5-1zm-2 8zm0-7zm0-1zm0 8zm-1 0zm-1-5zm-2 3zm-1-5zm-1 6zm0 1zm-2 0zm0-8zm-1 7zm-3-4zm-1 4zm0-6zm-1 8zm-2-8zm-7 8zm-1-8zm0 3zm5 7zm4 5zm1 2zm3-3zm2 2zm0 2zm0-4zm3 0zm1-2zm3-2zm1 1zm1 0zm0 4zm1-6zm12 2zm4 2zm5-2zm3 1zm3-2zm0 0zm0 3zm5 3zm2 2zm1-4zm0-4zm4 1zm1 2zm5-4zm1 1zm1 3zm0 5zm0-8zm1 5zm2-6zm1 4zm1-4zm4 4zm0 2zm1 0zm2 2zm2 1zm2-5zm-10 6zm-8 6zm-5-6zm0 1zm-3 3zm-3 0zm-2-2zm-5-2zm-2 0zm-27 0zm-3 0zm28 23zm-1-1zm-1-1zm-1 3zm-140 130zm4 5zm0-1zm0 1zm1-1zm0-4zm2 2zm2 2zm3-6zm2 4zm43 1zm4 6zm-8 1zm-1-2zm0 3zm-5 3zm-1-2zm-7 2zm-4 1zm-21-6zm-2-3zm-2 9zm-2-7zm-1-2zm-1 2zm0 1zm-3 5zm0-1zm-22 9zm24-4zm0-1zm1 3zm2 1zm15-2zm9-1zm2-1zm9 1zm15 10zm-35 17zm12-2zm-14 12zm-22-9zm-7 0zm-16 9zm-19-5zm-14 8zm30 4zm24 3zm48-7zm3 14zm-30-1zm-1-5zm-61 7zm15 3zm42 5zm52 3zm-60 6zm-40-1zm121 13zm1-4zm13 5zm55 11zm-4 1zm-4-1zm-42-7zm-11 2zm-21 9zm29 2zm4-1zm9 4zm17-2zm1 2zm1-3zm1-3zm4 4zm4-2zm4 5zm8-5zm1 1zm7 0zm2 4zm1 1zm4 10zm-47-7zm-2 3zm44 9zm2 0zm4 1zm8 4zm-2 9zm-4-8zm-5 9zm-13 8zm0-5zm2 5zm1 1zm2-4zm0 3zm3-6zm1 4zm1 3zm2-7zm5 6zm2-3zm1 3zm1-6zm0 2zm1-1zm1 7zm1-5zm1 2zm0-4zm1-2zm1 1zm1 0zm2-1zm0 5zm1 1zm2-1zm0 1zm1-5zm1 8zm1 0zm8 10zm-4-6zm-1 4zm-2-5zm0 2zm0 5zm-1-3zm-1 2zm-1-8zm-1 1zm-4-1zm-2 4zm-1 4zm0-1zm-1 0zm-1-7zm-2 4zm-1 1zm-3 3zm-1-6zm-3 5zm-2 1zm-1-2zm-5-4zm0 6zm0-8zm-1 7zm-1-6zm0 3zm0 5zm-1-6zm0-3zm-1 5zm-4-1zm0 2zm-5 3zm-6-5zm13 9zm1-1zm2-2zm2 8zm1 1zm5-3zm1 3zm1-2zm2 1zm0-4zm3 2zm0-3zm3 5zm0-1zm1-4zm4 0zm0 0zm4 6zm0-7zm1 1zm2 1zm0 2zm6-6zm2 8zm-11 2zm-1 0zm-6 1zm-2-1zm-7 2zm-3 2zm-2-3zm-4 3zm-1 4zm-1-5zm0 6zm-3-2zm0-4zm-4 3zm0 2zm-1-3zm-1-5zm0 4zm1 12zm9-4zm1 2zm0 0zm2 2zm-28 25zm-1 0zm-2 1zm-82 283zm6 9zm26 21zm-49 220zm29 10zm-12 1zm-7 1zm-2 0zm0-3zm-6-1zm-7 5zm-8-3zm-5 3zm-14 3zm1 6zm6-5zm1-2zm0 5zm0-4zm2 2zm2 2zm2 0zm3-2zm7 5zm2-5zm1 4zm2 2zm0-1zm2-4zm1 4zm5 1zm6-1zm0-6zm3 4zm2-6zm1 0zm3 6zm2 2zm0-6zm3-1zm4 8zm1-6zm1 3zm1 3zm0-6zm0-3zm2 1zm27 3zm-1 12zm-7 3zm-7-8zm-13-1zm-2 6zm-2 2zm-4-3zm0-4zm-1 5zm-2 0zm-7-2zm-1-3zm-4 8zm-7-3zm0 0zm0 0zm-6 2zm-1 1zm-6 0zm-8 0zm-1-9zm-1 5zm-2-3zm-7 1zm-4 5zm0 1zm-4-5zm0 2zm-2 11zm2-1zm1-2zm1 3zm2-1zm4-4zm1-1zm2 1zm4 5zm4-3zm5 5zm3-2zm9-1zm0-5zm0 6zm5-4zm2 1zm5-2zm2 4zm1 0zm0-1zm3-1zm3-2zm0-1zm0 6zm1-3zm4 0zm2-2zm2 3zm1-1zm1 1zm2-1zm8-1zm3-3zm0 9zm0-7zm3 0zm0-2zm3 2zm0 0zm4 3zm1-2zm-5 11zm-1 0zm-6 0zm-2-3zm-4 4zm-4 1zm0-2zm0-4zm-5 8zm0 0zm-1-5zm-14 1zm-2 1zm-1 4zm-2-3zm-2-4zm-1 3zm-3-1zm-2 2zm-1 0zm-2-4zm-3 0zm0-1zm-2 8zm-5-8zm-6 3zm-8 1zm-10-3zm-35 0zm0 4zm0-4zm-5 3zm-2-5zm-4 6zm-5-1zm60 6zm4-1zm6 0zm2 4zm3-1zm4 1zm0 3zm2-7zm1 8zm3-3zm0 0zm1-2zm1-3zm5 8zm3 0zm2-4zm5 2zm5 2zm4-2zm1-4zm1-1zm9 0zm1 4zm1-5zm-7 14zm-5 2zm-2-1zm-12 3zm18 7z"/>
<path stroke="#7d6433" d="M272 209zm40 9zm-23-2zm-3-1zm-1 0zm-2 1zm-13 11zm3-6zm0 8zm1-8zm2 7zm0-7zm3 3zm2 0zm4-4zm1 9zm1 0zm1-4zm2-2zm6 6zm0-8zm1 8zm8-5zm1 2zm1 3zm3-5zm4 2zm3 0zm2 8zm-2-4zm-5 6zm-1 3zm0-8zm-3 2zm-5 3zm0-3zm-3 2zm-14-2zm-1 5zm0-5zm-2 5zm-6-8zm-5 3zm-2 2zm-3-4zm0 4zm-4 0zm-1 4zm0-3zm0 9zm1 2zm1 0zm3-7zm1 6zm0-2zm1-3zm0 6zm12-3zm2 5zm0 0zm0-6zm3 3zm0 3zm1-5zm0-1zm7 0zm2-1zm0 2zm1 3zm2-5zm5 4zm2-4zm1 7zm9-1zm3-2zm5 7zm-2 0zm-2-1zm-4 5zm0 1zm-8-2zm-2-5zm0 6zm-6 2zm-3-2zm-3 2zm0-1zm-1-3zm-3 1zm-6-2zm0 4zm-1-6zm-4-2zm-9 0zm-3 3zm-2 1zm-1 5zm-2-3zm-7 12zm7-1zm2-3zm5-1zm2 6zm1-4zm6 0zm1 4zm2-5zm1 3zm1-6zm2 4zm3-4zm2 2zm0 0zm0 0zm1 6zm1-1zm1 1zm0-3zm4-2zm3 4zm4-3zm8 0zm7-4zm0 5zm0 2zm2-1zm2-3zm3 7zm-7 6zm0-3zm-7 5zm-1-2zm-4 0zm-1-7zm-1 7zm-5-4zm-1 6zm-1-9zm0 8zm-2-4zm-2 1zm-1 0zm-1-1zm-1 0zm-4 0zm0-4zm-4 0zm-3 1zm-2 3zm-9 3zm-2-6zm1 15zm7 2zm1-2zm5 2zm1-5zm1 1zm2-4zm1 0zm1 7zm1-4zm5-2zm7 3zm1 4zm1 0zm2-5zm4 2zm1 0zm4-4zm8 5zm2-4zm4 7zm1-8zm26 7zm1 9zm-13-5zm-44 7zm-1-5zm0 5zm0-3zm-2-4zm-7 7zm-2-9zm-3 4zm-5-4zm-4 12zm18-2zm5 8zm1-5zm59 10zm-31 5zm0 1zm-18 5zm15 0zm44-3zm-27 17zm-7-3zm-24 1zm23 5zm21 4zm-4 7zm-26 2zm50 354zm16 5zm-1 3zm-9-3zm-5 4zm-10-2zm-10-4zm-3 8zm-4-3zm-2-1zm-4 0zm-22 10zm8 1zm1-6zm2 3zm0-2zm2 8zm10-2zm0 1zm14-2zm17-1zm4-5zm0 2zm1 2zm0 3zm3 0zm8 0zm1-3zm4 0zm1 2zm3 1zm2-1zm5 3zm39 0zm21 0zm-9 8zm-9-6zm-33 7zm-5-2zm-6-1zm-2-2zm-4 2zm-2-4zm-5 8zm-2-9zm-1 4zm-1 4zm-1-2zm-1-6zm0 7zm-3 1zm-7-2zm-8 1zm-1-3zm-1 1zm-1-4zm-5 0zm0 1zm-3-2zm-2 0zm-1 9zm-4-8zm-5 4zm0 1zm-9-1zm-5 3zm-2-8zm-2 7zm-3-7zm0 9zm0-6zm-1 6zm0-5zm-1 1zm-3 9zm10 4zm3-2zm0-1zm5 3zm4-5zm1-3zm0 3zm2-1zm1 2zm1 2zm1 0zm4-2zm12-4zm1 8zm0-7zm1 5zm1 0zm3 3zm2-9zm5 1zm0 0zm5 6zm1-3zm0-2zm3 5zm1-1zm1 3zm1-4zm8-1zm1-3zm2 3zm3 3zm0-5zm1 4zm0 0zm7-3zm2 4zm64-3zm-50 7zm-6 6zm-4-6zm-18 1zm-1 0zm0-2zm-1 7zm-1-6zm-2 4zm0-5zm-3 8zm-1-2zm-1 2zm-2-4zm-3 0zm-1-4zm-3 9zm-2-1zm-5-2zm-1 3zm-2-3zm-1 0zm0-5zm-1 5zm-2-3zm0 0zm0-3zm0 0zm-1 2zm0-2zm0 0zm-1 0zm-2 5zm-3-3zm-3-1zm-1 4zm0-3zm-4 5zm-1-5zm0 6zm-1-5zm-1-1zm-1 6zm-1-7zm-4 7zm-1 1zm0-1zm-2 1zm0-6zm-1-1zm-2 0zm-3 7zm-6-4zm-7 1zm-3 1zm-10 11zm7-3zm17-3zm1 0zm14 2zm1 3zm2-2zm1-5zm2 1zm2 7zm1-5zm1 0zm1 1zm4 4zm2-7zm3 0zm3 4zm5-3zm0 2zm1-1zm3 1zm1-4zm2 3zm1 3zm3 1zm4-1zm0-2zm1-4zm0 9zm4-9zm2 7zm3-1zm1-3zm6 2zm3 3zm2-2zm5-4zm-11 9zm-1 3zm-1 0zm-2 1zm-6-5zm0 8zm-1-8zm-6 3zm-5 5zm-3-1zm-3-2zm-3-3zm-2 2zm-8 2zm0-5zm-11 8zm-4-3zm-2-2zm0-3zm0 3zm-10-1zm16 9zm4-1zm6-1zm1 5zm14-5zm3 6zm10-5zm0 2zm-10 459zm5 7zm12-3zm7 1zm10 1zm13 5zm-8 1zm-18-3zm-5 7zm-2 1zm-2 0zm-1-1zm-5-2zm-2-5zm-7 7zm-12 10zm6-1zm0 0zm3-5zm2 1zm8 2zm5-3zm9 6zm10-4zm1 5zm2-8zm2 8zm2-3zm11-2zm1 7zm-5 2zm-5 3zm-8 0zm0 0zm-4 1zm-1 0zm-2-4zm-1 3zm-6-5zm0 2zm-2-2zm-1 1zm-8 0zm-3-1zm-1 5zm-1 0zm-8-4zm-1 6zm-1-1zm-13 2zm3 5zm0-4zm7 6zm3-5zm6 5zm1-1zm6-1zm7-4zm1 8zm1-7zm0 4zm2 1zm0-2zm5 1zm2 3zm1-1zm8-4zm3 5zm4-1zm1 2zm6-5zm2-1zm15 9zm-12 6zm-1-2zm0-5zm-9 5zm-2 0zm-1-6zm-1 9zm-7 0zm-2-3zm-2-4zm-1-1zm-1-1zm-3 6zm0 2zm-5-7zm-2 7zm-1-8zm-4 2zm0-1zm-2 4zm-1 2zm-14-3zm-3 4zm-3-4zm0 8zm1 0zm0 5zm2 2zm2-7zm1 5zm7-2zm7-5zm1 7zm20 2zm0-2zm1-1zm0-5zm1 6zm2-6zm2 6zm4-4zm2 1zm2 4zm1-2zm3-4zm1 5zm3-4zm4 2zm2-1zm1-2zm2 4zm5 0zm-9 10zm-1 2zm-4 0zm-8-4zm-7 2zm-1-1zm-3 0zm0-5zm-5 6zm-1-2zm0-1zm-6 4zm-3-5zm-3 4zm0-3zm-1 6zm-3-4zm0 1zm-13-5zm-1 5zm-2-5zm0-1zm-1 9zm0-6zm-4 1zm0 8zm0 1zm2 1zm4 5zm5-6zm5 0zm5-2zm1 5zm2-3zm1 4zm0 2zm2 0zm5-7zm4 0zm7 6zm3-1zm9-6zm6 8zm10-3zm-5 8zm-2-1zm-7-2zm-1 6zm-1-6zm-1-1zm-2 8zm-2-1zm-2-1zm-2-4zm-8-2zm0 4zm-8 2zm-6 3zm0-6zm-2-3zm-2 3zm-11 5zm1 7zm0-4zm2-1zm1 5zm0-5zm1 8zm3 0zm10-4zm1 2zm0-2zm10 4zm2 1zm2-7zm6 6zm5-6zm19 4zm-20 6zm-8 3zm-3-1zm-2 4zm-5-4zm-4 1zm-3 0zm0-4zm1 218zm13 9zm-4 0zm-13-5zm-10-1zm-19 16zm1 1zm16-4zm22 0zm2-1zm4 4zm2-5zm7 11zm-21-2zm-9 2zm-5 0zm-29-3zm-4 8zm7 4zm12 6zm7-7zm13-1zm0 5zm17-1zm7-4zm-23 10zm-11 448zm-34 0zm45 2zm-66 16zm8 13zm-16 0zm131 426zm-3 0zm-28-1zm-47 2zm-5 2zm-21 8zm21-3zm11-1zm8 6zm8-3zm17 1zm6 1zm26-5zm3 0zm27-1zm9 15zm-23 1zm-15-8zm-15 7zm-17-7zm-6 7zm0-3zm-2 2zm-13 3zm-20-9zm3 12zm15-2zm4 9zm21-5zm18-1zm6 2zm0 3zm7-6zm2 6zm2-5zm20-2zm6-1zm-21 12zm-47 1zm-122 65zm46 19zm-21-4zm-24 4zm-18-5zm-14 13zm2-1zm0 1zm103-1zm-48 9zm-44 8zm6 9z"/>
<path stroke="#5a7a3a" d="M495 636zm-10 0zm-1 0zm-18 11zm8-5zm1-1zm9 6zm10 1zm1-7zm1 5zm12 3zm2-1zm16 0zm-3 10zm-18-7zm-8 4zm-10-1zm-10-1zm0 4zm-4-6zm-1 5zm-5-3zm-24 7zm13 7zm8 1zm6-1zm10-5zm6 3zm4 4zm6-2zm5-6zm6 3zm4-3zm1 1zm0 1zm7 10zm-2 1zm-2-2zm-4-1zm-5 7zm-4-7zm-12-1zm-5 9zm-6-6zm-2-3zm-2 7zm-2-1zm-3-6zm0 9zm-1-4zm-7 0zm0 0zm-7 1zm-1 3zm0-7zm-238-2zm220 19zm13-6zm0-2zm14 4zm1-2zm2 2zm3 2zm0-6zm2 7zm7-3zm5 2zm1 1zm15-5zm4-1zm2 5zm1-5zm7-1zm1 8zm1 0zm1-2zm7-4zm1 7zm-3 3zm-5-2zm-11 0zm-5 3zm-6 3zm-1-4zm0 2zm-2 2zm0-4zm0-3zm-3 4zm-1-1zm0-3zm0 6zm-5 0zm0 3zm-6-2zm-1-5zm-4-1zm-4-1zm-6 5zm-2-5zm-9 19zm2-1zm5-3zm9-2zm4 6zm5-2zm7-4zm4 4zm2-4zm3 6zm5-4zm14-2zm1 2zm1 4zm5 1zm-5 7zm-2-6zm-2 7zm-2-6zm0 5zm-5-7zm0 9zm-1-6zm-6-2zm-3 1zm-11 4zm-6-5zm-3 4zm-2-5zm-2 0zm-2 2zm-19 8zm10 0zm0 6zm3-1zm5 4zm12 0zm3-1zm1 0zm2-2zm5-1zm6-5zm0 9zm1 0zm9-3zm10-1zm4 8zm-11-3zm-7 1zm-1 6zm-11 2zm-2-4zm-7-1zm-4 3zm-2-3zm-2 5zm-1-3zm0-2zm-3-3zm0 0zm-1 0zm-10 0zm-3 2zm-6 10zm2 2zm0 2zm1-4zm1 2zm2 2zm3-6zm3 3zm2-2zm7-2zm0 2zm2 6zm7-6zm3 0zm4 3zm4-3zm1 3zm2 4zm4-6zm-1 11zm-19-2zm-12-2zm7 27zm-135 268zm1 4zm12 6zm-3 3zm-9-6zm0 2zm-24 13zm3-4zm4-2zm4 8zm1-7zm6 4zm1 0zm3-2zm4 4zm5-1zm3 1zm6-4zm0 5zm0 4zm-1 5zm-2-1zm-4-5zm-1-1zm-1 8zm-4-5zm-2 1zm-6-3zm-2 5zm0-5zm-1 2zm0 4zm-1-4zm-6 2zm0-5zm-1 4zm0 1zm-2-2zm-5 3zm-5 4zm2 0zm6 6zm6-6zm0 1zm1 1zm0 6zm1-1zm2-1zm1-7zm2 1zm0 0zm1 1zm3 1zm2-2zm0 7zm0-4zm4 5zm11-4zm0-4zm3 6zm0 0zm0-7zm5 0zm-3 14zm-3 0zm-1 3zm-1-7zm-8 7zm-6-7zm-1 0zm0 9zm-1-9zm-3 0zm-7 6zm-1-3zm-3 3zm0-1zm0-3zm-3 7zm0-3zm-1-6zm-3 4zm-3-4zm-5 0zm-1 9zm13 3zm4 2zm4 0zm2 4zm4-8zm0 2zm3 3zm2-4zm0 7zm9-5zm49 5zm8 0zm13-4zm4 14zm-10 0zm-3-4zm-8 0zm-4-3zm-6-1zm-3 4zm-1-1zm-7 2zm0 8zm4 3zm2-5zm5 2zm0 3zm4 0zm3 3zm4-6zm1 1zm0 4zm2-5zm1-3zm7 4zm5 1zm3-1zm1 1zm1 5zm-4 2zm-4 1zm0 4zm-1-3zm-3 2zm-12 0zm0 3zm-1-8zm-3 5zm-3-3zm-3 0zm-5-3zm-1 7zm-3 2zm-2 10zm5-9zm2 3zm0 6zm1-7zm2 6zm3-7zm6 4zm3-3zm2 6zm1-4zm0 0zm5-2zm2 4zm1 2zm3-7zm4 7zm5 8zm-3 2zm-6-2zm-6 2zm-1 0zm-5-3zm-2 3zm0-8zm-3 1zm-3 7zm-1-3zm-4 0zm-1-4zm-6 5zm2 10zm2-3zm10 5zm4 1zm8-8zm2 8zm0-7zm1 4zm7-2zm-5 8zm-13 2zm-1-1zm-2-1zm-1 2zm-81 15zm76-1zm1-4zm7 0zm14 0zm-8 9zm-2 2zm0 0zm0 1zm-6-2zm-3 5zm-82-2zm86 8zm-93 14zm-22 30zm10-9zm7 5zm1 8zm-5 5zm-2-4zm-7 26zm2 2zm77 294zm29 12zm1-7zm0 5zm-4 11zm-33-2zm32 10zm19-4zm-35 9zm116 19zm-20 4zm-13 15zm4-8zm1 5zm22 4zm18 8zm-8-3zm-2-4zm-8 3zm-1 0zm-3 6zm0-7zm-2 0zm-2 0zm-15 7zm-2-2zm-2 2zm4 10zm18 5zm-207 54zm25-5zm2 0zm38 2zm1 2zm11-4zm0 2zm13 3zm7 10zm-21-3zm-6-3zm-11 5zm-5 1zm-14-5zm-2 3zm-14-4zm139 786zm-6-3zm-11-1zm-4 0zm-13-3zm-24 7zm-9 1zm72 9zm3-3zm12 4zm24 5zm-9-2zm-2 7zm-8-2zm-1-3zm-45-4zm-1 3zm-2-3zm0 6zm-4 2zm-10 1zm-11-3zm0 2zm-27-8zm-2 2zm0 9zm2 6zm17-5zm12 3zm9 0zm32-1zm2 1zm4 4zm32-7zm-96 8zm89 75zm2 2zm41 1zm0 6zm-4-3zm-18 3zm-6 5zm-10-2zm-3-2zm-7-5zm-8 6zm16 12zm4-1zm8 1zm22-4zm9 4zm2-1zm5 11zm-11 1zm-22-7zm-10 0zm-1 1zm-19 14zm13-5zm7-2zm2 4zm4-1zm16 1zm16-3zm-31 17zm-11-2z"/>
<path stroke="#6e7c52" d="M488 613zm2 31zm-25 15zm-1 7zm14-5zm38-1zm-11 12zm-3 6zm-8-4zm-16-4zm-4 14zm9-4zm6 5zm25-4zm2 1zm3 1zm-38 8zm-31 12zm7 2zm22 2zm5-3zm2 0zm17 0zm21 14zm-21-7zm-21 6zm-7-3zm-6 4zm-13-5zm-12 15zm7 1zm8-4zm13-3zm22 17zm-6-8zm-3 7zm-1-1zm-1 2zm-12-4zm-3 3zm-2-4zm0 5zm-3-6zm-3 2zm-3-4zm-4 0zm-12 2zm12 15zm12-1zm1-4zm1-3zm1 6zm7-4zm4 0zm0 3zm-21 5zm-105 318zm-15 8zm-9 3zm-13-1zm-1-5zm-9 8zm10-1zm7 6zm2 3zm13 0zm10 4zm-1-3zm-1 3zm-1 0zm-5 2zm-11 1zm-11-2zm51 35zm16-1zm14-2zm13 12zm-7-3zm-26 4zm6 3zm3 2zm2 2zm1-4zm1 7zm7-8zm18 6zm2 2zm5 10zm-5-5zm-5 4zm-10-6zm-8 5zm-1-3zm-11 14zm9-7zm4 4zm5-1zm9 0zm-19 14zm-2-5zm-2 14zm15 2zm-9 15zm1 3zm3 5zm91 422zm-13-3zm-16 6zm37 16zm-23 2zm1 13zm20-5zm1-3zm-22 10zm-1 4zm0-4zm-5 4zm-164 45zm-10 8zm14-7zm29 8zm-7 2zm-14 0zm-13 2zm-1 2zm-1 0zm166 893zm23 6zm-15 5zm23 3zm5 5zm-21 6zm-26 11z"/>
<path stroke="#7e2a24" d="M429 202zm-37 14zm-40-1zm-5 3zm-37 1zm-7 8zm65 1zm19-6zm12 1zm34 8zm-7 1zm-1 6zm-34-3zm-11-3zm-8 2zm0 4zm-17 0zm-1-6zm-2 7zm-6-2zm0-7zm-4 6zm0 1zm-4-1zm-63 7zm12 3zm42-1zm18 2zm16 2zm4-4zm9 3zm8-1zm10-7zm-41 15zm-10-2zm-2 3zm-7-2zm-5 3zm-10-2zm-10-4zm-14 5zm-30 7zm30 6zm8 0zm36-2zm9-7zm1 6zm15-6zm32 8zm-12 5zm-32-2zm-4 3zm-6 0zm-5-3zm-6 0zm-11 3zm-17-3zm-3 0zm-5-1zm-29 15zm11 3zm21-1zm7-5zm0 7zm2 0zm1-3zm11-1zm0 0zm1 1zm3-3zm16 6zm53-4zm2 4zm23 8zm-8 2zm-1 0zm-5-4zm-8-4zm-17-1zm-25 8zm-1 1zm-1-8zm-28 8zm-13 0zm-18-6zm-3 3zm-1 2zm-1-8zm-12 16zm1 2zm10-7zm13-1zm2 3zm13 1zm2 5zm5-8zm7 7zm2 1zm3-5zm1 5zm2-3zm5-1zm5 1zm10-1zm2 4zm36-3zm15-3zm9 2zm-9 9zm-12 4zm-14-3zm-38 1zm-2 1zm0-4zm-2-3zm-8 5zm-6-4zm0 7zm-4-8zm-7 8zm-2 0zm-3-6zm-2 2zm-1-4zm-4 4zm0 2zm-3-2zm-1 4zm-1-4zm-2-2zm-4 4zm-11 2zm-5-3zm-2 0zm-6 4zm9 7zm4-2zm3 0zm3 4zm1-6zm6-2zm0 8zm4 0zm2-5zm4 3zm2 0zm9-5zm3 4zm3-4zm4 1zm0 2zm7 3zm2-3zm12-2zm3 2zm14 5zm33 0zm13 4zm-25-1zm-28 3zm-3-4zm-18 4zm-6-5zm-1 4zm-5 0zm-7-2zm-1 3zm-2 0zm0-3zm-1 0zm-2 7zm-4-5zm-4-2zm-12 4zm-1-2zm-4-3zm-2 6zm-2 5zm5-1zm2 6zm1 1zm1-6zm6 6zm6 1zm2-4zm5 0zm1-2zm1 4zm2-1zm4 0zm5 3zm5-4zm2-2zm1 0zm2-3zm1 1zm2 7zm1 0zm10-1zm13-5zm1-2zm51 0zm45 8zm1 0zm12 5zm-13 6zm-12-2zm-13 1zm-15-7zm-10 2zm-3 5zm-51-8zm-17 2zm-1-1zm-1 3zm-6 2zm-2-3zm-2 3zm-3-3zm-4 2zm-11-1zm-3 0zm-3 0zm-11-4zm0 8zm23 2zm29 3zm62 3zm2-2zm13 1zm50 3zm4-1zm-62 5zm-83-2zm-96 257zm164 10zm-30 2zm-113 0zm-22 8zm123 1zm8 0zm18 0zm4-2zm0 1zm3-3zm5 5zm5-5zm0 3zm1 2zm3-6zm3 2zm1 6zm-1 7zm-13-3zm-4-2zm-4 12zm7-4zm0 3zm1 3zm12-7zm4 4zm-7 7zm-2 4zm-1-5zm-36 3zm-13-2zm-15 53zm28 4zm37-3zm-20 12zm-16-2zm-34-2zm-20 13zm13-5zm18 1zm9 6zm11-7zm6 8zm30-5zm-61 12zm7 10zm23 0zm4-6zm19 9zm23-9zm-32 21zm-71 429zm0 10zm-12 16zm-8 0zm11 4zm6 4zm104 12zm-15-6zm13 18zm2-8zm9 8zm6 4zm-20 5zm-17-6zm-111 14zm12-1zm8-4zm68 7zm-80 5zm-9 3zm107 7zm31 15zm-2-2zm-35-3zm-101 4zm-4-2zm-3 1zm-5 10zm5 2zm116 0zm16-3zm17 0zm1 6zm-2 3zm-9 2zm-94 4zm-3-8zm-6 7zm-5-1zm-8-1zm-15-4zm19 15zm7 2zm4-3zm1 0zm4-6zm89 10zm-4 2zm-82-2zm-2 7zm-6-3zm2 8zm99 216zm-6-2zm-10 13zm-30 18zm122 40zm-16 9zm-5 5zm26 18zm-9-8zm-187 938zm40 5zm-33 5zm-5 0zm-27 0zm-17-6zm22 12zm16-4zm16 8zm14-6zm49-2zm-37 18zm-5-3zm-5 3zm-21-6zm-3 3zm-52-6zm-5 19zm28-4zm15 3zm27-6zm23-2zm17 6zm-5 5zm-35 7zm-10-4zm-47-2zm46 16zm4 1zm28-5z"/>
<path stroke="#8e5e96" d="M380 183zm18 12zm-9 3zm-37 2zm42 6zm14-3zm28 12zm-5-3zm-79 15zm4-6zm6 7zm0-8zm2 4zm3 2zm0-3zm28 0zm5 2zm1 3zm14-1zm5-1zm17 2zm1-1zm0-4zm34 15zm-36 1zm-14-2zm-1-5zm-5 6zm-34-5zm-7-1zm-19 2zm-15 4zm-2 8zm9 3zm1-5zm13 3zm4 1zm7 1zm5-8zm9 5zm1-1zm4-5zm31 6zm15-1zm47 4zm-15 3zm-27 3zm-10 2zm-8-2zm-65-2zm-1 0zm-18 1zm-1 11zm9 2zm14-3zm25-4zm54 1zm59 7zm-6 4zm-4-2zm-7 2zm-6 6zm-16-6zm-2-1zm-22 2zm-1 0zm-102 1zm-54 8zm34 1zm7 1zm106 3zm8-3zm5-1zm21-3zm12 5zm1 4zm7-7zm17 2zm11 3zm0 4zm-4 0zm-1 6zm-5 2zm-8-1zm-15 0zm-11-4zm-17-3zm-49 2zm-5-1zm-7 2zm-1 3zm-3 2zm-39-1zm-60 5zm17 4zm4-2zm13-1zm86 3zm75-1zm4 1zm5-6zm29 15zm-15-6zm-3 4zm-5-2zm-21 6zm-60 0zm-11-2zm-6 0zm-1 0zm0-5zm-2 0zm-29-1zm-35 6zm-7 2zm-3 1zm-39 4zm1 4zm47-6zm11 8zm4-8zm7 8zm49-8zm2 1zm2 3zm6 1zm46-5zm3-1zm3 0zm23 7zm12-2zm0-1zm28 14zm-25 1zm-43-9zm-31 6zm-21-4zm-16 7zm-43-5zm-13 3zm-10-7zm-2 8zm-4-7zm-7 4zm-1-5zm-8 7zm0-2zm-2 2zm-4 2zm-7-2zm-9 2zm31 6zm0-2zm6 4zm0-6zm2 6zm0-3zm2 5zm1-7zm1 0zm2-2zm0 1zm1 3zm3 5zm2-8zm0 1zm16 0zm50-2zm113 3zm-34 11zm0 3zm-8 2zm-1-9zm-1 3zm-9-3zm-8 3zm-22 4zm-1 0zm-83-6zm-14-1zm-2 3zm-2 5zm-1 0zm-5-2zm-4 3zm0-6zm0-1zm-2 2zm-6 5zm-6-7zm134 13zm13 3zm1 1zm2-2zm28 1zm4-3zm7-4zm8 2zm9-2zm-33 9zm-26 0zm-14 1zm-3 1zm-15 4zm-8-2zm-5-3zm-35 237zm1 1zm12-4zm2 0zm3 1zm5 2zm1-7zm1 1zm0 7zm5-8zm5 5zm5 8zm0 2zm-1-1zm0 2zm-3-5zm-10-2zm-1 1zm-6 7zm-4-7zm-3-1zm-5 2zm-136 6zm141 3zm4 2zm3 1zm6-2zm-139 12zm131 12zm3-6zm2 3zm7-2zm3 2zm1 1zm-9 13zm-2 0zm-6 0zm-9 1zm-138-3zm156 12zm-188 10zm87 649zm6 12zm-9-3zm0 7zm4 6zm3-8zm5 7zm5 1zm13-3zm2-1zm-5 9zm-1 4zm-7-6zm0 2zm-3-1zm-6-1zm0 6zm-1 2zm-2 0zm-5 4zm10-3zm21 357zm-31 10zm16-1zm15 2zm22 10zm-59 870zm-43 12zm8 8zm16-3zm55 1zm1-1zm26 6zm-4 2zm-23-1zm-15 3zm-1 2zm-6-4zm-5-1zm-34 0zm49 11zm8 5zm-51 9zm-11 7zm20 2zm23 35zm13 6zm23-7zm61 0zm42 17zm-74-7zm-8 4zm-39-1zm-31-1zm9 8z"/>
<path stroke="#4e9090" d="M391 185zm3 4zm15 7zm-8 3zm-11-3zm-5-1zm-7 2zm-15 0zm-6 2zm-3 7zm4 0zm3-6zm1 4zm33 0zm7-3zm0-1zm14 6zm5-2zm5 4zm0-6zm6-2zm1 10zm-2 8zm-39-7zm-3-1zm-4 2zm29 10zm42 3zm3-1zm31 15zm-2-1zm-5-5zm0-1zm-7 5zm-1-5zm-9 0zm-3 7zm-23-6zm-13-1zm-7 1zm-1 9zm8-2zm20 6zm9-2zm9 2zm8-4zm18 4zm3 1zm1-5zm8 11zm-1 5zm-3-2zm-19-2zm-2-4zm-5 7zm-3 2zm0-6zm-2-2zm-3 1zm-2-1zm-9 0zm-10-1zm-1 7zm0-1zm-12 0zm-11 11zm7-7zm2 7zm11-2zm0-1zm10-4zm8 1zm7 0zm2 1zm1 5zm1 1zm3 0zm3-3zm0-3zm5 1zm9 0zm12-1zm1-1zm5 7zm-1 4zm-1 6zm-12-4zm-8 2zm-2-5zm0 6zm-2-4zm-6 1zm-1 3zm-3-5zm-3 6zm-1-7zm-5 0zm-4 0zm-5 1zm-17 0zm-2 17zm2-7zm12-2zm7 4zm1 3zm0 2zm1-8zm5 7zm5-7zm1 1zm0 0zm3 3zm3-3zm1-1zm5 8zm3-1zm2-7zm3 8zm2-3zm1-4zm1-2zm1 7zm5 1zm2-8zm8 0zm4 3zm6 6zm-7 3zm-1 4zm-1 1zm-2-6zm-2 4zm-14 3zm-9-2zm-1 1zm-8-5zm-5 4zm-4-3zm-6 4zm0-2zm-4-2zm-2 5zm0-3zm-1 0zm-8-2zm-2 0zm-5 6zm-1 2zm2 4zm3 2zm2 1zm3-4zm1 3zm6 0zm1-7zm11 1zm2 0zm5 8zm2-7zm13 4zm7-3zm0 5zm4-3zm3 1zm1-1zm6-5zm0 0zm2 4zm14 5zm1-4zm3 13zm0 1zm-23-9zm-4 1zm-4 5zm-3-3zm-2 4zm-1-6zm-17-1zm-9 9zm-8-1zm-4-3zm-16 13zm17 0zm2-6zm6 0zm3 3zm3-5zm12 7zm4-4zm0 3zm7-1zm2-2zm12 4zm15 3zm-20 4zm18 23zm-6-1zm-5 6zm-117 257zm-7-1zm-8-3zm20 6zm2 1zm30 46zm2-6zm4 6zm13 0zm1 0zm0 2zm-2 6zm-13 1zm-1 0zm0-1zm-8-4zm65 953zm-21 12zm-5-3zm10 8zm6 33zm34 970zm-17 5zm-19 10zm-134 38zm-12-1zm-28-3zm6 15zm4-7zm15 0zm2 7zm87-3zm25 1zm-24 5zm-16 7zm-8-8zm-7-1zm-32 3zm-21-3zm-12 5zm-6-2zm-3 4zm58 7zm-30 8z"/>
<path stroke="#3e2a92" d="M385 186zm14 2zm2 1zm12-5zm38 5zm-8 3zm-10 1zm-5 6zm0-1zm-10 1zm-2-5zm-4 1zm-7 3zm-2-5zm-5 3zm-5 2zm-2-1zm-10 2zm-1-7zm-39 14zm21 0zm1 1zm11-4zm1 1zm26-2zm7 5zm0-1zm8 1zm20-4zm-6 11zm-2 2zm-14 10zm1 3zm16-6zm41 16zm-3-2zm-35-5zm-11 6zm-10-8zm2 17zm12-3zm12 3zm23 2zm5-4zm29-2zm6 7zm-2 0zm-3 1zm-7 5zm-21-1zm-11-2zm-19-3zm-16 0zm-9 6zm-27 6zm5 3zm39 3zm4-8zm6 7zm5-1zm10 0zm5-6zm8 8zm25 1zm1-6zm1 2zm12 8zm-9-2zm-19 6zm-13-7zm-3 3zm-14-1zm-10 1zm-9 4zm-36-7zm7 17zm32-7zm28 6zm2-5zm12 6zm17-6zm8 7zm11-5zm2 3zm9 2zm0 7zm-2-1zm-29 2zm-24-2zm-7-1zm-7 3zm-48-3zm48 12zm8 3zm10-1zm29-7zm0 5zm5 1zm6-3zm2-3zm0 1zm9 12zm-7 1zm-8 4zm-6-6zm-3-1zm0 3zm-6-3zm-17 6zm-10-3zm-5-4zm-11 17zm48 1zm1-6zm19 16zm-16-7zm-34 1zm-67 2zm-76-3zm-13 18zm28-9zm99 2zm21-1zm6 7zm0-3zm24 1zm-22 10zm-2 3zm-1 0zm-1-4zm-1 0zm-32-5zm-4 0zm-5 8zm-6 0zm-123 1zm32 1zm78 7zm4 2zm13-1zm1 0zm10 1zm16-6zm7 4zm4 2zm6-1zm2-8zm3 9zm8-6zm1 6zm8-9zm-12 11zm-41 8zm-21-4zm-26 223zm-14 11zm2-2zm27 0zm-5 5zm-22 11zm21 5zm105 19zm-73 16zm9 1zm10 5zm63 6zm-57-2zm-15-1zm-1 1zm-3 6zm51 7zm13 7zm-11 4zm-25 10zm18 17zm-170 356zm49 1zm63 32zm-20 5zm-12 15zm-8 0zm-2 5zm35 4zm-11 41zm-6 8zm-10 4zm-82 142zm-2 9zm12-3zm-14 8zm170 274zm11 2zm-11 11zm-4 23zm28 8zm-18 5zm-155 46zm34 14zm-33 3zm-33-6zm14 9zm179 877zm-236-3zm-9 13zm12-1zm56-6zm168 7zm-9 8zm-170 3zm-13 0zm-33 4zm29 2zm6-3zm166 6zm19-5zm-3 13zm-1 1zm-135-4zm-19 6zm-21 0zm-6-4zm47 8zm168 8zm-232 25zm36 12zm29-4zm10 0zm49 9zm-84 11zm21 2zm30-2zm17-3zm5 2zm6 0zm11 5z"/>
<path stroke="#151515" d="M394 219zm-10-7zm-11 5zm-20 5zm20 7zm1-4zm0-4zm2 8zm13-6zm7 4zm2 2zm10-4zm-7 6zm-3 0zm-9 2zm-3 4zm-8-5zm0-2zm-3 1zm0 3zm-1 4zm-1-1zm-5-2zm-12 3zm-70 7zm78 2zm17-7zm6 8zm6-4zm0-3zm4 0zm2-1zm-11 10zm-10 1zm-112 15zm94-3zm27 1zm7 14zm-17-8zm-22 0zm-65 2zm-16 8zm119 7zm1 2zm1-8zm16 3zm0 2zm8 12zm-14-7zm-2 8zm-7-5zm-6 2zm-5 4zm4 9zm1-4zm0-5zm0 6zm10 2zm1 1zm2-1zm3-2zm2-1zm2-5zm15 5zm-7 7zm-4 2zm-4-2zm-4 1zm-3 0zm-2 0zm-14-2zm-7 17zm2-5zm6-3zm9 3zm3 3zm2 3zm2-8zm2 1zm10 15zm-10-3zm-7 2zm-1 2zm-1 0zm-12-1zm-1-5zm4 8zm5 5zm13 0zm-149 273zm-1 0zm-5 0zm-4-3zm-2 1zm-2-3zm0 5zm-3 1zm-14 9zm0-7zm1 6zm1 1zm2-1zm2-1zm2-4zm6 5zm0-2zm2 2zm0-6zm0 3zm1 0zm2-4zm2 3zm1 3zm2-4zm0-1zm5-1zm1 0zm0 1zm1 2zm106 6zm11-1zm-8 9zm-4 0zm-2-6zm0 0zm-3-1zm-4 9zm-2-4zm-4-1zm-86-2zm0 0zm-6 3zm-2-5zm-6 0zm-1 4zm-2 0zm0 4zm0 1zm-4-7zm-1 4zm-1 2zm-7-6zm0-2zm-2 8zm-2 7zm3 3zm3-7zm3 8zm1-8zm1 6zm1-5zm0 3zm0-5zm0 1zm1-1zm2 4zm1-1zm5 0zm2-2zm4 6zm6-2zm83 0zm1 4zm4-6zm2 0zm3 0zm0-1zm2 5zm2-6zm0 4zm1 2zm5-4zm0 6zm4-6zm10 6zm1-2zm14 8zm-17-5zm-1 9zm-4-5zm-1 1zm-5 2zm-1 1zm0-1zm-4-6zm0 4zm-1-4zm0 7zm-2-4zm0 2zm-3 1zm-4-6zm-1 2zm-91-2zm-2 1zm-3 0zm-2 2zm-2-2zm0-1zm-1 1zm-4 2zm-1-4zm-1 4zm-1-3zm-3 2zm0-1zm-3 3zm0-5zm-1 2zm-1 6zm-1-5zm-5 6zm-18 8zm4-4zm3 6zm6-2zm1 0zm4-7zm5 1zm2-1zm12 1zm102 5zm3 1zm1-1zm4-4zm3-1zm2 2zm1 1zm1 5zm6-4zm9-4zm2 3zm3-1zm12 6zm-20 3zm-3-2zm-1 1zm-7 5zm-4 0zm-1 3zm-3-3zm-6-6zm-117 4zm-2-3zm-9 0zm-5 0zm-5 1zm-1 4zm-5 1zm-2 9zm2 1zm6-2zm2 2zm3-4zm0-3zm3 4zm0-3zm7 3zm-18 9zm134 21zm25 7zm-12 18zm1 7zm24 3zm7 10zm-21 19zm-44 391zm-1 6zm0-1zm-1-3zm-3 7zm-1-6zm-1 2zm-4 14zm4-8zm1 8zm0-1zm1-2zm0 2zm0 0zm1-2zm0 2zm6-3zm-7 6zm-3 9zm-4-8zm-5 8zm-1 1zm1 4zm0-1zm3 1zm-2 10zm-1-2zm-2 6zm-8 1zm6 4zm-5 13zm-3 0zm-19 0zm3 10zm0-4zm0 1zm1 4zm1-3zm8 5zm2-4zm7 3zm2-5zm1 5zm3-4zm4 11zm-3-2zm-6 3zm-4 2zm-2-8zm0 7zm-1 1zm-1-6zm0 1zm-1 0zm0-1zm0-2zm-1 9zm-1-6zm-2 4zm-3 0zm-3-7zm-4 6zm-2 3zm0 9zm1-2zm4-1zm1-5zm2 6zm2 2zm1-8zm5 9zm0-1zm1-4zm4-4zm0 2zm4 0zm3 3zm2-2zm4 1zm5 12zm-6 0zm-8 1zm-4-7zm-2 8zm-5-2zm0-3zm-1 4zm-5-3zm-1-1zm-4 2zm5 6zm1 8zm3-6zm1 3zm0-6zm4 4zm1 0zm2 0zm0 5zm0-9zm0 1zm2-1zm2 2zm0 3zm2-4zm-14 13zm-12 1zm-6 9zm4 1zm2 0zm1 1zm3 1zm0-4zm1 2zm1 2zm5-2zm-4 6zm-3-1zm-10 1zm-1 0zm6 9zm0 6zm1 12zm-3 1zm-7-9zm-1 9zm-2 2zm5 0zm4-1zm1 4zm1 0zm2 6zm-5 1zm95 219zm20 27zm-32 8zm-52 454zm26 41zm54 425zm14-4zm16 4zm55-4zm-115 23zm39 2zm4 0zm36 4zm67 87zm4 4zm1 1zm23 4zm-17 6zm-57 6zm34 12zm-185 35zm114-4zm3 5zm-17 8zm-19-1z"/>
<path stroke="#cdbe4a" d="M298 59zm-2-6zm-3 5zm-2-4zm0 4zm-2-8zm-4 8zm0 1zm-1-6zm-6 16zm3-9zm1 3zm1-2zm0 4zm3-5zm0 1zm3 0zm3 2zm0-3zm0 7zm1 0zm2-2zm1-1zm0 1zm1-4zm-9 9zm-2 1zm-5-1zm0 6zm-1-1zm-4 0zm45 22zm-97-2zm-3-2zm-3 5zm3 9zm1-3zm3-1zm76 3zm2 1zm6 2zm0-2zm3-7zm2 7zm0-1zm1 1zm3-4zm0 6zm4-2zm4-1zm4-1zm-4 7zm-1 1zm-8 3zm-2-2zm-1-4zm0 0zm-2 1zm0 0zm0 3zm-1 3zm-8 2zm-28-3zm-1 3zm-14-1zm-5-1zm-2 1zm-1-5zm-8 2zm-2 0zm0 3zm-4-1zm-5-3zm-1 4zm-5 0zm-1-1zm-18 11zm9-4zm1 5zm0-5zm0 3zm1-6zm3 6zm2 1zm2-1zm2-6zm1-1zm4 7zm0 1zm1-8zm0 9zm8-5zm2-1zm2 3zm0 1zm1-6zm4 6zm0 0zm1-5zm1 0zm0 3zm0-2zm5 0zm0 3zm0 3zm1-1zm1 1zm8-9zm1 4zm4 0zm4-4zm1 4zm0-2zm2 5zm3 2zm27-5zm3-3zm-19 11zm-11 4zm-1-1zm0 4zm-1-7zm-4-2zm0 4zm-1 5zm0-7zm-1 7zm-2-4zm0-4zm-3 2zm-1 1zm-5 5zm-4-1zm-1-8zm-4 1zm-2 3zm-1 3zm-1-6zm0 5zm-1-5zm0 2zm0 5zm-1-1zm0-4zm0-1zm-1 7zm-1-7zm0 4zm-1 3zm-2-6zm-1-2zm-2 7zm0-2zm-1-6zm-1 1zm-1 5zm-1-2zm-1 2zm-3-6zm-3 4zm0-4zm-1 8zm0-3zm0 1zm-3 3zm0-5zm0-2zm-2 3zm-3-2zm-2 2zm0 1zm0-3zm0-2zm-1 1zm-1 7zm-2 0zm-1-9zm0 4zm0-4zm-2 6zm-3-4zm-1 6zm0-5zm1 16zm1-6zm1-3zm0 2zm1 7zm0-3zm2 0zm3 0zm0-1zm0 0zm0-1zm0 2zm1-5zm1 0zm0-1zm0 9zm1-9zm1 4zm2 1zm3-2zm0 5zm0-8zm1 4zm0 0zm1-4zm0 8zm1-8zm0 1zm3 2zm2 2zm1 0zm1-3zm0 7zm2-7zm1 4zm1-4zm0 7zm1-5zm1 4zm1-3zm0-1zm2 3zm0-4zm0-1zm1 1zm2-1zm0-2zm1 1zm3 4zm2 2zm2-4zm0-2zm7 6zm0-1zm2-4zm1-1zm1 5zm3-4zm0-2zm2 3zm2 4zm0 1zm2-1zm0 1zm0 0zm1-4zm7 3zm4-7zm-18 11zm0 3zm-3 1zm-2 0zm-1-2zm-2-1zm0-2zm-3 2zm-2 1zm-4-1zm0 2zm-2 2zm-5-5zm-2 4zm0 1zm-1 1zm-1-3zm0-2zm-4 3zm-5-3zm0 2zm-1 4zm-5 0zm-1-1zm-2-3zm-1-1zm-1-3zm0 3zm-1-2zm-6 0zm-4-1zm-3 0zm27 10zm2 0zm4 7zm5-4zm6 1zm2 4zm0-3zm2 5zm-1 1zm-1 0zm-1 4zm-2-2zm-1-1z"/>
<path stroke="#5a7a3a" d="M376 128zm4 1zm12-4zm3 4zm0-4zm1 3zm6 1zm2-4zm9 4zm11-6zm8 12zm-2-4zm0 4zm-3-4zm-7 0zm-2 1zm-4-1zm0 0zm0 0zm-1 6zm-2 1zm0-5zm-3 1zm-4 0zm-2 5zm-1 0zm-2-9zm-1 5zm-3 3zm-2-5zm-1 4zm-1-5zm-1 6zm-5-7zm-6 0zm-2 6zm-1-3zm-3-4zm-4 4zm-2-1zm-17 13zm3 2zm1-3zm1 1zm1 3zm1-1zm6-1zm1-7zm0 9zm0-1zm0-8zm1 1zm5 6zm2-2zm3 4zm3-8zm1 7zm1-8zm1 6zm8-5zm3 5zm1 3zm0-6zm2 5zm0-3zm3 3zm8-5zm0 6zm0-5zm1 3zm0-7zm6 4zm1 2zm7 1zm2 1zm4-5zm6 1zm1 0zm1-4zm6 7zm0 6zm-2 6zm-5-2zm-2-5zm-2 7zm-2-6zm-1 1zm-1 5zm-2-2zm-13-7zm-1 3zm-1-3zm-2 3zm-3 1zm-1 1zm-3-5zm-4 0zm-1 6zm-2-3zm-3-2zm-1 3zm0 2zm0 2zm-2-2zm-1 1zm-1 0zm-1-5zm-1 4zm-1-6zm-8 7zm-3 2zm-1-5zm-5-4zm-2 2zm-1 5zm-1-7zm-3 0zm-4 0zm0 7zm-3-7zm-6 6zm7 10zm9 3zm4-3zm2-3zm1 3zm12 2zm3-2zm3-2zm3 5zm2 0zm2 0zm0-6zm1-2zm1 5zm4-6zm2 5zm4 3zm1-2zm2-6zm1 7zm7 1zm1-2zm3-3zm2 4zm4 1zm1-4zm2 1zm0-5zm5 4zm86 13zm-3 2zm-5-1zm-3 1zm-2-4zm-3 4zm-15-1zm-1-3zm-3 3zm-67-7zm0-1zm-6 4zm0-2zm-6 2zm-2-2zm-3 0zm-5 2zm-2 2zm-2-3zm-3 1zm-11-2zm-16-2zm115 17zm13-6zm1 5zm1-3zm5-1zm2 1zm5 3zm2 1zm5 2zm2-4zm1 4zm3 0zm4-2zm0-7zm6 9zm-3 6zm-5 0zm0-4zm-2 8zm-2-4zm-1-3zm-1 1zm-1 2zm-4 0zm-6 3zm0-4zm-3 2zm-17 2zm-2-1zm-5-6zm-1 4zm0 3zm-3 1zm-3 3zm7 1zm1 4zm4 0zm2-1zm3 3zm11-5zm1-2zm2 5zm0-7zm2 4zm1 0zm2 2zm2 1zm0-5zm1 5zm2-5zm5-2zm4 4zm1 1zm13 3zm-9 6zm0-3zm-1 2zm0 4zm0-3zm0 3zm-1-7zm0 7zm0 0zm-8-2zm-1 0zm-1-2zm-4-1zm0-1zm-2 8zm-2 0zm-1-2zm-4-2zm0-5zm-8 8zm-1-4zm-2-4zm-3 5zm-1-2zm-5 0zm-2-3zm-1 4zm13 6zm1 0z"/>
<path stroke="#6e7c52" d="M386 126zm50 12zm-65-2zm-14 2zm7 3zm13 2zm20 4zm5 0zm37-5zm-12 11zm-15 0zm-20 2zm-7 3zm-2-5zm-14 4zm-7-6zm-10 6zm-7 4zm19 6zm15-6zm9 6zm11-3zm13 4zm104 7zm-20 1zm-1-2zm-11 1zm-90-3zm83 15zm14-2zm19 1zm4 7zm-5 3zm-5 0zm-18 2zm-4 9zm23-1zm6-1zm14-1zm7-1zm-8 7zm-13 3zm-9 1zm-5 4zm-15-3z"/>
<path stroke="#3e2a92" d="M387 125zm-11 24zm19 1zm-28 0zm17 17zm-14 6zm151 7z"/>
<path stroke="#151515" d="M363 397zm-6 1zm-9 1zm1 2zm16 1z"/>
<path stroke="#cdbe4a" d="M297 58zm0 1zm-3-6zm-1-2zm-2 8zm0-8zm-4 2zm-1 6zm-3-7zm-2 11zm3 4zm1-4zm0-3zm4 1zm2 1zm1-1zm3 6zm0-6zm0-1zm13 10zm-18 1zm-4 0zm-1 1zm-2-1zm0 2zm-2-1zm-62 24zm-2 4zm47 9zm40 0zm1-3zm0-5zm1 3zm0 0zm0-2zm3 6zm1 1zm0-5zm1 0zm4-3zm0 1zm2 5zm3-1zm1 1zm2-5zm1 7zm0-9zm0 5zm3 7zm-2 4zm-1-6zm-2 6zm0-2zm-1 4zm-1-1zm-1-1zm0-3zm0 5zm-1-1zm0-7zm-2 6zm-2-4zm0 0zm-4-2zm-5 2zm-1 0zm0 6zm-1-8zm0 6zm-1-6zm-37 8zm-1 0zm-1-2zm-1 1zm-3-3zm0 0zm-6 2zm-6-3zm0 5zm-2-2zm-2-1zm0 1zm0 3zm-9-2zm0 0zm-6 2zm-1 0zm-5-3zm-18 4zm9 9zm2 0zm1 0zm1 0zm0-6zm1 2zm0 0zm1-1zm5-2zm1-2zm1 0zm1 9zm5-6zm2 5zm1-3zm1-2zm1 5zm1-1zm7 2zm3-8zm1 1zm2 7zm3 0zm3-5zm0-2zm3 7zm0-2zm1 1zm0 1zm4-7zm13 2zm1-4zm1 6zm0-3zm17 15zm-14-2zm-3-5zm-6 4zm-2-1zm0 2zm-1 0zm-3 3zm-1 0zm-3-2zm-5-5zm-1 7zm0-8zm-2 6zm0-5zm-1 4zm-1-2zm-1-3zm-1 1zm-1-1zm-1 8zm0 0zm-1-4zm-1 0zm-2 2zm-1-1zm0-3zm-1 0zm-2-1zm-2 4zm0 0zm-1 2zm-1-1zm-3-6zm-1 2zm-1 3zm0-3zm-3 3zm-1 0zm0-1zm0 0zm-1-1zm0-2zm-1-1zm-2 4zm-2 1zm-2 1zm0-1zm-2 2zm-3 1zm0-1zm0-8zm-2 2zm-2 2zm-1-2zm-5 6zm-7-2zm-2-4zm1 10zm8-2zm2 9zm1 0zm2-4zm3 0zm0-3zm1 0zm2 4zm0-5zm1 0zm0 4zm1-3zm0-2zm0 2zm1 4zm0 3zm3-1zm0-8zm1 7zm2 1zm0 1zm0-5zm1 5zm0 0zm1-7zm1 4zm13-3zm2 2zm0-5zm2 8zm1-4zm2-1zm2 2zm2 1zm1 1zm5-5zm0 7zm3-6zm5-3zm1 5zm2 1zm4-1zm0-3zm0-1zm4 2zm0 4zm2-3zm12 6zm-20 4zm-3-2zm0-1zm0 2zm-3 0zm-2 2zm-1 1zm0-3zm-2-3zm-2 1zm-5 1zm-2 2zm0 4zm-1 0zm-1-2zm-1-6zm0 3zm-1 3zm-2-2zm-3 1zm0-3zm-2 0zm0 1zm0-1zm-1-2zm0 8zm-1-2zm-1-6zm-2 4zm0-1zm-1 1zm-1 3zm-2 2zm0-3zm-1 1zm-3-1zm-1-2zm-2 3zm0-5zm-2 2zm-6 0zm0-3zm-6-1zm-1 0zm5 17zm30-1zm10-1zm-6 13zm-2-8zm-6 0z"/>
<path stroke="#5a7a3a" d="M371 129zm9-3zm1-1zm0 3zm6 1zm19-2zm3-2zm2 1zm28 11zm-2 1zm-3-4zm-6 1zm-4 2zm-1-2zm-4-1zm-3-4zm0 2zm-7 0zm-4 3zm-3 2zm-1-2zm0 2zm0-4zm-4 4zm-5-2zm-3 0zm-4-5zm-7 2zm-2-2zm-2 8zm-11-4zm-1-1zm-6 6zm-14 0zm16 4zm1-3zm2 8zm3-4zm1 3zm1 1zm2 1zm7-4zm0-1zm1 5zm3 0zm2-4zm6 2zm2 0zm2-2zm3 4zm2 0zm1-8zm0 8zm1-5zm0-2zm4 7zm0-8zm6 0zm7 8zm2-4zm0-3zm6 6zm1-8zm1 5zm3 4zm3-3zm1-1zm1-5zm5 7zm-1 12zm-1 0zm-1 0zm-3-8zm-8 5zm0-1zm-16-2zm-1-3zm-5 7zm-3-5zm0 0zm-2 5zm-2-2zm-4 1zm-3-5zm0-1zm-1 0zm-3 3zm-1 1zm0 3zm-1-1zm-1 3zm-3-2zm-1 0zm0-3zm0 4zm-3-8zm-5 4zm-2-2zm-6-2zm-8 7zm-9 6zm17 4zm4-6zm2 5zm1-3zm3 0zm2-2zm1 7zm0-7zm5 6zm1-7zm1 9zm1-3zm1-3zm2 4zm2 1zm9-7zm1 2zm0 6zm1-8zm10 5zm2-2zm2 4zm1-7zm0 6zm4-5zm1 4zm5 3zm1 0zm4-3zm1-1zm68 0zm21 14zm-6-1zm-2-3zm-3-2zm-5 6zm-1-7zm-4 0zm-10 3zm-3 4zm-36 0zm-16-6zm-4 1zm-12-2zm-5 1zm-2 1zm-5-2zm-6-1zm-2 3zm-2 1zm-1-4zm-20-1zm-1 2zm39 9zm66 4zm9 2zm4 2zm4-9zm1 3zm0 6zm4-1zm0-1zm0-5zm1 1zm3 6zm4-4zm13-1zm3-3zm0 8zm2 3zm-7 7zm-5-8zm0 6zm-2 1zm-1-3zm-1 4zm-5-3zm-2 2zm-8-4zm-2 0zm-1 1zm0 2zm-3-7zm-4 8zm-1-2zm0-2zm-1-2zm-1 5zm0-2zm-6-5zm-2 17zm2 0zm0 0zm2-7zm4 6zm0-4zm5 2zm4-1zm1 2zm5-2zm1 3zm4-1zm3 3zm1-4zm3-4zm1 9zm1-6zm1-3zm0 3zm4 1zm1 2zm6-5zm2 5zm5 1zm-5 8zm-1-5zm-4 1zm-2 0zm-1 0zm-7 3zm-7-1zm0 5zm-3-3zm-2-2zm-1 6zm-4 0zm-2-3zm0 3zm-2-6zm-2-2zm0 7zm-2-6zm-1 5zm5 4zm6 3zm7-1zm1-3zm12 2zm3-2z"/>
<path stroke="#6e7c52" d="M386 125zm9 2zm39-2zm-18 5zm-3 5zm-1 0zm-15-3zm-6 3zm-14 4zm-14-1zm0 0zm-1-5zm-7 10zm2 1zm4 0zm22 2zm6 0zm20-2zm26-4zm7 14zm-4 3zm-13-1zm-9 3zm-6-1zm-8-3zm-1-4zm-11 2zm-25 1zm-10 8zm2-1zm12 3zm3 3zm5-3zm5 4zm7-2zm33 0zm84-4zm6 12zm-3-1zm-5 2zm-17 4zm-77-5zm-22 0zm113 10zm13 4zm8-4zm5 6zm-14 9zm-23-5zm-12-3zm5 13zm15 4zm3-1zm2 1zm17-3zm0-3zm-12 9zm-27 0zm0 8zm19 2zm11-1z"/>
<path stroke="#3e2a92" d="M401 115zm-1 12zm-16 9zm-21-1zm-3 3zm-1-1zm25 19zm4 6zm130 17zm-102-6zm64 23zm13 9zm30-1zm-27 16z"/>
<path stroke="#151515" d="M262 204zm4-4zm99 194zm-3 4zm-1-1zm0-1zm-5-1zm-4 2zm-1 2zm-3-3zm2 5zm2 3zm1-4z"/>
<path stroke="#cdbe4a" d="M297 58zm-3-1zm-2 1zm-1 1zm0-6zm-5 3zm0-1zm-2 3zm2 3zm0 7zm3-8zm2 3zm7-3zm11 9zm-1 3zm-18-2zm-1 5zm-5-5zm-6 0zm-6 2zm-52 17zm1-1zm2 8zm-2-1zm-1 0zm-1 4zm0-3zm0 8zm1 0zm1-3zm34 5zm5 0zm41 3zm1-3zm2 2zm0-5zm7 5zm0-8zm1 3zm0 6zm2-6zm1 5zm1 1zm4-4zm4 0zm0 4zm1-2zm0-2zm6 7zm-3-1zm-1-1zm-2 1zm-1 1zm-2-1zm-1 8zm-2-5zm-4-1zm-2-2zm-2 0zm0 3zm-2 1zm-1 0zm0-4zm-1 4zm0 2zm-1 2zm-2-5zm-3-4zm-24 3zm-1 6zm-5-2zm-6 2zm-4 0zm-2-6zm-1 1zm-1 5zm-5-3zm0 2zm-2-5zm-7 5zm-6-3zm-2-2zm-1 3zm-3-4zm-4 7zm-13 8zm2-3zm3 3zm3 2zm3-9zm2 1zm2 8zm0-8zm2 3zm2 4zm0-6zm0 2zm2-4zm4 3zm2 1zm0-2zm3-2zm1 4zm2-1zm0 1zm2-3zm2 5zm1 2zm2-5zm3 4zm2-3zm1 0zm1 0zm0-3zm1 6zm1-1zm1-5zm1 0zm0 6zm1-6zm0 6zm1-4zm0-1zm1-1zm2 2zm0 2zm1 1zm0-3zm0 4zm2 1zm2-8zm0 8zm2-3zm38-4zm-26 9zm-8 0zm-1 7zm-2 1zm0-6zm-6 3zm0 4zm-3-4zm-4-5zm-1 2zm-2-2zm-1 7zm-1 0zm0 0zm-3-6zm-4 4zm-3 1zm-2 3zm-1-3zm-1-6zm-1 7zm-1-3zm-3-1zm-1 5zm-5-1zm-1-7zm-2 9zm-1-1zm0-2zm0 1zm-2-5zm-2 6zm-1-8zm0 5zm-3-3zm-1-2zm-1 6zm-1-5zm-1 5zm-2 1zm-4-6zm-1 2zm0-3zm-1 5zm-3 2zm-2-2zm-11 0zm15 6zm2 0zm1 3zm3-3zm0 0zm1-1zm1 0zm0 3zm1 0zm0 6zm0-9zm1 9zm1-8zm0 4zm1-1zm1-3zm2 3zm2-3zm2 7zm1-6zm0 5zm1-5zm3 0zm1 0zm1 6zm4-5zm2-3zm1 4zm0-3zm2 8zm0-8zm4 4zm0-3zm0 7zm1-1zm6-6zm0-2zm5 5zm1 1zm1-2zm6-2zm7 4zm2 2zm3 0zm-17 3zm-1-1zm0 6zm-1-5zm0 0zm-2 1zm-3 6zm-4-8zm-1 8zm-6-7zm0 1zm-2 1zm-1 3zm-1-4zm-1 0zm-1-2zm-4 6zm0 1zm-6 0zm0-4zm-1 2zm0-2zm0-3zm-1 7zm0-7zm-2 1zm-3-1zm-4 5zm0-3zm-5 3zm0-2zm3 7zm18 7zm10-2zm3 1zm1 2zm3-2zm8-5zm-10 12zm0 4zm-1 0zm-1-7zm-1 7z"/>
<path stroke="#5a7a3a" d="M364 123zm9 5zm7-2zm2 3zm3 0zm2-5zm10 1zm0 1zm0 3zm1-3zm2 2zm3-7zm9 6zm2 0zm41 9zm-18 1zm-2-2zm0 0zm-7 0zm0 2zm-3 0zm-1-1zm-2 3zm-4-2zm0-5zm-7 6zm-1-1zm-5-3zm-15 5zm-1-6zm-4 0zm-5 0zm0 6zm-2-3zm-2 0zm-3-3zm-6-1zm-2-2zm0 2zm-2 5zm-1 1zm-1-2zm-10 10zm0 2zm5-2zm0 0zm6 3zm6 0zm4-7zm0 6zm2-2zm1 3zm2-3zm1-3zm7 3zm2-3zm3 0zm1-1zm1 1zm1 0zm3 2zm1-3zm0 1zm2 0zm2 2zm1-5zm1 6zm0 3zm0-6zm0 6zm3-1zm0 1zm1-4zm2-3zm8 7zm7-5zm8 1zm1-4zm4 6zm1-7zm4 9zm-1 6zm-2-3zm-4-2zm0 1zm-1 3zm-6-4zm-1 3zm-1 1zm0 3zm-1 0zm-1-3zm-11 2zm-1-3zm-2-2zm-5 7zm-3-6zm-2 1zm-1 2zm-1 4zm0-6zm-1 2zm-3 0zm0-2zm-3 5zm-2-4zm-9-4zm-1 5zm0-2zm-3 6zm-1-7zm-7 2zm0-1zm-3-1zm-4 1zm-1-1zm-2 1zm0 4zm-6 1zm-6 8zm15-1zm2 3zm2-2zm1-4zm4 1zm3-3zm1 3zm1-1zm5-2zm2 4zm0 2zm1 0zm0-2zm0 0zm4-3zm5 1zm2 6zm2-8zm3 4zm7-2zm1 1zm0-2zm4 5zm0 1zm1-2zm1 4zm3-7zm1 4zm1-4zm2 7zm2-5zm3 4zm5-6zm2-2zm6 2zm55 5zm14 2zm23 9zm-18-1zm-10 1zm-3-5zm-2 0zm-4 4zm-1-1zm-13 0zm-54-6zm-2 1zm-2 0zm-14 1zm-1 4zm-2 0zm-1-4zm-6-2zm-14 1zm-13-1zm-1 8zm10 3zm98 2zm3 2zm0-4zm5 3zm2 5zm3-5zm4-4zm1 0zm4 6zm1-4zm0 5zm3-6zm2-1zm2 7zm2 1zm10 0zm3-2zm9 10zm-5 0zm-3 3zm-12 0zm-2-6zm-3 5zm-1 1zm-1-1zm-3-2zm0-6zm-8 4zm-2-3zm-1-1zm0 7zm-1 1zm-1-8zm-1 7zm-1-3zm-2 4zm-4-6zm-2-2zm-2 1zm-2 2zm0 1zm5 6zm1 3zm0 6zm11-8zm3 2zm3 3zm1-6zm1 5zm1 4zm5-3zm2-4zm5-2zm0 6zm1 0zm2-3zm6 3zm8-1zm-4 11zm-1-5zm-4-1zm0 2zm-1 0zm-1 2zm-4 5zm-18-7zm0 7zm-1-5zm-4 5zm-5 1zm13 0zm2 0zm16 4z"/>
<path stroke="#6e7c52" d="M421 126zm-12 6zm0 6zm-5-6zm-25 5zm-13 1zm-11 9zm3-3zm1 2zm10 1zm1-2zm13-5zm6 9zm8-7zm36 2zm10 6zm-8 3zm-1-2zm-6 4zm-14 3zm-7-5zm-1 4zm-1-3zm0 2zm-34-3zm-7-1zm-1 1zm1 13zm3-6zm5 0zm5 2zm24 1zm13 6zm4-4zm9 1zm89 10zm-2 3zm-4-7zm-17 2zm-11-4zm-68 0zm-4 4zm-9-1zm-18-1zm-5 0zm-1 0zm95 12zm50 3zm-2 9zm-2 2zm-3-2zm-5 1zm-10-1zm-10-1zm-13 6zm0 3zm4 2zm33 2zm3-6zm9 5zm-11 8zm-14-3zm-1 4zm-8 6zm3 0zm18 5z"/>
<path stroke="#3e2a92" d="M414 127zm-12 7zm-15-3zm-11 0zm20 16zm9 5zm-7 10zm105 24zm-5 12zm0-1zm22 11zm8 3z"/>
<path stroke="#151515" d="M238 246zm4 2zm121 151zm-1 0zm-2-1zm-3-4zm-1 3zm-1 0zm-6 2zm8 3zm7-1z"/>
</g>
<g fill="none" stroke="#111" stroke-width="1.8">
<rect x="92.6" y="19.0" width="179.70" height="189.60"/>
<path d="M86.3 44.79H92.6"/>
<path d="M86.3 71.31H92.6"/>
<path d="M86.3 97.83H92.6"/>
<path d="M86.3 124.35H92.6"/>
<path d="M86.3 150.87H92.6"/>
<path d="M86.3 177.39H92.6"/>
<path d="M86.3 203.91H92.6"/>
<path d="M109.08 208.6V215.10"/>
<path d="M135.93 208.6V215.10"/>
<path d="M162.78 208.6V215.10"/>
<path d="M189.63 208.6V215.10"/>
<path d="M216.48 208.6V215.10"/>
<path d="M243.33 208.6V215.10"/>
<path d="M270.18 208.6V215.10"/>
<path d="M315.1 208.65H444.9"/>
<path d="M321.9 208.6V215.00"/>
<path d="M380.0 208.6V215.00"/>
<path d="M438.1 208.6V215.00"/>
<rect x="92.6" y="264.0" width="179.70" height="189.60"/>
<path d="M86.3 270.00H92.6"/>
<path d="M86.3 307.30H92.6"/>
<path d="M86.3 344.60H92.6"/>
<path d="M86.3 381.90H92.6"/>
<path d="M86.3 419.20H92.6"/>
<path d="M96.91 453.6V460.10"/>
<path d="M138.83 453.6V460.10"/>
<path d="M180.76 453.6V460.10"/>
<path d="M222.69 453.6V460.10"/>
<path d="M264.61 453.6V460.10"/>
<path d="M315.1 453.65H444.9"/>
<path d="M321.9 453.6V460.00"/>
<path d="M380.0 453.6V460.00"/>
<path d="M438.1 453.6V460.00"/>
<rect x="92.6" y="507.3" width="179.70" height="190.00"/>
<path d="M86.3 530.72H92.6"/>
<path d="M86.3 556.57H92.6"/>
<path d="M86.3 582.42H92.6"/>
<path d="M86.3 608.27H92.6"/>
<path d="M86.3 634.12H92.6"/>
<path d="M86.3 659.97H92.6"/>
<path d="M86.3 685.82H92.6"/>
<path d="M130.49 697.3V703.80"/>
<path d="M171.75 697.3V703.80"/>
<path d="M213.01 697.3V703.80"/>
<path d="M254.27 697.3V703.80"/>
<path d="M315.1 697.35H444.9"/>
<path d="M321.9 697.3V703.70"/>
<path d="M380.0 697.3V703.70"/>
<path d="M438.1 697.3V703.70"/>
<rect x="92.6" y="751.4" width="179.70" height="189.90"/>
<path d="M86.3 777.18H92.6"/>
<path d="M86.3 803.70H92.6"/>
<path d="M86.3 830.22H92.6"/>
<path d="M86.3 856.74H92.6"/>
<path d="M86.3 883.26H92.6"/>
<path d="M86.3 909.78H92.6"/>
<path d="M86.3 936.30H92.6"/>
<path d="M108.76 941.3V947.80"/>
<path d="M135.62 941.3V947.80"/>
<path d="M162.48 941.3V947.80"/>
<path d="M189.34 941.3V947.80"/>
<path d="M216.20 941.3V947.80"/>
<path d="M243.06 941.3V947.80"/>
<path d="M269.92 941.3V947.80"/>
<path d="M315.1 941.35H444.9"/>
<path d="M321.9 941.3V947.70"/>
<path d="M380.0 941.3V947.70"/>
<path d="M438.1 941.3V947.70"/>
<rect x="92.6" y="995.2" width="179.70" height="189.70"/>
<path d="M86.3 1014.16H92.6"/>
<path d="M86.3 1055.43H92.6"/>
<path d="M86.3 1096.70H92.6"/>
<path d="M86.3 1137.97H92.6"/>
<path d="M86.3 1179.24H92.6"/>
<path d="M103.80 1184.9V1191.40"/>
<path d="M139.20 1184.9V1191.40"/>
<path d="M174.60 1184.9V1191.40"/>
<path d="M210.00 1184.9V1191.40"/>
<path d="M245.40 1184.9V1191.40"/>
<path d="M315.1 1184.95H444.9"/>
<path d="M321.9 1184.9V1191.30"/>
<path d="M380.0 1184.9V1191.30"/>
<path d="M438.1 1184.9V1191.30"/>
<rect x="92.6" y="1238.8" width="179.70" height="189.80"/>
<path d="M86.3 1247.29H92.6"/>
<path d="M86.3 1284.91H92.6"/>
<path d="M86.3 1322.54H92.6"/>
<path d="M86.3 1360.17H92.6"/>
<path d="M86.3 1397.79H92.6"/>
<path d="M98.93 1428.6V1435.10"/>
<path d="M126.50 1428.6V1435.10"/>
<path d="M154.07 1428.6V1435.10"/>
<path d="M181.64 1428.6V1435.10"/>
<path d="M209.21 1428.6V1435.10"/>
<path d="M236.78 1428.6V1435.10"/>
<path d="M264.35 1428.6V1435.10"/>
<path d="M315.1 1428.65H444.9"/>
<path d="M321.9 1428.6V1435.00"/>
<path d="M380.0 1428.6V1435.00"/>
<path d="M438.1 1428.6V1435.00"/>
</g>
<g fill="none" stroke="#111" stroke-width="1.6" stroke-linecap="square">
<path d="M321.5 55.80H438.3 M395.6 73.07H438.3 M395.6 90.34H438.3 M395.6 73.07V90.34 M341.2 81.70H395.6 M391.0 107.61H438.3 M391.0 124.88H438.3 M391.0 107.61V124.88 M371.2 116.25H391.0 M371.2 142.15H438.3 M371.2 116.25V142.15 M341.2 129.20H371.2 M341.2 81.70V129.20 M330.8 105.45H341.2 M398.8 159.42H438.3 M398.8 176.69H438.3 M398.8 159.42V176.69 M330.8 168.06H398.8 M330.8 105.45V168.06 M324.8 136.75H330.8 M324.8 193.96H438.3 M324.8 136.75V193.96 M321.5 165.36H324.8 M321.5 55.80V165.36"/>
<path d="M321.9 300.80H438.3 M388.0 318.07H438.3 M388.0 335.34H438.3 M388.0 318.07V335.34 M330.2 326.71H388.0 M367.7 352.61H438.3 M367.7 369.88H438.3 M367.7 352.61V369.88 M350.8 361.25H367.7 M350.8 387.15H438.3 M350.8 361.25V387.15 M330.2 374.20H350.8 M330.2 326.71V374.20 M322.5 350.45H330.2 M386.9 404.42H438.3 M386.9 421.69H438.3 M386.9 404.42V421.69 M323.8 413.06H386.9 M323.8 438.96H438.3 M323.8 413.06V438.96 M322.5 426.01H323.8 M322.5 350.45V426.01 M321.9 388.23H322.5 M321.9 300.80V388.23"/>
<path d="M321.5 544.10H438.3 M391.7 561.37H438.3 M391.7 578.64H438.3 M391.7 561.37V578.64 M332.7 570.00H391.7 M376.9 595.91H438.3 M376.9 613.18H438.3 M376.9 595.91V613.18 M348.5 604.55H376.9 M348.5 630.45H438.3 M348.5 604.55V630.45 M332.7 617.50H348.5 M332.7 570.00V617.50 M326.3 593.75H332.7 M388.3 647.72H438.3 M388.3 664.99H438.3 M388.3 647.72V664.99 M326.3 656.36H388.3 M326.3 593.75V656.36 M323.5 625.05H326.3 M323.5 682.26H438.3 M323.5 625.05V682.26 M321.5 653.66H323.5 M321.5 544.10V653.66"/>
<path d="M324.8 788.20H438.3 M420.4 805.47H438.3 M420.4 822.74H438.3 M420.4 805.47V822.74 M400.2 814.10H420.4 M421.2 840.01H438.3 M421.2 857.28H438.3 M421.2 840.01V857.28 M407.7 848.64H421.2 M407.7 874.55H438.3 M407.7 848.64V874.55 M400.2 861.60H407.7 M400.2 814.10V861.60 M378.7 837.85H400.2 M410.4 891.82H438.3 M410.4 909.09H438.3 M410.4 891.82V909.09 M378.7 900.45H410.4 M378.7 837.85V900.45 M372.5 869.15H378.7 M372.5 926.36H438.3 M372.5 869.15V926.36 M324.8 897.76H372.5 M324.8 788.20V897.76"/>
<path d="M347.7 1032.00H438.3 M411.8 1049.27H438.3 M411.8 1066.54H438.3 M411.8 1049.27V1066.54 M391.6 1057.90H411.8 M429.8 1083.81H438.3 M429.8 1101.08H438.3 M429.8 1083.81V1101.08 M407.7 1092.44H429.8 M425.8 1118.35H438.3 M425.8 1135.62H438.3 M425.8 1118.35V1135.62 M421.2 1126.98H425.8 M421.2 1152.89H438.3 M421.2 1126.98V1152.89 M407.7 1139.94H421.2 M407.7 1092.44V1139.94 M394.3 1116.19H407.7 M394.3 1170.16H438.3 M394.3 1116.19V1170.16 M391.6 1143.18H394.3 M391.6 1057.90V1143.18 M347.7 1100.54H391.6 M347.7 1032.00V1100.54"/>
<path d="M333.4 1275.60H438.3 M421.7 1292.87H438.3 M421.7 1310.14H438.3 M421.7 1292.87V1310.14 M408.3 1301.50H421.7 M418.5 1327.41H438.3 M418.5 1344.68H438.3 M418.5 1327.41V1344.68 M408.3 1336.04H418.5 M408.3 1301.50V1336.04 M383.2 1318.77H408.3 M415.0 1361.95H438.3 M415.0 1379.22H438.3 M415.0 1361.95V1379.22 M383.2 1370.58H415.0 M383.2 1318.77V1370.58 M380.0 1344.68H383.2 M402.4 1396.49H438.3 M402.4 1413.76H438.3 M402.4 1396.49V1413.76 M380.0 1405.12H402.4 M380.0 1344.68V1405.12 M333.4 1374.90H380.0 M333.4 1275.60V1374.90"/>
</g>
<text x="444.93" y="60.20" font-size="12.47" textLength="18.82" lengthAdjust="spacingAndGlyphs" fill="#d4c44c" stroke="#d4c44c" stroke-width="0.25">B/T</text>
<text x="445.15" y="77.47" font-size="12.47" textLength="54.14" lengthAdjust="spacingAndGlyphs" fill="#1fa0ae" stroke="#1fa0ae" stroke-width="0.25">pre–B/NK</text>
<text x="445.31" y="94.74" font-size="13.00" textLength="27.05" lengthAdjust="spacingAndGlyphs" fill="#3e3f86" stroke="#3e3f86" stroke-width="0.25">GMP</text>
<text x="445.32" y="112.01" font-size="13.00" textLength="25.93" lengthAdjust="spacingAndGlyphs" fill="#ad6c9f" stroke="#ad6c9f" stroke-width="0.25">CMP</text>
<text x="445.00" y="129.28" font-size="13.19" textLength="24.43" lengthAdjust="spacingAndGlyphs" fill="#a8383a" stroke="#a8383a" stroke-width="0.25">MEP</text>
<text x="445.02" y="146.55" font-size="12.82" textLength="23.13" lengthAdjust="spacingAndGlyphs" fill="#1e1e1e" stroke="#1e1e1e" stroke-width="0.25">HSC</text>
<text x="444.95" y="163.82" font-size="13.19" textLength="24.51" lengthAdjust="spacingAndGlyphs" fill="#1f8a4c" stroke="#1f8a4c" stroke-width="0.25">MLP</text>
<text x="444.97" y="181.09" font-size="13.19" textLength="31.78" lengthAdjust="spacingAndGlyphs" fill="#6c7b52" stroke="#6c7b52" stroke-width="0.25">LMPP</text>
<text x="444.96" y="198.36" font-size="13.19" textLength="25.49" lengthAdjust="spacingAndGlyphs" fill="#a27f36" stroke="#a27f36" stroke-width="0.25">MPP</text>
<text x="444.93" y="305.20" font-size="12.47" textLength="18.82" lengthAdjust="spacingAndGlyphs" fill="#d4c44c" stroke="#d4c44c" stroke-width="0.25">B/T</text>
<text x="445.15" y="322.47" font-size="12.47" textLength="54.14" lengthAdjust="spacingAndGlyphs" fill="#1fa0ae" stroke="#1fa0ae" stroke-width="0.25">pre–B/NK</text>
<text x="445.31" y="339.74" font-size="13.00" textLength="27.05" lengthAdjust="spacingAndGlyphs" fill="#3e3f86" stroke="#3e3f86" stroke-width="0.25">GMP</text>
<text x="445.32" y="357.01" font-size="13.00" textLength="25.93" lengthAdjust="spacingAndGlyphs" fill="#ad6c9f" stroke="#ad6c9f" stroke-width="0.25">CMP</text>
<text x="445.00" y="374.28" font-size="13.19" textLength="24.43" lengthAdjust="spacingAndGlyphs" fill="#a8383a" stroke="#a8383a" stroke-width="0.25">MEP</text>
<text x="445.02" y="391.55" font-size="12.82" textLength="23.13" lengthAdjust="spacingAndGlyphs" fill="#1e1e1e" stroke="#1e1e1e" stroke-width="0.25">HSC</text>
<text x="444.95" y="408.82" font-size="13.19" textLength="24.51" lengthAdjust="spacingAndGlyphs" fill="#1f8a4c" stroke="#1f8a4c" stroke-width="0.25">MLP</text>
<text x="444.97" y="426.09" font-size="13.19" textLength="31.78" lengthAdjust="spacingAndGlyphs" fill="#6c7b52" stroke="#6c7b52" stroke-width="0.25">LMPP</text>
<text x="444.96" y="443.36" font-size="13.19" textLength="25.49" lengthAdjust="spacingAndGlyphs" fill="#a27f36" stroke="#a27f36" stroke-width="0.25">MPP</text>
<text x="444.93" y="548.50" font-size="12.47" textLength="18.82" lengthAdjust="spacingAndGlyphs" fill="#d4c44c" stroke="#d4c44c" stroke-width="0.25">B/T</text>
<text x="445.15" y="565.77" font-size="12.47" textLength="54.14" lengthAdjust="spacingAndGlyphs" fill="#1fa0ae" stroke="#1fa0ae" stroke-width="0.25">pre–B/NK</text>
<text x="445.31" y="583.04" font-size="13.00" textLength="27.05" lengthAdjust="spacingAndGlyphs" fill="#3e3f86" stroke="#3e3f86" stroke-width="0.25">GMP</text>
<text x="445.32" y="600.31" font-size="13.00" textLength="25.93" lengthAdjust="spacingAndGlyphs" fill="#ad6c9f" stroke="#ad6c9f" stroke-width="0.25">CMP</text>
<text x="445.00" y="617.58" font-size="13.19" textLength="24.43" lengthAdjust="spacingAndGlyphs" fill="#a8383a" stroke="#a8383a" stroke-width="0.25">MEP</text>
<text x="445.02" y="634.85" font-size="12.82" textLength="23.13" lengthAdjust="spacingAndGlyphs" fill="#1e1e1e" stroke="#1e1e1e" stroke-width="0.25">HSC</text>
<text x="444.95" y="652.12" font-size="13.19" textLength="24.51" lengthAdjust="spacingAndGlyphs" fill="#1f8a4c" stroke="#1f8a4c" stroke-width="0.25">MLP</text>
<text x="444.97" y="669.39" font-size="13.19" textLength="31.78" lengthAdjust="spacingAndGlyphs" fill="#6c7b52" stroke="#6c7b52" stroke-width="0.25">LMPP</text>
<text x="444.96" y="686.66" font-size="13.19" textLength="25.49" lengthAdjust="spacingAndGlyphs" fill="#a27f36" stroke="#a27f36" stroke-width="0.25">MPP</text>
<text x="444.93" y="792.60" font-size="12.47" textLength="18.82" lengthAdjust="spacingAndGlyphs" fill="#d4c44c" stroke="#d4c44c" stroke-width="0.25">B/T</text>
<text x="445.15" y="809.87" font-size="12.47" textLength="54.14" lengthAdjust="spacingAndGlyphs" fill="#1fa0ae" stroke="#1fa0ae" stroke-width="0.25">pre–B/NK</text>
<text x="445.31" y="827.14" font-size="13.00" textLength="27.05" lengthAdjust="spacingAndGlyphs" fill="#3e3f86" stroke="#3e3f86" stroke-width="0.25">GMP</text>
<text x="445.32" y="844.41" font-size="13.00" textLength="25.93" lengthAdjust="spacingAndGlyphs" fill="#ad6c9f" stroke="#ad6c9f" stroke-width="0.25">CMP</text>
<text x="445.00" y="861.68" font-size="13.19" textLength="24.43" lengthAdjust="spacingAndGlyphs" fill="#a8383a" stroke="#a8383a" stroke-width="0.25">MEP</text>
<text x="445.02" y="878.95" font-size="12.82" textLength="23.13" lengthAdjust="spacingAndGlyphs" fill="#1e1e1e" stroke="#1e1e1e" stroke-width="0.25">HSC</text>
<text x="444.95" y="896.22" font-size="13.19" textLength="24.51" lengthAdjust="spacingAndGlyphs" fill="#1f8a4c" stroke="#1f8a4c" stroke-width="0.25">MLP</text>
<text x="444.97" y="913.49" font-size="13.19" textLength="31.78" lengthAdjust="spacingAndGlyphs" fill="#6c7b52" stroke="#6c7b52" stroke-width="0.25">LMPP</text>
<text x="444.96" y="930.76" font-size="13.19" textLength="25.49" lengthAdjust="spacingAndGlyphs" fill="#a27f36" stroke="#a27f36" stroke-width="0.25">MPP</text>
<text x="444.93" y="1036.40" font-size="12.47" textLength="18.82" lengthAdjust="spacingAndGlyphs" fill="#d4c44c" stroke="#d4c44c" stroke-width="0.25">B/T</text>
<text x="444.95" y="1053.67" font-size="13.19" textLength="24.51" lengthAdjust="spacingAndGlyphs" fill="#1f8a4c" stroke="#1f8a4c" stroke-width="0.25">MLP</text>
<text x="444.97" y="1070.94" font-size="13.19" textLength="31.78" lengthAdjust="spacingAndGlyphs" fill="#6c7b52" stroke="#6c7b52" stroke-width="0.25">LMPP</text>
<text x="445.15" y="1088.21" font-size="12.47" textLength="54.14" lengthAdjust="spacingAndGlyphs" fill="#1fa0ae" stroke="#1fa0ae" stroke-width="0.25">pre–B/NK</text>
<text x="445.31" y="1105.48" font-size="13.00" textLength="27.05" lengthAdjust="spacingAndGlyphs" fill="#3e3f86" stroke="#3e3f86" stroke-width="0.25">GMP</text>
<text x="445.32" y="1122.75" font-size="13.00" textLength="25.93" lengthAdjust="spacingAndGlyphs" fill="#ad6c9f" stroke="#ad6c9f" stroke-width="0.25">CMP</text>
<text x="445.00" y="1140.02" font-size="13.19" textLength="24.43" lengthAdjust="spacingAndGlyphs" fill="#a8383a" stroke="#a8383a" stroke-width="0.25">MEP</text>
<text x="445.02" y="1157.29" font-size="12.82" textLength="23.13" lengthAdjust="spacingAndGlyphs" fill="#1e1e1e" stroke="#1e1e1e" stroke-width="0.25">HSC</text>
<text x="444.96" y="1174.56" font-size="13.19" textLength="25.49" lengthAdjust="spacingAndGlyphs" fill="#a27f36" stroke="#a27f36" stroke-width="0.25">MPP</text>
<text x="444.93" y="1280.00" font-size="12.47" textLength="18.82" lengthAdjust="spacingAndGlyphs" fill="#d4c44c" stroke="#d4c44c" stroke-width="0.25">B/T</text>
<text x="445.15" y="1297.27" font-size="12.47" textLength="54.14" lengthAdjust="spacingAndGlyphs" fill="#1fa0ae" stroke="#1fa0ae" stroke-width="0.25">pre–B/NK</text>
<text x="445.31" y="1314.54" font-size="13.00" textLength="27.05" lengthAdjust="spacingAndGlyphs" fill="#3e3f86" stroke="#3e3f86" stroke-width="0.25">GMP</text>
<text x="445.32" y="1331.81" font-size="13.00" textLength="25.93" lengthAdjust="spacingAndGlyphs" fill="#ad6c9f" stroke="#ad6c9f" stroke-width="0.25">CMP</text>
<text x="445.02" y="1349.08" font-size="12.82" textLength="23.13" lengthAdjust="spacingAndGlyphs" fill="#1e1e1e" stroke="#1e1e1e" stroke-width="0.25">HSC</text>
<text x="444.95" y="1366.35" font-size="13.19" textLength="24.51" lengthAdjust="spacingAndGlyphs" fill="#1f8a4c" stroke="#1f8a4c" stroke-width="0.25">MLP</text>
<text x="444.97" y="1383.62" font-size="13.19" textLength="31.78" lengthAdjust="spacingAndGlyphs" fill="#6c7b52" stroke="#6c7b52" stroke-width="0.25">LMPP</text>
<text x="444.96" y="1400.89" font-size="13.19" textLength="25.49" lengthAdjust="spacingAndGlyphs" fill="#a27f36" stroke="#a27f36" stroke-width="0.25">MPP</text>
<text x="445.00" y="1418.16" font-size="13.19" textLength="24.43" lengthAdjust="spacingAndGlyphs" fill="#a8383a" stroke="#a8383a" stroke-width="0.25">MEP</text>
<text transform="translate(30.30,126.05) rotate(-90)" x="-1.33" y="0" font-size="17.95" textLength="26.87" lengthAdjust="spacingAndGlyphs" fill="#1a1a1a" stroke="#1a1a1a" stroke-width="0.25">Full</text>
<text transform="translate(56.40,139.90) rotate(-90)" x="-0.15" y="0" font-size="17.04" textLength="53.05" lengthAdjust="spacingAndGlyphs" fill="#1a1a1a" stroke="#1a1a1a" stroke-width="0.25">t-SNE 2</text>
<text x="69.17" y="49.19" font-size="12.57" textLength="13.98" lengthAdjust="spacingAndGlyphs" fill="#1a1a1a" stroke="#1a1a1a" stroke-width="0.25">30</text>
<text x="69.17" y="75.71" font-size="12.57" textLength="13.98" lengthAdjust="spacingAndGlyphs" fill="#1a1a1a" stroke="#1a1a1a" stroke-width="0.25">20</text>
<text x="69.17" y="102.23" font-size="12.57" textLength="13.98" lengthAdjust="spacingAndGlyphs" fill="#1a1a1a" stroke="#1a1a1a" stroke-width="0.25">10</text>
<text x="76.16" y="128.75" font-size="12.57" textLength="6.99" lengthAdjust="spacingAndGlyphs" fill="#1a1a1a" stroke="#1a1a1a" stroke-width="0.25">0</text>
<text x="64.98" y="155.27" font-size="12.57" textLength="18.17" lengthAdjust="spacingAndGlyphs" fill="#1a1a1a" stroke="#1a1a1a" stroke-width="0.25">-10</text>
<text x="64.98" y="181.79" font-size="12.57" textLength="18.17" lengthAdjust="spacingAndGlyphs" fill="#1a1a1a" stroke="#1a1a1a" stroke-width="0.25">-20</text>
<text x="64.98" y="208.31" font-size="12.57" textLength="18.17" lengthAdjust="spacingAndGlyphs" fill="#1a1a1a" stroke="#1a1a1a" stroke-width="0.25">-30</text>
<text x="100.18" y="230.40" font-size="12.29" textLength="17.76" lengthAdjust="spacingAndGlyphs" fill="#1a1a1a" stroke="#1a1a1a" stroke-width="0.25">-30</text>
<text x="127.03" y="230.40" font-size="12.29" textLength="17.76" lengthAdjust="spacingAndGlyphs" fill="#1a1a1a" stroke="#1a1a1a" stroke-width="0.25">-20</text>
<text x="153.88" y="230.40" font-size="12.29" textLength="17.76" lengthAdjust="spacingAndGlyphs" fill="#1a1a1a" stroke="#1a1a1a" stroke-width="0.25">-10</text>
<text x="186.25" y="230.40" font-size="12.29" textLength="6.83" lengthAdjust="spacingAndGlyphs" fill="#1a1a1a" stroke="#1a1a1a" stroke-width="0.25">0</text>
<text x="209.44" y="230.40" font-size="12.29" textLength="13.67" lengthAdjust="spacingAndGlyphs" fill="#1a1a1a" stroke="#1a1a1a" stroke-width="0.25">10</text>
<text x="236.41" y="230.40" font-size="12.29" textLength="13.67" lengthAdjust="spacingAndGlyphs" fill="#1a1a1a" stroke="#1a1a1a" stroke-width="0.25">20</text>
<text x="263.39" y="230.40" font-size="12.29" textLength="13.67" lengthAdjust="spacingAndGlyphs" fill="#1a1a1a" stroke="#1a1a1a" stroke-width="0.25">30</text>
<text x="156.25" y="251.70" font-size="17.04" textLength="51.32" lengthAdjust="spacingAndGlyphs" fill="#1a1a1a" stroke="#1a1a1a" stroke-width="0.25">t-SNE 1</text>
<text x="313.05" y="230.30" font-size="12.43" textLength="17.28" lengthAdjust="spacingAndGlyphs" fill="#1a1a1a" stroke="#1a1a1a" stroke-width="0.25">1.0</text>
<text x="371.40" y="230.30" font-size="12.43" textLength="17.28" lengthAdjust="spacingAndGlyphs" fill="#1a1a1a" stroke="#1a1a1a" stroke-width="0.25">0.5</text>
<text x="429.50" y="230.30" font-size="12.43" textLength="17.28" lengthAdjust="spacingAndGlyphs" fill="#1a1a1a" stroke="#1a1a1a" stroke-width="0.25">0.0</text>
<text x="295.21" y="251.40" font-size="18.22" textLength="168.12" lengthAdjust="spacingAndGlyphs" fill="#1a1a1a" stroke="#1a1a1a" stroke-width="0.25">Distribution difference</text>
<text transform="translate(30.30,386.35) rotate(-90)" x="-0.65" y="0" font-size="17.95" textLength="56.35" lengthAdjust="spacingAndGlyphs" fill="#1a1a1a" stroke="#1a1a1a" stroke-width="0.25">Surface</text>
<text transform="translate(56.40,384.90) rotate(-90)" x="-0.15" y="0" font-size="17.04" textLength="53.05" lengthAdjust="spacingAndGlyphs" fill="#1a1a1a" stroke="#1a1a1a" stroke-width="0.25">t-SNE 2</text>
<text x="69.17" y="274.40" font-size="12.57" textLength="13.98" lengthAdjust="spacingAndGlyphs" fill="#1a1a1a" stroke="#1a1a1a" stroke-width="0.25">40</text>
<text x="69.17" y="311.70" font-size="12.57" textLength="13.98" lengthAdjust="spacingAndGlyphs" fill="#1a1a1a" stroke="#1a1a1a" stroke-width="0.25">20</text>
<text x="76.16" y="349.00" font-size="12.57" textLength="6.99" lengthAdjust="spacingAndGlyphs" fill="#1a1a1a" stroke="#1a1a1a" stroke-width="0.25">0</text>
<text x="64.98" y="386.30" font-size="12.57" textLength="18.17" lengthAdjust="spacingAndGlyphs" fill="#1a1a1a" stroke="#1a1a1a" stroke-width="0.25">-20</text>
<text x="64.98" y="423.60" font-size="12.57" textLength="18.17" lengthAdjust="spacingAndGlyphs" fill="#1a1a1a" stroke="#1a1a1a" stroke-width="0.25">-40</text>
<text x="88.01" y="475.40" font-size="12.29" textLength="17.76" lengthAdjust="spacingAndGlyphs" fill="#1a1a1a" stroke="#1a1a1a" stroke-width="0.25">-40</text>
<text x="129.93" y="475.40" font-size="12.29" textLength="17.76" lengthAdjust="spacingAndGlyphs" fill="#1a1a1a" stroke="#1a1a1a" stroke-width="0.25">-20</text>
<text x="177.38" y="475.40" font-size="12.29" textLength="6.83" lengthAdjust="spacingAndGlyphs" fill="#1a1a1a" stroke="#1a1a1a" stroke-width="0.25">0</text>
<text x="215.77" y="475.40" font-size="12.29" textLength="13.67" lengthAdjust="spacingAndGlyphs" fill="#1a1a1a" stroke="#1a1a1a" stroke-width="0.25">20</text>
<text x="257.88" y="475.40" font-size="12.29" textLength="13.67" lengthAdjust="spacingAndGlyphs" fill="#1a1a1a" stroke="#1a1a1a" stroke-width="0.25">40</text>
<text x="156.25" y="496.70" font-size="17.04" textLength="51.32" lengthAdjust="spacingAndGlyphs" fill="#1a1a1a" stroke="#1a1a1a" stroke-width="0.25">t-SNE 1</text>
<text x="313.05" y="475.30" font-size="12.43" textLength="17.28" lengthAdjust="spacingAndGlyphs" fill="#1a1a1a" stroke="#1a1a1a" stroke-width="0.25">1.0</text>
<text x="371.40" y="475.30" font-size="12.43" textLength="17.28" lengthAdjust="spacingAndGlyphs" fill="#1a1a1a" stroke="#1a1a1a" stroke-width="0.25">0.5</text>
<text x="429.50" y="475.30" font-size="12.43" textLength="17.28" lengthAdjust="spacingAndGlyphs" fill="#1a1a1a" stroke="#1a1a1a" stroke-width="0.25">0.0</text>
<text x="295.21" y="496.40" font-size="18.22" textLength="168.12" lengthAdjust="spacingAndGlyphs" fill="#1a1a1a" stroke="#1a1a1a" stroke-width="0.25">Distribution difference</text>
<text transform="translate(30.30,651.20) rotate(-90)" x="-0.63" y="0" font-size="17.95" textLength="98.90" lengthAdjust="spacingAndGlyphs" fill="#1a1a1a" stroke="#1a1a1a" stroke-width="0.25">Surface + TFs</text>
<text transform="translate(56.40,628.40) rotate(-90)" x="-0.15" y="0" font-size="17.04" textLength="53.05" lengthAdjust="spacingAndGlyphs" fill="#1a1a1a" stroke="#1a1a1a" stroke-width="0.25">t-SNE 2</text>
<text x="69.17" y="535.12" font-size="12.57" textLength="13.98" lengthAdjust="spacingAndGlyphs" fill="#1a1a1a" stroke="#1a1a1a" stroke-width="0.25">30</text>
<text x="69.17" y="560.97" font-size="12.57" textLength="13.98" lengthAdjust="spacingAndGlyphs" fill="#1a1a1a" stroke="#1a1a1a" stroke-width="0.25">20</text>
<text x="69.17" y="586.82" font-size="12.57" textLength="13.98" lengthAdjust="spacingAndGlyphs" fill="#1a1a1a" stroke="#1a1a1a" stroke-width="0.25">10</text>
<text x="76.16" y="612.67" font-size="12.57" textLength="6.99" lengthAdjust="spacingAndGlyphs" fill="#1a1a1a" stroke="#1a1a1a" stroke-width="0.25">0</text>
<text x="64.98" y="638.52" font-size="12.57" textLength="18.17" lengthAdjust="spacingAndGlyphs" fill="#1a1a1a" stroke="#1a1a1a" stroke-width="0.25">-10</text>
<text x="64.98" y="664.37" font-size="12.57" textLength="18.17" lengthAdjust="spacingAndGlyphs" fill="#1a1a1a" stroke="#1a1a1a" stroke-width="0.25">-20</text>
<text x="64.98" y="690.22" font-size="12.57" textLength="18.17" lengthAdjust="spacingAndGlyphs" fill="#1a1a1a" stroke="#1a1a1a" stroke-width="0.25">-30</text>
<text x="121.59" y="719.10" font-size="12.29" textLength="17.76" lengthAdjust="spacingAndGlyphs" fill="#1a1a1a" stroke="#1a1a1a" stroke-width="0.25">-20</text>
<text x="168.37" y="719.10" font-size="12.29" textLength="6.83" lengthAdjust="spacingAndGlyphs" fill="#1a1a1a" stroke="#1a1a1a" stroke-width="0.25">0</text>
<text x="206.09" y="719.10" font-size="12.29" textLength="13.67" lengthAdjust="spacingAndGlyphs" fill="#1a1a1a" stroke="#1a1a1a" stroke-width="0.25">20</text>
<text x="247.54" y="719.10" font-size="12.29" textLength="13.67" lengthAdjust="spacingAndGlyphs" fill="#1a1a1a" stroke="#1a1a1a" stroke-width="0.25">40</text>
<text x="156.25" y="740.40" font-size="17.04" textLength="51.32" lengthAdjust="spacingAndGlyphs" fill="#1a1a1a" stroke="#1a1a1a" stroke-width="0.25">t-SNE 1</text>
<text x="313.05" y="719.00" font-size="12.43" textLength="17.28" lengthAdjust="spacingAndGlyphs" fill="#1a1a1a" stroke="#1a1a1a" stroke-width="0.25">1.0</text>
<text x="371.40" y="719.00" font-size="12.43" textLength="17.28" lengthAdjust="spacingAndGlyphs" fill="#1a1a1a" stroke="#1a1a1a" stroke-width="0.25">0.5</text>
<text x="429.50" y="719.00" font-size="12.43" textLength="17.28" lengthAdjust="spacingAndGlyphs" fill="#1a1a1a" stroke="#1a1a1a" stroke-width="0.25">0.0</text>
<text x="295.21" y="740.10" font-size="18.22" textLength="168.12" lengthAdjust="spacingAndGlyphs" fill="#1a1a1a" stroke="#1a1a1a" stroke-width="0.25">Distribution difference</text>
<text transform="translate(30.30,890.20) rotate(-90)" x="-1.56" y="0" font-size="17.95" textLength="89.48" lengthAdjust="spacingAndGlyphs" fill="#1a1a1a" stroke="#1a1a1a" stroke-width="0.25">Intracellular</text>
<text transform="translate(56.40,872.45) rotate(-90)" x="-0.15" y="0" font-size="17.04" textLength="53.05" lengthAdjust="spacingAndGlyphs" fill="#1a1a1a" stroke="#1a1a1a" stroke-width="0.25">t-SNE 2</text>
<text x="69.17" y="781.58" font-size="12.57" textLength="13.98" lengthAdjust="spacingAndGlyphs" fill="#1a1a1a" stroke="#1a1a1a" stroke-width="0.25">30</text>
<text x="69.17" y="808.10" font-size="12.57" textLength="13.98" lengthAdjust="spacingAndGlyphs" fill="#1a1a1a" stroke="#1a1a1a" stroke-width="0.25">20</text>
<text x="69.17" y="834.62" font-size="12.57" textLength="13.98" lengthAdjust="spacingAndGlyphs" fill="#1a1a1a" stroke="#1a1a1a" stroke-width="0.25">10</text>
<text x="76.16" y="861.14" font-size="12.57" textLength="6.99" lengthAdjust="spacingAndGlyphs" fill="#1a1a1a" stroke="#1a1a1a" stroke-width="0.25">0</text>
<text x="64.98" y="887.66" font-size="12.57" textLength="18.17" lengthAdjust="spacingAndGlyphs" fill="#1a1a1a" stroke="#1a1a1a" stroke-width="0.25">-10</text>
<text x="64.98" y="914.18" font-size="12.57" textLength="18.17" lengthAdjust="spacingAndGlyphs" fill="#1a1a1a" stroke="#1a1a1a" stroke-width="0.25">-20</text>
<text x="64.98" y="940.70" font-size="12.57" textLength="18.17" lengthAdjust="spacingAndGlyphs" fill="#1a1a1a" stroke="#1a1a1a" stroke-width="0.25">-30</text>
<text x="99.86" y="963.10" font-size="12.29" textLength="17.76" lengthAdjust="spacingAndGlyphs" fill="#1a1a1a" stroke="#1a1a1a" stroke-width="0.25">-30</text>
<text x="126.72" y="963.10" font-size="12.29" textLength="17.76" lengthAdjust="spacingAndGlyphs" fill="#1a1a1a" stroke="#1a1a1a" stroke-width="0.25">-20</text>
<text x="153.58" y="963.10" font-size="12.29" textLength="17.76" lengthAdjust="spacingAndGlyphs" fill="#1a1a1a" stroke="#1a1a1a" stroke-width="0.25">-10</text>
<text x="185.96" y="963.10" font-size="12.29" textLength="6.83" lengthAdjust="spacingAndGlyphs" fill="#1a1a1a" stroke="#1a1a1a" stroke-width="0.25">0</text>
<text x="209.16" y="963.10" font-size="12.29" textLength="13.67" lengthAdjust="spacingAndGlyphs" fill="#1a1a1a" stroke="#1a1a1a" stroke-width="0.25">10</text>
<text x="236.14" y="963.10" font-size="12.29" textLength="13.67" lengthAdjust="spacingAndGlyphs" fill="#1a1a1a" stroke="#1a1a1a" stroke-width="0.25">20</text>
<text x="263.13" y="963.10" font-size="12.29" textLength="13.67" lengthAdjust="spacingAndGlyphs" fill="#1a1a1a" stroke="#1a1a1a" stroke-width="0.25">30</text>
<text x="156.25" y="984.40" font-size="17.04" textLength="51.32" lengthAdjust="spacingAndGlyphs" fill="#1a1a1a" stroke="#1a1a1a" stroke-width="0.25">t-SNE 1</text>
<text x="313.05" y="963.00" font-size="12.43" textLength="17.28" lengthAdjust="spacingAndGlyphs" fill="#1a1a1a" stroke="#1a1a1a" stroke-width="0.25">1.0</text>
<text x="371.40" y="963.00" font-size="12.43" textLength="17.28" lengthAdjust="spacingAndGlyphs" fill="#1a1a1a" stroke="#1a1a1a" stroke-width="0.25">0.5</text>
<text x="429.50" y="963.00" font-size="12.43" textLength="17.28" lengthAdjust="spacingAndGlyphs" fill="#1a1a1a" stroke="#1a1a1a" stroke-width="0.25">0.0</text>
<text x="295.21" y="984.10" font-size="18.22" textLength="168.12" lengthAdjust="spacingAndGlyphs" fill="#1a1a1a" stroke="#1a1a1a" stroke-width="0.25">Distribution difference</text>
<text transform="translate(30.30,1102.60) rotate(-90)" x="-0.30" y="0" font-size="18.99" textLength="25.85" lengthAdjust="spacingAndGlyphs" fill="#1a1a1a" stroke="#1a1a1a" stroke-width="0.25">TFs</text>
<text transform="translate(56.40,1116.15) rotate(-90)" x="-0.15" y="0" font-size="17.04" textLength="53.05" lengthAdjust="spacingAndGlyphs" fill="#1a1a1a" stroke="#1a1a1a" stroke-width="0.25">t-SNE 2</text>
<text x="69.17" y="1018.56" font-size="12.57" textLength="13.98" lengthAdjust="spacingAndGlyphs" fill="#1a1a1a" stroke="#1a1a1a" stroke-width="0.25">40</text>
<text x="69.17" y="1059.83" font-size="12.57" textLength="13.98" lengthAdjust="spacingAndGlyphs" fill="#1a1a1a" stroke="#1a1a1a" stroke-width="0.25">20</text>
<text x="76.16" y="1101.10" font-size="12.57" textLength="6.99" lengthAdjust="spacingAndGlyphs" fill="#1a1a1a" stroke="#1a1a1a" stroke-width="0.25">0</text>
<text x="64.98" y="1142.37" font-size="12.57" textLength="18.17" lengthAdjust="spacingAndGlyphs" fill="#1a1a1a" stroke="#1a1a1a" stroke-width="0.25">-20</text>
<text x="64.98" y="1183.64" font-size="12.57" textLength="18.17" lengthAdjust="spacingAndGlyphs" fill="#1a1a1a" stroke="#1a1a1a" stroke-width="0.25">-40</text>
<text x="94.90" y="1206.70" font-size="12.29" textLength="17.76" lengthAdjust="spacingAndGlyphs" fill="#1a1a1a" stroke="#1a1a1a" stroke-width="0.25">-40</text>
<text x="130.30" y="1206.70" font-size="12.29" textLength="17.76" lengthAdjust="spacingAndGlyphs" fill="#1a1a1a" stroke="#1a1a1a" stroke-width="0.25">-20</text>
<text x="171.22" y="1206.70" font-size="12.29" textLength="6.83" lengthAdjust="spacingAndGlyphs" fill="#1a1a1a" stroke="#1a1a1a" stroke-width="0.25">0</text>
<text x="203.08" y="1206.70" font-size="12.29" textLength="13.67" lengthAdjust="spacingAndGlyphs" fill="#1a1a1a" stroke="#1a1a1a" stroke-width="0.25">20</text>
<text x="238.67" y="1206.70" font-size="12.29" textLength="13.67" lengthAdjust="spacingAndGlyphs" fill="#1a1a1a" stroke="#1a1a1a" stroke-width="0.25">40</text>
<text x="156.25" y="1228.00" font-size="17.04" textLength="51.32" lengthAdjust="spacingAndGlyphs" fill="#1a1a1a" stroke="#1a1a1a" stroke-width="0.25">t-SNE 1</text>
<text x="313.05" y="1206.60" font-size="12.43" textLength="17.28" lengthAdjust="spacingAndGlyphs" fill="#1a1a1a" stroke="#1a1a1a" stroke-width="0.25">1.0</text>
<text x="371.40" y="1206.60" font-size="12.43" textLength="17.28" lengthAdjust="spacingAndGlyphs" fill="#1a1a1a" stroke="#1a1a1a" stroke-width="0.25">0.5</text>
<text x="429.50" y="1206.60" font-size="12.43" textLength="17.28" lengthAdjust="spacingAndGlyphs" fill="#1a1a1a" stroke="#1a1a1a" stroke-width="0.25">0.0</text>
<text x="295.21" y="1227.70" font-size="18.22" textLength="168.12" lengthAdjust="spacingAndGlyphs" fill="#1a1a1a" stroke="#1a1a1a" stroke-width="0.25">Distribution difference</text>
<text transform="translate(30.30,1370.05) rotate(-90)" x="-0.69" y="0" font-size="17.95" textLength="74.35" lengthAdjust="spacingAndGlyphs" fill="#1a1a1a" stroke="#1a1a1a" stroke-width="0.25">Signalling</text>
<text transform="translate(56.40,1359.80) rotate(-90)" x="-0.15" y="0" font-size="17.04" textLength="53.05" lengthAdjust="spacingAndGlyphs" fill="#1a1a1a" stroke="#1a1a1a" stroke-width="0.25">t-SNE 2</text>
<text x="69.17" y="1251.69" font-size="12.57" textLength="13.98" lengthAdjust="spacingAndGlyphs" fill="#1a1a1a" stroke="#1a1a1a" stroke-width="0.25">40</text>
<text x="69.17" y="1289.31" font-size="12.57" textLength="13.98" lengthAdjust="spacingAndGlyphs" fill="#1a1a1a" stroke="#1a1a1a" stroke-width="0.25">20</text>
<text x="76.16" y="1326.94" font-size="12.57" textLength="6.99" lengthAdjust="spacingAndGlyphs" fill="#1a1a1a" stroke="#1a1a1a" stroke-width="0.25">0</text>
<text x="64.98" y="1364.57" font-size="12.57" textLength="18.17" lengthAdjust="spacingAndGlyphs" fill="#1a1a1a" stroke="#1a1a1a" stroke-width="0.25">-20</text>
<text x="64.98" y="1402.19" font-size="12.57" textLength="18.17" lengthAdjust="spacingAndGlyphs" fill="#1a1a1a" stroke="#1a1a1a" stroke-width="0.25">-40</text>
<text x="90.03" y="1450.40" font-size="12.29" textLength="17.76" lengthAdjust="spacingAndGlyphs" fill="#1a1a1a" stroke="#1a1a1a" stroke-width="0.25">-30</text>
<text x="117.60" y="1450.40" font-size="12.29" textLength="17.76" lengthAdjust="spacingAndGlyphs" fill="#1a1a1a" stroke="#1a1a1a" stroke-width="0.25">-20</text>
<text x="145.17" y="1450.40" font-size="12.29" textLength="17.76" lengthAdjust="spacingAndGlyphs" fill="#1a1a1a" stroke="#1a1a1a" stroke-width="0.25">-10</text>
<text x="178.26" y="1450.40" font-size="12.29" textLength="6.83" lengthAdjust="spacingAndGlyphs" fill="#1a1a1a" stroke="#1a1a1a" stroke-width="0.25">0</text>
<text x="202.17" y="1450.40" font-size="12.29" textLength="13.67" lengthAdjust="spacingAndGlyphs" fill="#1a1a1a" stroke="#1a1a1a" stroke-width="0.25">10</text>
<text x="229.86" y="1450.40" font-size="12.29" textLength="13.67" lengthAdjust="spacingAndGlyphs" fill="#1a1a1a" stroke="#1a1a1a" stroke-width="0.25">20</text>
<text x="257.56" y="1450.40" font-size="12.29" textLength="13.67" lengthAdjust="spacingAndGlyphs" fill="#1a1a1a" stroke="#1a1a1a" stroke-width="0.25">30</text>
<text x="156.25" y="1471.70" font-size="17.04" textLength="51.32" lengthAdjust="spacingAndGlyphs" fill="#1a1a1a" stroke="#1a1a1a" stroke-width="0.25">t-SNE 1</text>
<text x="313.05" y="1450.30" font-size="12.43" textLength="17.28" lengthAdjust="spacingAndGlyphs" fill="#1a1a1a" stroke="#1a1a1a" stroke-width="0.25">1.0</text>
<text x="371.40" y="1450.30" font-size="12.43" textLength="17.28" lengthAdjust="spacingAndGlyphs" fill="#1a1a1a" stroke="#1a1a1a" stroke-width="0.25">0.5</text>
<text x="429.50" y="1450.30" font-size="12.43" textLength="17.28" lengthAdjust="spacingAndGlyphs" fill="#1a1a1a" stroke="#1a1a1a" stroke-width="0.25">0.0</text>
<text x="295.21" y="1471.40" font-size="18.22" textLength="168.12" lengthAdjust="spacingAndGlyphs" fill="#1a1a1a" stroke="#1a1a1a" stroke-width="0.25">Distribution difference</text>
<text x="15.30" y="34.80" font-size="24.20" textLength="13.64" lengthAdjust="spacingAndGlyphs" fill="#1a1a1a" stroke="#1a1a1a" stroke-width="0.25">A</text>
<text x="309.36" y="35.00" font-size="23.77" textLength="13.71" lengthAdjust="spacingAndGlyphs" fill="#1a1a1a" stroke="#1a1a1a" stroke-width="0.25">B</text>
<rect x="1" y="1" width="518" height="1489" fill="none" stroke="#141414" stroke-width="2"/>
</svg></body></html>
